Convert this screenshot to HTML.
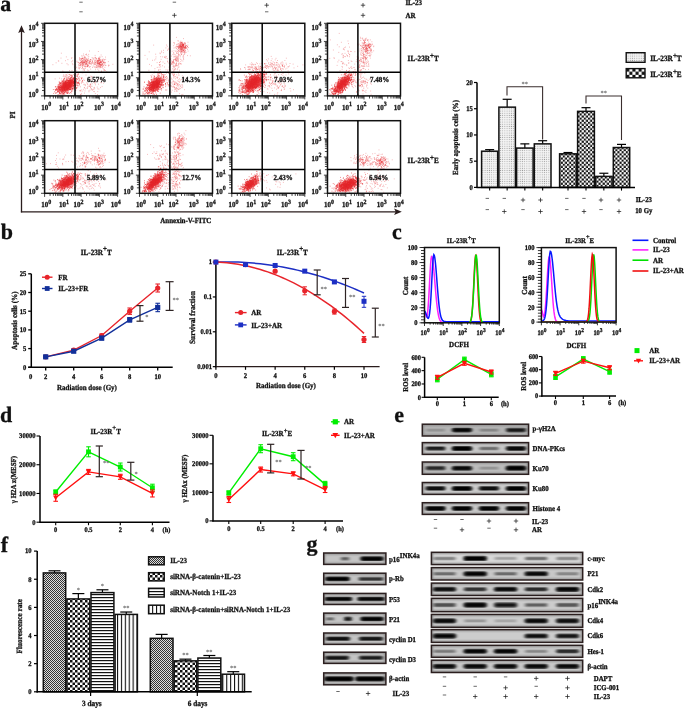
<!DOCTYPE html>
<html><head><meta charset="utf-8"><title>figure</title>
<style>html,body{margin:0;padding:0;background:#fff;} svg{display:block;will-change:transform;} svg text{font-family:"Liberation Serif",serif;font-weight:bold;stroke:#111;stroke-width:0.3px;text-rendering:geometricPrecision;}</style></head>
<body><svg width="685" height="708" viewBox="0 0 685 708">
<defs>
<filter id="bl" x="-50%" y="-50%" width="200%" height="200%"><feGaussianBlur stdDeviation="1.6"/></filter>
<filter id="bb" x="-30%" y="-80%" width="160%" height="260%"><feGaussianBlur stdDeviation="1.6 0.7"/></filter>
<filter id="bv" x="-10%" y="-50%" width="120%" height="200%"><feGaussianBlur stdDeviation="1.2"/></filter>
<pattern id="dots" width="2.2" height="2.2" patternUnits="userSpaceOnUse"><rect width="2.2" height="2.2" fill="#f4f4f4"/><rect x="0.6" y="0.6" width="0.9" height="0.9" fill="#9a9a9a"/></pattern>
<pattern id="chk" width="4.2" height="4.2" patternUnits="userSpaceOnUse"><rect width="4.2" height="4.2" fill="#fff"/><rect width="2.1" height="2.1" fill="#111"/><rect x="2.1" y="2.1" width="2.1" height="2.1" fill="#111"/></pattern>
<pattern id="chkL" x="626.2" y="68.6" width="6.2" height="6.2" patternUnits="userSpaceOnUse"><rect width="6.2" height="6.2" fill="#fff"/><rect width="3.1" height="3.1" fill="#111"/><rect x="3.1" y="3.1" width="3.1" height="3.1" fill="#111"/></pattern>
<pattern id="chk2" width="5" height="5" patternUnits="userSpaceOnUse"><rect width="5" height="5" fill="#fff"/><rect width="2.5" height="2.5" fill="#111"/><rect x="2.5" y="2.5" width="2.5" height="2.5" fill="#111"/></pattern>
<pattern id="fine" width="2" height="2" patternUnits="userSpaceOnUse"><rect width="2" height="2" fill="#ddd"/><rect width="1" height="1" fill="#333"/><rect x="1" y="1" width="1" height="1" fill="#333"/></pattern>
<pattern id="hstr" width="3" height="3" patternUnits="userSpaceOnUse"><rect width="3" height="3" fill="#fff"/><rect y="0" width="3" height="1.2" fill="#111"/></pattern>
<pattern id="vstr" width="3.9" height="3.9" patternUnits="userSpaceOnUse"><rect width="3.9" height="3.9" fill="#fff"/><rect x="0" width="1.1" height="3.9" fill="#111"/></pattern>
</defs>
<text x="0.30" y="10.60" font-size="22" text-anchor="start" fill="#111" >a</text>
<line x1="79.30" y1="2.20" x2="82.70" y2="2.20" stroke="#444" stroke-width="0.8" />
<line x1="79.30" y1="11.80" x2="82.70" y2="11.80" stroke="#444" stroke-width="0.8" />
<line x1="172.70" y1="2.20" x2="176.10" y2="2.20" stroke="#444" stroke-width="0.8" />
<line x1="172.20" y1="15.30" x2="176.60" y2="15.30" stroke="#222" stroke-width="0.75" />
<line x1="174.40" y1="13.10" x2="174.40" y2="17.50" stroke="#222" stroke-width="0.75" />
<line x1="264.50" y1="5.20" x2="268.90" y2="5.20" stroke="#222" stroke-width="0.75" />
<line x1="266.70" y1="3.00" x2="266.70" y2="7.40" stroke="#222" stroke-width="0.75" />
<line x1="265.00" y1="11.80" x2="268.40" y2="11.80" stroke="#444" stroke-width="0.8" />
<line x1="360.80" y1="5.20" x2="365.20" y2="5.20" stroke="#222" stroke-width="0.75" />
<line x1="363.00" y1="3.00" x2="363.00" y2="7.40" stroke="#222" stroke-width="0.75" />
<line x1="360.80" y1="15.30" x2="365.20" y2="15.30" stroke="#222" stroke-width="0.75" />
<line x1="363.00" y1="13.10" x2="363.00" y2="17.50" stroke="#222" stroke-width="0.75" />
<text x="405.40" y="5.40" font-size="7.700000000000001" text-anchor="start" fill="#111"  textLength="16.72" lengthAdjust="spacingAndGlyphs">IL-23</text>
<text x="405.40" y="17.90" font-size="7.700000000000001" text-anchor="start" fill="#111"  textLength="10.11" lengthAdjust="spacingAndGlyphs">AR</text>
<ellipse cx="67.5" cy="85.8" rx="7.5" ry="3.2" transform="rotate(-35 67.5 85.8)" fill="#e3201f" opacity="0.9" filter="url(#bl)"/>
<path d="M67.5 86.7h.01M64.2 84.8h.01M63.1 85.2h.01M69.5 89.0h.01M63.5 86.2h.01M70.0 85.2h.01M66.0 83.4h.01M68.0 87.8h.01M59.6 89.5h.01M55.5 89.5h.01M57.6 91.8h.01M61.2 91.0h.01M67.5 85.0h.01M53.7 93.4h.01M67.0 86.4h.01M58.7 90.1h.01M60.8 87.4h.01M70.9 80.4h.01M68.3 88.2h.01M63.9 87.7h.01M67.6 85.8h.01M61.1 90.4h.01M71.1 77.6h.01M71.4 83.3h.01M67.2 93.0h.01M68.8 80.5h.01M68.3 87.1h.01M67.2 88.3h.01M67.8 87.8h.01M72.9 79.4h.01M67.2 84.2h.01M65.7 82.7h.01M63.8 87.5h.01M73.3 85.6h.01M59.2 88.7h.01M66.9 79.0h.01M64.6 87.4h.01M74.3 83.3h.01M64.8 86.3h.01M68.3 90.5h.01M64.4 86.8h.01M68.5 84.5h.01M64.2 84.0h.01M66.2 85.0h.01M73.8 83.5h.01M68.0 87.7h.01M67.1 89.7h.01M67.9 87.4h.01M61.2 91.3h.01M55.3 87.0h.01M64.0 84.9h.01M71.5 90.8h.01M61.9 87.4h.01M68.8 86.5h.01M65.8 86.1h.01M71.3 84.8h.01M61.8 89.4h.01M65.4 83.4h.01M66.8 83.1h.01M72.1 83.1h.01M66.5 84.3h.01M63.1 81.7h.01M62.0 90.8h.01M59.7 93.8h.01M64.1 90.8h.01M65.1 81.9h.01M75.5 85.1h.01M66.2 85.6h.01M64.6 84.2h.01M71.5 80.9h.01M65.4 84.3h.01M61.8 85.1h.01M72.9 81.3h.01M71.8 82.7h.01M63.0 87.6h.01M64.3 87.9h.01M64.7 86.6h.01M58.9 88.8h.01M74.0 78.7h.01M62.4 90.4h.01M71.5 77.7h.01M64.9 85.2h.01M59.6 93.8h.01M67.0 86.3h.01M64.1 89.7h.01M64.1 87.5h.01M59.5 86.9h.01M72.7 80.2h.01M68.4 84.9h.01M64.0 86.3h.01M69.6 83.1h.01M66.3 86.6h.01M73.9 83.6h.01M67.9 83.3h.01M61.8 93.0h.01M71.5 82.3h.01M71.0 86.0h.01M72.6 85.3h.01M67.3 91.2h.01M62.3 92.3h.01M70.9 86.4h.01M78.7 83.1h.01M58.6 85.9h.01M69.3 80.8h.01M68.3 88.0h.01M55.4 86.6h.01M68.3 85.2h.01M65.9 86.9h.01M60.3 85.4h.01M64.6 84.3h.01M59.8 92.9h.01M67.4 87.2h.01M61.0 87.8h.01M60.6 87.3h.01M66.7 83.5h.01M69.3 85.6h.01M74.6 75.7h.01M71.2 82.7h.01M64.5 82.6h.01M66.0 89.3h.01M66.7 86.5h.01M67.5 89.7h.01M63.2 80.8h.01M60.3 83.7h.01M73.6 81.5h.01M59.7 87.8h.01M72.8 82.5h.01M67.1 85.7h.01M68.5 87.8h.01M70.1 84.6h.01M62.7 90.8h.01M65.5 91.0h.01M60.5 90.0h.01M64.8 82.9h.01M77.9 83.5h.01M66.0 89.4h.01M64.5 78.5h.01M68.1 85.0h.01M65.6 83.2h.01M65.4 86.5h.01M73.4 82.7h.01M69.5 89.7h.01M63.6 87.0h.01M73.3 84.9h.01M70.5 84.0h.01M67.6 84.7h.01M66.1 86.8h.01M75.4 82.1h.01M65.7 84.8h.01M66.5 92.0h.01M69.6 84.4h.01M63.5 84.6h.01M68.1 88.3h.01M64.7 86.8h.01M66.1 87.0h.01M58.8 90.9h.01M64.3 91.0h.01M64.2 90.0h.01M74.0 80.0h.01M64.4 88.5h.01M65.3 83.6h.01M72.6 89.2h.01M65.4 86.4h.01M62.4 90.4h.01M59.0 87.7h.01M71.8 79.4h.01M74.9 85.9h.01M69.2 86.4h.01M76.3 78.8h.01M61.8 84.8h.01M69.7 89.4h.01M70.1 80.5h.01M62.0 87.7h.01M68.1 84.5h.01M68.5 86.0h.01M65.5 86.9h.01M67.9 85.1h.01M72.6 88.7h.01M70.0 84.1h.01M59.4 92.7h.01M55.1 89.4h.01M72.4 84.7h.01M63.4 82.5h.01M64.0 85.7h.01M73.9 89.2h.01M66.8 83.4h.01M61.2 89.9h.01M64.2 83.9h.01M65.7 82.9h.01M74.2 84.7h.01M71.5 81.1h.01M69.3 83.9h.01M64.5 86.5h.01M58.2 87.0h.01M70.6 82.8h.01M69.7 87.6h.01M57.2 90.1h.01M68.5 86.3h.01M66.9 89.7h.01M66.0 82.4h.01M63.8 91.1h.01M66.1 79.9h.01M74.6 82.8h.01M73.0 80.5h.01M63.7 84.3h.01M79.2 76.9h.01M73.7 79.0h.01M65.0 81.5h.01M66.8 89.7h.01M62.6 92.9h.01M66.9 82.4h.01M63.8 86.6h.01M65.9 84.9h.01M62.4 88.1h.01M59.8 86.5h.01M68.2 88.3h.01M59.5 91.3h.01M62.2 85.9h.01M70.3 81.8h.01M73.1 79.0h.01M68.5 84.1h.01M64.3 90.0h.01M67.2 88.0h.01M65.0 83.6h.01M66.6 86.5h.01M70.2 80.5h.01M63.9 82.0h.01M68.4 81.2h.01M58.0 92.1h.01M69.9 78.6h.01M60.4 88.0h.01M62.1 90.8h.01M61.8 87.1h.01M68.6 82.2h.01M67.5 82.2h.01M58.0 85.8h.01M75.6 78.8h.01M68.1 85.1h.01M67.9 85.6h.01M74.7 77.0h.01M57.7 89.0h.01M61.7 92.4h.01M69.4 80.9h.01M59.6 89.9h.01M69.1 74.5h.01M67.8 81.6h.01M70.3 79.9h.01M63.1 83.4h.01M64.5 92.7h.01M70.4 82.2h.01M59.6 84.5h.01M65.0 87.3h.01M66.4 86.1h.01M61.4 89.7h.01M69.0 89.2h.01M75.9 79.3h.01M63.1 88.5h.01M62.8 86.3h.01M65.0 83.7h.01M69.8 83.7h.01M67.9 84.7h.01M61.8 86.3h.01M64.9 85.5h.01M68.1 85.2h.01M60.4 90.8h.01M59.4 89.2h.01M62.1 82.1h.01M67.7 86.0h.01M65.5 85.5h.01M63.5 85.0h.01M64.8 85.6h.01M65.4 82.8h.01M68.4 85.5h.01M65.6 85.4h.01M66.9 80.1h.01M69.7 85.0h.01M69.0 85.9h.01M63.4 87.6h.01M70.8 84.8h.01M65.5 81.7h.01M71.6 86.9h.01M72.4 83.1h.01M60.9 93.6h.01M62.1 80.5h.01M66.4 81.2h.01M59.6 89.0h.01M72.6 80.7h.01M71.2 89.2h.01M74.7 80.3h.01M63.7 83.8h.01M64.3 89.4h.01M69.1 84.9h.01M70.6 80.7h.01M67.9 87.9h.01M71.7 86.5h.01M68.4 83.9h.01M67.1 82.4h.01M59.9 93.0h.01M67.2 86.9h.01M58.0 91.0h.01M62.6 86.0h.01M55.4 93.0h.01M72.0 83.8h.01M64.0 88.0h.01M66.1 76.8h.01M67.3 87.7h.01M73.2 87.7h.01M73.1 82.8h.01M69.8 86.8h.01M64.3 87.8h.01M74.7 87.5h.01M66.1 86.4h.01M70.2 88.5h.01M69.3 89.6h.01M61.9 88.9h.01M67.3 88.6h.01M69.6 78.8h.01M63.1 89.9h.01M61.2 84.7h.01M72.9 83.6h.01M68.6 83.2h.01M71.7 81.9h.01M70.9 80.1h.01M63.1 89.4h.01M64.7 90.0h.01M66.7 82.9h.01M66.8 84.9h.01M70.4 81.3h.01M66.9 90.4h.01M81.3 83.0h.01M67.7 86.3h.01M74.3 80.4h.01M62.4 89.6h.01M67.8 82.5h.01M56.5 88.3h.01M69.0 81.9h.01M66.7 87.0h.01M69.5 83.1h.01M68.0 82.2h.01M63.5 84.8h.01M72.5 82.0h.01M62.8 87.7h.01M67.1 88.4h.01M57.4 89.0h.01M69.4 93.3h.01M71.5 82.4h.01M73.9 88.4h.01M65.2 85.9h.01M73.8 83.0h.01M69.5 82.5h.01M79.3 83.4h.01M70.9 85.7h.01M58.1 94.5h.01M66.8 87.7h.01M69.8 82.8h.01M59.3 92.7h.01M62.8 87.8h.01M63.5 87.3h.01M70.1 87.8h.01M76.8 79.2h.01M56.7 90.1h.01M60.2 89.0h.01M64.1 81.0h.01M66.2 81.2h.01M68.3 84.7h.01M65.3 86.9h.01M63.3 86.4h.01M58.7 91.7h.01M79.4 84.4h.01M74.7 83.1h.01M66.1 91.8h.01M66.6 86.0h.01M65.7 87.2h.01M64.7 87.3h.01M61.0 88.8h.01M78.1 78.0h.01M66.7 88.1h.01M68.6 80.9h.01M67.5 88.9h.01M68.5 85.4h.01M73.5 79.0h.01M66.5 84.5h.01M71.1 76.2h.01M62.8 87.0h.01M71.3 85.2h.01M71.2 77.5h.01M70.2 82.7h.01M64.6 89.6h.01M59.0 84.2h.01M62.7 83.7h.01M64.4 89.1h.01M71.2 88.7h.01M63.5 83.0h.01M61.8 86.4h.01M61.7 91.2h.01M60.5 83.5h.01M70.2 83.3h.01M68.9 85.0h.01M70.2 83.9h.01M73.8 82.8h.01M69.6 85.6h.01M59.6 90.6h.01M66.1 87.4h.01M63.0 94.6h.01M65.5 82.8h.01M58.1 91.2h.01M65.4 84.6h.01M66.4 84.2h.01M68.5 82.4h.01M68.4 88.5h.01M78.0 74.8h.01M63.3 85.6h.01M68.9 80.6h.01M64.6 87.6h.01M60.6 87.1h.01M61.2 82.6h.01M59.2 90.0h.01M67.4 85.0h.01M57.5 91.0h.01M71.8 84.6h.01M65.1 84.2h.01M69.1 82.5h.01M59.9 88.1h.01M74.5 81.5h.01M71.9 80.9h.01M70.6 81.3h.01M70.4 92.4h.01M69.9 82.2h.01M67.1 87.1h.01M72.1 80.7h.01M58.0 91.3h.01M67.3 86.2h.01M74.0 82.2h.01M69.2 80.6h.01M74.8 88.0h.01M71.2 83.9h.01M70.7 89.7h.01M62.3 88.9h.01M70.5 86.2h.01M65.4 88.2h.01M65.8 87.2h.01M64.5 83.7h.01M68.4 88.2h.01M61.8 88.8h.01M68.5 81.2h.01M66.1 82.9h.01M76.4 87.6h.01M76.6 78.5h.01M70.8 83.7h.01M70.1 89.3h.01M62.3 93.0h.01M69.1 89.5h.01M66.8 83.8h.01M69.6 86.8h.01M68.0 87.0h.01M60.9 82.7h.01M72.6 84.6h.01M67.8 85.7h.01M71.3 81.3h.01M63.2 88.0h.01M70.5 78.6h.01M71.8 80.4h.01M63.7 92.8h.01M64.4 83.2h.01M66.8 89.4h.01M72.1 80.9h.01M70.2 86.3h.01M64.4 89.1h.01M66.0 84.8h.01M64.7 87.9h.01M66.2 84.6h.01M66.8 90.1h.01M69.5 87.4h.01M73.9 83.3h.01M76.8 76.2h.01M70.4 82.5h.01M78.9 83.7h.01M55.8 90.4h.01M71.6 85.6h.01M70.5 83.3h.01M70.3 86.0h.01M68.3 88.7h.01M63.5 91.8h.01M64.4 84.7h.01M67.3 82.5h.01M59.9 85.4h.01M67.7 87.3h.01M71.8 82.1h.01M72.2 82.4h.01M67.5 87.7h.01M71.6 81.5h.01M65.5 86.5h.01M65.9 83.6h.01M71.4 81.5h.01M67.9 82.4h.01M69.4 85.7h.01M68.3 92.2h.01M71.8 88.9h.01M70.6 81.1h.01M65.8 88.4h.01M67.4 85.9h.01M62.6 82.7h.01M62.2 81.5h.01M67.6 83.0h.01M63.1 87.9h.01M66.0 81.7h.01M56.6 89.5h.01M55.4 90.7h.01M73.1 78.0h.01M67.9 80.5h.01M67.9 84.2h.01M67.7 87.6h.01M76.0 80.4h.01M66.0 83.3h.01M69.5 83.4h.01M71.0 83.0h.01M72.3 75.3h.01M67.0 89.1h.01M64.0 85.3h.01M63.4 83.6h.01M71.6 91.4h.01M70.8 79.4h.01M62.0 88.0h.01M70.6 80.6h.01M65.1 90.5h.01M70.6 82.1h.01M58.9 86.2h.01M59.9 83.1h.01M69.6 81.9h.01M72.5 88.8h.01M70.9 79.2h.01M73.2 85.8h.01M61.7 86.3h.01M63.8 82.6h.01M70.2 75.2h.01M61.1 89.2h.01M66.2 87.2h.01M68.0 84.6h.01M69.0 77.0h.01M65.8 84.3h.01M68.0 86.1h.01M61.5 87.6h.01M71.5 84.1h.01M67.0 93.2h.01M75.9 74.6h.01M72.7 90.9h.01M71.2 83.8h.01M65.1 85.4h.01M65.0 85.4h.01M70.0 82.5h.01M62.8 84.7h.01M65.3 84.0h.01M67.8 89.1h.01M69.6 85.9h.01M68.8 84.9h.01M65.9 85.7h.01M68.9 80.8h.01M73.6 81.5h.01M62.5 87.4h.01M63.9 88.7h.01M65.4 91.2h.01M59.4 83.3h.01M60.1 83.7h.01M68.6 88.7h.01M68.0 80.6h.01M66.2 92.8h.01M68.6 84.9h.01M76.3 88.2h.01M73.6 81.9h.01M69.8 86.2h.01M62.2 85.6h.01M65.7 83.6h.01M66.9 86.4h.01M77.1 75.9h.01M66.1 86.0h.01M70.9 87.0h.01M63.2 85.7h.01M57.4 89.4h.01M69.7 84.3h.01M61.4 88.6h.01M68.0 87.1h.01M63.7 87.4h.01M56.1 89.5h.01M71.3 75.2h.01M65.7 87.7h.01M63.8 85.4h.01M66.7 86.2h.01M63.5 81.8h.01M64.9 84.5h.01M64.7 88.4h.01M71.6 85.9h.01M66.1 89.9h.01M74.7 84.7h.01M73.6 80.9h.01M67.5 88.6h.01M60.6 91.2h.01M63.8 86.9h.01M57.0 89.9h.01M68.4 88.2h.01M71.7 82.4h.01M64.7 84.7h.01M68.6 84.0h.01M72.9 88.1h.01M64.4 82.6h.01M60.3 85.5h.01M63.3 93.2h.01M65.6 81.6h.01M72.3 86.7h.01M64.1 85.6h.01M65.8 87.8h.01M72.1 86.6h.01M74.9 84.6h.01M74.8 82.9h.01M59.3 91.0h.01M67.9 84.0h.01M70.9 82.0h.01M64.9 92.6h.01M70.6 84.2h.01M73.3 85.3h.01M64.6 79.0h.01M62.9 87.2h.01M62.5 89.9h.01M72.1 80.7h.01M64.8 94.7h.01M62.7 84.6h.01M68.9 86.2h.01M64.8 90.3h.01M63.1 85.5h.01M69.2 87.2h.01M64.4 89.0h.01M71.2 93.0h.01M65.8 91.7h.01M66.5 85.9h.01M72.0 85.6h.01M73.8 82.4h.01M63.2 86.8h.01M70.5 85.6h.01M74.6 82.2h.01M74.7 86.0h.01M65.3 81.9h.01M58.8 86.6h.01M73.4 78.5h.01M74.0 83.2h.01M77.1 82.5h.01M66.2 85.9h.01M67.7 86.1h.01M64.3 87.7h.01M72.1 76.4h.01M66.8 83.0h.01M69.3 87.4h.01M68.0 88.0h.01M61.0 94.1h.01M65.1 89.6h.01M63.6 79.2h.01M63.7 89.1h.01M75.1 81.3h.01M65.9 81.8h.01M77.0 85.4h.01M66.8 85.4h.01M60.5 93.7h.01M81.5 78.4h.01M74.1 82.9h.01M64.4 92.6h.01M60.6 89.7h.01M69.8 87.1h.01M69.7 85.5h.01M61.1 85.6h.01M66.1 84.1h.01M58.5 87.5h.01M61.5 83.3h.01M57.7 86.8h.01M68.6 86.3h.01M74.4 75.5h.01M65.2 90.5h.01M65.4 86.0h.01M74.8 79.3h.01M59.1 86.9h.01M69.2 85.6h.01M58.6 88.4h.01M70.6 85.5h.01M64.9 89.7h.01M66.8 79.8h.01M66.2 88.1h.01M60.6 82.9h.01M66.9 88.8h.01M71.1 75.4h.01M78.0 74.3h.01M73.8 85.6h.01M72.1 83.0h.01M62.3 91.5h.01M59.3 82.5h.01M82.1 77.9h.01M74.4 77.6h.01M76.9 84.7h.01M74.6 80.6h.01M60.8 89.7h.01M53.3 89.5h.01M65.8 83.3h.01M66.0 86.3h.01M78.6 82.4h.01M68.8 89.0h.01M62.6 87.9h.01M69.4 79.9h.01M63.4 83.8h.01M70.3 89.5h.01M63.7 89.1h.01M60.7 86.4h.01M63.3 93.7h.01M79.4 79.0h.01M64.7 90.1h.01M66.7 89.1h.01M68.9 85.7h.01M69.0 82.5h.01M62.1 83.3h.01M62.5 84.1h.01M64.7 84.2h.01M68.3 86.7h.01M58.7 89.0h.01M63.6 91.0h.01M76.8 82.2h.01M67.7 90.7h.01M62.1 94.8h.01M59.2 81.7h.01M82.7 80.6h.01M62.2 90.0h.01M66.1 87.0h.01M58.6 89.5h.01M69.7 84.9h.01M73.0 82.1h.01M77.4 76.2h.01M65.1 80.6h.01M63.1 93.5h.01M63.2 90.5h.01M65.0 83.7h.01M64.4 86.0h.01M65.9 89.5h.01M69.2 82.4h.01M63.0 89.8h.01M68.2 88.8h.01M81.5 78.9h.01M66.5 85.7h.01M61.3 86.8h.01M61.4 88.5h.01M66.1 89.2h.01M64.7 86.9h.01M63.7 94.1h.01M72.5 88.5h.01M73.4 86.8h.01M67.0 88.6h.01M78.3 73.8h.01M75.6 86.0h.01M70.3 86.4h.01M72.2 80.0h.01M67.6 82.5h.01M62.6 86.9h.01M66.5 86.9h.01M66.9 81.0h.01M78.9 81.8h.01M70.0 82.6h.01M67.5 87.6h.01M66.2 80.5h.01M75.7 90.5h.01M68.7 84.4h.01M71.9 78.3h.01M70.3 89.0h.01M65.3 85.7h.01M66.8 84.5h.01M73.3 78.3h.01M69.3 79.9h.01M70.2 83.4h.01M60.8 88.7h.01M72.9 77.8h.01M64.1 93.3h.01M70.2 89.4h.01M67.1 82.7h.01M68.8 89.2h.01M71.8 82.7h.01M67.1 85.6h.01M67.4 92.8h.01M65.1 83.2h.01M65.8 89.5h.01M70.0 83.4h.01M63.7 88.4h.01M56.3 88.7h.01M70.2 82.0h.01M71.0 87.6h.01M70.3 83.8h.01M78.9 80.1h.01M66.5 89.0h.01M67.6 82.5h.01M67.1 85.3h.01M56.8 92.5h.01M64.8 85.9h.01M58.1 91.0h.01M67.0 86.4h.01M62.3 91.6h.01M60.5 89.8h.01M72.4 79.7h.01M66.3 90.4h.01M64.6 86.6h.01M69.9 87.8h.01M54.5 91.8h.01M60.1 86.9h.01M61.3 87.0h.01M67.0 82.8h.01M68.3 86.5h.01M63.5 88.9h.01M75.8 81.0h.01M63.7 88.1h.01M62.9 89.9h.01M69.9 81.0h.01M67.8 89.4h.01M64.8 88.2h.01M60.5 87.6h.01M68.0 93.0h.01M64.1 86.1h.01M64.0 87.5h.01M70.5 84.2h.01M77.5 79.4h.01M74.6 81.7h.01M67.6 80.5h.01M66.3 86.3h.01M62.2 81.7h.01M70.7 82.0h.01M64.4 86.9h.01M66.6 87.8h.01M59.2 88.2h.01M68.7 85.3h.01M64.2 85.9h.01M62.8 88.7h.01M71.0 79.4h.01M75.9 82.8h.01M66.1 89.4h.01M56.9 86.9h.01M60.0 89.5h.01M64.5 85.9h.01M63.9 80.6h.01M67.1 80.9h.01M63.1 87.3h.01M59.0 86.7h.01M62.0 89.4h.01M70.8 85.3h.01M60.8 87.5h.01M63.2 90.2h.01M63.3 85.8h.01M70.4 87.3h.01M70.4 87.3h.01M69.7 88.5h.01M73.0 81.5h.01M74.3 81.4h.01M65.9 83.5h.01M66.9 88.8h.01M61.6 92.1h.01M69.2 85.5h.01M56.0 93.3h.01M68.9 82.0h.01M63.5 80.0h.01M69.2 82.1h.01M68.2 78.6h.01M70.0 83.1h.01M69.4 81.0h.01M67.7 93.5h.01M61.7 87.2h.01M63.9 84.5h.01M75.7 86.0h.01M60.7 84.3h.01M74.6 84.6h.01M73.0 85.9h.01M62.5 88.6h.01M57.8 87.4h.01M70.7 81.0h.01M78.3 78.3h.01M65.2 90.1h.01M76.7 81.0h.01M61.6 91.1h.01M72.9 80.1h.01M64.9 91.1h.01M65.9 82.9h.01M63.9 85.5h.01M68.6 85.2h.01M73.8 83.7h.01M60.0 92.3h.01M72.2 84.0h.01M71.1 81.1h.01M63.9 91.5h.01M58.2 84.5h.01M70.8 80.8h.01M63.2 83.7h.01M58.6 87.8h.01M65.8 88.1h.01M59.4 87.5h.01" stroke="#e4262b" stroke-width="0.9" stroke-linecap="round" fill="none" opacity="0.7"/>
<path d="M86.4 62.3h.01M78.6 68.0h.01M81.0 63.2h.01M84.7 66.7h.01M82.4 65.5h.01M81.4 65.9h.01M81.3 61.4h.01M90.6 63.5h.01M84.4 69.2h.01M85.3 60.1h.01M86.6 59.0h.01M87.9 66.1h.01M82.0 60.6h.01M84.6 62.5h.01M80.6 64.2h.01M76.9 61.2h.01M82.6 61.7h.01M85.1 58.8h.01M86.1 62.0h.01M81.7 58.4h.01M79.9 63.6h.01M80.6 62.7h.01M87.7 65.6h.01M89.5 61.6h.01M80.2 65.6h.01M85.1 65.9h.01M84.0 66.1h.01M87.0 64.6h.01M85.8 63.7h.01M84.8 63.2h.01M87.5 61.0h.01M90.1 62.2h.01M87.4 62.2h.01M83.1 68.6h.01M82.9 58.7h.01M81.5 61.5h.01M91.5 63.1h.01M87.3 59.5h.01M85.2 64.5h.01M90.3 60.4h.01M86.1 63.4h.01M80.4 62.4h.01M83.1 55.5h.01M86.1 64.1h.01M82.5 58.5h.01M89.2 63.3h.01M87.6 66.7h.01M82.2 64.9h.01M83.2 62.3h.01M83.7 62.5h.01M87.9 62.9h.01M83.5 61.7h.01M85.2 59.8h.01M82.2 62.3h.01M82.0 62.1h.01M81.9 68.5h.01M88.7 63.8h.01M83.8 69.1h.01M85.1 62.2h.01M85.1 63.4h.01M88.9 62.4h.01M91.3 59.9h.01M86.4 59.5h.01M90.4 61.5h.01M83.8 65.3h.01M88.4 59.2h.01M82.8 58.3h.01M84.5 62.2h.01M82.8 60.4h.01M82.6 60.3h.01M85.9 67.0h.01M77.2 62.2h.01M82.5 64.0h.01M80.7 62.1h.01M80.4 64.6h.01M84.3 62.0h.01M85.3 61.8h.01M78.6 64.3h.01M85.0 62.0h.01M87.4 66.2h.01M80.2 60.2h.01M89.4 66.8h.01M81.4 59.0h.01M81.8 61.0h.01M78.5 62.6h.01M79.5 58.9h.01M87.2 60.5h.01M83.7 64.4h.01M86.8 61.5h.01M84.2 60.0h.01M90.1 64.4h.01M80.1 62.5h.01M86.5 63.9h.01M90.4 66.6h.01M82.1 62.2h.01M79.5 63.2h.01M84.5 70.6h.01M84.3 56.2h.01M81.6 62.8h.01M79.6 59.9h.01M82.7 63.5h.01M83.4 59.8h.01M86.8 60.9h.01M82.3 58.4h.01M81.2 64.5h.01M78.3 62.3h.01M86.5 61.4h.01M84.8 59.1h.01M88.6 65.8h.01M84.8 57.2h.01M80.3 65.4h.01M90.0 63.4h.01M88.4 60.7h.01M83.3 62.5h.01M85.5 57.9h.01M87.3 66.5h.01M80.0 58.4h.01M85.2 60.5h.01M75.7 64.9h.01M84.5 61.1h.01M91.4 62.9h.01M81.4 62.8h.01M80.4 60.2h.01M85.4 60.8h.01M82.4 67.5h.01M87.0 64.9h.01M85.9 64.0h.01M89.1 62.4h.01M90.5 59.6h.01M83.1 58.4h.01M82.8 64.1h.01M89.1 60.5h.01M84.0 61.4h.01M81.4 58.9h.01M84.2 57.3h.01M84.4 62.6h.01M81.7 59.5h.01M79.2 68.1h.01M79.3 67.2h.01M86.1 61.4h.01M80.0 65.6h.01M90.1 59.7h.01M83.0 65.7h.01M85.2 68.5h.01M82.0 64.1h.01M79.6 68.8h.01M81.4 55.9h.01M83.6 62.1h.01M90.7 61.5h.01M84.0 64.3h.01M89.6 62.3h.01M87.6 64.1h.01M83.0 62.7h.01M84.1 59.8h.01M88.2 58.3h.01M88.1 65.4h.01M83.7 60.2h.01M83.2 63.9h.01M86.6 63.4h.01M87.5 60.8h.01M84.8 57.8h.01M86.7 63.0h.01M82.5 66.0h.01M86.4 54.1h.01M84.1 58.1h.01M87.7 70.0h.01M82.2 62.7h.01M83.1 63.6h.01M86.3 66.4h.01M80.5 67.2h.01M97.2 64.1h.01M103.5 65.5h.01M97.2 61.0h.01M98.6 63.0h.01M103.4 59.1h.01M101.4 65.2h.01M101.7 64.7h.01M104.6 64.8h.01M102.6 65.0h.01M105.4 57.1h.01M103.8 62.4h.01M99.2 60.1h.01M94.4 62.0h.01M97.9 64.8h.01M95.6 67.8h.01M100.8 62.4h.01M97.9 60.7h.01M96.6 61.5h.01M100.0 62.6h.01M95.8 62.3h.01M97.3 63.7h.01M105.6 65.2h.01M99.1 58.0h.01M95.8 57.8h.01M102.2 60.8h.01M100.2 61.2h.01M100.3 67.7h.01M97.9 62.1h.01M97.6 66.0h.01M96.9 59.6h.01M95.8 58.7h.01M101.4 71.4h.01M97.0 66.2h.01M100.8 59.7h.01M99.2 62.5h.01M97.9 69.4h.01M94.3 64.4h.01M101.0 61.3h.01M100.4 66.0h.01M100.5 64.5h.01M102.1 56.7h.01M104.4 70.5h.01M102.9 66.4h.01M95.8 62.8h.01M97.6 61.3h.01M102.9 60.6h.01M99.6 57.1h.01M99.5 63.5h.01M97.9 60.9h.01M105.7 59.3h.01M96.8 60.6h.01M103.6 69.9h.01M101.0 60.9h.01M98.7 66.6h.01M97.3 67.8h.01M104.2 63.4h.01M101.9 65.6h.01M104.7 59.8h.01M103.5 62.0h.01M97.7 63.5h.01M99.4 60.0h.01M95.2 60.2h.01M104.4 69.5h.01M102.0 67.0h.01M98.4 63.0h.01M100.8 59.7h.01M97.0 63.5h.01M99.0 59.8h.01M101.2 62.4h.01M103.1 63.2h.01M99.1 63.6h.01M99.5 61.1h.01M98.8 65.6h.01M101.9 67.3h.01M94.9 61.9h.01M98.8 63.7h.01M98.6 61.6h.01M102.3 63.8h.01M96.5 67.5h.01M103.0 61.4h.01M102.5 60.8h.01M103.4 62.5h.01M97.6 62.0h.01M97.7 63.8h.01M100.5 63.3h.01M98.3 51.5h.01M100.3 57.1h.01M100.7 66.8h.01M100.8 62.0h.01M99.5 62.8h.01M98.4 61.3h.01M97.2 67.0h.01M100.0 66.3h.01M99.2 63.4h.01M99.5 64.7h.01M102.5 64.0h.01M98.0 60.7h.01M105.0 62.3h.01M99.1 67.9h.01M103.3 64.9h.01M98.8 70.7h.01M101.2 65.0h.01M99.5 58.7h.01M96.0 64.5h.01M101.2 62.4h.01M96.5 58.6h.01M99.0 58.5h.01M102.7 66.9h.01M108.5 66.0h.01M98.2 60.4h.01M89.6 61.3h.01M99.5 66.3h.01M101.8 65.1h.01M100.6 65.3h.01M104.3 59.8h.01M98.6 58.8h.01M104.9 67.3h.01M102.3 59.4h.01M100.5 62.4h.01M100.2 62.6h.01M101.6 61.9h.01M102.6 64.0h.01M99.1 62.8h.01M98.7 65.8h.01M99.2 64.1h.01M98.8 58.4h.01M102.7 59.8h.01M102.0 64.5h.01M95.0 60.2h.01M98.5 60.6h.01M96.5 65.6h.01M99.3 64.4h.01M98.7 64.2h.01M97.7 63.1h.01M101.7 63.3h.01M98.6 59.7h.01M100.5 64.3h.01M99.2 60.7h.01M101.6 71.1h.01M99.1 64.3h.01M101.1 55.0h.01M100.4 60.9h.01M104.2 62.4h.01M97.7 62.5h.01M100.5 61.4h.01M99.8 58.9h.01M99.3 65.7h.01M105.9 65.5h.01M100.8 67.0h.01M103.1 68.5h.01M100.7 62.5h.01M94.1 63.7h.01M94.4 63.8h.01M85.7 54.6h.01M86.6 54.9h.01M92.5 63.0h.01M78.6 65.8h.01M98.9 63.4h.01M105.3 70.5h.01M82.4 67.1h.01M95.5 64.7h.01M99.5 60.1h.01M87.3 59.7h.01M86.0 62.6h.01M80.4 58.8h.01M96.6 62.7h.01M95.1 55.4h.01M85.7 60.8h.01M92.3 60.7h.01M99.5 62.8h.01M92.1 63.1h.01M97.7 61.1h.01M101.0 64.8h.01M93.2 63.2h.01M96.2 67.1h.01M99.6 64.5h.01M99.0 63.5h.01M102.0 62.9h.01M75.4 68.4h.01M92.9 58.3h.01M90.4 59.5h.01M108.8 65.0h.01M79.5 65.2h.01M88.8 70.7h.01M83.6 54.0h.01M92.5 61.6h.01M88.7 54.4h.01M95.4 69.7h.01M76.7 67.7h.01M87.5 72.4h.01M95.5 62.2h.01M100.8 65.1h.01M87.3 65.8h.01M87.9 55.8h.01M108.3 61.6h.01M87.1 64.4h.01M79.5 57.6h.01M88.0 60.9h.01M92.6 67.5h.01M88.2 65.0h.01M96.8 58.7h.01M93.8 59.2h.01M100.5 64.8h.01M92.1 57.6h.01M92.9 59.9h.01M97.6 62.5h.01M85.5 66.7h.01M97.8 60.6h.01M101.3 61.8h.01M89.5 63.5h.01M86.0 61.2h.01M90.7 69.1h.01M104.0 62.0h.01M104.9 62.8h.01M95.0 66.5h.01M94.3 72.7h.01M93.9 58.2h.01M102.4 61.4h.01M89.6 51.0h.01M100.0 66.3h.01M98.4 66.9h.01M105.5 62.8h.01M99.5 60.0h.01M89.2 67.2h.01M95.1 57.7h.01M94.9 62.3h.01M85.5 64.7h.01M88.8 56.7h.01M83.1 70.1h.01M79.9 63.9h.01M96.9 65.6h.01M82.2 61.7h.01M93.1 66.2h.01M86.8 58.3h.01M100.0 67.4h.01M95.0 60.6h.01M95.3 63.4h.01M98.7 58.0h.01M92.9 62.4h.01M83.1 63.9h.01M92.3 61.4h.01M95.2 57.3h.01M91.6 64.7h.01M94.3 67.3h.01M82.4 57.0h.01M93.9 64.8h.01M109.0 65.5h.01M85.0 66.2h.01M85.2 57.1h.01M112.9 64.3h.01M91.7 89.1h.01M100.5 87.6h.01M95.7 80.3h.01M74.9 93.8h.01M97.8 88.8h.01M87.8 86.9h.01M80.5 94.5h.01M91.3 88.8h.01M89.0 91.8h.01M90.0 90.1h.01M76.6 88.8h.01M103.5 83.1h.01M85.0 90.9h.01M93.7 89.4h.01M73.1 88.8h.01M76.5 81.5h.01M90.4 84.4h.01M92.2 90.0h.01M78.8 82.5h.01M77.5 83.1h.01M77.3 82.4h.01M84.3 80.5h.01M74.6 78.5h.01M89.6 86.3h.01M94.2 91.7h.01M83.3 89.7h.01M95.6 84.8h.01M76.7 88.1h.01M71.0 81.7h.01M92.0 86.4h.01M82.1 91.2h.01M77.7 87.6h.01M82.0 81.3h.01M89.7 80.5h.01M101.2 82.8h.01M101.9 80.0h.01M90.8 79.4h.01M75.3 86.9h.01M91.4 79.0h.01M95.5 81.6h.01M87.0 88.1h.01M90.8 76.1h.01M98.9 89.1h.01M82.6 80.4h.01M72.4 78.5h.01M90.4 84.1h.01M76.9 83.1h.01M98.5 84.2h.01M81.3 93.4h.01M89.7 86.2h.01M81.1 77.5h.01M76.6 83.4h.01M84.2 88.0h.01M90.4 87.2h.01M87.8 80.5h.01M68.8 83.1h.01M78.4 82.4h.01M83.8 79.2h.01M77.1 85.4h.01M86.9 82.4h.01M90.0 84.8h.01M77.8 86.2h.01M101.1 82.3h.01M95.3 93.6h.01M98.0 81.5h.01M102.1 86.6h.01M84.0 84.7h.01M90.8 86.3h.01M84.6 93.1h.01M80.2 80.3h.01M92.3 89.9h.01M94.8 80.1h.01M94.7 88.7h.01M100.1 79.1h.01M87.7 84.5h.01M73.3 82.1h.01M95.0 83.4h.01M80.2 90.8h.01M93.9 91.4h.01M79.7 85.7h.01M94.2 82.4h.01M80.0 90.6h.01M98.5 79.7h.01M65.2 78.0h.01M77.9 85.2h.01M90.9 85.2h.01M80.4 86.8h.01M78.3 85.7h.01M92.5 81.4h.01M78.0 83.6h.01M72.8 82.0h.01M80.1 90.9h.01M82.6 81.7h.01M75.3 79.5h.01M85.5 84.8h.01M95.1 82.5h.01M94.5 87.4h.01M86.0 75.0h.01M75.7 90.1h.01M97.2 87.1h.01M92.1 83.8h.01M83.0 82.4h.01M93.8 87.9h.01M84.1 84.2h.01M90.5 87.8h.01M88.1 86.1h.01M97.8 91.6h.01M85.3 88.9h.01M77.4 82.5h.01M67.9 92.7h.01M70.8 89.7h.01M79.4 80.6h.01M84.4 87.5h.01M88.9 90.8h.01M81.2 89.9h.01M87.2 83.5h.01M85.2 85.7h.01M87.5 88.2h.01M81.9 81.9h.01M92.0 76.7h.01M81.1 94.5h.01M64.3 82.2h.01M91.5 76.9h.01M106.8 71.8h.01M97.5 94.6h.01M72.3 63.7h.01M67.9 59.6h.01M71.5 58.3h.01M62.8 71.0h.01M56.1 62.8h.01M66.3 56.9h.01M74.3 67.0h.01M52.9 64.7h.01M58.8 61.1h.01M65.6 60.7h.01M72.7 60.8h.01M72.9 64.7h.01M71.8 61.8h.01M61.0 58.1h.01M69.6 70.6h.01M82.0 72.7h.01M67.0 63.7h.01M68.1 64.8h.01M76.7 70.7h.01M58.3 60.9h.01M75.9 66.8h.01M63.1 72.1h.01M61.9 63.3h.01M61.3 53.2h.01M71.9 57.7h.01M63.9 79.5h.01M70.6 77.5h.01M63.7 74.8h.01M63.9 75.8h.01M70.1 80.1h.01M73.2 86.3h.01M71.6 80.1h.01M68.0 79.0h.01M74.5 80.3h.01M65.7 87.4h.01M72.4 81.3h.01M66.6 74.7h.01M68.2 89.4h.01M65.3 74.8h.01M68.4 77.8h.01M55.1 78.9h.01M62.6 86.0h.01M67.2 79.4h.01M70.6 80.9h.01M59.2 85.8h.01M61.7 78.9h.01M65.6 81.4h.01M63.2 76.4h.01M71.3 87.7h.01M59.6 78.2h.01M70.6 80.9h.01M66.9 75.1h.01M69.8 74.4h.01M62.1 81.8h.01M69.4 82.5h.01M70.3 77.9h.01M71.8 77.3h.01M67.8 72.8h.01M64.0 87.4h.01M61.9 83.5h.01M66.4 78.8h.01M69.8 85.7h.01M60.6 90.8h.01M76.9 72.7h.01M69.8 82.3h.01M72.0 70.5h.01M67.9 79.1h.01M70.6 78.7h.01M69.4 76.6h.01M66.5 77.8h.01M65.1 81.7h.01M64.4 76.9h.01M73.7 74.5h.01M65.5 87.8h.01M66.4 84.0h.01M68.6 80.8h.01M67.2 77.7h.01M73.4 86.1h.01M59.6 87.4h.01M67.0 75.4h.01M68.3 91.0h.01M71.9 87.6h.01M70.2 78.5h.01M71.5 80.4h.01M73.6 77.5h.01M69.0 80.1h.01M75.3 78.2h.01M62.5 81.3h.01M67.7 77.0h.01M64.1 78.3h.01M68.1 82.1h.01M71.8 76.8h.01M75.8 73.1h.01M82.8 72.8h.01M68.6 76.9h.01M56.8 88.6h.01M73.6 85.3h.01M67.6 90.3h.01M68.9 83.0h.01M58.6 88.6h.01M68.4 83.2h.01M65.4 76.2h.01M73.4 79.1h.01M72.9 81.2h.01M72.2 76.4h.01" stroke="#e4262b" stroke-width="0.9" stroke-linecap="round" fill="none" opacity="0.42"/>
<path d="M41.00 95.90H44.60M42.00 90.44H44.60M42.00 87.24H44.60M42.00 84.97H44.60M42.00 83.21H44.60M42.00 81.78H44.60M42.00 80.56H44.60M42.00 79.51H44.60M42.00 78.58H44.60M41.00 77.75H44.60M42.00 72.29H44.60M42.00 69.09H44.60M42.00 66.82H44.60M42.00 65.06H44.60M42.00 63.63H44.60M42.00 62.41H44.60M42.00 61.36H44.60M42.00 60.43H44.60M41.00 59.60H44.60M42.00 54.14H44.60M42.00 50.94H44.60M42.00 48.67H44.60M42.00 46.91H44.60M42.00 45.48H44.60M42.00 44.26H44.60M42.00 43.21H44.60M42.00 42.28H44.60M41.00 41.45H44.60M42.00 35.99H44.60M42.00 32.79H44.60M42.00 30.52H44.60M42.00 28.76H44.60M42.00 27.33H44.60M42.00 26.11H44.60M42.00 25.06H44.60M42.00 24.13H44.60M41.10 23.30H44.60M44.60 95.90V99.50M50.09 95.90V98.50M53.31 95.90V98.50M55.59 95.90V98.50M57.36 95.90V98.50M58.80 95.90V98.50M60.02 95.90V98.50M61.08 95.90V98.50M62.01 95.90V98.50M62.85 95.90V99.50M68.34 95.90V98.50M71.56 95.90V98.50M73.84 95.90V98.50M75.61 95.90V98.50M77.05 95.90V98.50M78.27 95.90V98.50M79.33 95.90V98.50M80.26 95.90V98.50M81.10 95.90V99.50M86.59 95.90V98.50M89.81 95.90V98.50M92.09 95.90V98.50M93.86 95.90V98.50M95.30 95.90V98.50M96.52 95.90V98.50M97.58 95.90V98.50M98.51 95.90V98.50M99.35 95.90V99.50M104.84 95.90V98.50M108.06 95.90V98.50M110.34 95.90V98.50M112.11 95.90V98.50M113.55 95.90V98.50M114.77 95.90V98.50M115.83 95.90V98.50M116.76 95.90V98.50M117.60 95.90V99.40" stroke="#222" stroke-width="0.85" fill="none"/>
<text x="28.60" y="29.80" font-size="7.70" text-anchor="start" fill="#222" textLength="9.97" lengthAdjust="spacingAndGlyphs">10<tspan dy="-3.50" font-size="6.55">4</tspan></text>
<text x="28.60" y="46.80" font-size="7.70" text-anchor="start" fill="#222" textLength="9.97" lengthAdjust="spacingAndGlyphs">10<tspan dy="-3.50" font-size="6.55">3</tspan></text>
<text x="28.60" y="63.30" font-size="7.70" text-anchor="start" fill="#222" textLength="9.97" lengthAdjust="spacingAndGlyphs">10<tspan dy="-3.50" font-size="6.55">2</tspan></text>
<text x="28.60" y="79.80" font-size="7.70" text-anchor="start" fill="#222" textLength="9.97" lengthAdjust="spacingAndGlyphs">10<tspan dy="-3.50" font-size="6.55">1</tspan></text>
<text x="28.60" y="96.50" font-size="7.70" text-anchor="start" fill="#222" textLength="9.97" lengthAdjust="spacingAndGlyphs">10<tspan dy="-3.50" font-size="6.55">0</tspan></text>
<text x="41.20" y="109.70" font-size="7.70" text-anchor="start" fill="#222" textLength="9.97" lengthAdjust="spacingAndGlyphs">10<tspan dy="-3.50" font-size="6.55">0</tspan></text>
<text x="59.00" y="109.70" font-size="7.70" text-anchor="start" fill="#222" textLength="9.97" lengthAdjust="spacingAndGlyphs">10<tspan dy="-3.50" font-size="6.55">1</tspan></text>
<text x="73.60" y="109.70" font-size="7.70" text-anchor="start" fill="#222" textLength="9.97" lengthAdjust="spacingAndGlyphs">10<tspan dy="-3.50" font-size="6.55">2</tspan></text>
<text x="93.90" y="109.70" font-size="7.70" text-anchor="start" fill="#222" textLength="9.97" lengthAdjust="spacingAndGlyphs">10<tspan dy="-3.50" font-size="6.55">3</tspan></text>
<text x="110.80" y="109.70" font-size="7.70" text-anchor="start" fill="#222" textLength="9.97" lengthAdjust="spacingAndGlyphs">10<tspan dy="-3.50" font-size="6.55">4</tspan></text>
<rect x="44.60" y="23.30" width="73.00" height="72.60" fill="none" stroke="#111" stroke-width="1.5" />
<line x1="75.00" y1="23.30" x2="75.00" y2="95.90" stroke="#000" stroke-width="1.5" />
<line x1="44.60" y1="72.20" x2="117.60" y2="72.20" stroke="#000" stroke-width="1.5" />
<ellipse cx="155.0" cy="85.0" rx="6.5" ry="3.2" transform="rotate(-45 155.0 85.0)" fill="#e3201f" opacity="0.85" filter="url(#bl)"/>
<path d="M146.8 87.3h.01M161.8 81.3h.01M154.5 83.7h.01M155.2 84.9h.01M152.2 84.8h.01M163.9 77.1h.01M149.9 84.6h.01M153.7 89.3h.01M157.5 81.6h.01M154.6 84.2h.01M153.5 92.1h.01M161.7 88.8h.01M151.8 87.6h.01M157.9 81.0h.01M147.6 88.4h.01M156.1 85.3h.01M156.8 87.5h.01M159.5 81.8h.01M154.6 84.4h.01M159.1 84.8h.01M156.2 85.7h.01M150.7 83.3h.01M152.7 90.5h.01M160.1 86.6h.01M157.1 86.6h.01M162.3 82.0h.01M152.2 87.0h.01M153.4 82.4h.01M159.0 85.3h.01M157.3 91.1h.01M153.4 85.7h.01M152.6 84.4h.01M156.7 83.4h.01M162.7 79.8h.01M156.6 82.4h.01M149.3 90.3h.01M153.7 90.3h.01M158.4 88.7h.01M159.6 83.9h.01M156.3 84.5h.01M159.5 84.4h.01M153.3 88.8h.01M165.0 74.6h.01M152.5 84.5h.01M151.9 93.2h.01M155.9 85.4h.01M167.5 83.1h.01M153.8 90.7h.01M158.3 83.4h.01M156.8 83.1h.01M162.5 80.1h.01M159.0 86.3h.01M159.5 82.5h.01M160.0 87.4h.01M156.8 82.8h.01M151.0 87.6h.01M151.2 89.3h.01M151.7 79.6h.01M156.5 86.3h.01M153.6 82.3h.01M158.5 78.6h.01M147.9 87.5h.01M157.0 87.1h.01M160.0 80.9h.01M149.0 88.2h.01M151.1 88.1h.01M148.3 92.1h.01M157.2 82.2h.01M154.8 81.2h.01M148.0 89.3h.01M161.7 82.7h.01M155.8 89.3h.01M156.9 89.5h.01M155.9 82.2h.01M156.5 80.3h.01M148.3 85.6h.01M155.9 83.9h.01M153.8 84.4h.01M159.7 78.5h.01M154.8 90.5h.01M161.2 80.2h.01M147.0 90.5h.01M157.4 82.7h.01M158.1 76.1h.01M156.3 81.0h.01M160.0 79.7h.01M157.6 79.6h.01M147.2 88.1h.01M150.5 85.2h.01M162.5 83.2h.01M153.9 81.7h.01M153.1 84.0h.01M161.3 80.0h.01M156.1 82.2h.01M145.5 91.2h.01M151.4 90.1h.01M153.7 82.9h.01M156.8 89.8h.01M149.3 86.8h.01M152.6 84.4h.01M154.5 87.8h.01M158.0 74.5h.01M155.0 85.2h.01M154.3 84.9h.01M155.8 88.5h.01M152.9 86.5h.01M155.2 85.2h.01M156.5 87.8h.01M155.3 85.4h.01M152.7 83.1h.01M149.5 86.0h.01M154.2 82.7h.01M151.4 89.6h.01M153.3 79.2h.01M161.6 78.5h.01M156.9 87.7h.01M154.0 83.4h.01M161.3 74.2h.01M156.4 87.2h.01M150.6 88.9h.01M161.6 88.6h.01M151.4 88.4h.01M157.7 82.6h.01M151.2 90.5h.01M156.4 85.5h.01M161.5 82.7h.01M157.2 84.1h.01M150.4 89.0h.01M155.0 83.3h.01M153.6 82.9h.01M165.5 83.6h.01M154.3 87.4h.01M156.8 88.6h.01M156.9 83.5h.01M154.4 86.1h.01M152.5 90.3h.01M153.4 88.9h.01M157.8 86.8h.01M157.1 87.2h.01M152.7 89.9h.01M154.5 86.3h.01M157.3 86.7h.01M147.8 93.5h.01M151.7 93.4h.01M145.2 90.5h.01M150.2 90.3h.01M149.1 83.3h.01M155.1 87.7h.01M156.3 87.7h.01M153.6 86.4h.01M154.2 87.2h.01M163.2 78.4h.01M154.4 82.9h.01M155.2 91.0h.01M148.7 87.4h.01M153.7 84.5h.01M157.6 72.4h.01M157.9 85.1h.01M149.3 88.0h.01M160.1 86.8h.01M148.1 85.2h.01M162.0 84.5h.01M149.0 81.6h.01M160.2 78.9h.01M159.3 80.5h.01M152.6 85.5h.01M163.8 82.3h.01M144.7 91.3h.01M161.1 77.3h.01M149.7 90.3h.01M154.4 85.2h.01M152.5 86.2h.01M153.9 87.5h.01M151.2 87.5h.01M157.2 88.3h.01M156.2 83.3h.01M157.9 83.8h.01M160.3 81.8h.01M164.8 80.9h.01M154.0 84.3h.01M159.5 82.7h.01M151.5 82.2h.01M148.6 92.9h.01M159.7 83.7h.01M152.2 92.2h.01M153.7 87.9h.01M154.9 81.7h.01M148.3 82.9h.01M147.6 84.7h.01M156.8 83.4h.01M159.3 82.2h.01M153.3 88.2h.01M154.8 87.8h.01M154.1 81.7h.01M155.1 85.1h.01M155.7 88.1h.01M160.9 77.6h.01M148.9 81.6h.01M153.6 84.6h.01M147.2 94.0h.01M155.7 81.1h.01M151.5 84.4h.01M154.7 78.8h.01M157.9 90.4h.01M156.2 85.8h.01M151.9 83.1h.01M155.7 86.0h.01M151.7 89.7h.01M162.1 82.4h.01M146.8 89.1h.01M151.0 93.5h.01M158.9 84.1h.01M149.1 85.9h.01M155.5 84.9h.01M152.0 88.6h.01M158.0 83.0h.01M146.5 84.6h.01M154.3 86.4h.01M153.1 85.1h.01M153.8 89.2h.01M155.1 85.5h.01M149.9 87.5h.01M153.5 82.2h.01M149.4 89.2h.01M160.1 80.7h.01M160.4 79.0h.01M150.8 83.3h.01M155.8 90.3h.01M157.8 85.3h.01M157.7 82.2h.01M154.5 86.0h.01M158.6 83.4h.01M157.2 83.4h.01M151.5 87.4h.01M153.5 90.8h.01M146.4 92.7h.01M163.6 75.0h.01M150.5 89.4h.01M159.7 79.6h.01M157.6 82.8h.01M160.2 93.1h.01M154.1 83.6h.01M153.9 87.7h.01M158.2 85.0h.01M152.5 81.4h.01M156.4 82.3h.01M150.7 83.0h.01M151.2 85.7h.01M151.8 82.1h.01M155.5 85.1h.01M149.3 88.0h.01M153.6 90.3h.01M144.4 94.1h.01M147.6 90.5h.01M157.0 80.4h.01M153.7 82.7h.01M164.5 79.4h.01M156.6 77.8h.01M153.0 91.6h.01M153.7 85.2h.01M153.6 81.0h.01M158.0 82.0h.01M155.4 81.7h.01M155.5 81.5h.01M161.1 83.7h.01M159.6 82.5h.01M151.7 76.8h.01M157.7 81.2h.01M154.8 84.0h.01M148.4 89.3h.01M160.6 85.4h.01M150.7 85.5h.01M158.8 77.5h.01M163.2 77.0h.01M153.7 90.5h.01M158.5 75.4h.01M160.5 78.3h.01M160.0 78.4h.01M149.9 92.2h.01M163.0 85.8h.01M163.2 79.8h.01M153.0 84.8h.01M152.1 84.4h.01M148.5 80.7h.01M155.6 84.2h.01M166.6 76.6h.01M154.3 88.1h.01M149.0 88.5h.01M154.8 80.2h.01M156.8 87.3h.01M157.7 83.9h.01M150.3 87.0h.01M157.3 86.6h.01M149.4 85.8h.01M157.5 78.6h.01M159.7 81.3h.01M162.1 85.3h.01M159.3 84.0h.01M150.0 87.1h.01M160.8 85.8h.01M165.3 84.5h.01M156.6 84.2h.01M159.0 81.1h.01M152.5 83.0h.01M156.6 78.9h.01M154.0 80.0h.01M157.1 78.6h.01M154.9 78.3h.01M155.8 89.2h.01M152.0 88.3h.01M148.2 82.0h.01M157.1 84.7h.01M151.9 90.5h.01M149.8 86.0h.01M153.6 83.5h.01M160.6 72.8h.01M160.0 84.2h.01M143.6 89.0h.01M156.2 81.8h.01M158.9 85.9h.01M151.3 84.2h.01M152.1 89.3h.01M153.0 81.2h.01M164.0 80.6h.01M155.8 79.2h.01M152.3 85.4h.01M151.0 84.2h.01M157.2 83.8h.01M155.3 82.5h.01M160.4 80.4h.01M143.0 94.3h.01M156.8 87.3h.01M153.3 85.6h.01M153.8 89.0h.01M152.0 85.5h.01M153.3 89.1h.01M149.4 83.5h.01M155.9 81.1h.01M157.2 84.4h.01M161.9 82.5h.01M152.4 86.9h.01M153.5 93.6h.01M159.7 86.2h.01M149.4 81.9h.01M161.2 79.2h.01M155.6 84.6h.01M158.6 83.6h.01M151.1 93.5h.01M152.0 86.1h.01M163.7 80.2h.01M149.7 82.4h.01M156.8 85.5h.01M152.0 82.7h.01M149.3 85.4h.01M157.6 85.9h.01M157.4 79.5h.01M157.1 85.3h.01M152.7 86.7h.01M163.7 77.2h.01M157.5 80.6h.01M151.5 81.2h.01M157.4 87.6h.01M165.7 79.4h.01M157.8 82.4h.01M152.3 87.0h.01M155.7 81.0h.01M156.5 79.3h.01M145.9 89.8h.01M145.6 88.6h.01M159.0 80.2h.01M158.3 86.6h.01M158.8 79.0h.01M161.0 80.6h.01M156.0 85.9h.01M147.8 88.9h.01M155.9 86.7h.01M153.3 86.2h.01M161.8 84.2h.01M160.7 84.7h.01M152.8 85.9h.01M155.6 83.1h.01M156.5 90.5h.01M152.2 83.7h.01M160.8 87.0h.01M157.9 87.3h.01M152.3 85.7h.01M152.0 87.4h.01M159.7 75.4h.01M159.2 76.5h.01M155.9 87.7h.01M158.0 83.1h.01M149.4 92.2h.01M156.5 94.4h.01M154.6 86.2h.01M149.5 88.4h.01M152.1 92.1h.01M155.2 87.2h.01M151.3 86.6h.01M157.9 77.9h.01M148.9 92.9h.01M149.6 88.5h.01M156.8 79.7h.01M157.0 80.1h.01M163.6 82.0h.01M152.7 86.4h.01M152.2 88.7h.01M156.4 77.5h.01M155.8 78.6h.01M147.9 84.6h.01M163.3 76.9h.01M154.5 82.6h.01M154.7 76.4h.01M159.8 89.6h.01M153.6 86.5h.01M155.9 80.7h.01M157.1 86.9h.01M156.5 85.0h.01M154.3 87.0h.01M158.3 87.9h.01M157.3 81.7h.01M156.0 80.1h.01M144.8 90.3h.01M156.3 79.1h.01M153.7 87.3h.01M159.7 80.2h.01M153.4 84.2h.01M163.6 80.9h.01M151.7 82.4h.01M153.2 89.3h.01M154.1 89.7h.01M157.0 84.2h.01M158.6 83.5h.01M151.0 87.6h.01M161.5 73.3h.01M155.4 89.1h.01M152.7 83.9h.01M151.0 91.3h.01M161.9 84.0h.01M157.4 87.0h.01M151.3 89.4h.01M152.7 88.0h.01M160.2 84.3h.01M153.8 91.5h.01M151.0 84.7h.01M151.2 82.6h.01M155.6 85.6h.01M155.4 86.9h.01M153.8 86.2h.01M149.5 90.7h.01M150.7 87.4h.01M155.0 85.8h.01M145.3 88.1h.01M154.8 87.2h.01M158.3 85.5h.01M161.1 81.0h.01M152.7 82.9h.01M150.3 87.7h.01M156.5 84.4h.01M154.7 84.7h.01M157.9 83.0h.01M156.8 84.5h.01M150.7 84.9h.01M157.8 84.0h.01M153.3 85.0h.01M162.3 74.5h.01M154.7 86.4h.01M150.8 89.7h.01M164.0 80.0h.01M158.7 83.8h.01M157.5 86.6h.01M153.5 84.7h.01M157.3 86.5h.01M157.7 85.1h.01M166.9 78.7h.01M152.0 84.4h.01M154.0 81.8h.01M156.7 81.1h.01M161.6 84.2h.01M147.7 93.5h.01M149.3 84.7h.01M152.1 86.9h.01M155.8 77.8h.01M163.4 85.2h.01M158.5 83.8h.01M152.5 82.6h.01M157.9 83.7h.01M163.3 87.6h.01M158.7 83.1h.01M158.2 76.1h.01M149.8 88.6h.01M153.9 89.0h.01M157.5 89.9h.01M162.5 80.7h.01M154.8 87.8h.01M155.9 79.6h.01M157.9 85.1h.01M159.2 87.5h.01M158.0 78.5h.01M153.7 82.7h.01M155.4 80.9h.01M159.4 82.2h.01M158.5 80.9h.01M153.1 94.4h.01M157.2 88.6h.01M158.1 84.8h.01M162.8 78.6h.01M157.3 76.4h.01M157.9 81.1h.01M154.5 85.5h.01M159.9 87.2h.01M147.9 92.3h.01M154.7 90.3h.01M154.3 87.6h.01M154.9 88.0h.01M158.1 80.2h.01M152.2 81.8h.01M158.0 85.6h.01M155.2 89.5h.01M143.0 89.1h.01M148.6 89.4h.01M154.9 84.8h.01M156.3 86.8h.01M150.5 84.2h.01M154.6 94.3h.01M145.5 93.8h.01M161.7 80.4h.01M151.8 88.2h.01M160.9 84.2h.01M153.1 90.1h.01M158.3 86.4h.01M159.7 78.9h.01M150.2 91.5h.01M163.4 79.5h.01M161.0 89.2h.01M152.9 91.0h.01M152.9 87.3h.01M158.6 87.9h.01M150.2 87.5h.01M149.8 92.2h.01M154.1 87.7h.01M150.1 88.4h.01M158.7 80.6h.01M158.6 83.7h.01M150.3 83.1h.01M159.2 81.5h.01M154.6 76.9h.01M144.0 86.9h.01M153.8 90.6h.01M157.1 82.7h.01M157.1 86.1h.01M154.7 87.0h.01M150.9 79.8h.01M156.4 89.4h.01M153.2 86.2h.01M151.6 86.3h.01M158.8 80.1h.01M144.4 82.4h.01M148.6 83.1h.01M149.6 93.8h.01M153.7 78.2h.01M159.3 82.7h.01M153.5 89.6h.01M146.1 88.8h.01M147.0 88.2h.01M155.6 78.8h.01M148.5 87.5h.01M155.0 83.5h.01M156.8 80.1h.01M148.9 88.9h.01M153.2 82.9h.01M159.9 87.8h.01M152.8 87.4h.01M158.8 78.4h.01M149.3 86.0h.01M157.6 84.6h.01M154.4 85.7h.01M161.7 81.9h.01M149.4 90.5h.01M156.8 86.2h.01M152.6 84.5h.01M149.3 83.1h.01M153.5 83.9h.01M154.5 81.1h.01M151.0 84.7h.01M152.1 90.7h.01M153.9 87.8h.01M150.6 89.6h.01M147.2 90.6h.01M154.1 88.3h.01M155.1 84.0h.01M158.4 82.2h.01M158.5 84.6h.01M153.9 84.7h.01M155.1 82.9h.01M158.6 85.9h.01M157.2 81.0h.01M149.6 90.0h.01M156.6 87.9h.01M152.8 86.1h.01M156.6 81.2h.01M157.7 89.3h.01M161.8 80.6h.01M153.7 82.0h.01M157.0 83.0h.01M154.5 83.1h.01M154.3 84.7h.01M159.0 86.9h.01M152.6 80.2h.01M147.6 85.5h.01M152.8 89.3h.01M155.0 82.3h.01M154.1 82.4h.01M146.2 87.6h.01M154.4 91.4h.01M152.1 92.9h.01M159.5 79.5h.01M153.2 84.0h.01M156.0 86.6h.01M156.8 87.2h.01M160.0 81.2h.01M155.8 83.7h.01M153.7 81.4h.01M156.7 84.0h.01M155.9 93.0h.01M149.1 87.0h.01M151.7 79.9h.01M148.4 84.9h.01M150.7 88.6h.01M158.3 86.2h.01M160.3 84.5h.01M156.0 81.8h.01M158.0 79.7h.01M155.5 90.7h.01M158.2 82.5h.01M159.5 84.0h.01M149.2 90.2h.01M150.3 89.9h.01M154.9 90.6h.01M155.0 81.4h.01M152.0 82.6h.01M156.0 86.1h.01M151.6 80.0h.01M154.4 87.5h.01M158.3 86.4h.01M150.8 91.2h.01M152.5 88.0h.01M157.7 85.0h.01M152.8 87.7h.01M147.1 86.7h.01M156.7 82.8h.01M146.6 89.6h.01M158.0 88.3h.01M160.4 82.7h.01M147.5 91.8h.01M157.3 84.1h.01M155.8 83.0h.01M164.6 81.4h.01M152.2 83.4h.01M161.5 75.9h.01M163.4 84.5h.01M151.6 89.4h.01M154.4 87.5h.01M160.0 88.0h.01M156.9 82.8h.01M158.4 80.1h.01M158.0 91.3h.01M150.4 87.3h.01M152.6 82.7h.01M150.4 87.0h.01M151.1 84.5h.01M150.8 89.6h.01M165.5 77.3h.01M154.4 79.0h.01M152.0 82.7h.01M157.2 81.6h.01M154.6 84.8h.01M149.1 84.1h.01M154.0 79.9h.01M149.4 89.1h.01M152.5 88.4h.01M159.1 81.7h.01M155.5 84.4h.01M154.1 77.9h.01M154.1 81.7h.01M149.9 89.9h.01M154.4 87.8h.01M154.0 75.9h.01M158.5 89.5h.01M161.1 84.8h.01M152.0 81.7h.01M151.8 91.0h.01M156.8 79.8h.01M154.2 86.7h.01M147.1 91.2h.01M165.6 83.4h.01M158.1 89.4h.01M150.9 85.4h.01M158.2 91.5h.01M156.3 84.2h.01M152.9 86.2h.01M157.2 80.0h.01M155.8 85.6h.01M158.6 81.6h.01M160.8 77.9h.01M151.3 86.5h.01M143.1 93.3h.01M159.1 81.7h.01M152.2 89.0h.01M146.2 92.3h.01M158.2 84.5h.01M153.6 90.0h.01M161.0 76.9h.01M154.3 78.9h.01M148.3 94.0h.01M155.3 85.4h.01M151.8 86.7h.01M161.5 85.6h.01M150.3 82.4h.01M160.9 81.4h.01M157.7 82.8h.01M163.9 76.2h.01M152.8 79.2h.01M151.0 85.9h.01M155.3 85.9h.01M155.4 91.7h.01M149.6 88.3h.01M153.0 81.5h.01M158.3 84.2h.01M157.6 90.3h.01M155.6 85.4h.01M147.4 85.3h.01M151.6 86.9h.01M154.6 88.5h.01M143.0 92.0h.01M151.4 86.2h.01M152.3 91.3h.01M153.6 87.2h.01M157.4 84.7h.01M159.1 79.9h.01" stroke="#e4262b" stroke-width="0.9" stroke-linecap="round" fill="none" opacity="0.7"/>
<path d="M182.5 48.5h.01M182.4 45.3h.01M181.2 45.1h.01M184.8 48.0h.01M184.7 51.3h.01M178.1 47.8h.01M184.9 43.2h.01M180.4 52.1h.01M181.2 42.6h.01M182.0 42.8h.01M178.7 47.7h.01M179.1 44.2h.01M179.5 44.3h.01M181.9 46.3h.01M182.8 44.3h.01M177.0 44.7h.01M183.6 50.7h.01M182.7 43.7h.01M182.1 42.2h.01M183.5 44.2h.01M184.4 47.1h.01M181.7 47.6h.01M179.4 47.6h.01M190.3 55.8h.01M183.5 45.8h.01M181.2 50.5h.01M177.0 46.4h.01M180.8 42.8h.01M186.8 47.4h.01M179.8 45.7h.01M176.9 44.4h.01M183.7 47.5h.01M183.0 46.7h.01M181.2 48.1h.01M178.6 48.3h.01M187.0 48.0h.01M180.3 46.1h.01M187.5 49.4h.01M177.9 47.2h.01M184.2 49.3h.01M181.0 49.2h.01M184.8 53.0h.01M182.6 45.5h.01M182.7 49.6h.01M181.7 42.8h.01M180.3 42.7h.01M178.2 44.0h.01M177.9 46.3h.01M180.5 49.0h.01M183.2 44.8h.01M180.6 49.9h.01M174.5 43.9h.01M184.4 47.2h.01M183.6 44.7h.01M178.3 46.7h.01M181.9 43.7h.01M178.2 43.7h.01M180.6 50.1h.01M181.1 42.8h.01M178.6 46.3h.01M181.3 42.7h.01M178.2 41.1h.01M179.7 49.1h.01M182.0 42.3h.01M181.4 49.5h.01M180.2 45.5h.01M183.3 46.3h.01M185.5 47.1h.01M180.4 46.9h.01M179.7 43.0h.01M181.2 50.2h.01M179.9 51.0h.01M182.3 45.7h.01M183.7 47.0h.01M183.9 43.9h.01M181.0 46.1h.01M187.4 46.5h.01M179.3 46.7h.01M180.3 47.4h.01M185.8 52.2h.01M179.4 51.4h.01M181.7 44.1h.01M180.8 45.3h.01M183.5 49.0h.01M180.5 51.8h.01M183.3 50.8h.01M184.6 49.1h.01M184.7 48.6h.01M180.7 44.2h.01M184.4 47.5h.01M183.4 38.6h.01M183.0 49.5h.01M178.8 47.4h.01M188.6 47.5h.01M182.1 51.3h.01M185.6 47.0h.01M183.1 46.6h.01M179.2 46.2h.01M183.7 45.9h.01M185.4 43.3h.01M176.2 48.6h.01M183.1 47.1h.01M180.8 44.2h.01M184.1 42.9h.01M183.0 44.8h.01M181.4 51.6h.01M175.2 47.4h.01M182.3 45.0h.01M183.4 45.3h.01M184.2 52.7h.01M181.2 46.3h.01M178.4 45.9h.01M184.2 47.1h.01M180.9 44.6h.01M180.9 41.2h.01M180.8 46.2h.01M180.3 47.9h.01M179.3 45.2h.01M187.0 46.2h.01M184.6 45.1h.01M185.2 47.3h.01M188.1 51.1h.01M181.9 47.4h.01M176.6 37.4h.01M179.0 48.3h.01M182.5 44.2h.01M186.4 48.4h.01M183.2 50.7h.01M186.5 45.5h.01M182.1 51.5h.01M181.1 45.7h.01M181.4 45.0h.01M185.5 47.2h.01M185.5 46.5h.01M180.0 47.1h.01M183.3 44.3h.01M188.0 42.2h.01M182.5 50.2h.01M183.6 45.5h.01M182.1 47.9h.01M185.0 47.4h.01M182.0 48.0h.01M185.0 47.4h.01M174.0 48.0h.01M180.0 46.9h.01M183.8 48.7h.01M183.1 45.4h.01M184.7 51.0h.01M181.1 48.1h.01M185.9 45.4h.01M178.1 50.0h.01M181.0 46.7h.01M185.0 46.4h.01M182.8 49.1h.01M183.1 46.2h.01M183.0 46.8h.01M180.6 45.7h.01M180.6 44.0h.01M181.2 51.5h.01M181.4 46.7h.01M181.7 46.7h.01M182.1 46.6h.01M181.7 49.9h.01M182.1 50.1h.01M176.3 46.1h.01M183.9 44.9h.01M181.1 48.3h.01M179.9 48.0h.01M176.5 48.1h.01M181.4 48.7h.01M182.6 43.2h.01M184.6 43.0h.01M174.0 42.9h.01M185.2 44.3h.01M179.5 45.4h.01M181.7 51.4h.01M184.5 51.3h.01M178.0 40.6h.01M183.3 44.5h.01M183.8 50.9h.01M183.2 49.8h.01M180.9 44.6h.01M182.2 44.3h.01M186.1 47.5h.01M183.1 48.0h.01M182.8 45.1h.01M183.6 44.8h.01M181.9 43.3h.01M182.8 47.5h.01M179.7 46.4h.01M181.9 49.1h.01M181.1 48.5h.01M185.9 45.5h.01M178.7 48.8h.01M183.8 44.5h.01M185.4 46.7h.01M182.5 45.3h.01M180.5 46.5h.01M183.0 47.8h.01M182.5 45.2h.01M182.8 47.4h.01M177.4 46.6h.01M180.0 47.0h.01M181.1 46.2h.01M181.2 49.4h.01M180.2 41.9h.01M180.4 43.6h.01M185.1 43.2h.01M181.3 47.2h.01M181.5 46.6h.01M185.7 45.2h.01M185.6 48.4h.01M182.5 52.1h.01M185.0 48.1h.01M181.4 49.7h.01M182.2 44.6h.01M187.9 45.1h.01M181.8 47.3h.01M185.7 48.3h.01M185.2 49.0h.01M184.8 53.8h.01M177.7 53.4h.01M173.9 69.8h.01M181.7 54.1h.01M173.6 66.6h.01M175.5 58.9h.01M182.4 48.5h.01M178.8 63.3h.01M181.2 54.4h.01M175.9 55.3h.01M177.7 60.9h.01M173.1 72.1h.01M183.0 57.0h.01M170.8 70.7h.01M172.7 68.8h.01M183.6 58.5h.01M175.9 60.4h.01M176.5 52.7h.01M173.7 65.3h.01M176.0 58.3h.01M178.8 50.6h.01M187.5 46.5h.01M173.5 63.0h.01M171.0 62.5h.01M183.2 56.0h.01M180.4 53.1h.01M178.5 61.3h.01M174.5 69.4h.01M175.3 69.6h.01M182.0 53.0h.01M176.7 63.7h.01M169.1 67.2h.01M176.4 62.7h.01M173.9 59.6h.01M178.8 58.4h.01M182.4 46.3h.01M184.2 54.5h.01M172.1 51.2h.01M173.0 62.7h.01M173.3 60.9h.01M168.6 73.5h.01M174.1 73.7h.01M172.1 63.3h.01M172.5 62.8h.01M183.1 50.5h.01M176.1 51.1h.01M173.8 53.5h.01M177.3 49.5h.01M176.0 63.8h.01M174.0 54.9h.01M177.6 58.6h.01M172.8 64.6h.01M178.2 65.6h.01M171.6 72.9h.01M183.7 59.5h.01M173.8 67.8h.01M173.4 61.8h.01M178.8 55.5h.01M180.0 49.5h.01M180.0 46.3h.01M180.9 72.7h.01M180.3 63.5h.01M177.2 69.6h.01M178.2 67.3h.01M173.0 61.8h.01M178.1 51.6h.01M172.2 61.5h.01M183.7 52.3h.01M179.2 71.8h.01M176.9 56.5h.01M174.4 66.4h.01M178.4 52.3h.01M183.1 46.8h.01M174.7 67.8h.01M176.1 65.5h.01M176.9 65.4h.01M179.5 54.7h.01M176.4 59.2h.01M177.2 72.2h.01M180.2 55.6h.01M175.0 57.9h.01M180.8 63.9h.01M178.6 54.9h.01M179.2 63.0h.01M176.6 60.6h.01M182.9 61.0h.01M179.6 70.2h.01M175.1 65.9h.01M178.6 54.4h.01M178.3 53.7h.01M178.6 60.7h.01M176.9 66.1h.01M166.0 58.3h.01M170.7 58.9h.01M173.9 59.6h.01M185.6 50.4h.01M177.8 59.7h.01M169.2 62.0h.01M178.3 56.7h.01M166.9 80.3h.01M180.0 47.7h.01M174.8 56.5h.01M175.9 59.0h.01M172.3 62.3h.01M178.7 50.5h.01M175.2 56.5h.01M178.6 64.2h.01M175.8 59.7h.01M172.8 73.7h.01M173.9 62.3h.01M181.7 54.6h.01M177.2 61.3h.01M174.1 63.2h.01M177.7 68.7h.01M175.9 61.0h.01M187.4 55.6h.01M175.6 66.1h.01M175.9 64.5h.01M175.8 65.2h.01M181.7 60.1h.01M177.8 59.9h.01M175.7 59.4h.01M171.5 63.5h.01M178.5 73.2h.01M183.5 55.2h.01M183.7 57.1h.01M172.4 72.1h.01M171.5 64.3h.01M178.3 59.3h.01M173.1 61.7h.01M173.0 66.3h.01M184.3 52.4h.01M176.1 57.3h.01M175.8 51.2h.01M177.8 58.7h.01M172.9 54.5h.01M181.6 52.7h.01M170.2 69.3h.01M185.2 50.9h.01M171.7 60.9h.01M173.7 56.9h.01M174.2 63.1h.01M174.0 42.5h.01M170.5 65.2h.01M180.6 48.6h.01M176.9 65.2h.01M177.0 57.5h.01M175.5 68.5h.01M176.2 63.7h.01M177.8 57.4h.01M173.4 60.6h.01M176.6 58.0h.01M178.9 64.3h.01M183.6 50.7h.01M180.2 56.8h.01M176.4 53.4h.01M179.0 66.9h.01M177.4 51.7h.01M178.1 57.0h.01M186.0 52.4h.01M171.6 56.1h.01M176.7 60.9h.01M174.5 74.5h.01M177.2 56.0h.01M170.6 59.5h.01M180.4 59.3h.01M180.8 61.6h.01M181.2 64.0h.01M175.0 54.5h.01M176.1 46.7h.01M164.6 67.0h.01M174.7 59.6h.01M161.6 51.1h.01M168.9 63.1h.01M159.4 65.5h.01M166.4 45.0h.01M167.5 61.1h.01M160.7 56.7h.01M173.5 72.3h.01M174.0 50.8h.01M159.1 67.2h.01M155.7 54.2h.01M152.2 74.8h.01M169.4 63.7h.01M164.3 56.7h.01M160.6 64.9h.01M158.7 69.8h.01M160.0 53.0h.01M170.8 58.8h.01M166.3 56.7h.01M149.5 64.4h.01M154.9 68.7h.01M153.7 45.1h.01M164.8 63.4h.01M163.6 50.3h.01M168.3 48.3h.01M160.2 53.7h.01M160.7 66.8h.01M159.2 64.5h.01M167.2 46.3h.01M156.0 56.9h.01M159.4 62.5h.01M151.4 65.8h.01M167.5 58.7h.01M154.7 60.0h.01M159.8 64.5h.01M162.5 65.8h.01M160.4 71.5h.01M149.2 51.9h.01M165.9 47.9h.01M167.4 50.3h.01M163.6 52.7h.01M160.4 61.4h.01M162.4 56.9h.01M175.9 60.1h.01M157.2 67.4h.01M167.9 69.8h.01M173.7 52.5h.01M169.4 69.1h.01M163.0 62.0h.01M145.0 55.4h.01M173.7 45.7h.01M159.8 62.3h.01M166.5 73.1h.01M152.4 60.3h.01M168.2 49.5h.01M162.8 75.1h.01M170.9 64.3h.01M147.3 59.0h.01M165.3 57.5h.01M162.6 84.7h.01M161.7 52.2h.01M164.5 57.5h.01M161.1 59.3h.01M167.6 61.9h.01M155.8 58.9h.01M165.8 56.3h.01M169.9 66.2h.01M157.1 62.6h.01M174.9 72.5h.01M175.8 89.4h.01M173.3 75.3h.01M178.2 85.5h.01M178.1 83.9h.01M177.3 80.9h.01M177.9 89.0h.01M175.8 88.9h.01M168.9 79.3h.01M181.8 94.6h.01M177.0 83.4h.01M170.9 86.2h.01M179.1 75.1h.01M178.2 86.9h.01M177.8 77.2h.01M178.2 75.0h.01M182.0 84.8h.01M171.3 92.1h.01M180.6 80.1h.01M184.8 78.0h.01M177.3 91.1h.01M166.9 90.0h.01M175.7 83.9h.01M171.7 86.0h.01M171.6 78.2h.01M174.2 76.6h.01M182.3 76.0h.01M173.0 82.1h.01M176.0 88.8h.01M179.3 82.2h.01M174.5 84.2h.01M179.3 88.2h.01M173.9 71.6h.01M184.6 89.7h.01M177.1 86.0h.01M173.9 78.0h.01M174.7 82.7h.01M173.5 75.3h.01M174.7 87.5h.01M174.0 84.1h.01M167.7 82.8h.01M175.5 76.6h.01M169.1 86.5h.01M172.8 86.9h.01M174.3 87.7h.01M174.6 75.0h.01M175.7 82.0h.01M178.6 81.3h.01M174.4 89.2h.01M180.7 88.6h.01M180.2 86.7h.01M179.1 89.3h.01M177.6 84.4h.01M176.1 82.6h.01M174.5 83.8h.01M177.0 77.2h.01M168.1 85.8h.01M169.6 85.6h.01M176.6 90.9h.01M182.7 86.2h.01M173.8 77.0h.01M172.8 84.2h.01M167.7 84.5h.01M176.0 87.9h.01M174.7 84.6h.01M173.1 81.2h.01M168.9 84.7h.01M182.2 85.0h.01M177.5 78.1h.01M181.7 79.4h.01M179.2 84.6h.01M172.2 90.2h.01M176.1 85.1h.01M177.8 83.9h.01M174.5 86.8h.01M174.4 84.4h.01M173.3 75.1h.01M173.3 81.0h.01M176.1 91.1h.01M169.2 84.8h.01M167.2 77.7h.01M174.0 70.5h.01M168.6 84.9h.01M176.3 83.3h.01M175.4 78.8h.01M182.7 87.7h.01M174.5 91.2h.01M176.6 87.9h.01M176.9 77.8h.01M179.9 85.0h.01M172.0 79.4h.01M179.8 81.8h.01M176.2 87.9h.01M176.5 74.8h.01M178.5 89.6h.01M179.5 93.7h.01M177.5 88.7h.01M182.4 82.3h.01M182.9 94.4h.01M179.4 78.7h.01M180.5 86.0h.01M177.7 84.9h.01M181.4 87.3h.01M173.2 86.9h.01M178.9 79.6h.01M174.3 81.7h.01M173.6 86.1h.01M166.0 85.1h.01M165.7 86.7h.01M158.1 83.5h.01M161.6 79.4h.01M157.7 77.5h.01M158.7 73.8h.01M162.6 79.9h.01M160.5 81.7h.01M163.6 77.0h.01M159.5 72.0h.01M148.9 70.3h.01M167.7 70.9h.01M162.4 87.4h.01M157.7 88.1h.01M169.2 84.7h.01M171.9 83.1h.01M156.4 82.6h.01M157.8 73.5h.01M153.6 91.6h.01M157.3 79.9h.01M156.7 80.7h.01M158.8 78.0h.01M154.0 73.0h.01M156.3 81.5h.01M170.4 85.3h.01M169.2 82.5h.01M159.6 73.5h.01M160.1 69.4h.01M158.6 88.2h.01M161.7 85.7h.01M158.2 73.2h.01M157.7 78.1h.01M166.1 90.0h.01M156.4 78.3h.01M159.4 78.4h.01M153.9 80.6h.01M161.9 82.1h.01M154.1 79.6h.01M151.4 84.7h.01M155.0 78.8h.01M157.9 77.2h.01M154.8 71.3h.01M168.8 81.4h.01M161.5 90.6h.01M159.6 82.9h.01M160.3 86.1h.01M162.7 81.7h.01M158.9 81.6h.01M166.0 69.8h.01M159.5 78.1h.01M158.7 70.3h.01M163.8 75.9h.01M159.0 77.6h.01M151.8 77.9h.01M151.0 75.5h.01M158.6 80.1h.01M160.4 79.5h.01M170.9 82.3h.01M154.1 77.1h.01M156.9 79.3h.01M157.1 75.9h.01M168.4 80.4h.01M158.5 78.9h.01M159.1 87.1h.01M162.6 85.8h.01M144.6 81.8h.01M165.5 90.0h.01M160.3 71.6h.01M163.1 77.2h.01M151.2 77.1h.01M165.5 86.2h.01M163.8 74.9h.01M172.8 74.3h.01M159.8 73.0h.01M166.8 82.4h.01M164.6 80.6h.01M159.8 81.1h.01M150.8 85.2h.01M164.8 78.2h.01M160.1 81.7h.01" stroke="#e4262b" stroke-width="0.9" stroke-linecap="round" fill="none" opacity="0.42"/>
<path d="M135.90 95.90H139.50M136.90 90.44H139.50M136.90 87.24H139.50M136.90 84.97H139.50M136.90 83.21H139.50M136.90 81.78H139.50M136.90 80.56H139.50M136.90 79.51H139.50M136.90 78.58H139.50M135.90 77.75H139.50M136.90 72.29H139.50M136.90 69.09H139.50M136.90 66.82H139.50M136.90 65.06H139.50M136.90 63.63H139.50M136.90 62.41H139.50M136.90 61.36H139.50M136.90 60.43H139.50M135.90 59.60H139.50M136.90 54.14H139.50M136.90 50.94H139.50M136.90 48.67H139.50M136.90 46.91H139.50M136.90 45.48H139.50M136.90 44.26H139.50M136.90 43.21H139.50M136.90 42.28H139.50M135.90 41.45H139.50M136.90 35.99H139.50M136.90 32.79H139.50M136.90 30.52H139.50M136.90 28.76H139.50M136.90 27.33H139.50M136.90 26.11H139.50M136.90 25.06H139.50M136.90 24.13H139.50M136.00 23.30H139.50M139.50 95.90V99.50M144.99 95.90V98.50M148.21 95.90V98.50M150.49 95.90V98.50M152.26 95.90V98.50M153.70 95.90V98.50M154.92 95.90V98.50M155.98 95.90V98.50M156.91 95.90V98.50M157.75 95.90V99.50M163.24 95.90V98.50M166.46 95.90V98.50M168.74 95.90V98.50M170.51 95.90V98.50M171.95 95.90V98.50M173.17 95.90V98.50M174.23 95.90V98.50M175.16 95.90V98.50M176.00 95.90V99.50M181.49 95.90V98.50M184.71 95.90V98.50M186.99 95.90V98.50M188.76 95.90V98.50M190.20 95.90V98.50M191.42 95.90V98.50M192.48 95.90V98.50M193.41 95.90V98.50M194.25 95.90V99.50M199.74 95.90V98.50M202.96 95.90V98.50M205.24 95.90V98.50M207.01 95.90V98.50M208.45 95.90V98.50M209.67 95.90V98.50M210.73 95.90V98.50M211.66 95.90V98.50M212.50 95.90V99.40" stroke="#222" stroke-width="0.85" fill="none"/>
<text x="123.50" y="29.80" font-size="7.70" text-anchor="start" fill="#222" textLength="9.97" lengthAdjust="spacingAndGlyphs">10<tspan dy="-3.50" font-size="6.55">4</tspan></text>
<text x="123.50" y="46.80" font-size="7.70" text-anchor="start" fill="#222" textLength="9.97" lengthAdjust="spacingAndGlyphs">10<tspan dy="-3.50" font-size="6.55">3</tspan></text>
<text x="123.50" y="63.30" font-size="7.70" text-anchor="start" fill="#222" textLength="9.97" lengthAdjust="spacingAndGlyphs">10<tspan dy="-3.50" font-size="6.55">2</tspan></text>
<text x="123.50" y="79.80" font-size="7.70" text-anchor="start" fill="#222" textLength="9.97" lengthAdjust="spacingAndGlyphs">10<tspan dy="-3.50" font-size="6.55">1</tspan></text>
<text x="123.50" y="96.50" font-size="7.70" text-anchor="start" fill="#222" textLength="9.97" lengthAdjust="spacingAndGlyphs">10<tspan dy="-3.50" font-size="6.55">0</tspan></text>
<text x="136.10" y="109.70" font-size="7.70" text-anchor="start" fill="#222" textLength="9.97" lengthAdjust="spacingAndGlyphs">10<tspan dy="-3.50" font-size="6.55">0</tspan></text>
<text x="153.90" y="109.70" font-size="7.70" text-anchor="start" fill="#222" textLength="9.97" lengthAdjust="spacingAndGlyphs">10<tspan dy="-3.50" font-size="6.55">1</tspan></text>
<text x="168.50" y="109.70" font-size="7.70" text-anchor="start" fill="#222" textLength="9.97" lengthAdjust="spacingAndGlyphs">10<tspan dy="-3.50" font-size="6.55">2</tspan></text>
<text x="188.80" y="109.70" font-size="7.70" text-anchor="start" fill="#222" textLength="9.97" lengthAdjust="spacingAndGlyphs">10<tspan dy="-3.50" font-size="6.55">3</tspan></text>
<text x="205.70" y="109.70" font-size="7.70" text-anchor="start" fill="#222" textLength="9.97" lengthAdjust="spacingAndGlyphs">10<tspan dy="-3.50" font-size="6.55">4</tspan></text>
<rect x="139.50" y="23.30" width="73.00" height="72.60" fill="none" stroke="#111" stroke-width="1.5" />
<line x1="169.90" y1="23.30" x2="169.90" y2="95.90" stroke="#000" stroke-width="1.5" />
<line x1="139.50" y1="72.20" x2="212.50" y2="72.20" stroke="#000" stroke-width="1.5" />
<ellipse cx="253.5" cy="83.0" rx="9.0" ry="4.5" transform="rotate(-38 253.5 83.0)" fill="#e3201f" opacity="0.9" filter="url(#bl)"/>
<path d="M263.5 77.5h.01M252.8 81.2h.01M244.1 87.6h.01M253.6 81.8h.01M256.1 85.0h.01M256.9 81.9h.01M257.9 80.7h.01M254.8 84.6h.01M247.4 94.3h.01M248.8 91.1h.01M256.7 86.4h.01M251.7 79.8h.01M260.3 78.9h.01M254.7 82.7h.01M261.4 81.2h.01M251.4 77.1h.01M251.9 85.0h.01M264.8 76.4h.01M256.4 87.1h.01M253.2 83.3h.01M251.1 77.5h.01M260.3 80.2h.01M249.6 80.6h.01M258.6 86.4h.01M247.8 82.4h.01M252.3 76.1h.01M240.6 91.1h.01M249.5 85.0h.01M251.7 86.4h.01M251.3 82.0h.01M253.0 86.9h.01M261.5 81.7h.01M249.7 69.5h.01M247.7 86.3h.01M251.1 76.9h.01M262.6 77.8h.01M250.9 86.1h.01M250.2 82.0h.01M255.7 79.3h.01M244.6 87.0h.01M250.7 80.0h.01M258.3 74.1h.01M265.9 78.2h.01M249.1 87.4h.01M260.0 77.2h.01M247.7 88.4h.01M261.3 69.7h.01M257.1 80.6h.01M252.4 82.2h.01M254.8 87.6h.01M254.9 77.2h.01M259.4 72.1h.01M258.2 80.6h.01M261.5 78.9h.01M259.8 78.3h.01M260.3 79.8h.01M264.2 71.5h.01M261.8 79.2h.01M253.7 80.4h.01M252.9 76.3h.01M248.3 91.1h.01M249.0 94.1h.01M253.2 84.9h.01M255.5 83.9h.01M251.6 83.0h.01M256.0 86.8h.01M263.5 82.0h.01M255.6 80.7h.01M246.4 92.2h.01M257.7 78.0h.01M261.7 83.5h.01M257.2 85.8h.01M251.5 76.1h.01M250.5 83.7h.01M254.9 77.9h.01M249.3 81.8h.01M254.1 83.3h.01M261.5 81.2h.01M255.6 83.0h.01M255.0 82.8h.01M256.5 68.4h.01M253.9 84.7h.01M257.7 74.6h.01M258.2 84.1h.01M247.0 78.8h.01M249.2 80.7h.01M255.6 77.4h.01M264.3 75.7h.01M248.4 84.8h.01M249.1 88.8h.01M261.8 75.8h.01M256.9 76.0h.01M261.5 88.8h.01M249.4 92.9h.01M256.0 71.9h.01M243.8 86.0h.01M258.4 77.4h.01M254.9 85.9h.01M255.3 83.1h.01M255.1 87.8h.01M253.9 91.5h.01M250.3 81.9h.01M258.8 81.5h.01M243.7 92.1h.01M244.6 86.1h.01M256.3 76.8h.01M255.1 80.2h.01M264.5 74.3h.01M244.9 84.5h.01M249.4 87.2h.01M256.4 86.0h.01M255.3 82.6h.01M255.5 81.1h.01M257.6 84.1h.01M257.0 77.8h.01M242.3 88.0h.01M249.4 73.9h.01M252.5 86.4h.01M248.1 81.8h.01M267.1 79.7h.01M255.8 88.2h.01M258.4 73.8h.01M266.5 68.4h.01M249.8 80.6h.01M251.2 78.5h.01M256.6 86.4h.01M254.5 81.2h.01M260.3 73.4h.01M258.5 77.8h.01M255.2 82.1h.01M254.5 82.2h.01M248.2 84.5h.01M256.1 80.7h.01M245.7 85.7h.01M249.9 85.8h.01M255.1 82.5h.01M250.3 85.8h.01M239.2 79.8h.01M249.5 78.0h.01M245.6 83.2h.01M254.3 76.4h.01M254.1 80.2h.01M243.1 83.3h.01M257.2 82.2h.01M262.5 85.4h.01M255.9 82.7h.01M253.3 83.8h.01M249.5 81.7h.01M260.1 68.5h.01M256.1 83.3h.01M252.1 79.3h.01M251.4 82.4h.01M247.6 87.5h.01M250.0 83.0h.01M254.7 76.7h.01M254.5 79.2h.01M256.1 81.4h.01M252.4 78.9h.01M247.1 83.6h.01M256.3 84.6h.01M258.2 76.8h.01M250.0 77.5h.01M239.1 89.8h.01M246.0 81.0h.01M245.0 92.3h.01M244.9 81.2h.01M266.6 73.6h.01M253.3 86.5h.01M253.1 91.3h.01M241.7 85.5h.01M250.7 81.2h.01M257.2 71.9h.01M249.9 86.9h.01M258.9 83.8h.01M260.6 88.5h.01M251.1 85.6h.01M257.2 78.4h.01M250.5 82.8h.01M246.9 82.3h.01M246.4 80.6h.01M251.4 76.4h.01M268.7 79.5h.01M258.7 77.6h.01M252.9 89.4h.01M255.5 84.0h.01M251.8 89.5h.01M249.0 86.8h.01M242.0 88.4h.01M254.8 79.5h.01M252.6 87.4h.01M255.8 87.3h.01M252.1 76.0h.01M248.1 91.4h.01M245.7 85.6h.01M255.6 79.4h.01M253.6 78.3h.01M257.4 85.2h.01M249.5 74.8h.01M256.8 80.4h.01M251.5 91.3h.01M253.5 90.7h.01M249.6 79.1h.01M254.4 83.7h.01M258.6 84.1h.01M249.3 88.5h.01M256.4 79.0h.01M245.6 84.1h.01M259.1 82.4h.01M245.2 82.4h.01M256.1 72.9h.01M252.0 79.9h.01M243.7 91.0h.01M255.5 88.4h.01M265.1 72.7h.01M261.2 81.9h.01M248.1 82.6h.01M261.0 75.0h.01M252.2 82.3h.01M250.8 81.7h.01M260.2 83.8h.01M247.6 80.3h.01M249.7 78.2h.01M252.6 89.7h.01M266.7 74.3h.01M249.1 90.1h.01M239.0 90.5h.01M263.2 78.9h.01M241.4 83.8h.01M257.6 79.2h.01M250.8 86.9h.01M245.2 79.5h.01M255.9 77.6h.01M244.3 83.2h.01M252.5 79.5h.01M255.8 79.5h.01M258.0 77.2h.01M244.6 79.7h.01M248.8 90.0h.01M266.8 66.0h.01M248.2 88.6h.01M254.0 78.9h.01M249.5 77.7h.01M253.6 87.2h.01M261.6 75.5h.01M252.7 85.6h.01M260.3 79.8h.01M249.8 87.4h.01M256.6 76.7h.01M247.0 90.4h.01M257.4 84.5h.01M252.0 80.7h.01M248.2 81.7h.01M246.5 85.4h.01M253.2 88.6h.01M246.2 88.2h.01M253.5 90.3h.01M253.6 80.8h.01M257.7 79.8h.01M254.3 89.9h.01M261.2 85.4h.01M261.4 80.5h.01M251.2 79.1h.01M257.2 80.2h.01M256.8 80.1h.01M246.9 82.9h.01M260.1 84.1h.01M252.7 85.7h.01M258.7 74.5h.01M248.5 81.0h.01M260.3 78.8h.01M246.6 79.8h.01M254.6 86.9h.01M250.5 83.0h.01M253.7 76.4h.01M254.9 84.7h.01M246.9 83.8h.01M254.3 81.7h.01M252.4 84.7h.01M252.1 79.2h.01M250.6 87.3h.01M262.6 82.5h.01M251.2 90.1h.01M257.3 79.7h.01M257.9 83.6h.01M260.4 72.1h.01M256.2 80.0h.01M254.9 87.5h.01M255.2 76.4h.01M252.2 85.0h.01M247.6 91.8h.01M253.2 83.9h.01M259.5 87.2h.01M252.6 81.8h.01M261.5 74.0h.01M247.0 80.9h.01M259.8 79.3h.01M256.2 81.5h.01M250.6 81.2h.01M250.1 87.7h.01M257.9 87.6h.01M247.9 84.8h.01M251.1 91.7h.01M248.4 90.7h.01M260.8 76.5h.01M252.0 73.3h.01M247.1 79.5h.01M254.2 82.3h.01M251.4 89.3h.01M253.9 79.9h.01M246.9 80.6h.01M257.4 90.4h.01M250.4 87.4h.01M252.3 87.9h.01M255.1 80.4h.01M242.3 89.0h.01M259.2 77.2h.01M255.6 78.9h.01M244.2 92.3h.01M253.6 79.9h.01M252.0 85.5h.01M250.9 86.6h.01M246.5 76.6h.01M251.1 81.8h.01M249.7 87.8h.01M252.0 86.8h.01M259.6 78.8h.01M243.1 87.3h.01M257.7 78.3h.01M248.7 86.2h.01M256.7 81.7h.01M254.8 77.7h.01M251.2 83.4h.01M248.1 76.6h.01M248.8 79.9h.01M264.7 82.0h.01M264.5 78.4h.01M253.0 88.1h.01M253.7 85.8h.01M247.0 85.0h.01M260.2 86.6h.01M258.7 90.2h.01M265.3 67.3h.01M250.9 80.2h.01M251.3 81.9h.01M255.3 86.3h.01M259.1 79.8h.01M253.7 83.4h.01M255.5 84.3h.01M254.6 84.6h.01M248.2 91.1h.01M263.4 76.1h.01M249.0 93.3h.01M244.3 75.1h.01M253.7 85.8h.01M258.5 85.2h.01M257.1 80.8h.01M239.9 88.0h.01M256.0 84.4h.01M246.3 85.5h.01M251.3 75.1h.01M242.2 90.6h.01M253.6 80.4h.01M240.9 92.9h.01M247.7 90.7h.01M253.5 84.3h.01M255.6 78.6h.01M260.9 83.4h.01M258.8 85.5h.01M252.2 88.5h.01M252.5 78.8h.01M251.7 81.7h.01M250.6 85.6h.01M258.4 77.5h.01M250.5 77.9h.01M256.8 86.2h.01M259.0 81.0h.01M248.2 82.2h.01M249.6 79.2h.01M249.0 91.2h.01M252.8 92.5h.01M246.7 90.5h.01M247.4 88.6h.01M247.8 87.6h.01M251.5 82.3h.01M259.9 85.5h.01M252.3 88.3h.01M253.8 82.6h.01M260.1 66.9h.01M245.3 80.3h.01M251.1 83.6h.01M275.1 67.8h.01M266.4 79.4h.01M252.2 86.4h.01M263.0 76.4h.01M255.8 83.7h.01M243.2 86.9h.01M256.6 83.3h.01M247.6 85.9h.01M252.4 83.1h.01M257.5 80.4h.01M250.9 77.9h.01M248.4 88.5h.01M245.3 90.7h.01M247.8 83.3h.01M255.3 78.1h.01M247.0 84.6h.01M260.4 91.4h.01M241.7 92.0h.01M254.4 87.0h.01M245.3 76.9h.01M257.9 73.9h.01M249.7 79.0h.01M246.1 86.2h.01M260.1 82.0h.01M251.3 87.2h.01M251.6 85.0h.01M255.7 84.3h.01M249.6 85.2h.01M254.7 82.4h.01M253.1 91.8h.01M252.6 87.4h.01M257.4 86.0h.01M249.1 80.1h.01M259.5 89.5h.01M253.0 77.0h.01M254.0 89.2h.01M245.1 88.5h.01M257.0 91.1h.01M254.9 88.4h.01M247.6 83.4h.01M260.3 80.7h.01M245.4 92.4h.01M255.3 78.4h.01M255.1 82.9h.01M249.2 83.3h.01M248.9 85.1h.01M245.9 88.6h.01M245.2 89.7h.01M250.2 80.2h.01M262.6 85.5h.01M257.2 73.1h.01M260.7 78.3h.01M251.5 81.4h.01M256.6 87.4h.01M255.2 79.4h.01M248.5 84.6h.01M261.0 86.4h.01M247.4 87.6h.01M249.3 82.3h.01M256.8 83.1h.01M242.9 85.9h.01M260.5 78.9h.01M254.9 79.2h.01M252.3 86.1h.01M247.8 81.7h.01M255.4 85.9h.01M250.2 90.7h.01M255.0 77.3h.01M253.2 82.9h.01M258.3 82.4h.01M242.8 84.4h.01M259.1 79.0h.01M256.3 82.3h.01M258.7 72.7h.01M257.2 75.8h.01M260.5 84.1h.01M246.7 90.2h.01M251.0 83.3h.01M250.9 79.6h.01M249.6 89.2h.01M256.5 77.7h.01M260.1 79.5h.01M246.2 85.6h.01M252.2 79.0h.01M262.3 76.6h.01M252.9 78.2h.01M246.4 84.4h.01M254.1 81.0h.01M252.4 85.2h.01M258.1 86.7h.01M249.7 80.7h.01M256.7 87.6h.01M250.3 85.5h.01M252.3 85.8h.01M252.7 79.4h.01M254.3 86.9h.01M261.4 81.3h.01M257.1 78.3h.01M253.5 87.5h.01M246.7 87.8h.01M242.2 89.7h.01M246.5 82.3h.01M254.6 78.3h.01M250.6 83.8h.01M252.7 90.6h.01M251.0 85.7h.01M245.0 87.1h.01M250.7 83.5h.01M250.4 86.0h.01M261.4 76.0h.01M251.5 82.4h.01M270.9 77.3h.01M258.0 82.9h.01M249.0 85.6h.01M254.7 82.5h.01M246.7 84.2h.01M256.8 81.8h.01M242.1 92.2h.01M258.6 75.7h.01M251.0 77.5h.01M255.1 76.1h.01M245.7 87.3h.01M264.6 71.1h.01M247.5 89.8h.01M258.5 87.2h.01M242.5 83.5h.01M252.5 85.5h.01M257.8 84.9h.01M243.2 86.8h.01M254.6 86.2h.01M254.8 79.7h.01M249.9 90.1h.01M264.9 87.4h.01M256.2 88.8h.01M245.4 86.5h.01M248.5 84.5h.01M247.2 85.1h.01M251.9 81.9h.01M256.6 80.0h.01M256.8 87.6h.01M255.3 82.2h.01M253.3 83.3h.01M254.4 78.1h.01M263.2 83.1h.01M258.3 76.6h.01M243.6 88.4h.01M256.1 84.9h.01M251.5 82.9h.01M259.9 74.5h.01M261.2 81.3h.01M246.8 89.5h.01M248.0 82.5h.01M239.5 86.0h.01M254.6 80.1h.01M252.2 78.6h.01M250.9 83.5h.01M240.9 84.4h.01M256.0 81.6h.01M248.0 86.7h.01M261.3 85.9h.01M250.0 88.7h.01M264.9 74.3h.01M255.0 68.9h.01M261.1 76.9h.01M245.0 93.4h.01M261.9 82.3h.01M259.7 77.9h.01M248.1 84.8h.01M254.1 84.4h.01M250.8 85.2h.01M258.8 80.3h.01M270.9 80.0h.01M245.7 86.1h.01M243.4 85.0h.01M253.8 77.7h.01M246.9 86.6h.01M256.7 78.5h.01M253.6 87.4h.01M256.9 82.4h.01M256.0 75.9h.01M252.9 80.2h.01M260.8 81.2h.01M250.8 91.6h.01M249.8 91.6h.01M252.3 79.5h.01M246.5 86.8h.01M251.4 80.9h.01M252.9 76.3h.01M253.2 83.1h.01M243.9 91.9h.01M240.4 80.6h.01M249.4 84.9h.01M257.0 77.7h.01M264.7 81.2h.01M262.4 82.5h.01M253.8 79.8h.01M259.1 83.3h.01M254.0 81.3h.01M246.4 91.8h.01M252.0 77.5h.01M255.6 84.9h.01M254.6 85.9h.01M253.8 75.2h.01M252.8 85.8h.01M261.7 83.5h.01M242.7 91.0h.01M260.1 83.8h.01M260.2 73.0h.01M248.7 81.3h.01M254.5 75.4h.01M262.0 80.9h.01M250.6 74.2h.01M251.4 88.2h.01M245.0 88.3h.01M254.9 86.2h.01M255.5 82.7h.01M250.9 84.9h.01M254.3 85.9h.01M254.8 87.0h.01M246.9 94.0h.01M255.1 87.3h.01M255.8 85.3h.01M260.0 74.9h.01M253.3 82.2h.01M250.4 77.1h.01M251.7 83.0h.01M248.5 85.8h.01M248.2 94.0h.01M260.3 87.0h.01M245.6 83.1h.01M250.7 76.6h.01M252.8 79.9h.01M252.0 85.3h.01M258.0 88.6h.01M253.5 76.3h.01M255.3 74.7h.01M250.7 78.8h.01M251.9 90.7h.01M248.6 83.4h.01M249.4 84.5h.01M258.2 73.2h.01M247.9 90.1h.01M243.6 88.7h.01M259.4 78.2h.01M248.8 82.9h.01M246.8 85.1h.01M256.9 86.3h.01M257.1 77.2h.01M250.9 88.3h.01M242.2 89.4h.01M248.7 81.0h.01M248.6 88.4h.01M241.9 87.2h.01M249.8 86.1h.01M248.3 92.3h.01M250.8 83.6h.01M249.4 82.5h.01M250.5 90.8h.01M253.9 81.9h.01M256.7 76.6h.01M256.5 80.5h.01M250.0 89.2h.01M246.4 91.5h.01M249.1 88.1h.01M261.8 79.0h.01M249.6 85.5h.01M248.1 81.0h.01M247.0 87.9h.01M251.5 75.3h.01M253.7 85.0h.01M251.0 79.5h.01M255.5 74.9h.01M260.2 85.3h.01M242.4 92.5h.01M255.1 82.5h.01M247.9 85.4h.01M245.6 89.4h.01M254.1 78.8h.01M246.6 85.6h.01M252.9 83.3h.01M252.4 83.8h.01M239.1 80.2h.01M259.5 84.9h.01M243.5 87.0h.01M256.7 84.8h.01M259.3 84.3h.01M253.4 84.6h.01M253.9 80.0h.01M260.7 80.0h.01M257.1 77.8h.01M255.8 75.5h.01M248.5 73.4h.01M249.0 89.7h.01M250.7 85.6h.01M247.7 94.7h.01M255.9 80.5h.01M255.7 82.4h.01M260.9 77.8h.01M244.1 88.5h.01M261.0 79.5h.01M251.9 86.8h.01M254.8 84.5h.01M242.0 87.0h.01M255.8 79.6h.01M259.3 87.7h.01M251.6 85.2h.01M248.2 83.5h.01M248.8 79.0h.01M254.9 87.0h.01M253.7 83.1h.01M258.0 82.5h.01M249.1 91.9h.01M248.0 87.8h.01M266.7 72.6h.01M260.9 75.0h.01M256.1 80.7h.01M252.9 78.7h.01M248.6 88.0h.01M242.3 87.1h.01M254.7 78.5h.01M245.3 83.4h.01M252.6 81.4h.01M253.1 81.9h.01M261.6 74.0h.01M242.5 91.7h.01M253.1 83.6h.01M246.8 93.3h.01M252.4 83.1h.01M245.3 91.2h.01M255.6 87.5h.01M247.5 81.1h.01M251.2 79.8h.01M252.4 78.0h.01M251.5 83.0h.01M251.3 81.7h.01M248.2 86.3h.01M250.0 86.0h.01M245.9 77.4h.01M255.7 87.6h.01M255.8 83.7h.01M254.0 79.8h.01M247.5 91.2h.01M259.7 80.4h.01M255.9 82.5h.01M253.2 84.1h.01M253.6 84.1h.01M246.2 85.1h.01M254.9 79.7h.01M240.1 93.6h.01M258.2 82.2h.01M246.5 82.4h.01M251.7 84.1h.01M249.0 86.8h.01M257.8 82.1h.01M242.1 80.9h.01M251.2 81.1h.01M259.0 86.2h.01M262.1 77.2h.01M262.5 83.5h.01M253.7 83.7h.01M257.2 79.5h.01M248.4 82.9h.01M251.4 81.2h.01M256.2 78.8h.01M263.4 80.7h.01M248.8 91.5h.01M253.9 88.9h.01M255.5 80.8h.01M255.1 78.6h.01M255.5 82.9h.01M253.0 84.9h.01M248.9 88.9h.01M248.0 89.9h.01M257.1 83.3h.01M257.1 94.5h.01M252.1 84.5h.01M252.4 90.5h.01M252.8 88.0h.01M248.8 87.9h.01M253.2 87.4h.01M249.5 81.7h.01M252.6 77.6h.01M249.8 89.3h.01M245.0 93.0h.01M248.8 82.0h.01M255.8 84.0h.01M249.6 84.9h.01M259.1 82.0h.01M251.1 81.0h.01M246.8 85.1h.01M258.0 82.0h.01M258.0 86.0h.01M250.7 83.1h.01M255.6 90.3h.01M243.2 92.3h.01M255.7 81.4h.01M268.1 77.0h.01M255.2 77.2h.01M255.0 79.9h.01M254.0 83.5h.01M252.2 86.9h.01M264.2 79.5h.01M249.9 76.4h.01M261.5 81.8h.01M251.2 82.4h.01M254.9 77.9h.01M255.0 76.6h.01M248.6 86.8h.01M245.8 88.9h.01M253.1 77.0h.01M256.9 77.6h.01M256.7 81.4h.01M249.8 83.3h.01M243.0 87.9h.01M253.2 91.0h.01M255.5 74.8h.01M258.1 80.4h.01M252.5 85.9h.01M256.2 78.1h.01M252.4 84.6h.01M248.8 87.5h.01M251.5 81.3h.01M249.8 87.3h.01M258.8 80.4h.01M250.8 88.7h.01M255.7 84.1h.01M257.4 75.6h.01M251.4 81.8h.01M253.6 92.4h.01M254.3 74.0h.01M254.4 79.6h.01M259.6 78.6h.01M252.9 84.1h.01M255.5 81.5h.01M252.0 83.5h.01M253.5 77.6h.01M253.2 82.7h.01M252.7 87.1h.01M246.0 87.1h.01M250.4 88.0h.01M251.2 85.0h.01M251.8 76.7h.01M254.1 79.0h.01M251.9 83.7h.01M259.4 81.9h.01M263.0 76.4h.01M249.9 83.4h.01M260.6 85.1h.01M253.9 79.9h.01M255.5 82.6h.01M252.0 80.7h.01M239.2 91.6h.01M259.4 79.4h.01M242.1 91.9h.01M251.7 78.7h.01M255.8 77.5h.01M256.4 80.8h.01M249.0 89.7h.01M249.7 92.3h.01M251.4 79.7h.01M258.1 73.5h.01M262.4 76.9h.01M252.2 83.6h.01M255.4 88.3h.01M250.0 77.0h.01M266.3 77.2h.01M247.1 86.3h.01M248.9 86.8h.01M256.1 82.1h.01M248.6 83.1h.01M257.6 79.3h.01M263.2 71.6h.01M257.7 80.0h.01M252.7 90.1h.01M252.1 79.9h.01M254.2 87.3h.01M250.4 92.0h.01M256.4 79.4h.01M264.5 82.7h.01M257.0 81.1h.01M266.5 80.0h.01M248.2 86.1h.01M251.4 82.7h.01M247.9 91.7h.01M254.2 83.0h.01M259.5 75.6h.01M253.8 84.0h.01M251.0 84.4h.01M257.4 79.9h.01M258.7 75.4h.01M251.2 78.0h.01M251.3 81.4h.01M262.3 79.7h.01M260.4 86.4h.01M262.6 79.3h.01M246.6 81.5h.01M252.5 82.1h.01M249.5 84.8h.01M248.4 94.1h.01M246.0 85.6h.01M252.7 75.9h.01M260.5 82.0h.01M249.4 81.1h.01M246.7 79.4h.01M260.8 77.5h.01M247.6 83.3h.01M260.0 85.1h.01M245.5 86.5h.01M245.9 92.2h.01M259.6 89.1h.01M251.8 82.2h.01M251.8 88.4h.01M246.8 91.9h.01M253.6 80.5h.01M251.2 89.8h.01M262.2 74.1h.01M260.3 86.0h.01M249.7 84.8h.01M246.8 87.5h.01M252.1 82.1h.01M245.9 81.3h.01M244.2 85.6h.01M255.7 78.9h.01M250.6 88.5h.01M254.7 78.4h.01M251.8 87.5h.01M253.5 79.0h.01M254.7 81.9h.01M257.3 75.8h.01M259.1 80.7h.01M250.7 90.3h.01M255.2 75.3h.01M261.2 71.4h.01M247.9 85.8h.01M258.9 81.6h.01M256.2 87.5h.01M258.9 85.5h.01M268.8 72.0h.01M238.8 92.3h.01M248.0 87.7h.01M251.1 78.9h.01M246.8 87.0h.01M246.3 75.9h.01M258.7 79.1h.01M254.2 83.9h.01M247.9 87.1h.01M261.6 82.0h.01M255.3 80.2h.01M252.3 90.4h.01M255.3 79.5h.01M239.8 89.4h.01M246.2 94.9h.01M252.7 79.9h.01M258.2 92.1h.01M256.8 73.8h.01M249.8 79.8h.01M244.6 90.8h.01M270.3 77.6h.01M252.8 81.7h.01M257.1 85.3h.01M241.1 83.4h.01M264.3 75.9h.01M262.8 76.9h.01M260.0 74.9h.01M260.0 85.7h.01M257.9 77.2h.01M256.7 77.1h.01M247.0 90.7h.01M263.2 79.7h.01M248.8 91.1h.01M256.1 78.7h.01M259.6 80.8h.01M240.4 85.7h.01M261.0 81.2h.01M255.6 80.1h.01M254.3 79.6h.01M249.7 81.6h.01M253.9 80.6h.01M260.5 81.2h.01M253.5 92.2h.01M248.4 89.2h.01M262.6 82.4h.01M263.7 82.3h.01M239.6 90.4h.01M251.9 82.0h.01M259.2 75.1h.01M261.6 79.5h.01M243.1 86.1h.01M251.2 85.3h.01M258.5 78.1h.01M254.6 74.1h.01M255.1 79.9h.01M249.0 88.7h.01M263.9 74.3h.01M247.4 83.5h.01M264.2 74.4h.01M259.9 84.2h.01M257.2 75.5h.01M260.9 81.5h.01M258.7 84.1h.01M250.2 85.2h.01M252.5 87.7h.01M250.9 87.1h.01M247.2 87.3h.01M251.2 84.2h.01M253.8 81.8h.01M247.2 77.4h.01M258.1 76.3h.01M250.1 81.4h.01M256.8 75.8h.01M259.2 84.5h.01M265.5 79.7h.01M254.0 76.6h.01M263.5 81.2h.01M260.1 81.9h.01M252.7 81.0h.01M262.6 82.4h.01M250.1 90.3h.01M257.1 84.7h.01M257.8 85.3h.01M261.4 81.4h.01M248.0 91.5h.01M251.1 79.2h.01M254.1 75.7h.01M262.7 84.5h.01M253.1 88.0h.01M257.7 83.1h.01M247.7 90.7h.01M256.2 84.7h.01M256.4 86.4h.01M256.8 83.9h.01M261.6 77.7h.01M259.7 79.4h.01M255.3 79.1h.01M260.9 83.5h.01M255.2 85.8h.01M253.4 77.7h.01M258.9 85.6h.01M246.8 79.5h.01M253.3 80.1h.01M264.0 74.8h.01M252.2 81.0h.01M253.8 80.1h.01M248.7 86.6h.01M252.6 90.5h.01M247.3 87.7h.01M246.7 81.6h.01M257.7 69.4h.01M258.2 72.4h.01M259.7 89.6h.01M238.9 87.7h.01M261.3 77.9h.01M250.7 85.2h.01M248.9 87.4h.01M260.9 75.5h.01M257.4 86.1h.01M263.1 72.7h.01M254.0 79.9h.01M249.3 84.4h.01M246.2 80.3h.01M241.3 89.1h.01M257.4 86.2h.01M250.5 84.7h.01M259.1 82.5h.01M253.0 83.3h.01M263.1 74.0h.01M247.2 80.0h.01M255.5 80.3h.01M263.3 73.9h.01M260.4 82.4h.01M259.5 72.0h.01M262.3 76.4h.01M252.5 82.4h.01M250.8 83.6h.01M242.4 94.4h.01M251.8 79.8h.01M259.0 90.3h.01M254.9 80.2h.01M261.1 73.3h.01M251.6 81.9h.01M254.3 86.2h.01M255.1 78.3h.01M253.3 83.8h.01M251.5 84.6h.01M248.1 83.7h.01M251.5 79.6h.01M255.5 80.6h.01M247.3 85.0h.01M250.8 84.5h.01M253.9 81.8h.01M252.5 91.0h.01M258.9 79.5h.01M259.6 80.0h.01M252.6 84.3h.01M270.4 74.8h.01M258.4 77.4h.01M262.4 87.4h.01M258.6 84.5h.01M262.0 79.7h.01" stroke="#e4262b" stroke-width="0.9" stroke-linecap="round" fill="none" opacity="0.7"/>
<path d="M289.5 66.0h.01M281.1 62.7h.01M297.7 66.3h.01M278.1 70.5h.01M273.5 65.1h.01M271.2 65.2h.01M274.2 67.2h.01M276.2 62.8h.01M274.9 64.7h.01M273.3 68.7h.01M282.4 65.7h.01M268.0 67.1h.01M267.3 65.8h.01M277.6 62.8h.01M270.8 62.4h.01M293.1 64.1h.01M275.6 68.8h.01M280.5 69.2h.01M267.7 60.9h.01M302.9 64.9h.01M275.0 65.7h.01M284.9 60.5h.01M279.4 65.0h.01M282.4 65.8h.01M273.1 61.8h.01M258.4 68.9h.01M265.9 63.6h.01M290.0 63.5h.01M281.9 64.3h.01M282.6 65.2h.01M273.3 70.3h.01M275.2 59.9h.01M274.7 67.2h.01M268.6 68.1h.01M283.1 73.3h.01M272.3 67.6h.01M264.4 63.5h.01M278.0 66.7h.01M276.8 64.8h.01M272.5 63.4h.01M279.6 67.3h.01M282.1 68.9h.01M286.3 58.2h.01M273.2 64.5h.01M272.3 69.1h.01M283.0 64.7h.01M278.1 70.0h.01M274.5 63.9h.01M284.2 66.9h.01M288.1 66.5h.01M283.0 63.0h.01M270.0 65.1h.01M256.9 66.7h.01M284.7 65.4h.01M275.5 69.3h.01M276.9 68.9h.01M294.0 67.9h.01M284.4 67.0h.01M279.1 66.2h.01M277.7 69.3h.01M264.9 64.1h.01M282.2 61.9h.01M276.4 62.4h.01M280.6 68.4h.01M288.3 67.0h.01M271.7 66.1h.01M281.6 70.5h.01M260.8 66.5h.01M263.2 67.8h.01M280.6 67.0h.01M284.0 66.6h.01M272.3 66.4h.01M286.4 64.7h.01M277.4 60.5h.01M286.1 63.2h.01M271.5 63.4h.01M270.6 64.1h.01M287.0 68.1h.01M288.1 70.8h.01M270.4 66.9h.01M288.7 73.9h.01M266.4 59.7h.01M280.8 63.8h.01M269.6 66.6h.01M271.2 56.4h.01M277.0 65.6h.01M282.1 68.7h.01M278.6 64.2h.01M272.1 58.8h.01M273.8 68.9h.01M282.2 72.9h.01M276.0 58.3h.01M283.5 69.1h.01M268.3 58.9h.01M278.3 67.8h.01M268.6 63.8h.01M271.2 60.6h.01M267.1 65.6h.01M274.3 62.5h.01M257.2 71.7h.01M269.9 64.6h.01M268.5 66.5h.01M265.6 65.4h.01M275.7 68.6h.01M268.8 62.6h.01M275.3 73.1h.01M265.9 66.2h.01M272.1 66.2h.01M282.1 65.6h.01M279.1 66.1h.01M272.6 64.2h.01M264.4 63.7h.01M271.2 64.1h.01M282.7 66.5h.01M280.7 69.3h.01M258.9 66.7h.01M276.9 64.7h.01M267.1 67.1h.01M285.8 69.0h.01M276.4 67.5h.01M285.4 85.9h.01M276.8 86.0h.01M277.8 82.2h.01M281.9 81.1h.01M269.9 87.1h.01M271.7 83.6h.01M260.2 89.6h.01M276.0 84.3h.01M279.6 86.2h.01M272.6 90.6h.01M290.0 81.5h.01M276.7 80.3h.01M284.0 83.1h.01M267.6 92.6h.01M283.0 79.9h.01M285.1 86.1h.01M296.7 94.8h.01M271.8 83.5h.01M269.3 85.8h.01M276.4 89.2h.01M276.7 76.6h.01M269.8 93.1h.01M284.8 84.1h.01M275.0 84.0h.01M276.2 75.4h.01M282.8 81.2h.01M277.1 70.5h.01M277.8 92.7h.01M258.9 93.7h.01M279.6 80.8h.01M263.9 91.7h.01M278.0 88.4h.01M273.9 80.4h.01M282.7 79.5h.01M282.9 75.4h.01M268.9 76.7h.01M286.0 75.0h.01M267.3 88.8h.01M290.1 88.5h.01M281.3 74.5h.01M269.3 83.1h.01M274.6 77.1h.01M268.9 80.1h.01M284.1 87.4h.01M273.5 83.4h.01M278.2 81.0h.01M274.0 75.1h.01M281.1 90.5h.01M278.8 87.7h.01M277.6 77.4h.01M268.0 89.1h.01M284.2 89.4h.01M282.4 86.1h.01M264.6 80.9h.01M262.1 82.8h.01M265.5 85.5h.01M274.7 73.8h.01M281.6 89.4h.01M265.3 85.8h.01M281.5 83.3h.01M282.5 86.1h.01M284.2 86.0h.01M274.7 87.9h.01M282.0 86.4h.01M272.5 80.4h.01M273.1 81.6h.01M277.5 85.9h.01M275.3 84.9h.01M277.2 94.0h.01M285.2 81.6h.01M279.1 83.0h.01M275.1 83.5h.01M271.1 77.1h.01M256.9 86.1h.01M285.0 79.7h.01M279.8 82.7h.01M278.0 80.2h.01M274.1 84.3h.01M257.5 86.1h.01M274.8 70.5h.01M280.9 84.7h.01M277.4 87.0h.01M272.6 78.6h.01M272.4 82.4h.01M272.1 82.5h.01M278.3 88.1h.01M270.5 79.0h.01M290.8 91.0h.01M263.8 74.6h.01M269.4 86.1h.01M280.0 82.9h.01M263.3 86.1h.01M280.5 84.8h.01M271.9 88.2h.01M275.3 78.3h.01M276.5 77.3h.01M283.3 87.6h.01M268.0 86.1h.01M285.5 72.3h.01M274.7 94.4h.01M263.7 83.8h.01M264.7 84.4h.01M257.1 75.3h.01M271.6 85.6h.01M278.7 87.3h.01M284.7 88.9h.01M281.5 79.1h.01M293.5 89.7h.01M281.5 90.6h.01M272.8 84.3h.01M292.8 72.6h.01M278.6 74.7h.01M270.6 84.3h.01M253.1 68.4h.01M251.1 67.7h.01M249.0 67.0h.01M248.0 69.5h.01M248.5 69.6h.01M252.8 67.2h.01M260.7 68.2h.01M245.5 69.2h.01M240.6 68.6h.01M252.9 64.5h.01M255.2 67.2h.01M264.8 66.8h.01M264.4 71.3h.01M251.8 65.9h.01M261.4 67.6h.01M255.6 67.3h.01M248.9 67.0h.01M250.1 64.1h.01M253.4 72.3h.01M262.9 67.8h.01M255.5 69.2h.01M261.6 68.7h.01M252.5 67.0h.01M260.5 74.4h.01M251.7 62.8h.01M258.9 67.7h.01M255.5 71.0h.01M255.2 64.6h.01M245.1 67.8h.01M249.1 68.6h.01M248.5 67.0h.01M247.5 67.0h.01M252.6 69.4h.01M261.5 67.5h.01M250.6 72.8h.01M256.7 69.5h.01M257.9 71.6h.01M259.9 69.6h.01M258.7 65.8h.01M251.8 67.7h.01M255.3 68.0h.01M256.4 68.0h.01M252.7 63.9h.01M259.0 69.4h.01M250.5 69.2h.01M256.8 68.1h.01M245.7 64.9h.01M251.9 72.0h.01M250.6 67.1h.01M249.3 66.7h.01M256.6 62.8h.01M240.7 69.6h.01M255.0 66.4h.01M259.7 70.4h.01M244.4 67.5h.01M260.4 66.3h.01M253.3 70.3h.01M253.5 64.9h.01M251.4 64.6h.01M257.6 63.6h.01M259.9 63.8h.01M255.1 64.3h.01M253.3 70.5h.01M260.5 71.2h.01M254.4 68.2h.01M256.0 69.5h.01M252.9 70.7h.01M256.5 70.8h.01M257.3 69.6h.01M251.2 66.9h.01M258.0 78.4h.01M261.4 84.0h.01M261.6 86.2h.01M265.0 67.3h.01M261.1 87.2h.01M254.6 83.7h.01M259.2 77.5h.01M262.6 70.5h.01M262.5 76.6h.01M259.7 83.4h.01M272.4 81.6h.01M263.6 79.6h.01M259.7 81.2h.01M266.5 80.8h.01M264.6 78.7h.01M269.5 71.6h.01M263.7 82.6h.01M262.7 74.3h.01M258.5 78.7h.01M262.2 73.8h.01M258.7 82.6h.01M265.0 77.0h.01M259.8 76.2h.01M269.3 82.3h.01M261.7 84.9h.01M268.8 85.7h.01M257.6 79.4h.01M260.7 78.1h.01M258.2 77.9h.01M258.6 81.5h.01M262.0 72.7h.01M256.8 77.4h.01M263.8 82.3h.01M261.7 63.3h.01M260.4 76.1h.01M260.9 73.7h.01M260.6 76.5h.01M270.0 83.3h.01M261.3 79.6h.01M261.5 80.7h.01M260.7 79.7h.01M265.0 84.0h.01M262.8 86.5h.01M262.6 74.9h.01M256.6 76.3h.01M261.7 81.8h.01M265.1 76.9h.01M259.5 83.7h.01M265.4 77.4h.01M262.9 86.7h.01M262.8 79.5h.01M255.6 86.4h.01M263.8 80.4h.01M260.5 73.5h.01M261.6 79.3h.01M265.2 73.7h.01M266.2 80.0h.01M265.5 74.9h.01M262.9 85.9h.01" stroke="#e4262b" stroke-width="0.9" stroke-linecap="round" fill="none" opacity="0.42"/>
<path d="M228.20 95.90H231.80M229.20 90.44H231.80M229.20 87.24H231.80M229.20 84.97H231.80M229.20 83.21H231.80M229.20 81.78H231.80M229.20 80.56H231.80M229.20 79.51H231.80M229.20 78.58H231.80M228.20 77.75H231.80M229.20 72.29H231.80M229.20 69.09H231.80M229.20 66.82H231.80M229.20 65.06H231.80M229.20 63.63H231.80M229.20 62.41H231.80M229.20 61.36H231.80M229.20 60.43H231.80M228.20 59.60H231.80M229.20 54.14H231.80M229.20 50.94H231.80M229.20 48.67H231.80M229.20 46.91H231.80M229.20 45.48H231.80M229.20 44.26H231.80M229.20 43.21H231.80M229.20 42.28H231.80M228.20 41.45H231.80M229.20 35.99H231.80M229.20 32.79H231.80M229.20 30.52H231.80M229.20 28.76H231.80M229.20 27.33H231.80M229.20 26.11H231.80M229.20 25.06H231.80M229.20 24.13H231.80M228.30 23.30H231.80M231.80 95.90V99.50M237.29 95.90V98.50M240.51 95.90V98.50M242.79 95.90V98.50M244.56 95.90V98.50M246.00 95.90V98.50M247.22 95.90V98.50M248.28 95.90V98.50M249.21 95.90V98.50M250.05 95.90V99.50M255.54 95.90V98.50M258.76 95.90V98.50M261.04 95.90V98.50M262.81 95.90V98.50M264.25 95.90V98.50M265.47 95.90V98.50M266.53 95.90V98.50M267.46 95.90V98.50M268.30 95.90V99.50M273.79 95.90V98.50M277.01 95.90V98.50M279.29 95.90V98.50M281.06 95.90V98.50M282.50 95.90V98.50M283.72 95.90V98.50M284.78 95.90V98.50M285.71 95.90V98.50M286.55 95.90V99.50M292.04 95.90V98.50M295.26 95.90V98.50M297.54 95.90V98.50M299.31 95.90V98.50M300.75 95.90V98.50M301.97 95.90V98.50M303.03 95.90V98.50M303.96 95.90V98.50M304.80 95.90V99.40" stroke="#222" stroke-width="0.85" fill="none"/>
<text x="215.80" y="29.80" font-size="7.70" text-anchor="start" fill="#222" textLength="9.97" lengthAdjust="spacingAndGlyphs">10<tspan dy="-3.50" font-size="6.55">4</tspan></text>
<text x="215.80" y="46.80" font-size="7.70" text-anchor="start" fill="#222" textLength="9.97" lengthAdjust="spacingAndGlyphs">10<tspan dy="-3.50" font-size="6.55">3</tspan></text>
<text x="215.80" y="63.30" font-size="7.70" text-anchor="start" fill="#222" textLength="9.97" lengthAdjust="spacingAndGlyphs">10<tspan dy="-3.50" font-size="6.55">2</tspan></text>
<text x="215.80" y="79.80" font-size="7.70" text-anchor="start" fill="#222" textLength="9.97" lengthAdjust="spacingAndGlyphs">10<tspan dy="-3.50" font-size="6.55">1</tspan></text>
<text x="215.80" y="96.50" font-size="7.70" text-anchor="start" fill="#222" textLength="9.97" lengthAdjust="spacingAndGlyphs">10<tspan dy="-3.50" font-size="6.55">0</tspan></text>
<text x="228.40" y="109.70" font-size="7.70" text-anchor="start" fill="#222" textLength="9.97" lengthAdjust="spacingAndGlyphs">10<tspan dy="-3.50" font-size="6.55">0</tspan></text>
<text x="246.20" y="109.70" font-size="7.70" text-anchor="start" fill="#222" textLength="9.97" lengthAdjust="spacingAndGlyphs">10<tspan dy="-3.50" font-size="6.55">1</tspan></text>
<text x="260.80" y="109.70" font-size="7.70" text-anchor="start" fill="#222" textLength="9.97" lengthAdjust="spacingAndGlyphs">10<tspan dy="-3.50" font-size="6.55">2</tspan></text>
<text x="281.10" y="109.70" font-size="7.70" text-anchor="start" fill="#222" textLength="9.97" lengthAdjust="spacingAndGlyphs">10<tspan dy="-3.50" font-size="6.55">3</tspan></text>
<text x="298.00" y="109.70" font-size="7.70" text-anchor="start" fill="#222" textLength="9.97" lengthAdjust="spacingAndGlyphs">10<tspan dy="-3.50" font-size="6.55">4</tspan></text>
<rect x="231.80" y="23.30" width="73.00" height="72.60" fill="none" stroke="#111" stroke-width="1.5" />
<line x1="262.20" y1="23.30" x2="262.20" y2="95.90" stroke="#000" stroke-width="1.5" />
<line x1="231.80" y1="72.20" x2="304.80" y2="72.20" stroke="#000" stroke-width="1.5" />
<ellipse cx="342.0" cy="84.0" rx="8.5" ry="3.0" transform="rotate(-45 342.0 84.0)" fill="#e3201f" opacity="0.85" filter="url(#bl)"/>
<path d="M339.5 81.2h.01M341.2 87.1h.01M332.3 89.0h.01M341.0 81.5h.01M342.8 78.9h.01M331.5 92.5h.01M347.2 75.2h.01M342.2 84.9h.01M339.3 91.2h.01M343.4 84.3h.01M330.4 90.0h.01M342.0 86.9h.01M348.4 76.4h.01M341.3 86.6h.01M347.5 75.1h.01M344.3 80.8h.01M341.7 87.6h.01M335.9 86.6h.01M344.9 81.0h.01M340.2 85.5h.01M343.4 81.2h.01M346.2 81.2h.01M351.2 79.1h.01M345.5 79.7h.01M341.2 82.8h.01M355.0 69.4h.01M347.0 84.0h.01M333.7 89.9h.01M338.0 84.7h.01M334.7 90.0h.01M349.3 79.1h.01M342.0 84.3h.01M335.2 94.2h.01M341.8 80.3h.01M342.4 83.0h.01M337.4 85.3h.01M336.8 86.2h.01M344.7 82.7h.01M343.0 82.4h.01M343.7 90.1h.01M343.6 82.7h.01M339.0 86.6h.01M333.5 88.0h.01M338.1 82.0h.01M347.9 82.1h.01M343.5 83.4h.01M343.1 84.6h.01M347.0 82.1h.01M350.4 75.3h.01M342.9 77.1h.01M338.9 82.9h.01M352.9 81.4h.01M341.9 79.3h.01M341.3 85.0h.01M344.8 85.3h.01M341.3 74.8h.01M347.4 76.5h.01M341.9 89.8h.01M338.0 83.3h.01M335.6 91.3h.01M349.0 82.4h.01M340.1 84.4h.01M348.7 75.3h.01M349.3 77.3h.01M342.5 82.7h.01M342.4 82.0h.01M338.3 87.6h.01M339.3 88.2h.01M341.8 83.5h.01M340.5 85.0h.01M350.1 75.5h.01M338.4 86.9h.01M344.6 80.6h.01M340.6 84.7h.01M343.4 84.2h.01M340.9 79.2h.01M331.8 85.2h.01M347.8 82.2h.01M348.3 78.0h.01M347.3 78.4h.01M338.3 82.3h.01M337.0 87.3h.01M349.4 82.6h.01M340.3 87.4h.01M341.7 81.6h.01M332.2 91.9h.01M334.4 91.2h.01M340.8 84.8h.01M341.9 86.1h.01M339.1 90.7h.01M334.0 93.0h.01M342.2 81.0h.01M335.4 93.7h.01M340.1 89.2h.01M345.5 80.5h.01M343.7 86.1h.01M341.8 80.8h.01M343.7 84.5h.01M343.1 83.7h.01M340.9 84.9h.01M334.7 86.6h.01M346.0 77.5h.01M340.0 80.6h.01M341.0 82.1h.01M354.0 67.5h.01M339.0 91.0h.01M343.2 74.9h.01M344.7 84.6h.01M337.3 91.8h.01M337.4 85.3h.01M339.3 85.4h.01M338.2 85.4h.01M345.7 79.9h.01M347.6 77.1h.01M343.7 82.8h.01M342.2 83.2h.01M344.5 87.9h.01M337.5 86.9h.01M341.3 87.1h.01M345.5 84.0h.01M335.9 91.7h.01M340.4 84.8h.01M338.9 80.1h.01M343.4 83.3h.01M334.9 91.5h.01M348.4 75.8h.01M344.2 81.0h.01M336.2 86.9h.01M342.4 88.7h.01M344.3 79.0h.01M346.3 79.1h.01M339.4 88.7h.01M334.5 86.3h.01M344.5 74.6h.01M341.5 79.0h.01M341.3 84.2h.01M335.6 82.8h.01M341.2 84.9h.01M337.4 88.8h.01M345.2 78.1h.01M340.9 81.1h.01M344.8 83.6h.01M355.2 73.4h.01M346.5 84.7h.01M339.2 91.3h.01M338.1 86.1h.01M347.4 79.3h.01M345.4 75.1h.01M342.1 82.1h.01M337.0 82.4h.01M346.7 80.0h.01M334.7 87.0h.01M340.4 91.2h.01M340.8 84.3h.01M344.2 81.9h.01M344.4 84.5h.01M345.1 84.2h.01M336.4 90.5h.01M340.4 86.3h.01M340.5 83.4h.01M342.0 87.8h.01M337.0 85.0h.01M346.5 83.0h.01M340.9 85.9h.01M337.6 88.2h.01M348.6 80.2h.01M342.1 83.1h.01M334.9 93.0h.01M346.1 83.8h.01M352.1 74.9h.01M344.4 77.6h.01M349.2 79.8h.01M349.6 78.6h.01M346.9 84.6h.01M340.1 88.7h.01M345.6 77.5h.01M337.4 90.8h.01M343.7 84.7h.01M343.6 79.7h.01M345.7 84.5h.01M339.9 85.6h.01M338.3 91.3h.01M348.6 72.2h.01M347.3 82.0h.01M338.8 86.4h.01M335.8 88.1h.01M344.1 84.6h.01M344.2 85.1h.01M340.9 81.2h.01M351.1 79.1h.01M342.1 90.9h.01M344.5 82.1h.01M346.4 70.4h.01M336.0 93.5h.01M339.2 83.8h.01M350.1 77.5h.01M335.0 89.5h.01M349.4 83.1h.01M333.3 94.7h.01M337.2 83.1h.01M338.4 82.3h.01M342.7 89.7h.01M346.0 83.0h.01M345.6 81.8h.01M344.6 77.3h.01M342.1 87.5h.01M338.0 87.1h.01M350.7 80.8h.01M337.9 85.8h.01M345.5 81.7h.01M340.2 88.6h.01M345.0 81.6h.01M358.5 71.8h.01M348.0 81.9h.01M358.1 71.3h.01M339.5 88.3h.01M341.6 82.8h.01M343.9 83.3h.01M341.1 83.6h.01M343.2 77.3h.01M346.1 80.1h.01M339.1 78.7h.01M346.9 72.8h.01M339.4 89.6h.01M338.7 86.5h.01M331.0 94.6h.01M344.5 84.3h.01M341.4 86.0h.01M343.1 80.8h.01M342.4 91.3h.01M340.6 90.6h.01M345.4 86.4h.01M340.3 88.3h.01M343.4 82.1h.01M342.3 81.3h.01M341.2 83.9h.01M345.7 80.2h.01M335.1 90.5h.01M340.2 83.1h.01M349.3 78.2h.01M344.8 78.6h.01M342.3 87.9h.01M336.3 92.0h.01M341.8 82.8h.01M340.7 81.8h.01M341.1 80.9h.01M338.9 93.0h.01M335.1 84.0h.01M345.4 77.9h.01M347.3 80.1h.01M350.1 75.3h.01M343.2 79.4h.01M345.9 86.0h.01M345.0 81.9h.01M332.3 93.4h.01M337.7 92.0h.01M339.5 88.5h.01M341.1 92.5h.01M337.1 90.3h.01M355.1 71.3h.01M339.4 89.6h.01M348.6 80.7h.01M333.5 94.4h.01M341.8 83.0h.01M346.4 81.6h.01M339.8 93.0h.01M337.9 82.3h.01M351.8 79.8h.01M349.3 78.8h.01M339.9 90.3h.01M352.6 76.2h.01M348.4 74.7h.01M348.9 80.6h.01M332.2 88.8h.01M339.1 87.9h.01M344.1 81.4h.01M341.8 84.3h.01M343.9 84.7h.01M344.6 81.5h.01M342.7 82.0h.01M345.2 79.2h.01M350.1 75.8h.01M342.2 81.4h.01M341.0 86.2h.01M341.3 82.9h.01M336.9 90.1h.01M344.1 84.3h.01M347.7 77.2h.01M332.6 94.0h.01M331.2 91.2h.01M348.3 79.9h.01M338.1 86.3h.01M338.6 81.5h.01M344.0 81.1h.01M349.1 72.9h.01M345.8 77.8h.01M345.4 77.2h.01M345.0 79.6h.01M338.2 88.1h.01M345.4 82.4h.01M351.4 77.5h.01M332.2 93.6h.01M342.8 78.6h.01M337.0 90.4h.01M344.0 88.4h.01M344.9 83.4h.01M349.7 74.3h.01M340.5 82.4h.01M345.6 84.6h.01M348.8 77.1h.01M337.6 86.4h.01M336.0 91.4h.01M344.4 73.0h.01M335.4 92.9h.01M337.9 91.9h.01M346.5 80.4h.01M346.4 80.0h.01M348.6 84.4h.01M346.4 77.3h.01M338.1 87.8h.01M341.5 85.4h.01M340.8 88.3h.01M343.3 84.5h.01M343.6 85.1h.01M339.7 93.0h.01M345.0 83.1h.01M347.4 82.9h.01M346.4 80.7h.01M338.5 82.1h.01M342.9 82.4h.01M345.6 89.9h.01M333.7 93.7h.01M350.1 79.6h.01M346.0 75.5h.01M339.1 90.1h.01M344.4 88.6h.01M344.0 83.2h.01M344.1 81.3h.01M341.8 82.2h.01M341.4 83.4h.01M341.1 80.2h.01M336.3 92.5h.01M341.8 81.2h.01M339.5 83.3h.01M349.3 70.8h.01M349.2 73.8h.01M344.1 81.4h.01M342.5 87.6h.01M345.9 79.3h.01M342.2 92.3h.01M349.6 77.1h.01M341.7 86.0h.01M345.3 85.7h.01M338.0 89.0h.01M341.3 90.3h.01M351.0 74.6h.01M347.8 83.7h.01M339.4 83.9h.01M348.5 79.6h.01M344.4 87.7h.01M340.3 79.6h.01M344.1 82.1h.01M351.6 74.3h.01M342.5 85.8h.01M341.1 80.2h.01M342.6 82.8h.01M353.9 81.1h.01M335.4 88.0h.01M337.3 87.1h.01M339.4 87.6h.01M345.3 76.1h.01M331.8 88.6h.01M350.4 80.7h.01M332.2 89.0h.01M345.3 85.3h.01M347.8 79.1h.01M346.5 81.1h.01M343.6 90.2h.01M340.5 82.0h.01M337.5 83.6h.01M344.8 85.8h.01M338.7 92.5h.01M353.3 73.9h.01M335.5 88.4h.01M338.6 83.4h.01M336.2 89.9h.01M342.9 86.0h.01M340.5 93.4h.01M349.4 80.1h.01M342.8 90.4h.01M344.4 89.0h.01M346.0 76.9h.01M344.0 89.6h.01M347.1 78.6h.01M344.0 83.3h.01M338.6 87.6h.01M338.7 86.6h.01M343.0 79.9h.01M346.3 80.5h.01M348.0 81.7h.01M349.8 78.7h.01M345.7 80.0h.01M343.6 79.5h.01M342.9 86.6h.01M343.2 85.0h.01M340.2 91.8h.01M340.6 87.6h.01M344.3 85.8h.01M338.9 84.2h.01M333.0 93.2h.01M337.9 91.1h.01M345.3 72.6h.01M337.1 91.1h.01M349.1 78.2h.01M345.1 83.2h.01M348.5 84.0h.01M343.2 78.6h.01M340.8 86.8h.01M338.2 87.7h.01M338.8 85.4h.01M345.2 79.7h.01M336.0 88.3h.01M346.8 87.6h.01M346.7 85.3h.01M340.9 77.6h.01M342.8 80.5h.01M334.1 89.0h.01M348.2 72.0h.01M341.9 89.2h.01M342.5 77.5h.01M341.1 83.6h.01M343.1 86.3h.01M339.2 86.4h.01M346.1 73.2h.01M341.7 86.7h.01M335.4 89.3h.01M336.6 91.0h.01M341.1 88.6h.01M347.6 78.8h.01M341.3 86.4h.01M340.6 81.5h.01M348.2 78.9h.01M343.8 77.5h.01M350.9 83.2h.01M342.8 78.2h.01M342.7 83.7h.01M343.2 82.5h.01M344.1 80.6h.01M342.4 81.6h.01M345.0 85.3h.01M341.5 87.7h.01M337.6 87.9h.01M343.8 87.5h.01M341.2 90.1h.01M335.2 91.3h.01M348.3 80.5h.01M335.4 87.0h.01M344.4 77.2h.01M344.4 80.1h.01M347.0 88.2h.01M351.7 77.5h.01M336.5 91.7h.01M342.6 83.6h.01M345.7 74.0h.01M344.3 82.6h.01M342.3 91.0h.01M336.5 90.6h.01M338.7 79.7h.01M333.8 89.7h.01M348.2 81.6h.01M345.9 81.4h.01M342.3 88.8h.01M353.3 81.1h.01M347.5 81.8h.01M337.7 89.5h.01M338.3 92.0h.01M336.3 89.8h.01M337.7 87.4h.01M343.6 80.7h.01M341.7 81.1h.01M348.0 75.6h.01M351.5 82.6h.01M343.8 87.2h.01M340.9 87.2h.01M340.1 88.9h.01M338.2 91.9h.01M351.6 74.9h.01M342.4 92.7h.01M349.8 80.6h.01M341.6 87.4h.01M341.7 78.4h.01M345.0 80.6h.01M351.3 79.7h.01M338.2 86.3h.01M344.7 84.2h.01M340.3 86.0h.01M346.3 81.6h.01M348.6 78.4h.01M334.7 85.5h.01M345.8 79.2h.01M340.2 85.4h.01M334.0 91.6h.01M341.7 92.1h.01M344.2 81.3h.01M344.7 84.5h.01M338.3 87.6h.01M345.6 90.4h.01M339.0 80.1h.01M351.4 84.6h.01M344.1 86.2h.01M339.1 86.6h.01M334.3 88.6h.01M337.5 90.8h.01M342.8 81.2h.01M342.5 83.7h.01M340.1 86.8h.01M340.7 82.0h.01M334.4 89.4h.01M345.7 86.0h.01M350.3 76.9h.01M347.3 79.3h.01M348.1 78.5h.01M343.8 81.5h.01M346.1 87.6h.01M336.5 90.4h.01M341.4 89.0h.01M350.7 73.9h.01M342.1 77.8h.01M341.1 85.3h.01M345.0 82.2h.01M335.7 88.4h.01M340.2 88.3h.01M340.4 92.0h.01M339.9 78.1h.01M351.0 75.5h.01M339.8 87.2h.01M333.7 94.2h.01M351.5 79.3h.01M338.7 84.2h.01M346.9 79.1h.01M344.6 84.2h.01M338.6 91.3h.01M333.3 91.3h.01M340.4 89.0h.01M346.7 80.8h.01M345.9 82.1h.01M338.1 81.0h.01M341.6 84.0h.01M342.0 85.3h.01M339.1 83.6h.01M331.0 88.7h.01M350.1 79.4h.01M335.0 90.9h.01M347.6 84.8h.01M339.6 87.7h.01M344.6 74.8h.01M338.5 88.0h.01M342.8 91.9h.01M346.9 79.9h.01M339.2 90.9h.01M344.4 79.9h.01M337.1 83.8h.01M343.5 86.2h.01M348.4 79.9h.01M345.1 78.7h.01M342.2 88.9h.01M342.9 80.3h.01M346.3 83.1h.01M345.9 80.6h.01M340.4 87.7h.01M350.9 75.4h.01M339.5 88.4h.01M336.5 91.2h.01M342.6 87.6h.01M344.8 85.6h.01M353.2 71.5h.01M338.9 89.5h.01M342.0 84.9h.01M340.3 88.5h.01M338.2 79.9h.01M341.6 86.1h.01M346.9 76.9h.01M340.4 90.6h.01M339.3 87.7h.01M346.0 83.1h.01M340.0 82.1h.01M346.3 78.0h.01M343.5 90.7h.01M344.4 77.6h.01M339.3 86.3h.01M334.6 84.7h.01M347.7 81.4h.01M342.6 82.2h.01M344.4 84.3h.01M336.3 89.2h.01M340.7 88.5h.01M340.9 80.5h.01M342.6 90.8h.01M337.6 89.7h.01M341.5 89.9h.01M340.9 83.8h.01M335.8 90.0h.01M347.5 81.1h.01M338.6 94.1h.01M338.8 83.6h.01M341.5 82.4h.01M338.0 86.2h.01M340.7 83.8h.01M334.7 94.3h.01M341.9 89.2h.01M345.9 82.6h.01M345.5 85.7h.01M338.5 84.2h.01M338.4 77.4h.01M340.7 86.6h.01M342.5 88.8h.01M345.8 80.8h.01M342.2 88.4h.01M337.9 87.1h.01M346.9 81.4h.01M351.7 73.1h.01M347.9 77.3h.01M353.2 79.3h.01M337.8 86.9h.01M336.9 91.9h.01M346.8 81.6h.01M334.5 89.4h.01M331.8 88.9h.01M332.3 88.5h.01M342.0 86.0h.01M345.1 80.9h.01M338.7 87.8h.01M344.2 80.7h.01M341.7 83.4h.01M339.5 87.1h.01M338.6 92.1h.01M335.2 93.4h.01M338.3 94.2h.01M344.7 78.2h.01M337.6 84.6h.01M342.5 85.4h.01M351.9 68.3h.01M347.0 76.7h.01M345.1 84.5h.01M345.5 82.2h.01M341.0 85.3h.01M345.1 85.7h.01M333.8 91.1h.01M334.0 89.1h.01M340.2 90.5h.01M355.2 75.5h.01M336.3 90.7h.01M337.3 91.1h.01M349.4 78.7h.01M346.0 79.4h.01M342.6 85.9h.01M347.6 77.0h.01M342.9 84.4h.01M347.1 78.6h.01M338.7 92.0h.01M344.8 82.8h.01M335.7 91.0h.01M329.6 89.7h.01M340.0 84.8h.01M347.6 83.9h.01M345.3 87.7h.01M340.6 88.8h.01M336.0 91.2h.01M340.0 85.6h.01M341.2 77.8h.01M341.0 82.2h.01M343.3 84.4h.01M339.5 85.6h.01M337.4 91.4h.01M339.6 88.6h.01M337.7 94.3h.01M339.3 91.8h.01M340.9 87.6h.01M342.6 86.3h.01M344.5 86.6h.01M346.6 82.0h.01M348.8 74.3h.01M348.5 77.6h.01M335.7 92.9h.01M344.3 88.4h.01M339.7 87.0h.01M339.4 79.6h.01M342.5 79.8h.01M352.1 79.9h.01M338.9 81.5h.01M343.2 83.7h.01M344.9 80.0h.01M335.9 90.3h.01M340.9 92.4h.01M337.3 86.8h.01M339.4 82.3h.01M339.6 86.4h.01M339.1 86.4h.01M348.9 78.6h.01M334.6 90.5h.01M344.4 79.2h.01M342.3 83.8h.01M344.2 81.2h.01M339.6 83.5h.01M342.0 80.7h.01M350.4 75.2h.01M342.4 86.9h.01M341.8 84.9h.01M340.3 83.3h.01M336.1 87.9h.01M346.3 77.2h.01M339.1 85.6h.01M349.3 84.2h.01M338.5 90.1h.01M342.0 83.1h.01M342.0 79.3h.01M346.5 80.3h.01M340.2 92.4h.01M348.4 82.0h.01M334.4 91.4h.01M340.7 88.2h.01M344.9 73.7h.01M341.9 84.0h.01M346.8 79.0h.01M335.4 90.6h.01M335.4 88.3h.01M341.3 83.2h.01M340.4 80.1h.01M355.8 74.4h.01M343.0 78.2h.01M329.8 94.0h.01M345.2 89.6h.01M347.4 76.5h.01M350.3 80.2h.01M344.4 86.4h.01M342.3 81.4h.01M336.0 90.2h.01M344.2 76.6h.01M335.2 93.7h.01M341.3 87.9h.01M348.3 71.9h.01M341.2 93.9h.01M340.4 85.6h.01M345.2 85.0h.01M348.7 77.6h.01M340.3 86.0h.01M346.0 85.1h.01M346.2 86.9h.01M338.8 89.8h.01M353.1 77.4h.01M341.9 81.0h.01M338.2 87.7h.01M343.0 82.2h.01M333.5 90.6h.01M346.2 83.1h.01M334.5 91.0h.01M332.7 92.0h.01M359.4 65.9h.01M339.2 85.0h.01M332.5 87.3h.01M341.3 84.0h.01M346.0 73.6h.01M346.7 84.5h.01M335.2 93.7h.01M349.2 76.6h.01M342.1 81.5h.01M345.6 84.8h.01M340.8 85.0h.01M345.5 83.7h.01M334.1 93.0h.01M339.6 88.8h.01M347.7 79.4h.01M346.4 75.7h.01M338.1 84.6h.01M342.5 84.2h.01M338.7 83.1h.01M340.8 83.9h.01" stroke="#e4262b" stroke-width="0.9" stroke-linecap="round" fill="none" opacity="0.7"/>
<path d="M367.9 45.4h.01M369.6 47.4h.01M360.3 45.8h.01M361.6 50.5h.01M370.4 46.4h.01M367.4 40.6h.01M359.1 44.2h.01M365.2 40.3h.01M366.3 47.8h.01M368.0 52.8h.01M368.5 45.0h.01M366.3 49.0h.01M362.8 51.9h.01M368.8 45.6h.01M364.0 62.1h.01M368.6 50.4h.01M371.5 50.5h.01M366.7 49.4h.01M363.2 49.4h.01M361.3 48.3h.01M367.7 40.1h.01M371.9 41.8h.01M369.2 44.4h.01M367.0 43.8h.01M373.7 50.8h.01M371.6 49.8h.01M368.2 47.2h.01M365.3 49.1h.01M366.5 45.9h.01M361.8 45.3h.01M367.9 44.6h.01M367.1 46.0h.01M362.9 42.9h.01M363.8 45.4h.01M365.3 51.2h.01M362.7 38.2h.01M368.2 44.7h.01M365.7 57.0h.01M370.6 49.0h.01M369.0 47.1h.01M369.0 44.1h.01M363.9 44.7h.01M370.9 53.0h.01M364.2 51.4h.01M365.6 51.0h.01M365.1 50.5h.01M365.7 45.4h.01M366.0 47.3h.01M364.3 41.0h.01M371.3 45.0h.01M360.5 37.3h.01M357.5 44.1h.01M370.3 39.9h.01M365.1 39.1h.01M369.5 48.1h.01M367.1 52.2h.01M371.2 50.9h.01M364.3 41.2h.01M362.9 39.4h.01M371.7 45.9h.01M366.5 47.5h.01M372.3 44.3h.01M369.8 47.9h.01M365.7 38.8h.01M369.0 43.6h.01M364.7 47.6h.01M366.4 51.3h.01M364.1 47.3h.01M367.0 46.8h.01M368.2 45.6h.01M369.8 43.7h.01M361.7 46.5h.01M369.8 44.5h.01M364.2 45.2h.01M366.6 45.9h.01M367.1 39.6h.01M370.8 49.1h.01M363.5 52.3h.01M367.5 52.7h.01M362.5 53.5h.01M366.3 38.2h.01M368.5 45.4h.01M363.0 45.8h.01M360.1 49.1h.01M365.5 45.6h.01M370.5 46.8h.01M364.1 42.8h.01M365.9 51.1h.01M364.3 42.4h.01M369.0 46.9h.01M366.0 55.3h.01M362.4 47.5h.01M360.6 45.4h.01M367.9 51.3h.01M362.2 50.1h.01M368.5 46.2h.01M373.7 46.7h.01M363.4 48.4h.01M360.4 53.1h.01M369.2 45.0h.01M368.0 48.9h.01M372.1 44.1h.01M362.1 38.3h.01M365.2 40.2h.01M365.6 48.4h.01M364.8 42.8h.01M369.8 45.8h.01M366.8 50.6h.01M362.1 42.9h.01M373.8 46.0h.01M362.9 45.6h.01M364.4 41.6h.01M364.9 46.6h.01M366.1 48.9h.01M360.8 40.5h.01M368.6 44.8h.01M369.9 47.9h.01M361.8 48.9h.01M363.0 47.7h.01M369.9 55.4h.01M365.9 49.5h.01M367.1 49.9h.01M358.2 45.1h.01M367.0 48.6h.01M363.8 50.1h.01M369.5 47.0h.01M365.4 45.2h.01M366.6 51.5h.01M370.7 44.7h.01M363.3 43.4h.01M369.2 47.6h.01M367.0 48.6h.01M367.3 46.2h.01M362.9 44.1h.01M366.5 48.3h.01M365.0 45.0h.01M370.3 44.8h.01M366.8 45.4h.01M363.5 40.4h.01M364.5 43.3h.01M368.7 42.0h.01M364.9 49.4h.01M365.8 48.7h.01M368.7 39.9h.01M364.9 42.7h.01M370.3 46.2h.01M367.6 53.6h.01M365.0 47.0h.01M367.4 45.6h.01M370.0 50.0h.01M369.2 46.9h.01M365.1 45.2h.01M365.0 40.0h.01M367.2 50.0h.01M366.1 44.6h.01M366.2 47.6h.01M367.1 54.0h.01M363.5 48.1h.01M368.2 47.0h.01M365.4 42.5h.01M364.3 49.5h.01M370.5 44.0h.01M367.6 48.8h.01M369.2 47.6h.01M367.5 50.3h.01M362.6 46.8h.01M360.7 38.7h.01M363.6 40.4h.01M367.7 50.7h.01M365.2 46.1h.01M363.6 58.3h.01M364.1 62.8h.01M363.4 54.5h.01M361.3 65.5h.01M360.8 70.1h.01M361.6 69.6h.01M360.8 54.7h.01M365.1 64.0h.01M361.0 74.4h.01M364.0 62.3h.01M360.1 71.4h.01M366.5 63.7h.01M357.9 61.8h.01M362.0 62.7h.01M368.2 55.6h.01M363.8 66.5h.01M365.0 58.1h.01M361.2 55.0h.01M358.5 66.3h.01M365.9 51.9h.01M365.6 51.3h.01M351.2 66.6h.01M369.9 50.7h.01M361.3 61.2h.01M363.8 54.1h.01M362.6 58.3h.01M361.9 61.4h.01M364.2 54.8h.01M366.2 48.8h.01M371.2 49.1h.01M363.4 62.5h.01M365.2 62.3h.01M369.8 53.2h.01M363.6 61.2h.01M363.1 55.8h.01M369.4 56.1h.01M362.7 58.0h.01M363.1 61.2h.01M362.9 62.7h.01M363.9 63.6h.01M369.8 55.2h.01M370.3 58.1h.01M366.2 61.7h.01M365.4 46.5h.01M370.5 56.0h.01M360.1 67.0h.01M362.0 73.3h.01M369.0 66.1h.01M364.0 65.6h.01M359.3 60.6h.01M365.1 57.0h.01M366.7 50.3h.01M365.6 69.6h.01M359.4 60.4h.01M368.8 64.0h.01M361.7 52.8h.01M364.8 73.3h.01M360.3 59.8h.01M361.7 57.7h.01M365.2 60.1h.01M359.2 74.2h.01M363.7 58.8h.01M367.8 60.9h.01M362.2 66.5h.01M359.6 64.6h.01M366.8 65.3h.01M363.4 60.0h.01M358.3 58.2h.01M364.0 66.3h.01M365.0 57.6h.01M361.2 59.3h.01M363.0 68.5h.01M364.7 56.7h.01M364.3 56.8h.01M365.9 44.9h.01M360.0 51.0h.01M365.7 59.9h.01M363.1 68.2h.01M359.1 67.3h.01M366.2 55.5h.01M370.8 51.3h.01M360.4 58.0h.01M365.7 59.1h.01M357.1 56.8h.01M360.7 77.4h.01M368.6 61.8h.01M359.9 61.8h.01M359.8 60.8h.01M365.8 57.6h.01M365.3 58.0h.01M360.3 70.2h.01M366.4 58.4h.01M361.2 60.9h.01M364.9 66.3h.01M368.5 64.1h.01M357.8 73.3h.01M367.0 66.5h.01M370.4 50.8h.01M363.4 56.4h.01M369.5 52.8h.01M361.1 70.2h.01M366.7 57.9h.01M372.0 52.2h.01M365.8 58.8h.01M366.1 58.5h.01M360.9 61.1h.01M358.9 62.9h.01M361.8 66.2h.01M363.3 55.3h.01M363.9 68.7h.01M356.8 59.7h.01M367.9 50.8h.01M360.3 63.9h.01M362.0 55.3h.01M371.0 54.7h.01M363.9 43.8h.01M361.8 51.1h.01M368.4 69.4h.01M357.4 72.7h.01M366.9 59.3h.01M366.3 63.1h.01M363.5 47.7h.01M360.9 59.5h.01M363.7 54.8h.01M368.6 53.4h.01M367.6 57.3h.01M365.7 52.5h.01M364.9 54.7h.01M358.1 58.9h.01M362.8 65.7h.01M366.2 53.3h.01M364.9 42.8h.01M358.7 68.2h.01M368.3 66.1h.01M364.3 64.2h.01M367.7 48.6h.01M359.6 67.6h.01M367.7 62.4h.01M363.4 57.2h.01M363.3 53.4h.01M334.6 58.2h.01M343.4 55.4h.01M356.2 61.7h.01M341.9 61.6h.01M337.1 65.4h.01M347.6 55.5h.01M349.4 68.5h.01M343.3 49.2h.01M358.6 57.2h.01M354.9 51.7h.01M348.3 52.0h.01M349.8 54.9h.01M342.1 69.3h.01M348.0 41.0h.01M344.6 49.8h.01M338.8 52.4h.01M343.2 57.3h.01M341.3 42.3h.01M342.8 64.0h.01M337.9 61.9h.01M348.7 53.5h.01M347.9 51.1h.01M343.6 48.9h.01M348.8 67.9h.01M342.0 66.5h.01M333.3 50.0h.01M340.0 70.7h.01M342.5 63.2h.01M333.8 57.9h.01M349.4 56.7h.01M329.8 58.4h.01M350.8 67.5h.01M348.4 43.6h.01M344.8 64.2h.01M341.1 61.5h.01M343.1 57.7h.01M350.5 51.4h.01M363.1 58.2h.01M348.1 51.1h.01M346.4 54.9h.01M337.3 44.8h.01M347.7 56.3h.01M330.3 39.9h.01M344.2 56.5h.01M349.6 47.1h.01M349.5 54.5h.01M343.0 55.9h.01M351.9 61.5h.01M351.3 51.5h.01M344.3 47.7h.01M342.7 53.8h.01M343.2 62.7h.01M348.6 63.1h.01M346.8 65.6h.01M346.7 64.7h.01M349.0 62.9h.01M345.6 47.1h.01M337.3 72.7h.01M348.3 60.5h.01M345.0 53.3h.01M363.2 48.0h.01M345.6 56.6h.01M339.2 46.8h.01M341.8 54.2h.01M343.1 63.5h.01M338.9 60.2h.01M354.8 64.1h.01M339.2 33.4h.01M351.1 61.0h.01M342.5 67.2h.01M361.6 84.6h.01M359.4 85.9h.01M361.5 81.0h.01M366.8 85.3h.01M357.8 88.1h.01M365.9 79.0h.01M361.6 84.3h.01M362.1 84.7h.01M365.3 81.0h.01M370.3 79.7h.01M371.3 84.2h.01M362.3 77.6h.01M367.0 85.0h.01M360.0 86.4h.01M367.8 88.1h.01M370.7 91.0h.01M364.5 83.8h.01M364.9 91.3h.01M366.0 90.3h.01M363.8 88.6h.01M367.3 83.0h.01M358.5 94.4h.01M365.0 81.4h.01M363.8 82.5h.01M357.0 82.9h.01M358.0 85.2h.01M362.6 90.8h.01M362.6 86.2h.01M362.0 81.7h.01M358.1 89.9h.01M363.6 80.5h.01M363.7 81.5h.01M360.5 85.5h.01M367.3 82.4h.01M358.0 80.3h.01M369.3 79.1h.01M367.2 82.6h.01M365.6 83.4h.01M357.5 81.5h.01M370.4 83.2h.01M365.0 82.0h.01M362.5 85.9h.01M362.9 82.9h.01M360.7 76.1h.01M357.4 88.0h.01M356.5 92.4h.01M366.0 82.2h.01M359.0 84.2h.01M363.1 90.8h.01M360.4 81.7h.01M362.8 82.4h.01M360.8 73.7h.01M357.3 80.0h.01M362.2 90.0h.01M371.1 94.3h.01M362.6 80.9h.01M371.1 77.6h.01M361.6 82.4h.01M368.1 80.5h.01M365.7 81.6h.01M358.7 85.4h.01M363.6 77.1h.01M360.0 79.3h.01M366.4 86.8h.01M363.8 87.0h.01M361.3 86.9h.01M360.9 76.0h.01M360.6 85.3h.01M363.3 90.4h.01M357.1 82.7h.01M364.4 78.3h.01M363.9 81.6h.01M359.1 90.8h.01M358.2 90.0h.01M361.6 78.4h.01M359.9 79.6h.01M360.1 85.7h.01M356.5 91.5h.01M365.9 92.4h.01M359.6 70.1h.01M360.8 83.0h.01M364.1 80.9h.01M362.7 84.9h.01M357.6 94.9h.01M359.1 85.6h.01M366.8 79.4h.01M363.0 93.9h.01M348.9 86.2h.01M351.2 83.0h.01M352.9 81.1h.01M349.2 85.9h.01M351.1 84.0h.01M345.3 82.1h.01M354.9 85.6h.01M351.4 80.0h.01M347.6 83.8h.01M355.7 82.2h.01M355.3 80.9h.01M354.9 78.1h.01M350.8 77.8h.01M352.7 84.4h.01M346.3 79.1h.01M348.3 76.1h.01M346.4 78.6h.01M353.2 87.6h.01M348.3 80.9h.01M350.9 80.0h.01M348.9 85.4h.01M351.0 81.7h.01M347.8 87.9h.01M347.6 82.5h.01M345.9 79.7h.01M350.4 80.5h.01M352.2 82.3h.01M344.5 72.8h.01M354.0 79.7h.01M356.0 82.1h.01M347.0 84.3h.01M349.0 82.1h.01M346.3 84.6h.01M354.4 80.0h.01M357.2 79.8h.01M351.1 75.5h.01M342.4 90.5h.01M355.7 86.6h.01M343.3 83.0h.01M351.7 82.4h.01M351.2 78.4h.01M349.4 77.5h.01M348.7 83.5h.01M346.9 80.9h.01M348.3 82.1h.01M353.7 83.0h.01M351.6 76.3h.01M348.6 85.3h.01M346.6 80.3h.01M346.2 87.4h.01M348.2 79.1h.01M352.5 86.4h.01M352.0 86.0h.01M350.9 81.5h.01M348.3 80.0h.01M347.7 83.5h.01M349.6 82.4h.01M352.5 81.8h.01M344.6 78.9h.01M345.6 74.4h.01" stroke="#e4262b" stroke-width="0.9" stroke-linecap="round" fill="none" opacity="0.42"/>
<path d="M323.90 95.90H327.50M324.90 90.44H327.50M324.90 87.24H327.50M324.90 84.97H327.50M324.90 83.21H327.50M324.90 81.78H327.50M324.90 80.56H327.50M324.90 79.51H327.50M324.90 78.58H327.50M323.90 77.75H327.50M324.90 72.29H327.50M324.90 69.09H327.50M324.90 66.82H327.50M324.90 65.06H327.50M324.90 63.63H327.50M324.90 62.41H327.50M324.90 61.36H327.50M324.90 60.43H327.50M323.90 59.60H327.50M324.90 54.14H327.50M324.90 50.94H327.50M324.90 48.67H327.50M324.90 46.91H327.50M324.90 45.48H327.50M324.90 44.26H327.50M324.90 43.21H327.50M324.90 42.28H327.50M323.90 41.45H327.50M324.90 35.99H327.50M324.90 32.79H327.50M324.90 30.52H327.50M324.90 28.76H327.50M324.90 27.33H327.50M324.90 26.11H327.50M324.90 25.06H327.50M324.90 24.13H327.50M324.00 23.30H327.50M327.50 95.90V99.50M332.99 95.90V98.50M336.21 95.90V98.50M338.49 95.90V98.50M340.26 95.90V98.50M341.70 95.90V98.50M342.92 95.90V98.50M343.98 95.90V98.50M344.91 95.90V98.50M345.75 95.90V99.50M351.24 95.90V98.50M354.46 95.90V98.50M356.74 95.90V98.50M358.51 95.90V98.50M359.95 95.90V98.50M361.17 95.90V98.50M362.23 95.90V98.50M363.16 95.90V98.50M364.00 95.90V99.50M369.49 95.90V98.50M372.71 95.90V98.50M374.99 95.90V98.50M376.76 95.90V98.50M378.20 95.90V98.50M379.42 95.90V98.50M380.48 95.90V98.50M381.41 95.90V98.50M382.25 95.90V99.50M387.74 95.90V98.50M390.96 95.90V98.50M393.24 95.90V98.50M395.01 95.90V98.50M396.45 95.90V98.50M397.67 95.90V98.50M398.73 95.90V98.50M399.66 95.90V98.50M400.50 95.90V99.40" stroke="#222" stroke-width="0.85" fill="none"/>
<text x="311.50" y="29.80" font-size="7.70" text-anchor="start" fill="#222" textLength="9.97" lengthAdjust="spacingAndGlyphs">10<tspan dy="-3.50" font-size="6.55">4</tspan></text>
<text x="311.50" y="46.80" font-size="7.70" text-anchor="start" fill="#222" textLength="9.97" lengthAdjust="spacingAndGlyphs">10<tspan dy="-3.50" font-size="6.55">3</tspan></text>
<text x="311.50" y="63.30" font-size="7.70" text-anchor="start" fill="#222" textLength="9.97" lengthAdjust="spacingAndGlyphs">10<tspan dy="-3.50" font-size="6.55">2</tspan></text>
<text x="311.50" y="79.80" font-size="7.70" text-anchor="start" fill="#222" textLength="9.97" lengthAdjust="spacingAndGlyphs">10<tspan dy="-3.50" font-size="6.55">1</tspan></text>
<text x="311.50" y="96.50" font-size="7.70" text-anchor="start" fill="#222" textLength="9.97" lengthAdjust="spacingAndGlyphs">10<tspan dy="-3.50" font-size="6.55">0</tspan></text>
<text x="324.10" y="109.70" font-size="7.70" text-anchor="start" fill="#222" textLength="9.97" lengthAdjust="spacingAndGlyphs">10<tspan dy="-3.50" font-size="6.55">0</tspan></text>
<text x="341.90" y="109.70" font-size="7.70" text-anchor="start" fill="#222" textLength="9.97" lengthAdjust="spacingAndGlyphs">10<tspan dy="-3.50" font-size="6.55">1</tspan></text>
<text x="356.50" y="109.70" font-size="7.70" text-anchor="start" fill="#222" textLength="9.97" lengthAdjust="spacingAndGlyphs">10<tspan dy="-3.50" font-size="6.55">2</tspan></text>
<text x="376.80" y="109.70" font-size="7.70" text-anchor="start" fill="#222" textLength="9.97" lengthAdjust="spacingAndGlyphs">10<tspan dy="-3.50" font-size="6.55">3</tspan></text>
<text x="393.70" y="109.70" font-size="7.70" text-anchor="start" fill="#222" textLength="9.97" lengthAdjust="spacingAndGlyphs">10<tspan dy="-3.50" font-size="6.55">4</tspan></text>
<rect x="327.50" y="23.30" width="73.00" height="72.60" fill="none" stroke="#111" stroke-width="1.5" />
<line x1="357.90" y1="23.30" x2="357.90" y2="95.90" stroke="#000" stroke-width="1.5" />
<line x1="327.50" y1="72.20" x2="400.50" y2="72.20" stroke="#000" stroke-width="1.5" />
<ellipse cx="67.0" cy="182.3" rx="7.5" ry="3.4" transform="rotate(-30 67.0 182.3)" fill="#e3201f" opacity="0.9" filter="url(#bl)"/>
<path d="M65.3 179.1h.01M58.3 183.5h.01M70.6 179.1h.01M71.6 179.3h.01M65.1 185.3h.01M69.8 181.0h.01M60.5 184.4h.01M60.0 185.4h.01M69.2 186.1h.01M74.9 180.0h.01M71.8 180.2h.01M83.2 178.2h.01M80.8 175.6h.01M70.2 184.0h.01M68.0 182.7h.01M62.8 187.9h.01M68.4 184.2h.01M62.7 178.5h.01M70.9 184.0h.01M58.4 183.8h.01M64.6 182.8h.01M60.3 192.2h.01M70.8 177.9h.01M57.6 188.9h.01M78.1 178.7h.01M71.1 176.6h.01M65.5 177.9h.01M77.6 178.0h.01M52.8 184.0h.01M69.2 181.4h.01M65.8 185.0h.01M77.5 177.4h.01M56.9 187.5h.01M58.5 184.3h.01M67.9 181.1h.01M60.9 185.6h.01M63.0 186.3h.01M65.8 184.2h.01M66.2 185.2h.01M65.7 182.9h.01M63.7 184.6h.01M63.1 184.8h.01M63.2 182.7h.01M67.8 180.0h.01M62.1 180.2h.01M59.9 182.2h.01M73.8 173.6h.01M61.1 186.2h.01M71.3 173.8h.01M58.5 187.5h.01M66.0 177.8h.01M55.6 185.4h.01M70.2 180.2h.01M70.1 180.0h.01M67.1 184.2h.01M66.1 183.5h.01M60.7 183.7h.01M68.5 180.5h.01M63.5 186.5h.01M69.2 180.8h.01M63.8 187.1h.01M78.1 172.9h.01M57.2 185.1h.01M59.6 182.0h.01M61.5 188.3h.01M73.0 183.8h.01M69.5 179.0h.01M71.1 177.7h.01M62.8 180.5h.01M74.2 181.5h.01M63.5 183.1h.01M66.8 182.9h.01M70.8 180.1h.01M66.2 177.4h.01M62.1 178.8h.01M77.7 180.8h.01M71.7 183.2h.01M78.1 178.9h.01M57.7 186.8h.01M52.9 187.5h.01M59.8 186.2h.01M66.9 178.9h.01M65.2 184.1h.01M65.2 182.5h.01M53.1 188.6h.01M70.8 180.8h.01M58.2 186.3h.01M66.2 179.2h.01M68.6 178.4h.01M64.4 183.2h.01M77.3 175.0h.01M64.4 186.1h.01M64.1 184.4h.01M55.0 190.0h.01M64.2 179.2h.01M72.9 177.8h.01M63.3 179.7h.01M57.0 185.9h.01M59.1 188.4h.01M69.8 178.3h.01M57.3 186.3h.01M61.0 186.1h.01M66.5 180.9h.01M68.2 185.0h.01M74.3 176.0h.01M69.6 179.7h.01M62.7 189.0h.01M68.5 181.7h.01M67.8 181.0h.01M63.4 190.3h.01M71.3 180.5h.01M73.2 183.0h.01M66.1 184.6h.01M65.5 185.2h.01M68.6 189.6h.01M65.1 184.9h.01M68.1 180.3h.01M71.0 179.5h.01M64.1 183.8h.01M64.1 187.9h.01M70.9 183.2h.01M59.6 187.3h.01M62.4 185.0h.01M73.2 179.4h.01M67.0 186.0h.01M74.2 184.3h.01M57.0 188.9h.01M62.7 181.5h.01M65.1 179.2h.01M53.3 186.9h.01M67.7 188.1h.01M60.7 181.6h.01M55.4 187.5h.01M65.2 183.6h.01M57.6 184.9h.01M54.7 189.8h.01M53.9 180.1h.01M73.0 180.3h.01M68.6 182.4h.01M62.5 188.4h.01M63.6 190.6h.01M64.6 177.0h.01M73.7 185.0h.01M66.5 186.1h.01M64.2 181.5h.01M64.5 184.8h.01M59.0 183.6h.01M71.5 178.2h.01M62.3 180.4h.01M68.5 183.9h.01M63.6 183.4h.01M62.0 189.8h.01M62.8 184.0h.01M74.7 176.9h.01M56.8 184.8h.01M67.1 188.2h.01M67.1 181.3h.01M72.5 183.4h.01M64.5 188.5h.01M71.4 181.1h.01M54.2 190.2h.01M73.1 177.6h.01M78.5 175.7h.01M61.9 187.1h.01M69.1 183.8h.01M67.1 186.6h.01M63.6 184.5h.01M58.6 184.2h.01M66.4 180.2h.01M63.7 183.3h.01M68.8 183.8h.01M71.9 182.9h.01M66.6 180.5h.01M57.5 186.4h.01M59.4 180.2h.01M72.2 172.7h.01M69.1 182.9h.01M69.0 190.0h.01M65.3 180.4h.01M74.4 175.1h.01M57.3 184.2h.01M63.0 184.6h.01M65.8 177.5h.01M71.6 187.3h.01M62.4 184.3h.01M71.8 183.6h.01M61.4 182.0h.01M62.7 188.5h.01M67.8 174.1h.01M53.2 185.8h.01M59.1 188.2h.01M70.5 187.0h.01M70.7 180.4h.01M71.2 176.6h.01M59.0 186.9h.01M68.8 175.4h.01M72.4 182.1h.01M64.0 184.5h.01M65.0 183.6h.01M69.4 177.9h.01M73.2 181.6h.01M68.1 174.5h.01M57.6 190.0h.01M62.2 182.5h.01M60.3 181.3h.01M63.7 181.5h.01M63.6 185.8h.01M61.8 189.1h.01M60.1 188.2h.01M71.2 179.7h.01M70.1 180.0h.01M57.6 188.8h.01M71.6 177.6h.01M56.5 186.1h.01M68.5 182.3h.01M73.0 180.6h.01M66.0 175.7h.01M78.2 175.8h.01M70.4 179.0h.01M65.6 183.1h.01M77.0 181.7h.01M72.7 185.9h.01M65.1 185.1h.01M65.9 187.3h.01M68.1 185.0h.01M72.3 171.7h.01M78.4 176.7h.01M61.8 178.4h.01M61.3 177.3h.01M66.6 181.8h.01M75.6 176.1h.01M73.9 182.3h.01M77.0 175.5h.01M68.1 176.1h.01M60.1 185.2h.01M64.4 179.3h.01M65.3 185.6h.01M63.8 183.5h.01M63.8 188.9h.01M76.2 177.6h.01M68.4 187.3h.01M68.0 179.2h.01M58.4 185.1h.01M77.2 174.2h.01M81.8 173.6h.01M67.3 186.7h.01M65.7 184.3h.01M59.0 182.4h.01M62.9 185.4h.01M59.9 179.3h.01M68.8 180.6h.01M64.0 181.7h.01M64.7 185.4h.01M75.6 181.2h.01M67.6 181.9h.01M69.5 184.0h.01M68.9 179.5h.01M69.5 182.1h.01M70.5 180.9h.01M74.1 178.8h.01M71.3 179.9h.01M62.0 181.7h.01M66.5 184.4h.01M73.1 178.4h.01M62.9 182.7h.01M73.5 178.8h.01M65.0 186.0h.01M59.6 186.9h.01M66.1 182.3h.01M61.9 188.7h.01M73.4 173.8h.01M68.1 183.9h.01M77.9 174.4h.01M61.4 185.4h.01M77.3 176.5h.01M70.6 186.4h.01M51.8 183.3h.01M72.5 181.8h.01M59.9 188.1h.01M67.1 183.0h.01M61.5 183.8h.01M61.9 185.3h.01M67.9 187.7h.01M67.4 176.4h.01M70.9 185.0h.01M69.7 184.5h.01M67.4 184.5h.01M62.7 187.5h.01M61.1 190.2h.01M55.2 181.5h.01M69.1 180.4h.01M67.8 183.3h.01M65.0 180.2h.01M68.2 182.8h.01M72.2 186.3h.01M62.7 184.9h.01M68.8 179.6h.01M59.2 184.7h.01M71.8 178.5h.01M68.6 178.7h.01M67.8 179.3h.01M62.2 185.4h.01M69.0 186.3h.01M58.6 188.9h.01M77.2 181.2h.01M63.4 181.9h.01M64.3 184.8h.01M68.0 182.8h.01M68.0 177.8h.01M58.6 182.7h.01M59.2 186.4h.01M72.1 188.3h.01M69.4 180.9h.01M72.9 176.2h.01M69.8 184.1h.01M71.3 181.2h.01M62.7 180.3h.01M64.8 181.4h.01M70.0 180.0h.01M67.0 176.5h.01M70.4 177.2h.01M56.1 183.6h.01M64.9 187.4h.01M68.5 177.2h.01M66.8 182.0h.01M56.6 184.7h.01M54.3 186.4h.01M51.2 188.5h.01M60.3 183.3h.01M63.9 188.1h.01M65.0 184.2h.01M71.9 182.6h.01M69.3 178.9h.01M59.5 183.8h.01M64.0 184.0h.01M67.7 185.7h.01M68.7 187.6h.01M71.2 178.1h.01M66.7 172.2h.01M74.5 179.4h.01M66.0 176.8h.01M79.5 174.1h.01M67.5 185.9h.01M64.2 180.8h.01M68.4 177.8h.01M70.7 180.6h.01M70.6 175.8h.01M73.6 179.5h.01M76.0 174.7h.01M77.4 178.7h.01M69.6 178.1h.01M70.5 182.6h.01M60.3 182.0h.01M64.6 188.8h.01M68.8 184.5h.01M68.2 181.9h.01M67.0 180.7h.01M73.3 179.2h.01M65.6 178.1h.01M67.1 179.8h.01M65.4 186.8h.01M60.4 185.3h.01M71.6 183.6h.01M64.2 184.9h.01M66.3 178.6h.01M52.2 183.9h.01M69.8 180.9h.01M58.4 184.9h.01M63.8 182.8h.01M69.7 188.5h.01M62.6 185.3h.01M61.4 183.2h.01M61.5 184.6h.01M64.1 185.1h.01M66.3 179.5h.01M74.9 173.5h.01M71.7 187.2h.01M64.7 188.2h.01M74.6 179.0h.01M58.9 191.9h.01M66.1 180.8h.01M72.2 176.7h.01M71.3 177.8h.01M67.7 178.0h.01M63.0 181.3h.01M63.0 185.2h.01M65.9 183.5h.01M73.1 178.3h.01M56.2 187.4h.01M68.5 185.0h.01M73.4 181.9h.01M66.3 184.9h.01M60.8 190.4h.01M69.6 182.5h.01M64.6 183.8h.01M63.8 186.1h.01M60.9 189.1h.01M72.5 186.2h.01M66.1 182.4h.01M67.6 182.0h.01M64.2 179.9h.01M59.8 184.4h.01M63.1 180.2h.01M59.9 185.3h.01M70.1 179.7h.01M71.6 183.0h.01M69.9 179.0h.01M61.5 178.8h.01M63.6 185.8h.01M62.8 189.4h.01M73.5 177.1h.01M69.2 175.9h.01M60.4 184.7h.01M66.3 182.0h.01M64.9 190.4h.01M68.5 182.4h.01M70.4 180.9h.01M64.4 181.7h.01M60.1 191.5h.01M59.1 180.9h.01M59.8 180.7h.01M77.6 177.4h.01M76.2 182.0h.01M70.4 182.3h.01M62.5 184.5h.01M63.4 184.5h.01M64.7 188.0h.01M70.4 179.9h.01M58.7 189.4h.01M71.1 179.6h.01M60.5 187.5h.01M69.1 174.2h.01M66.7 176.0h.01M69.6 186.9h.01M67.7 183.5h.01M64.8 183.5h.01M81.0 178.8h.01M64.3 182.5h.01M70.0 188.3h.01M69.3 184.8h.01M62.6 180.2h.01M73.4 178.2h.01M61.3 183.1h.01M62.0 182.9h.01M60.2 190.4h.01M70.0 183.9h.01M65.2 184.5h.01M69.2 185.1h.01M71.4 181.0h.01M61.2 181.3h.01M61.3 183.3h.01M61.8 180.9h.01M75.7 178.1h.01M54.2 185.8h.01M59.8 187.2h.01M70.6 176.6h.01M69.3 179.9h.01M74.7 182.6h.01M69.2 183.4h.01M65.9 181.5h.01M60.9 186.9h.01M65.5 181.7h.01M65.8 182.2h.01M60.2 184.3h.01M72.2 178.4h.01M72.1 175.2h.01M59.6 187.0h.01M69.6 178.4h.01M71.2 183.1h.01M72.0 178.9h.01M63.7 178.3h.01M67.0 183.2h.01M72.0 174.9h.01M60.5 182.4h.01M67.4 173.1h.01M63.9 191.2h.01M67.9 177.0h.01M67.5 184.9h.01M69.1 180.2h.01M63.6 187.1h.01M67.7 184.6h.01M67.9 180.1h.01M73.3 176.8h.01M67.8 179.5h.01M64.9 182.5h.01M63.4 185.1h.01M76.2 183.4h.01M73.8 177.7h.01M74.8 179.2h.01M74.0 173.8h.01M73.4 176.4h.01M71.9 177.8h.01M70.9 179.0h.01M55.2 185.7h.01M65.3 183.3h.01M53.0 186.1h.01M62.3 184.2h.01M66.4 179.7h.01M59.0 187.9h.01M66.1 185.8h.01M64.7 185.8h.01M62.2 185.9h.01M67.7 183.4h.01M61.4 185.0h.01M61.8 184.6h.01M74.3 188.4h.01M67.8 184.3h.01M68.8 185.1h.01M70.5 183.8h.01M72.0 187.7h.01M71.1 173.9h.01M68.2 181.8h.01M53.7 186.9h.01M63.0 182.0h.01M64.5 177.4h.01M71.6 182.3h.01M67.9 180.6h.01M65.8 181.3h.01M73.3 180.4h.01M76.4 175.5h.01M73.2 176.6h.01M64.1 180.3h.01M69.2 180.8h.01M72.0 184.5h.01M66.8 183.7h.01M71.1 179.6h.01M64.2 185.1h.01M70.3 183.0h.01M69.9 178.2h.01M70.7 184.4h.01M64.7 184.8h.01M63.6 184.8h.01M75.9 177.7h.01M62.0 186.3h.01M69.3 184.8h.01M58.0 184.2h.01M63.8 178.7h.01M69.4 173.8h.01M60.0 181.1h.01M64.3 186.6h.01M71.1 183.1h.01M66.6 175.4h.01M65.3 176.8h.01M63.3 183.0h.01M64.5 185.4h.01M64.9 189.4h.01M71.4 183.8h.01M71.8 182.5h.01M69.3 187.7h.01M61.8 186.9h.01M66.2 181.9h.01M67.1 179.6h.01M72.3 181.9h.01M68.2 184.1h.01M58.4 180.9h.01M63.2 183.6h.01M79.2 174.4h.01M73.2 181.6h.01M77.7 176.5h.01M69.7 180.0h.01M60.5 182.5h.01M64.6 188.6h.01M67.8 181.2h.01M65.8 181.0h.01M66.3 182.5h.01M71.3 182.9h.01M58.4 188.0h.01M72.2 175.7h.01M65.5 183.7h.01M73.2 180.7h.01M66.2 184.5h.01M72.5 180.4h.01M76.9 178.0h.01M59.9 183.6h.01M65.6 182.4h.01M70.3 181.6h.01M76.7 179.5h.01M73.2 176.0h.01M65.4 185.6h.01M68.0 183.9h.01M67.0 180.1h.01M77.2 180.3h.01M57.6 185.6h.01M67.7 184.2h.01M64.2 179.2h.01M70.6 179.5h.01M73.3 179.7h.01M73.1 181.7h.01M70.4 178.5h.01M72.3 179.9h.01M59.6 185.2h.01M65.6 184.7h.01M68.5 177.5h.01M70.3 180.2h.01M62.4 187.8h.01M60.9 181.7h.01M71.9 182.6h.01M64.8 187.2h.01M71.1 178.1h.01M76.9 176.4h.01M64.3 175.6h.01M69.0 179.0h.01M66.4 176.7h.01M74.9 182.8h.01M72.1 169.2h.01M70.2 181.6h.01M49.9 189.6h.01M68.4 186.4h.01M62.7 185.5h.01M67.0 183.6h.01M66.0 186.0h.01M69.7 176.0h.01M71.4 177.2h.01M67.0 186.2h.01M68.1 183.7h.01M71.8 181.7h.01M62.6 181.6h.01M71.5 182.4h.01M68.4 180.9h.01M71.2 179.8h.01M60.1 187.3h.01M70.6 183.0h.01M61.1 183.2h.01M67.9 180.3h.01M67.9 185.1h.01M71.6 186.0h.01M70.9 186.0h.01M76.2 185.9h.01M66.9 182.2h.01M72.9 177.2h.01M64.9 184.5h.01M66.8 177.7h.01M67.9 180.9h.01M67.1 183.0h.01M67.6 185.8h.01M69.3 180.5h.01M69.0 184.9h.01M73.0 183.4h.01M66.6 183.2h.01M77.5 176.4h.01M77.1 179.6h.01M62.8 180.1h.01M69.4 178.7h.01M60.9 180.1h.01M73.4 179.2h.01M67.9 183.4h.01M68.6 182.0h.01M69.4 180.2h.01M55.0 192.1h.01M69.4 181.3h.01M73.3 174.1h.01M66.9 177.0h.01M66.0 185.3h.01M61.8 187.5h.01M80.2 179.7h.01M67.5 183.4h.01M62.5 185.6h.01M64.0 180.9h.01M63.1 191.4h.01M66.1 179.6h.01M67.2 187.5h.01M74.6 176.0h.01M69.5 184.2h.01M63.7 180.5h.01M62.2 185.4h.01M61.3 181.4h.01M67.4 185.6h.01M70.4 179.8h.01M75.9 174.7h.01M64.8 179.2h.01M71.0 179.8h.01M57.3 185.3h.01M77.5 179.0h.01M69.0 184.4h.01M57.7 185.1h.01M59.1 184.3h.01M66.0 185.0h.01M73.8 182.0h.01M80.3 173.2h.01M67.8 183.8h.01M62.4 184.2h.01M67.9 179.0h.01M71.4 184.2h.01M58.0 179.9h.01M66.0 179.5h.01M67.3 180.8h.01M70.4 184.5h.01M70.8 179.1h.01M57.4 179.5h.01M54.7 186.9h.01M66.6 180.4h.01M61.6 180.1h.01M55.9 182.9h.01M67.2 175.5h.01M69.1 178.1h.01M70.0 181.5h.01M72.5 183.3h.01M61.3 182.3h.01M63.3 181.8h.01M69.9 180.2h.01M67.3 183.5h.01M65.8 186.7h.01M57.5 188.6h.01M68.0 179.0h.01M64.3 186.9h.01M62.0 178.5h.01M61.1 189.1h.01M63.9 188.5h.01M73.3 177.9h.01M68.1 178.7h.01M63.4 181.9h.01M67.6 177.4h.01M65.9 183.0h.01M66.0 175.5h.01M55.9 185.6h.01M65.5 183.5h.01M70.5 187.1h.01M70.7 182.1h.01M65.1 186.0h.01M71.0 182.2h.01M66.8 184.5h.01M73.1 175.9h.01M56.5 191.1h.01M69.9 179.7h.01M68.2 190.9h.01M62.2 180.7h.01M64.7 185.2h.01M62.7 183.3h.01M67.3 180.5h.01M67.0 182.0h.01M61.0 185.9h.01M61.8 188.4h.01M61.2 184.7h.01M56.3 186.8h.01M62.2 190.1h.01M66.5 184.2h.01M55.5 184.5h.01M63.5 179.5h.01M71.7 178.1h.01M67.6 182.8h.01M66.7 184.9h.01M63.4 185.5h.01M72.8 179.5h.01M66.5 181.3h.01M67.6 184.1h.01M62.6 178.9h.01M67.0 181.6h.01M68.8 181.2h.01M72.6 174.8h.01M62.3 187.1h.01M61.5 186.4h.01M63.3 177.5h.01M71.8 184.0h.01M65.3 178.3h.01M68.8 177.5h.01M66.3 183.9h.01M59.8 180.5h.01M65.5 182.8h.01M60.8 183.0h.01M69.9 180.1h.01M63.0 182.4h.01M67.3 182.3h.01M63.4 179.5h.01M63.5 182.0h.01M68.3 185.3h.01M72.1 181.4h.01M66.4 181.4h.01M67.3 180.3h.01M63.3 181.4h.01M65.9 182.5h.01M76.4 178.5h.01M65.5 185.6h.01M65.4 186.5h.01M74.4 187.6h.01M60.7 185.5h.01M66.1 183.6h.01M68.4 178.0h.01M63.0 185.4h.01M69.5 176.9h.01M60.1 189.9h.01M72.1 182.8h.01M61.1 184.8h.01M68.1 183.0h.01M65.6 182.7h.01M70.7 178.5h.01M62.9 183.0h.01M63.9 184.3h.01M64.6 182.0h.01M73.8 179.2h.01M66.4 186.7h.01M63.5 184.1h.01M65.0 181.3h.01M64.5 183.8h.01M58.6 185.7h.01M67.9 182.5h.01M71.1 187.5h.01M69.4 180.2h.01M65.7 182.9h.01M68.0 180.5h.01M72.2 175.4h.01M70.1 182.0h.01M61.5 187.4h.01M68.1 179.3h.01M78.8 177.6h.01M63.9 182.3h.01M62.9 185.3h.01M64.5 178.8h.01M60.1 183.7h.01M63.7 182.8h.01M63.9 186.0h.01M71.1 180.0h.01M55.2 188.4h.01M68.9 180.7h.01M67.7 182.0h.01M55.3 180.5h.01M68.6 179.5h.01M67.9 180.6h.01M67.4 186.4h.01M60.3 185.9h.01M60.9 185.8h.01M69.5 182.8h.01M65.0 178.7h.01M68.7 184.0h.01M74.2 185.0h.01M67.6 178.4h.01M63.8 184.2h.01M69.8 176.7h.01M71.7 181.5h.01M62.8 186.5h.01M62.5 184.7h.01M65.1 184.0h.01M61.2 187.2h.01M55.0 187.7h.01M65.7 188.0h.01M68.2 179.8h.01M61.9 185.1h.01M66.3 189.8h.01M52.7 190.6h.01M55.6 192.1h.01M64.6 188.8h.01M65.1 186.7h.01M68.9 184.9h.01M62.1 175.1h.01M60.5 180.7h.01M71.7 181.1h.01" stroke="#e4262b" stroke-width="0.9" stroke-linecap="round" fill="none" opacity="0.7"/>
<path d="M98.9 161.1h.01M99.5 157.7h.01M105.4 160.4h.01M98.2 154.7h.01M96.8 159.6h.01M98.3 158.0h.01M98.7 155.8h.01M98.9 154.4h.01M96.0 157.1h.01M101.8 161.2h.01M99.1 155.7h.01M97.5 162.2h.01M103.0 154.7h.01M97.4 159.9h.01M100.0 159.6h.01M101.1 154.8h.01M104.1 155.8h.01M99.1 161.3h.01M102.8 162.6h.01M101.8 163.8h.01M98.4 162.1h.01M104.0 157.1h.01M94.2 156.2h.01M103.6 163.7h.01M97.7 160.4h.01M100.5 163.1h.01M92.6 157.7h.01M98.0 160.7h.01M99.2 158.6h.01M99.9 151.0h.01M109.2 162.4h.01M101.9 157.4h.01M100.3 166.5h.01M105.0 159.9h.01M94.8 160.2h.01M97.9 162.5h.01M94.7 159.0h.01M99.8 158.1h.01M102.5 155.8h.01M94.8 158.5h.01M101.7 158.6h.01M97.0 162.3h.01M99.7 157.9h.01M99.4 158.8h.01M101.0 160.1h.01M96.3 158.0h.01M97.6 160.9h.01M100.2 156.9h.01M98.3 160.7h.01M102.6 160.5h.01M105.5 159.7h.01M101.4 158.5h.01M95.6 160.0h.01M100.6 160.7h.01M99.4 158.5h.01M96.2 158.6h.01M100.5 162.8h.01M87.9 161.7h.01M102.6 163.9h.01M100.2 161.9h.01M97.4 159.3h.01M100.7 156.0h.01M96.3 160.3h.01M94.5 159.8h.01M94.0 160.3h.01M99.0 157.7h.01M95.8 157.9h.01M91.4 158.3h.01M99.3 163.7h.01M97.2 159.0h.01M103.6 165.5h.01M97.3 163.1h.01M102.9 161.4h.01M95.6 156.5h.01M100.9 167.5h.01M98.3 164.9h.01M105.3 155.4h.01M96.9 164.7h.01M102.2 161.5h.01M98.9 161.7h.01M96.8 168.0h.01M95.1 153.6h.01M99.4 164.5h.01M97.3 159.5h.01M95.5 159.4h.01M95.5 156.3h.01M94.0 157.8h.01M105.2 159.4h.01M99.6 167.1h.01M96.8 156.3h.01M100.7 155.5h.01M100.1 163.5h.01M95.3 157.9h.01M104.6 156.1h.01M96.6 160.4h.01M97.9 156.8h.01M104.3 157.7h.01M100.0 158.2h.01M98.2 155.0h.01M102.1 158.2h.01M103.2 155.7h.01M97.3 161.2h.01M99.3 157.4h.01M98.5 155.3h.01M99.1 150.7h.01M99.5 164.2h.01M101.9 162.5h.01M97.5 161.3h.01M97.6 159.3h.01M98.6 148.3h.01M102.0 161.2h.01M101.8 156.4h.01M101.3 161.3h.01M91.4 153.7h.01M99.1 157.4h.01M98.9 157.5h.01M104.0 153.2h.01M94.3 156.3h.01M94.3 157.7h.01M98.8 155.1h.01M100.2 164.1h.01M102.6 166.4h.01M102.8 159.5h.01M104.9 162.0h.01M105.3 159.0h.01M91.9 155.7h.01M99.6 161.5h.01M98.3 163.0h.01M95.1 157.3h.01M102.3 159.8h.01M86.6 164.4h.01M93.3 155.9h.01M87.3 152.4h.01M85.9 160.5h.01M74.3 165.0h.01M99.4 160.9h.01M92.2 164.8h.01M84.8 163.0h.01M88.6 153.1h.01M79.9 156.8h.01M93.2 159.4h.01M92.6 157.2h.01M77.4 167.0h.01M104.4 160.5h.01M84.7 163.6h.01M78.5 158.2h.01M76.3 160.9h.01M87.7 157.5h.01M81.6 153.2h.01M80.4 163.7h.01M83.6 163.9h.01M80.2 158.7h.01M82.9 158.0h.01M91.2 151.1h.01M91.0 161.7h.01M86.0 159.3h.01M84.5 161.7h.01M86.4 155.7h.01M87.0 162.7h.01M88.5 159.1h.01M87.4 157.1h.01M82.9 151.8h.01M84.8 162.8h.01M83.4 155.5h.01M92.1 159.6h.01M87.0 160.8h.01M90.7 158.8h.01M80.4 165.7h.01M86.4 156.0h.01M87.3 163.6h.01M76.5 164.0h.01M85.1 166.7h.01M90.5 158.6h.01M94.4 163.9h.01M83.7 159.9h.01M82.6 162.5h.01M76.6 158.3h.01M71.8 161.3h.01M71.1 155.0h.01M87.8 157.7h.01M83.1 155.3h.01M82.9 152.3h.01M88.2 162.1h.01M91.1 158.9h.01M94.2 160.8h.01M92.4 160.5h.01M86.3 156.1h.01M68.5 161.5h.01M85.3 166.6h.01M72.8 162.2h.01M79.7 159.0h.01M80.1 160.3h.01M85.8 162.4h.01M87.0 160.8h.01M94.5 161.0h.01M85.1 163.7h.01M85.3 160.6h.01M83.9 156.5h.01M66.0 161.7h.01M78.4 161.8h.01M98.1 154.0h.01M91.9 158.7h.01M89.1 154.5h.01M86.2 159.6h.01M95.6 167.2h.01M88.2 157.6h.01M100.8 158.6h.01M85.7 159.4h.01M89.2 161.7h.01M82.2 158.6h.01M98.6 165.1h.01M89.0 160.1h.01M84.6 163.0h.01M82.7 159.5h.01M83.1 156.7h.01M86.4 159.1h.01M82.2 158.8h.01M86.6 157.3h.01M81.7 158.5h.01M90.8 163.3h.01M87.3 158.0h.01M85.9 166.3h.01M92.2 155.4h.01M85.8 157.1h.01M83.7 152.7h.01M86.3 153.9h.01M82.2 164.8h.01M92.8 155.8h.01M79.2 155.6h.01M73.6 155.3h.01M84.3 155.1h.01M91.2 158.9h.01M82.6 165.7h.01M90.8 159.3h.01M98.4 164.1h.01M81.4 160.3h.01M83.2 153.6h.01M98.8 164.8h.01M77.7 160.9h.01M75.2 163.2h.01M85.8 158.0h.01M94.5 159.1h.01M84.4 162.6h.01M84.1 162.4h.01M86.1 162.2h.01M90.3 162.1h.01M79.4 166.3h.01M85.1 165.8h.01M82.1 158.0h.01M84.4 163.5h.01M83.9 184.3h.01M75.1 179.6h.01M88.9 181.5h.01M72.8 184.7h.01M92.3 184.5h.01M83.5 181.5h.01M90.6 171.8h.01M94.8 175.9h.01M85.2 167.6h.01M90.7 186.1h.01M89.3 183.8h.01M84.3 182.9h.01M96.5 179.8h.01M91.0 186.0h.01M85.3 183.4h.01M88.8 179.5h.01M105.9 179.8h.01M100.4 187.8h.01M71.4 183.4h.01M95.1 186.4h.01M80.2 183.5h.01M77.9 176.6h.01M85.3 183.1h.01M99.6 184.0h.01M95.3 175.7h.01M78.2 179.5h.01M100.7 175.0h.01M74.9 181.7h.01M96.4 173.4h.01M85.2 174.9h.01M98.4 185.8h.01M89.3 181.8h.01M85.3 182.8h.01M82.1 177.4h.01M78.5 182.1h.01M80.9 186.7h.01M70.8 185.1h.01M91.3 188.6h.01M85.1 174.0h.01M79.9 188.1h.01M84.7 179.9h.01M82.6 181.7h.01M85.3 173.7h.01M82.4 187.5h.01M98.4 181.4h.01M83.1 189.3h.01M85.7 175.8h.01M86.1 185.8h.01M99.2 179.5h.01M91.3 180.3h.01M96.0 183.4h.01M89.1 176.8h.01M84.6 180.3h.01M59.1 186.6h.01M87.0 180.9h.01M84.3 182.2h.01M89.0 175.1h.01M88.0 182.7h.01M87.3 174.1h.01M86.0 175.2h.01M89.8 189.1h.01M93.8 180.2h.01M82.9 179.0h.01M89.8 178.5h.01M82.9 168.6h.01M80.4 177.9h.01M82.9 188.5h.01M76.5 174.9h.01M91.7 176.8h.01M85.8 183.0h.01M87.2 177.9h.01M94.2 190.1h.01M79.2 180.6h.01M94.4 180.9h.01M79.3 179.7h.01M93.5 176.7h.01M89.0 184.1h.01M82.0 185.1h.01M92.2 187.4h.01M94.3 174.1h.01M94.0 185.1h.01M94.6 177.5h.01M94.1 184.0h.01M78.0 188.8h.01M81.0 176.6h.01M90.1 178.8h.01M89.9 180.7h.01M89.3 186.4h.01M86.8 186.7h.01M93.6 177.6h.01M93.7 185.3h.01M88.1 188.0h.01M99.9 186.1h.01M75.7 184.4h.01M86.1 180.6h.01M89.8 180.3h.01M99.7 183.5h.01M87.2 186.2h.01M93.3 188.4h.01M92.0 181.9h.01M88.2 170.6h.01M75.7 187.6h.01M84.6 191.7h.01M101.1 175.4h.01M81.0 184.2h.01M85.3 180.8h.01M85.0 182.0h.01M63.8 158.9h.01M62.5 159.3h.01M62.6 163.3h.01M56.3 162.6h.01M56.5 158.8h.01M65.7 155.0h.01M62.8 164.8h.01M57.2 166.3h.01M64.5 157.0h.01M62.6 163.9h.01M56.5 164.3h.01M63.7 159.3h.01M50.4 163.6h.01M56.5 155.4h.01M58.2 152.8h.01M58.4 167.9h.01M46.3 163.8h.01M55.6 160.5h.01M55.7 164.5h.01M60.0 159.0h.01" stroke="#e4262b" stroke-width="0.9" stroke-linecap="round" fill="none" opacity="0.42"/>
<path d="M41.00 193.30H44.60M42.00 187.84H44.60M42.00 184.64H44.60M42.00 182.37H44.60M42.00 180.61H44.60M42.00 179.18H44.60M42.00 177.96H44.60M42.00 176.91H44.60M42.00 175.98H44.60M41.00 175.15H44.60M42.00 169.69H44.60M42.00 166.49H44.60M42.00 164.22H44.60M42.00 162.46H44.60M42.00 161.03H44.60M42.00 159.81H44.60M42.00 158.76H44.60M42.00 157.83H44.60M41.00 157.00H44.60M42.00 151.54H44.60M42.00 148.34H44.60M42.00 146.07H44.60M42.00 144.31H44.60M42.00 142.88H44.60M42.00 141.66H44.60M42.00 140.61H44.60M42.00 139.68H44.60M41.00 138.85H44.60M42.00 133.39H44.60M42.00 130.19H44.60M42.00 127.92H44.60M42.00 126.16H44.60M42.00 124.73H44.60M42.00 123.51H44.60M42.00 122.46H44.60M42.00 121.53H44.60M41.10 120.70H44.60M44.60 193.30V196.90M50.09 193.30V195.90M53.31 193.30V195.90M55.59 193.30V195.90M57.36 193.30V195.90M58.80 193.30V195.90M60.02 193.30V195.90M61.08 193.30V195.90M62.01 193.30V195.90M62.85 193.30V196.90M68.34 193.30V195.90M71.56 193.30V195.90M73.84 193.30V195.90M75.61 193.30V195.90M77.05 193.30V195.90M78.27 193.30V195.90M79.33 193.30V195.90M80.26 193.30V195.90M81.10 193.30V196.90M86.59 193.30V195.90M89.81 193.30V195.90M92.09 193.30V195.90M93.86 193.30V195.90M95.30 193.30V195.90M96.52 193.30V195.90M97.58 193.30V195.90M98.51 193.30V195.90M99.35 193.30V196.90M104.84 193.30V195.90M108.06 193.30V195.90M110.34 193.30V195.90M112.11 193.30V195.90M113.55 193.30V195.90M114.77 193.30V195.90M115.83 193.30V195.90M116.76 193.30V195.90M117.60 193.30V196.80" stroke="#222" stroke-width="0.85" fill="none"/>
<text x="28.60" y="127.20" font-size="7.70" text-anchor="start" fill="#222" textLength="9.97" lengthAdjust="spacingAndGlyphs">10<tspan dy="-3.50" font-size="6.55">4</tspan></text>
<text x="28.60" y="144.20" font-size="7.70" text-anchor="start" fill="#222" textLength="9.97" lengthAdjust="spacingAndGlyphs">10<tspan dy="-3.50" font-size="6.55">3</tspan></text>
<text x="28.60" y="160.70" font-size="7.70" text-anchor="start" fill="#222" textLength="9.97" lengthAdjust="spacingAndGlyphs">10<tspan dy="-3.50" font-size="6.55">2</tspan></text>
<text x="28.60" y="177.20" font-size="7.70" text-anchor="start" fill="#222" textLength="9.97" lengthAdjust="spacingAndGlyphs">10<tspan dy="-3.50" font-size="6.55">1</tspan></text>
<text x="28.60" y="193.90" font-size="7.70" text-anchor="start" fill="#222" textLength="9.97" lengthAdjust="spacingAndGlyphs">10<tspan dy="-3.50" font-size="6.55">0</tspan></text>
<text x="41.20" y="207.10" font-size="7.70" text-anchor="start" fill="#222" textLength="9.97" lengthAdjust="spacingAndGlyphs">10<tspan dy="-3.50" font-size="6.55">0</tspan></text>
<text x="59.00" y="207.10" font-size="7.70" text-anchor="start" fill="#222" textLength="9.97" lengthAdjust="spacingAndGlyphs">10<tspan dy="-3.50" font-size="6.55">1</tspan></text>
<text x="73.60" y="207.10" font-size="7.70" text-anchor="start" fill="#222" textLength="9.97" lengthAdjust="spacingAndGlyphs">10<tspan dy="-3.50" font-size="6.55">2</tspan></text>
<text x="93.90" y="207.10" font-size="7.70" text-anchor="start" fill="#222" textLength="9.97" lengthAdjust="spacingAndGlyphs">10<tspan dy="-3.50" font-size="6.55">3</tspan></text>
<text x="110.80" y="207.10" font-size="7.70" text-anchor="start" fill="#222" textLength="9.97" lengthAdjust="spacingAndGlyphs">10<tspan dy="-3.50" font-size="6.55">4</tspan></text>
<rect x="44.60" y="120.70" width="73.00" height="72.60" fill="none" stroke="#111" stroke-width="1.5" />
<line x1="75.00" y1="120.70" x2="75.00" y2="193.30" stroke="#000" stroke-width="1.5" />
<line x1="44.60" y1="169.60" x2="117.60" y2="169.60" stroke="#000" stroke-width="1.5" />
<ellipse cx="154.5" cy="182.0" rx="9.0" ry="3.0" transform="rotate(-45 154.5 182.0)" fill="#e3201f" opacity="0.85" filter="url(#bl)"/>
<path d="M147.6 187.5h.01M158.0 174.2h.01M157.2 180.5h.01M158.4 186.1h.01M162.5 173.1h.01M152.1 180.9h.01M149.4 190.0h.01M152.7 182.4h.01M155.0 184.0h.01M159.2 177.4h.01M153.9 183.1h.01M160.9 168.2h.01M149.9 188.4h.01M157.5 183.4h.01M164.5 179.2h.01M151.9 186.9h.01M155.2 184.8h.01M157.1 182.6h.01M151.3 185.8h.01M151.7 184.0h.01M150.6 182.3h.01M160.6 177.1h.01M158.2 174.8h.01M144.0 190.2h.01M155.3 184.1h.01M162.0 179.0h.01M163.4 175.8h.01M153.8 180.0h.01M157.1 177.7h.01M151.8 186.9h.01M157.3 182.4h.01M153.3 187.5h.01M156.1 179.9h.01M149.1 183.7h.01M150.6 191.1h.01M148.9 189.9h.01M152.4 182.1h.01M152.2 184.0h.01M160.1 178.5h.01M152.2 179.5h.01M146.9 184.0h.01M157.4 173.8h.01M160.0 180.0h.01M157.6 182.5h.01M145.7 186.5h.01M153.7 182.9h.01M155.1 183.2h.01M147.2 181.7h.01M156.2 179.5h.01M162.4 181.7h.01M156.1 182.6h.01M151.9 187.9h.01M156.8 180.7h.01M157.1 175.4h.01M158.2 180.0h.01M159.1 170.9h.01M158.2 186.3h.01M151.9 183.1h.01M167.8 177.8h.01M153.9 180.1h.01M151.0 184.1h.01M149.1 184.6h.01M155.6 181.2h.01M157.0 179.7h.01M150.1 189.1h.01M154.8 179.7h.01M153.9 183.8h.01M154.8 181.3h.01M160.3 180.1h.01M153.1 183.4h.01M148.9 187.0h.01M158.5 181.2h.01M155.3 181.0h.01M151.5 185.8h.01M149.6 187.5h.01M153.1 180.2h.01M155.8 180.0h.01M156.7 178.2h.01M159.8 182.4h.01M156.9 182.5h.01M150.9 184.4h.01M145.2 190.8h.01M149.3 187.6h.01M143.1 190.4h.01M155.7 182.3h.01M145.8 189.2h.01M168.5 170.9h.01M150.4 176.2h.01M151.1 187.4h.01M156.6 181.6h.01M159.4 177.5h.01M155.5 174.6h.01M166.2 169.3h.01M154.2 187.8h.01M159.3 180.8h.01M152.1 185.5h.01M156.0 176.5h.01M153.1 182.6h.01M151.9 182.1h.01M149.3 188.8h.01M157.8 182.9h.01M153.0 181.1h.01M147.7 189.1h.01M156.7 187.1h.01M168.5 173.7h.01M147.7 183.8h.01M151.8 181.5h.01M161.7 175.3h.01M152.6 183.9h.01M159.0 174.2h.01M154.5 177.2h.01M152.4 181.8h.01M156.4 180.7h.01M161.6 177.4h.01M149.3 182.5h.01M149.8 185.1h.01M152.1 181.7h.01M161.5 178.4h.01M152.3 182.4h.01M153.3 183.0h.01M151.5 179.2h.01M149.1 180.7h.01M155.9 183.0h.01M149.7 187.4h.01M150.3 183.7h.01M165.7 174.1h.01M156.1 178.9h.01M156.2 179.6h.01M155.1 178.2h.01M153.5 181.6h.01M150.7 191.9h.01M157.1 176.6h.01M146.1 187.8h.01M149.4 184.9h.01M145.7 187.8h.01M155.6 182.4h.01M144.9 191.6h.01M147.9 184.9h.01M151.7 182.3h.01M159.2 179.9h.01M151.9 182.3h.01M166.6 176.7h.01M156.1 179.8h.01M162.0 179.7h.01M155.2 187.8h.01M155.7 184.7h.01M152.1 184.6h.01M152.4 184.3h.01M157.9 175.4h.01M154.1 184.4h.01M155.9 188.0h.01M153.1 187.0h.01M163.4 175.1h.01M147.0 188.3h.01M155.9 182.7h.01M161.4 179.2h.01M160.0 173.1h.01M156.2 174.0h.01M153.3 179.3h.01M156.2 183.9h.01M144.5 187.5h.01M152.8 181.3h.01M153.7 180.5h.01M150.8 181.6h.01M160.2 175.1h.01M150.0 189.0h.01M157.3 180.0h.01M154.9 180.2h.01M149.8 178.6h.01M144.6 187.4h.01M158.1 182.8h.01M153.2 182.3h.01M159.4 175.8h.01M158.5 179.6h.01M148.6 189.1h.01M153.4 178.9h.01M147.1 184.8h.01M165.1 179.1h.01M160.9 181.4h.01M150.5 191.2h.01M167.2 175.2h.01M151.9 188.6h.01M155.9 184.5h.01M151.4 185.2h.01M152.6 185.7h.01M156.1 184.5h.01M159.3 178.7h.01M153.8 181.6h.01M155.9 183.3h.01M155.7 181.9h.01M154.2 182.0h.01M147.8 181.8h.01M158.4 180.2h.01M153.2 190.3h.01M150.6 189.6h.01M156.3 181.3h.01M161.8 178.1h.01M152.7 179.9h.01M148.9 188.4h.01M163.9 175.8h.01M155.0 182.8h.01M161.1 181.8h.01M152.1 187.1h.01M154.5 179.2h.01M151.8 189.3h.01M155.8 180.0h.01M156.8 183.3h.01M157.9 184.5h.01M151.8 181.8h.01M152.3 180.8h.01M155.1 186.0h.01M164.1 174.7h.01M153.8 179.3h.01M150.3 187.6h.01M154.3 180.1h.01M155.2 187.0h.01M159.5 177.2h.01M158.0 183.2h.01M156.8 180.6h.01M143.7 186.7h.01M141.0 187.3h.01M155.1 182.7h.01M151.0 187.1h.01M156.6 179.7h.01M149.9 191.9h.01M160.3 174.1h.01M164.2 172.5h.01M149.9 185.1h.01M144.7 190.5h.01M148.7 192.0h.01M153.6 177.9h.01M154.2 176.0h.01M156.2 182.1h.01M152.8 179.6h.01M153.6 182.2h.01M157.6 184.4h.01M165.8 176.5h.01M150.0 183.7h.01M155.4 182.7h.01M143.2 191.0h.01M161.1 170.8h.01M149.6 184.3h.01M156.8 179.5h.01M150.1 180.8h.01M157.5 179.0h.01M151.3 185.3h.01M155.7 175.4h.01M145.0 187.8h.01M144.6 180.7h.01M153.6 187.0h.01M154.7 185.5h.01M164.3 178.0h.01M150.5 183.0h.01M154.2 177.9h.01M149.6 180.7h.01M154.9 181.6h.01M163.2 174.6h.01M151.1 185.1h.01M148.2 188.5h.01M154.2 183.8h.01M155.4 173.7h.01M157.5 181.7h.01M152.1 191.4h.01M155.5 190.1h.01M160.2 179.9h.01M157.7 182.5h.01M147.9 185.7h.01M152.4 186.9h.01M155.0 176.6h.01M158.5 179.0h.01M156.3 181.9h.01M154.4 182.2h.01M157.9 174.9h.01M147.1 186.6h.01M159.0 176.3h.01M158.3 166.8h.01M150.1 184.7h.01M158.3 183.1h.01M151.7 181.1h.01M161.5 180.7h.01M154.4 179.0h.01M152.7 184.9h.01M154.2 181.4h.01M149.2 188.3h.01M151.4 185.5h.01M152.0 185.3h.01M158.6 178.7h.01M155.2 176.2h.01M157.3 180.2h.01M151.1 184.8h.01M148.3 179.9h.01M155.8 178.3h.01M155.4 180.2h.01M157.0 179.8h.01M154.0 184.3h.01M154.4 173.7h.01M153.5 180.8h.01M151.4 189.9h.01M157.3 175.3h.01M150.4 189.1h.01M150.8 184.5h.01M144.4 191.5h.01M159.2 175.5h.01M157.1 185.8h.01M161.4 180.3h.01M159.8 181.1h.01M144.7 188.8h.01M155.1 180.9h.01M148.8 183.9h.01M154.2 182.5h.01M147.4 188.9h.01M156.2 180.0h.01M156.0 177.4h.01M157.7 182.1h.01M157.9 179.9h.01M152.1 180.7h.01M156.5 178.6h.01M151.2 188.1h.01M145.5 189.0h.01M160.0 179.9h.01M152.7 184.0h.01M157.0 179.2h.01M151.4 186.6h.01M155.5 181.4h.01M160.5 177.1h.01M152.5 184.6h.01M162.7 171.1h.01M151.7 181.9h.01M153.9 178.0h.01M158.1 181.2h.01M149.1 184.3h.01M147.2 189.5h.01M147.8 186.4h.01M151.1 182.8h.01M161.5 180.8h.01M142.4 191.1h.01M153.8 178.9h.01M152.2 185.1h.01M163.5 177.3h.01M153.2 183.7h.01M152.3 183.5h.01M145.4 184.6h.01M154.4 185.6h.01M154.8 174.8h.01M152.3 181.8h.01M153.9 178.6h.01M158.6 177.1h.01M158.9 180.8h.01M144.5 191.2h.01M162.0 174.6h.01M160.4 177.6h.01M152.5 185.0h.01M162.0 179.2h.01M159.6 172.8h.01M156.0 175.4h.01M153.4 182.3h.01M158.2 179.5h.01M159.5 174.7h.01M159.4 178.6h.01M152.3 179.8h.01M157.9 179.8h.01M158.3 178.0h.01M153.9 184.0h.01M158.0 181.0h.01M162.7 171.5h.01M158.9 166.7h.01M157.7 175.8h.01M162.8 170.5h.01M157.9 175.0h.01M150.4 189.1h.01M157.5 176.4h.01M165.8 169.5h.01M160.3 172.4h.01M149.9 186.9h.01M150.3 187.8h.01M149.9 183.0h.01M155.1 180.6h.01M153.7 185.7h.01M156.6 181.2h.01M160.9 175.3h.01M157.9 177.1h.01M158.4 180.0h.01M149.0 181.9h.01M146.4 186.6h.01M157.0 179.0h.01M153.9 184.3h.01M160.6 181.0h.01M152.6 186.0h.01M156.2 176.8h.01M153.4 179.7h.01M154.1 183.9h.01M144.5 188.8h.01M150.7 186.2h.01M151.5 186.3h.01M149.3 185.3h.01M158.0 179.6h.01M155.2 181.2h.01M161.9 179.6h.01M151.3 182.5h.01M152.5 190.3h.01M147.7 184.0h.01M157.7 182.6h.01M148.2 187.9h.01M146.2 187.8h.01M162.8 174.3h.01M153.3 183.4h.01M155.7 180.4h.01M146.5 185.7h.01M163.0 170.7h.01M159.1 174.8h.01M162.2 176.9h.01M157.1 186.7h.01M149.5 186.2h.01M148.8 184.8h.01M151.0 182.0h.01M155.8 186.5h.01M143.6 188.3h.01M149.0 185.8h.01M160.8 178.3h.01M157.2 180.0h.01M164.2 168.2h.01M148.8 187.6h.01M155.1 180.6h.01M148.0 183.7h.01M151.8 182.1h.01M150.1 182.4h.01M161.9 176.2h.01M162.7 172.0h.01M154.3 181.3h.01M154.1 181.4h.01M150.1 179.2h.01M154.4 184.6h.01M144.3 190.9h.01M159.6 181.5h.01M154.9 183.3h.01M165.5 175.8h.01M151.2 183.1h.01M159.9 177.4h.01M151.4 184.2h.01M155.7 180.1h.01M152.8 182.8h.01M163.3 178.8h.01M154.1 182.9h.01M158.8 180.7h.01M146.2 191.6h.01M149.5 186.8h.01M154.3 188.4h.01M157.1 179.3h.01M161.2 175.0h.01M150.6 185.2h.01M152.8 183.9h.01M158.4 177.7h.01M156.0 184.2h.01M157.6 182.3h.01M152.8 179.0h.01M146.0 184.5h.01M160.8 177.2h.01M150.4 182.5h.01M156.0 180.0h.01M154.5 178.9h.01M151.9 190.3h.01M149.8 186.6h.01M157.7 172.1h.01M158.1 178.7h.01M154.3 183.2h.01M144.6 183.8h.01M163.2 172.2h.01M160.9 179.6h.01M156.7 181.4h.01M160.9 181.4h.01M159.2 181.9h.01M152.3 182.7h.01M155.6 182.3h.01M160.7 182.9h.01M158.7 178.0h.01M164.8 172.9h.01M157.2 181.1h.01M150.9 181.6h.01M154.6 180.8h.01M150.5 186.4h.01M152.5 181.9h.01M145.5 190.4h.01M164.7 175.0h.01M159.8 176.7h.01M158.5 175.6h.01M153.2 185.2h.01M147.6 189.1h.01M159.1 183.6h.01M151.9 186.2h.01M150.3 184.2h.01M161.1 177.3h.01M159.8 185.7h.01M154.9 177.1h.01M153.4 182.9h.01M160.8 172.5h.01M158.4 181.7h.01M150.7 186.1h.01M144.9 192.0h.01M143.0 192.1h.01M163.7 174.3h.01M155.1 182.0h.01M166.1 172.4h.01M158.8 176.1h.01M150.5 182.2h.01M152.4 181.6h.01M160.5 178.3h.01M153.0 181.6h.01M157.2 181.7h.01M153.4 179.3h.01M152.6 182.2h.01M154.0 175.7h.01M153.5 186.5h.01M154.0 179.5h.01M157.3 180.3h.01M151.4 187.6h.01M157.6 178.4h.01M157.0 175.2h.01M157.9 177.9h.01M148.9 185.5h.01M159.2 175.3h.01M151.6 182.5h.01M152.4 187.6h.01M167.8 173.6h.01M158.4 180.9h.01M151.9 182.8h.01M151.4 190.3h.01M151.6 182.3h.01M151.8 185.4h.01M151.9 184.7h.01M157.8 183.6h.01M149.0 188.6h.01M150.4 184.6h.01M163.6 175.2h.01M153.5 184.8h.01M156.5 184.1h.01M153.1 185.2h.01M153.6 183.0h.01M152.7 181.6h.01M156.9 183.2h.01M150.9 184.2h.01M155.0 178.8h.01M160.1 179.0h.01M142.2 192.0h.01M150.8 188.8h.01M157.0 175.2h.01M151.1 185.2h.01M154.1 185.1h.01M160.4 178.3h.01M161.6 178.3h.01M153.4 181.5h.01M152.4 187.1h.01M160.8 179.5h.01M152.3 182.9h.01M158.1 182.9h.01M156.7 180.6h.01M151.4 186.8h.01M155.5 177.6h.01M161.5 171.7h.01M158.7 177.1h.01M153.9 179.7h.01M153.1 186.0h.01M153.0 182.3h.01M160.2 178.9h.01M155.8 181.6h.01M162.7 173.3h.01M157.3 180.8h.01M144.3 185.3h.01M156.8 182.9h.01M154.6 180.0h.01M152.9 186.6h.01M150.2 180.5h.01M158.3 179.1h.01M158.3 182.0h.01M162.1 176.5h.01M149.9 179.0h.01M155.8 180.2h.01M163.3 177.8h.01M159.4 182.1h.01M154.2 182.2h.01M149.9 185.5h.01M157.5 182.8h.01M152.5 187.0h.01M163.6 168.1h.01M153.4 183.3h.01M163.1 180.7h.01M160.5 175.9h.01M150.3 186.0h.01M154.8 182.6h.01M153.0 189.1h.01M152.3 186.7h.01M153.6 178.9h.01M154.9 181.7h.01M155.1 184.3h.01M156.9 188.9h.01M158.4 174.8h.01M155.9 180.9h.01M147.2 184.1h.01M161.4 173.1h.01M160.4 169.4h.01M159.3 179.8h.01M149.5 185.3h.01M149.5 187.1h.01M162.8 177.4h.01M158.6 182.0h.01M151.9 179.8h.01M151.5 182.7h.01M155.6 182.1h.01M161.1 171.6h.01M164.1 177.0h.01M162.5 180.0h.01M149.0 190.1h.01M153.9 191.3h.01M147.5 184.5h.01M161.2 177.6h.01M154.9 182.1h.01M160.7 182.1h.01M150.0 184.5h.01M151.5 184.7h.01M152.2 179.6h.01M153.7 178.2h.01M152.5 183.1h.01M156.0 185.9h.01M164.6 175.9h.01M161.8 173.7h.01M161.4 174.9h.01M156.1 181.4h.01M146.8 187.5h.01M154.4 183.5h.01M152.3 181.1h.01M148.8 187.7h.01M146.5 185.7h.01M154.3 182.8h.01M147.1 182.8h.01M157.4 182.1h.01M151.8 183.3h.01M150.4 188.7h.01M151.3 184.7h.01M150.3 179.6h.01M165.2 165.5h.01M153.6 180.0h.01M155.9 185.7h.01M145.0 191.0h.01M157.2 179.8h.01M155.1 178.7h.01M144.0 187.7h.01M153.8 185.4h.01M157.8 184.5h.01M155.4 181.9h.01M152.3 177.8h.01M155.3 177.1h.01M156.9 188.2h.01M148.6 188.3h.01M156.2 180.8h.01M153.5 181.0h.01M160.7 168.5h.01M152.1 189.8h.01M155.8 177.9h.01M149.6 186.0h.01M168.5 169.8h.01M149.8 187.5h.01M154.2 187.9h.01M158.3 182.9h.01M159.0 185.0h.01M157.1 180.5h.01M148.7 186.3h.01M155.5 179.2h.01M166.8 169.7h.01M152.5 187.6h.01M152.6 185.4h.01M152.7 181.1h.01M161.5 175.3h.01M159.3 176.0h.01M145.2 186.8h.01M151.6 184.2h.01M155.7 182.7h.01M148.8 188.6h.01M147.2 186.8h.01M169.5 171.6h.01M156.0 187.1h.01M163.2 176.6h.01M161.3 174.3h.01M152.3 181.0h.01M155.1 176.8h.01M152.9 185.3h.01M152.6 185.1h.01M161.7 171.2h.01M160.2 173.8h.01M150.3 187.0h.01M158.3 175.6h.01M150.1 184.8h.01M151.3 185.9h.01M150.5 185.1h.01M155.5 179.5h.01M159.0 175.0h.01M154.4 189.6h.01M162.1 174.7h.01M159.2 178.5h.01M153.2 185.8h.01M158.4 182.8h.01M154.1 179.9h.01M151.6 183.4h.01M146.9 187.5h.01M155.6 175.3h.01M148.3 179.5h.01M152.4 185.6h.01M154.3 182.3h.01M150.0 188.6h.01M151.7 188.1h.01M154.8 180.2h.01M161.1 173.9h.01M159.8 177.1h.01M156.3 183.8h.01M156.7 179.8h.01M154.3 183.0h.01M154.3 181.0h.01M144.6 182.4h.01M153.5 182.1h.01M161.3 176.8h.01M163.3 179.5h.01M152.4 181.0h.01M157.5 176.9h.01M155.9 185.9h.01M159.3 181.3h.01M147.9 188.7h.01M157.7 174.1h.01M156.2 181.8h.01M150.7 185.3h.01M159.5 170.4h.01M156.0 178.9h.01M153.2 180.3h.01M159.2 173.2h.01M157.3 181.2h.01M153.6 181.9h.01M155.1 185.2h.01M156.6 179.6h.01M149.4 187.7h.01M157.1 179.3h.01M158.1 171.4h.01M166.5 169.3h.01M145.7 184.4h.01M159.9 178.7h.01M153.4 183.0h.01M154.6 180.4h.01M161.4 177.4h.01M150.9 179.6h.01M160.4 174.3h.01M151.8 189.5h.01M153.3 175.8h.01M145.6 189.5h.01M148.0 187.9h.01M173.0 174.5h.01M155.8 183.7h.01M158.7 177.4h.01M149.2 191.3h.01M154.5 183.7h.01M156.6 177.0h.01M163.1 173.8h.01M154.9 180.1h.01M159.9 180.3h.01M152.9 185.8h.01M150.1 181.9h.01M154.1 184.7h.01M159.3 181.2h.01M150.7 184.8h.01M156.1 182.8h.01M152.2 180.8h.01M149.1 191.8h.01M158.7 175.4h.01M161.8 174.5h.01M159.2 182.0h.01M150.8 182.9h.01M146.5 191.1h.01M158.4 181.3h.01M157.8 179.2h.01M158.4 174.4h.01M157.5 181.0h.01M157.2 185.7h.01M159.3 182.3h.01M158.7 177.2h.01M166.3 174.4h.01M154.5 181.6h.01M149.2 186.8h.01M153.8 183.5h.01M153.6 185.1h.01M151.3 179.4h.01M150.4 182.8h.01M147.8 187.8h.01M157.1 175.3h.01M144.4 191.6h.01M168.4 166.0h.01M155.2 179.8h.01M161.6 180.3h.01M156.0 184.9h.01M149.6 187.7h.01M148.7 188.6h.01M152.0 185.4h.01M149.5 187.9h.01M154.1 180.3h.01M148.5 183.7h.01M153.4 184.6h.01M154.3 182.9h.01M160.4 175.0h.01M157.6 182.0h.01M157.9 180.1h.01M158.6 185.1h.01M153.6 181.6h.01M160.6 182.0h.01M161.8 175.0h.01M159.7 178.7h.01M156.2 182.8h.01M158.0 179.1h.01M162.5 172.7h.01M165.5 178.9h.01M165.7 171.9h.01M150.8 179.9h.01M158.9 186.7h.01M144.0 186.9h.01M160.0 178.9h.01M145.5 190.9h.01M153.6 177.4h.01M157.0 174.7h.01M160.7 176.7h.01M148.2 182.4h.01M152.8 183.4h.01M152.9 181.5h.01M155.2 184.6h.01M149.8 186.1h.01M156.9 179.6h.01M161.8 180.5h.01M153.3 184.1h.01M155.9 176.5h.01M157.8 171.9h.01M160.4 174.3h.01M148.7 186.1h.01M151.4 181.4h.01M146.8 187.8h.01M160.1 178.0h.01M160.2 174.1h.01M152.2 183.1h.01M156.2 182.1h.01M164.6 174.5h.01M157.9 183.6h.01M148.3 183.4h.01M158.2 178.9h.01M156.9 183.1h.01M152.7 183.4h.01M157.7 181.3h.01M159.7 177.3h.01M151.5 176.2h.01M157.8 173.0h.01M159.0 186.9h.01M150.0 180.7h.01M161.6 172.9h.01M153.5 182.5h.01M159.7 179.7h.01M156.0 184.6h.01M151.3 187.7h.01M152.8 186.3h.01M150.4 184.5h.01M159.8 172.6h.01M149.8 188.9h.01M152.4 182.5h.01M157.8 186.6h.01M148.9 186.6h.01M153.6 179.4h.01M155.3 183.0h.01M152.1 188.5h.01M148.6 187.4h.01M162.1 186.2h.01M146.4 191.2h.01M165.9 168.4h.01M160.3 177.0h.01M148.2 189.8h.01M150.3 186.6h.01M148.4 190.8h.01M161.8 176.6h.01" stroke="#e4262b" stroke-width="0.9" stroke-linecap="round" fill="none" opacity="0.7"/>
<path d="M179.0 142.1h.01M178.7 153.9h.01M179.8 143.0h.01M177.8 141.1h.01M181.8 140.6h.01M177.6 140.8h.01M178.9 143.7h.01M178.5 142.2h.01M177.8 148.0h.01M180.3 141.7h.01M180.9 142.8h.01M175.3 142.3h.01M185.0 145.0h.01M183.5 140.3h.01M175.5 140.2h.01M184.1 139.0h.01M177.6 147.4h.01M179.2 142.2h.01M181.1 143.3h.01M179.1 144.0h.01M177.9 142.8h.01M182.0 138.8h.01M179.4 138.4h.01M182.2 145.5h.01M182.8 147.1h.01M183.1 145.9h.01M177.7 146.7h.01M177.3 152.3h.01M180.9 145.4h.01M176.3 147.3h.01M183.5 136.7h.01M178.3 141.1h.01M178.1 148.5h.01M186.5 138.7h.01M183.1 141.9h.01M184.1 133.2h.01M178.7 147.9h.01M177.7 147.8h.01M178.5 147.5h.01M181.7 141.3h.01M177.7 142.3h.01M183.5 143.0h.01M178.0 156.3h.01M175.3 142.1h.01M181.6 138.8h.01M180.0 141.3h.01M175.5 144.8h.01M176.6 140.0h.01M183.7 138.5h.01M181.8 147.7h.01M183.0 144.9h.01M179.3 137.4h.01M180.4 144.8h.01M178.5 139.0h.01M182.6 138.7h.01M181.3 141.0h.01M174.9 149.4h.01M181.8 145.1h.01M175.7 142.4h.01M180.8 140.0h.01M184.9 134.8h.01M182.1 135.4h.01M175.2 137.8h.01M181.7 140.0h.01M177.9 139.3h.01M175.5 139.3h.01M176.9 141.6h.01M178.7 133.2h.01M177.9 147.7h.01M178.4 142.5h.01M177.7 140.0h.01M179.6 137.3h.01M179.3 136.1h.01M180.8 136.4h.01M181.7 146.7h.01M174.9 145.4h.01M178.5 147.3h.01M178.1 141.5h.01M178.9 147.7h.01M173.9 145.7h.01M180.0 140.7h.01M179.0 146.3h.01M182.2 149.4h.01M177.8 135.0h.01M178.0 141.8h.01M178.4 147.5h.01M186.5 144.1h.01M174.3 146.7h.01M177.8 142.8h.01M182.2 144.1h.01M179.5 143.7h.01M182.0 145.1h.01M185.9 130.6h.01M177.3 140.2h.01M182.2 143.5h.01M182.2 136.9h.01M179.0 145.2h.01M179.5 141.0h.01M180.5 149.2h.01M173.4 148.9h.01M180.5 139.1h.01M181.7 142.7h.01M183.3 139.3h.01M182.6 138.9h.01M180.6 145.4h.01M179.4 145.1h.01M177.9 146.8h.01M178.2 139.8h.01M179.3 142.4h.01M177.2 145.8h.01M179.3 145.0h.01M175.2 137.3h.01M178.9 138.6h.01M179.3 144.8h.01M183.0 148.5h.01M182.0 139.7h.01M181.3 140.5h.01M181.3 138.4h.01M183.7 144.2h.01M178.8 137.1h.01M180.5 140.5h.01M180.4 139.7h.01M178.1 145.1h.01M184.1 137.5h.01M179.1 144.1h.01M179.2 140.8h.01M186.2 139.2h.01M180.8 140.6h.01M179.4 133.4h.01M182.4 141.7h.01M176.8 149.2h.01M178.9 140.1h.01M177.2 146.9h.01M179.8 141.4h.01M175.7 139.0h.01M180.7 142.5h.01M173.7 139.1h.01M180.4 153.3h.01M177.4 133.7h.01M182.0 140.7h.01M175.7 144.8h.01M179.0 138.7h.01M175.8 142.1h.01M180.0 135.5h.01M182.7 137.5h.01M183.9 143.9h.01M179.1 143.9h.01M177.9 142.3h.01M184.6 140.3h.01M182.1 139.0h.01M179.6 146.5h.01M176.1 143.9h.01M173.2 138.0h.01M178.4 146.1h.01M181.8 138.9h.01M179.3 143.3h.01M175.0 144.3h.01M183.8 147.6h.01M177.9 141.0h.01M176.9 140.6h.01M178.9 145.3h.01M179.9 138.9h.01M182.2 146.1h.01M177.9 141.6h.01M179.4 136.0h.01M180.1 145.3h.01M185.5 143.4h.01M178.8 142.0h.01M181.5 145.8h.01M177.1 143.4h.01M181.7 134.6h.01M183.8 141.8h.01M182.3 142.4h.01M179.0 142.3h.01M180.6 146.1h.01M178.9 138.1h.01M177.6 138.7h.01M182.0 138.8h.01M184.3 143.1h.01M179.5 147.9h.01M175.1 156.5h.01M178.6 165.8h.01M173.2 181.3h.01M177.9 147.9h.01M175.7 167.5h.01M176.9 166.9h.01M183.3 167.6h.01M182.3 165.4h.01M174.3 172.9h.01M174.2 167.9h.01M178.2 151.7h.01M174.2 157.7h.01M177.5 171.4h.01M176.5 176.5h.01M178.9 153.7h.01M174.5 160.2h.01M174.8 158.7h.01M178.7 161.9h.01M179.3 153.4h.01M173.8 147.0h.01M171.0 155.6h.01M176.6 157.8h.01M176.4 178.0h.01M173.1 157.2h.01M174.9 151.5h.01M180.5 159.4h.01M180.2 149.6h.01M182.0 180.1h.01M173.8 159.6h.01M176.0 164.8h.01M172.5 164.0h.01M178.6 154.4h.01M169.6 153.6h.01M175.2 166.7h.01M174.6 149.4h.01M178.3 163.1h.01M178.6 160.2h.01M179.6 164.4h.01M171.1 161.6h.01M178.8 160.1h.01M180.8 155.7h.01M178.5 148.8h.01M176.4 154.9h.01M173.4 148.1h.01M177.1 163.7h.01M174.5 148.7h.01M173.8 166.7h.01M172.8 170.1h.01M171.4 162.4h.01M178.4 170.8h.01M175.2 153.0h.01M172.2 168.0h.01M176.1 155.7h.01M175.2 162.1h.01M176.6 170.5h.01M170.0 167.5h.01M174.9 159.2h.01M175.5 159.1h.01M178.7 161.9h.01M172.1 159.3h.01M176.2 163.2h.01M176.6 159.2h.01M179.5 150.1h.01M183.0 154.8h.01M173.4 167.0h.01M179.7 171.2h.01M180.9 164.2h.01M176.7 163.3h.01M176.5 155.1h.01M181.3 176.3h.01M176.5 157.9h.01M175.0 144.8h.01M174.5 155.3h.01M176.4 151.0h.01M170.8 165.9h.01M181.7 140.8h.01M176.1 167.7h.01M173.0 147.1h.01M176.6 157.9h.01M174.6 174.8h.01M181.0 165.9h.01M176.3 157.1h.01M179.2 158.0h.01M181.0 171.3h.01M174.7 167.0h.01M181.3 166.1h.01M173.7 157.8h.01M175.5 161.3h.01M176.7 157.1h.01M179.2 172.5h.01M174.9 147.0h.01M177.7 160.4h.01M177.9 154.2h.01M177.5 152.2h.01M179.9 175.6h.01M173.9 137.1h.01M175.2 155.8h.01M177.3 160.7h.01M178.2 185.0h.01M175.0 157.2h.01M178.0 143.9h.01M179.1 155.0h.01M172.4 153.0h.01M178.2 168.2h.01M180.5 164.6h.01M174.6 165.7h.01M176.5 181.8h.01M170.6 175.2h.01M179.1 164.4h.01M176.5 155.7h.01M173.9 146.8h.01M182.9 169.2h.01M178.8 164.1h.01M171.0 158.3h.01M177.1 171.3h.01M173.8 163.3h.01M176.1 161.2h.01M174.5 164.2h.01M177.0 144.1h.01M180.4 180.7h.01M174.2 171.3h.01M173.9 156.2h.01M182.1 162.8h.01M181.4 163.6h.01M179.9 159.5h.01M181.1 177.1h.01M178.9 156.0h.01M175.8 152.6h.01M178.7 165.8h.01M174.8 169.4h.01M175.1 177.5h.01M179.4 175.5h.01M174.7 152.2h.01M171.4 167.0h.01M173.5 173.3h.01M177.3 168.1h.01M173.1 155.9h.01M177.5 167.9h.01M173.1 164.3h.01M174.4 168.5h.01M176.2 158.6h.01M178.2 171.7h.01M176.2 172.3h.01M173.9 163.8h.01M173.6 163.2h.01M174.2 161.6h.01M178.8 152.6h.01M171.7 159.7h.01M178.5 163.3h.01M174.2 168.7h.01M175.0 187.4h.01M173.3 185.4h.01M179.4 178.8h.01M175.0 186.5h.01M177.5 184.9h.01M175.5 173.4h.01M175.9 175.1h.01M176.1 168.8h.01M177.2 177.7h.01M175.0 188.0h.01M177.8 178.6h.01M179.5 187.1h.01M177.5 180.6h.01M175.9 178.5h.01M176.4 178.8h.01M179.4 183.0h.01M176.5 184.7h.01M176.8 174.2h.01M179.7 183.3h.01M174.2 177.0h.01M173.8 179.1h.01M175.9 177.6h.01M176.2 183.6h.01M175.5 184.7h.01M176.2 181.7h.01M177.8 190.9h.01M175.6 177.6h.01M177.5 169.8h.01M176.3 181.5h.01M176.8 173.7h.01M174.5 176.5h.01M174.2 186.1h.01M175.2 179.0h.01M179.3 182.6h.01M169.8 176.3h.01M177.0 185.1h.01M176.4 184.0h.01M173.1 181.9h.01M172.2 177.5h.01M173.0 177.4h.01M174.7 181.0h.01M173.3 188.7h.01M174.3 191.4h.01M178.6 175.1h.01M178.3 174.0h.01M179.9 184.2h.01M172.7 169.2h.01M174.4 174.2h.01M178.8 174.8h.01M174.9 185.0h.01M175.6 183.6h.01M174.8 186.3h.01M172.8 185.4h.01M172.0 183.1h.01M172.1 180.8h.01M177.2 189.3h.01M170.2 177.5h.01M172.6 189.2h.01M172.9 186.1h.01M174.0 173.4h.01M175.8 175.2h.01M177.6 186.9h.01M179.4 176.0h.01M180.1 187.7h.01M180.5 175.8h.01M176.4 174.0h.01M175.1 183.0h.01M177.3 177.1h.01M175.4 176.4h.01M176.6 185.9h.01M175.7 188.7h.01M177.7 184.1h.01M178.9 174.6h.01M175.4 171.4h.01M175.4 179.1h.01M177.9 179.3h.01M173.6 181.4h.01M175.1 185.0h.01M172.9 173.0h.01M170.7 188.8h.01M171.7 179.2h.01M172.2 187.2h.01M173.8 189.2h.01M173.4 183.7h.01M177.7 187.7h.01M171.9 179.8h.01M175.2 171.1h.01M165.5 159.6h.01M164.5 147.3h.01M162.9 160.0h.01M167.1 153.3h.01M165.3 170.5h.01M159.8 154.1h.01M160.4 146.6h.01M160.2 168.2h.01M157.4 155.6h.01M167.9 160.9h.01M163.1 154.7h.01M161.4 157.1h.01M165.4 157.5h.01M166.6 144.1h.01M166.0 153.3h.01M162.0 154.1h.01M165.2 156.2h.01M165.1 151.4h.01M162.9 165.5h.01M167.5 154.5h.01M162.7 154.4h.01M161.4 157.1h.01M168.0 161.0h.01M169.2 167.6h.01M155.8 159.1h.01M159.8 145.9h.01M156.7 153.5h.01M170.3 157.6h.01M161.1 156.8h.01M158.3 158.2h.01M161.6 145.8h.01M159.4 180.2h.01M165.1 156.4h.01M165.3 150.3h.01M162.5 163.1h.01M154.1 152.0h.01M160.1 155.1h.01M159.5 158.9h.01M167.0 159.4h.01M167.1 164.2h.01M159.1 158.9h.01M160.2 161.6h.01M160.3 155.8h.01M170.4 155.8h.01M154.4 157.9h.01M163.5 153.6h.01M162.4 164.1h.01M159.5 155.8h.01M158.6 159.3h.01M161.4 150.7h.01M161.3 169.6h.01M153.7 147.6h.01M163.7 147.6h.01M171.6 146.9h.01M155.7 153.6h.01M167.3 162.6h.01M164.8 159.1h.01M168.4 144.7h.01M163.4 166.9h.01M156.9 159.3h.01M168.0 165.6h.01M161.4 169.8h.01M164.5 164.4h.01M156.8 151.9h.01M158.4 169.2h.01M150.7 144.6h.01M166.0 158.1h.01M147.6 154.4h.01M160.6 165.4h.01M152.7 153.5h.01M168.3 186.0h.01M158.6 181.9h.01M155.9 188.4h.01M161.0 188.0h.01M167.0 179.6h.01M162.4 185.6h.01M165.2 189.0h.01M168.5 184.3h.01M166.5 180.3h.01M160.2 185.4h.01M164.7 178.8h.01M162.7 180.0h.01M160.4 188.1h.01M158.5 180.6h.01M165.9 183.4h.01M163.9 177.5h.01M163.0 181.7h.01M159.2 180.9h.01M161.7 186.4h.01M172.3 183.5h.01M170.3 183.6h.01M156.0 183.4h.01M169.4 188.6h.01M158.9 191.8h.01M159.6 180.3h.01M160.6 188.8h.01M165.1 186.7h.01M152.4 182.9h.01M162.6 185.9h.01M160.9 187.8h.01M159.9 177.8h.01M155.3 188.1h.01M166.9 180.1h.01M168.5 182.5h.01M162.6 177.5h.01M160.6 183.6h.01M164.2 181.0h.01M168.0 188.7h.01M159.3 184.7h.01M155.9 184.8h.01M158.6 182.6h.01M164.1 182.2h.01M168.3 180.2h.01M161.0 184.4h.01M163.1 184.2h.01M162.2 180.1h.01M166.5 183.5h.01M167.6 188.3h.01M161.5 180.3h.01M161.1 180.7h.01M153.7 189.5h.01M165.2 192.2h.01M160.6 185.5h.01M164.6 182.9h.01M168.0 183.2h.01M162.9 183.8h.01M152.5 180.5h.01M159.7 189.6h.01M166.1 186.2h.01M166.3 182.5h.01" stroke="#e4262b" stroke-width="0.9" stroke-linecap="round" fill="none" opacity="0.42"/>
<path d="M135.90 193.30H139.50M136.90 187.84H139.50M136.90 184.64H139.50M136.90 182.37H139.50M136.90 180.61H139.50M136.90 179.18H139.50M136.90 177.96H139.50M136.90 176.91H139.50M136.90 175.98H139.50M135.90 175.15H139.50M136.90 169.69H139.50M136.90 166.49H139.50M136.90 164.22H139.50M136.90 162.46H139.50M136.90 161.03H139.50M136.90 159.81H139.50M136.90 158.76H139.50M136.90 157.83H139.50M135.90 157.00H139.50M136.90 151.54H139.50M136.90 148.34H139.50M136.90 146.07H139.50M136.90 144.31H139.50M136.90 142.88H139.50M136.90 141.66H139.50M136.90 140.61H139.50M136.90 139.68H139.50M135.90 138.85H139.50M136.90 133.39H139.50M136.90 130.19H139.50M136.90 127.92H139.50M136.90 126.16H139.50M136.90 124.73H139.50M136.90 123.51H139.50M136.90 122.46H139.50M136.90 121.53H139.50M136.00 120.70H139.50M139.50 193.30V196.90M144.99 193.30V195.90M148.21 193.30V195.90M150.49 193.30V195.90M152.26 193.30V195.90M153.70 193.30V195.90M154.92 193.30V195.90M155.98 193.30V195.90M156.91 193.30V195.90M157.75 193.30V196.90M163.24 193.30V195.90M166.46 193.30V195.90M168.74 193.30V195.90M170.51 193.30V195.90M171.95 193.30V195.90M173.17 193.30V195.90M174.23 193.30V195.90M175.16 193.30V195.90M176.00 193.30V196.90M181.49 193.30V195.90M184.71 193.30V195.90M186.99 193.30V195.90M188.76 193.30V195.90M190.20 193.30V195.90M191.42 193.30V195.90M192.48 193.30V195.90M193.41 193.30V195.90M194.25 193.30V196.90M199.74 193.30V195.90M202.96 193.30V195.90M205.24 193.30V195.90M207.01 193.30V195.90M208.45 193.30V195.90M209.67 193.30V195.90M210.73 193.30V195.90M211.66 193.30V195.90M212.50 193.30V196.80" stroke="#222" stroke-width="0.85" fill="none"/>
<text x="123.50" y="127.20" font-size="7.70" text-anchor="start" fill="#222" textLength="9.97" lengthAdjust="spacingAndGlyphs">10<tspan dy="-3.50" font-size="6.55">4</tspan></text>
<text x="123.50" y="144.20" font-size="7.70" text-anchor="start" fill="#222" textLength="9.97" lengthAdjust="spacingAndGlyphs">10<tspan dy="-3.50" font-size="6.55">3</tspan></text>
<text x="123.50" y="160.70" font-size="7.70" text-anchor="start" fill="#222" textLength="9.97" lengthAdjust="spacingAndGlyphs">10<tspan dy="-3.50" font-size="6.55">2</tspan></text>
<text x="123.50" y="177.20" font-size="7.70" text-anchor="start" fill="#222" textLength="9.97" lengthAdjust="spacingAndGlyphs">10<tspan dy="-3.50" font-size="6.55">1</tspan></text>
<text x="123.50" y="193.90" font-size="7.70" text-anchor="start" fill="#222" textLength="9.97" lengthAdjust="spacingAndGlyphs">10<tspan dy="-3.50" font-size="6.55">0</tspan></text>
<text x="136.10" y="207.10" font-size="7.70" text-anchor="start" fill="#222" textLength="9.97" lengthAdjust="spacingAndGlyphs">10<tspan dy="-3.50" font-size="6.55">0</tspan></text>
<text x="153.90" y="207.10" font-size="7.70" text-anchor="start" fill="#222" textLength="9.97" lengthAdjust="spacingAndGlyphs">10<tspan dy="-3.50" font-size="6.55">1</tspan></text>
<text x="168.50" y="207.10" font-size="7.70" text-anchor="start" fill="#222" textLength="9.97" lengthAdjust="spacingAndGlyphs">10<tspan dy="-3.50" font-size="6.55">2</tspan></text>
<text x="188.80" y="207.10" font-size="7.70" text-anchor="start" fill="#222" textLength="9.97" lengthAdjust="spacingAndGlyphs">10<tspan dy="-3.50" font-size="6.55">3</tspan></text>
<text x="205.70" y="207.10" font-size="7.70" text-anchor="start" fill="#222" textLength="9.97" lengthAdjust="spacingAndGlyphs">10<tspan dy="-3.50" font-size="6.55">4</tspan></text>
<rect x="139.50" y="120.70" width="73.00" height="72.60" fill="none" stroke="#111" stroke-width="1.5" />
<line x1="169.90" y1="120.70" x2="169.90" y2="193.30" stroke="#000" stroke-width="1.5" />
<line x1="139.50" y1="169.60" x2="212.50" y2="169.60" stroke="#000" stroke-width="1.5" />
<ellipse cx="250.5" cy="184.0" rx="7.0" ry="3.0" transform="rotate(-42 250.5 184.0)" fill="#e3201f" opacity="0.8" filter="url(#bl)"/>
<path d="M257.0 177.7h.01M246.3 190.1h.01M255.7 179.9h.01M253.9 184.4h.01M257.8 179.6h.01M257.9 178.5h.01M256.8 173.9h.01M255.1 181.1h.01M249.2 181.1h.01M254.8 179.7h.01M245.9 186.2h.01M250.1 184.9h.01M245.7 185.4h.01M252.4 182.3h.01M257.9 176.1h.01M256.7 184.5h.01M251.7 186.4h.01M252.1 182.9h.01M255.5 176.4h.01M245.5 182.7h.01M252.0 186.1h.01M251.2 186.3h.01M249.8 188.7h.01M249.6 183.4h.01M257.3 178.1h.01M253.3 182.1h.01M253.8 181.6h.01M246.6 188.7h.01M253.4 182.9h.01M253.0 188.1h.01M248.2 186.7h.01M249.9 181.1h.01M247.3 189.3h.01M253.7 181.8h.01M244.1 189.0h.01M252.8 184.2h.01M256.3 180.5h.01M257.4 183.6h.01M249.9 186.3h.01M250.0 181.3h.01M248.0 187.9h.01M251.4 185.9h.01M252.9 189.2h.01M253.3 188.6h.01M248.8 187.6h.01M253.1 177.5h.01M247.7 188.1h.01M257.6 182.4h.01M254.7 183.9h.01M245.6 187.2h.01M255.6 177.8h.01M247.0 181.5h.01M247.4 181.6h.01M254.7 185.4h.01M252.3 183.1h.01M250.2 186.3h.01M245.7 187.0h.01M257.1 173.9h.01M246.2 183.3h.01M255.2 179.1h.01M243.7 186.1h.01M256.2 181.3h.01M253.8 181.0h.01M256.5 183.2h.01M250.7 178.6h.01M240.6 188.2h.01M249.3 180.2h.01M246.5 187.8h.01M245.1 184.7h.01M255.3 181.5h.01M255.3 182.9h.01M256.2 178.8h.01M247.0 181.4h.01M248.7 183.7h.01M255.8 181.5h.01M258.2 180.8h.01M256.1 180.8h.01M250.5 182.8h.01M248.9 182.3h.01M251.9 182.4h.01M238.1 186.1h.01M246.9 185.7h.01M251.5 187.5h.01M245.9 183.9h.01M253.7 184.5h.01M255.3 176.3h.01M248.8 184.1h.01M257.6 180.0h.01M251.8 185.3h.01M248.7 184.9h.01M249.5 183.2h.01M250.1 185.6h.01M253.9 185.9h.01M253.7 180.8h.01M239.4 189.0h.01M247.8 185.1h.01M244.7 187.9h.01M249.8 182.5h.01M249.7 184.4h.01M246.2 184.9h.01M250.3 185.0h.01M242.9 183.9h.01M247.5 188.3h.01M245.6 191.4h.01M248.3 186.3h.01M248.3 187.8h.01M251.1 184.6h.01M243.9 192.2h.01M243.2 189.3h.01M252.0 181.9h.01M252.5 182.6h.01M249.3 182.2h.01M256.1 182.6h.01M246.7 184.3h.01M249.9 182.0h.01M252.2 185.1h.01M255.3 184.5h.01M250.4 180.5h.01M247.9 188.0h.01M257.1 176.7h.01M249.1 189.8h.01M251.0 185.8h.01M252.9 178.5h.01M248.0 184.3h.01M253.4 183.4h.01M249.3 186.8h.01M244.0 190.9h.01M251.6 182.9h.01M244.5 188.9h.01M248.5 190.4h.01M248.8 184.7h.01M250.7 185.4h.01M251.5 184.8h.01M248.5 189.3h.01M249.6 187.1h.01M252.9 185.2h.01M247.6 181.6h.01M245.5 187.6h.01M254.9 178.5h.01M252.5 186.2h.01M248.6 186.6h.01M250.4 182.0h.01M252.9 185.2h.01M253.8 179.8h.01M262.0 174.6h.01M248.0 183.7h.01M247.8 189.0h.01M244.7 188.5h.01M248.0 181.8h.01M248.6 189.8h.01M248.1 186.0h.01M250.4 186.7h.01M256.5 181.5h.01M253.3 183.2h.01M247.9 190.5h.01M246.7 184.4h.01M247.5 183.9h.01M253.0 184.0h.01M255.0 179.5h.01M247.5 185.6h.01M244.6 186.8h.01M256.7 175.8h.01M249.5 186.8h.01M252.5 184.6h.01M245.2 185.1h.01M254.2 178.3h.01M250.2 184.8h.01M242.9 190.1h.01M248.6 187.3h.01M245.4 181.1h.01M249.1 176.7h.01M247.6 184.2h.01M247.9 186.2h.01M252.5 179.2h.01M249.1 187.5h.01M253.4 183.6h.01M251.2 182.5h.01M247.6 184.9h.01M256.2 183.6h.01M256.2 175.3h.01M249.4 184.9h.01M247.8 182.6h.01M261.1 179.3h.01M248.9 183.8h.01M248.3 181.9h.01M250.2 186.6h.01M258.1 179.9h.01M253.5 177.7h.01M250.9 183.3h.01M255.1 176.5h.01M245.4 186.0h.01M258.1 180.2h.01M251.0 184.8h.01M250.4 190.2h.01M254.1 184.9h.01M247.6 188.8h.01M250.3 183.3h.01M246.0 185.6h.01M244.7 186.9h.01M251.1 185.2h.01M242.5 187.6h.01M245.2 183.2h.01M248.7 184.6h.01M250.2 185.5h.01M255.3 182.2h.01M252.3 184.2h.01M245.6 185.1h.01M253.7 182.8h.01M258.4 176.0h.01M246.9 188.1h.01M247.1 184.0h.01M258.8 182.8h.01M250.6 181.6h.01M251.2 183.1h.01M246.3 190.5h.01M253.7 185.2h.01M248.1 186.0h.01M247.0 181.3h.01M256.6 171.4h.01M245.3 187.4h.01M244.9 190.3h.01M248.6 185.8h.01M251.4 183.4h.01M250.5 183.4h.01M253.3 184.0h.01M248.6 184.1h.01M249.3 186.0h.01M248.3 184.6h.01M248.4 191.5h.01M255.2 183.1h.01M252.2 184.0h.01M252.5 184.1h.01M256.2 183.9h.01M247.4 188.4h.01M259.1 180.9h.01M247.0 188.2h.01M252.0 183.5h.01M252.9 181.5h.01M253.2 182.0h.01M248.3 185.7h.01M250.5 181.3h.01M255.2 183.5h.01M256.8 182.4h.01M256.9 180.7h.01M255.8 179.4h.01M254.6 185.2h.01M257.6 176.4h.01M258.2 183.3h.01M254.6 181.2h.01M246.5 184.4h.01M258.0 180.6h.01M250.0 180.7h.01M247.5 184.7h.01M244.6 179.6h.01M254.2 186.1h.01M248.5 186.0h.01M250.0 181.1h.01M251.0 180.9h.01M249.3 186.0h.01M250.6 184.3h.01M248.2 188.6h.01M247.7 189.4h.01M246.7 183.5h.01M248.5 182.3h.01M248.3 185.6h.01M255.1 182.7h.01M252.1 181.7h.01M244.2 189.0h.01M249.1 184.9h.01M247.6 184.9h.01M251.6 178.6h.01M252.8 186.3h.01M245.9 184.9h.01M249.1 184.1h.01M254.0 185.6h.01M251.1 185.5h.01M247.5 185.1h.01M250.7 181.6h.01M254.7 178.9h.01M248.2 182.6h.01M247.2 183.6h.01M245.6 182.4h.01M253.5 187.3h.01M251.6 186.1h.01M250.0 191.4h.01M246.2 187.7h.01M254.7 175.9h.01M241.1 192.3h.01M245.9 184.9h.01M244.4 184.5h.01M258.3 181.2h.01M244.9 188.7h.01M250.6 187.7h.01M250.0 190.1h.01M249.2 182.5h.01M249.2 183.2h.01M259.9 176.1h.01M248.8 185.9h.01M254.9 176.8h.01M252.3 180.9h.01M252.1 186.4h.01M251.0 185.9h.01M255.7 190.1h.01M249.9 188.4h.01M251.1 178.1h.01M242.5 191.6h.01M256.7 182.6h.01M248.4 187.2h.01M250.4 188.5h.01M248.9 184.3h.01M255.6 176.4h.01M255.2 178.6h.01M245.5 185.6h.01M255.0 179.7h.01M246.5 182.4h.01M257.1 181.7h.01M253.2 184.3h.01M251.3 183.6h.01M248.6 186.5h.01M246.4 185.4h.01M245.7 188.8h.01M246.7 185.7h.01M256.1 178.8h.01M247.7 181.2h.01M250.1 187.8h.01M252.8 182.1h.01M249.9 184.8h.01M251.6 181.9h.01M254.9 179.5h.01M254.0 176.3h.01M256.1 179.6h.01M253.5 180.1h.01M252.1 184.6h.01M255.7 181.1h.01M251.3 181.2h.01M257.9 178.1h.01M249.0 184.2h.01M244.3 187.0h.01M244.6 190.0h.01M250.5 184.7h.01M244.7 187.8h.01M249.6 188.3h.01M241.8 186.6h.01M256.4 180.0h.01M258.6 180.7h.01M242.3 191.8h.01M246.5 186.7h.01M248.1 187.1h.01M254.8 182.2h.01M251.5 181.7h.01M251.0 182.8h.01M247.0 185.3h.01M246.4 182.8h.01M242.4 185.0h.01M254.5 184.6h.01M248.8 181.5h.01M255.3 178.6h.01M240.7 186.2h.01M253.7 186.1h.01M247.8 184.2h.01M247.9 183.4h.01M248.7 186.5h.01M249.1 188.5h.01M247.7 189.0h.01M251.2 182.0h.01M248.7 184.5h.01M255.9 176.3h.01M257.1 181.6h.01M251.9 188.4h.01M251.0 183.6h.01M253.2 180.2h.01M251.7 186.9h.01M248.2 182.4h.01M252.6 181.8h.01M249.1 187.2h.01M245.6 185.0h.01M249.1 184.6h.01M248.6 181.5h.01M258.7 179.0h.01M251.4 183.9h.01M247.2 188.7h.01M247.3 190.3h.01M247.9 185.6h.01M258.4 180.3h.01M243.6 187.7h.01M250.8 182.8h.01M252.6 179.7h.01M241.2 189.2h.01M250.7 185.8h.01M255.7 183.7h.01M251.1 182.8h.01M253.3 181.1h.01M247.7 184.8h.01M256.8 183.5h.01M253.1 176.1h.01M253.0 177.8h.01M250.1 186.4h.01M242.9 186.6h.01M250.3 190.0h.01M253.3 178.3h.01M251.3 183.8h.01M250.5 181.5h.01M255.7 178.0h.01M250.9 177.7h.01M252.3 182.8h.01M251.5 174.0h.01M254.1 183.5h.01M251.7 187.5h.01M260.6 178.0h.01M256.1 183.6h.01M254.4 184.8h.01M251.7 180.5h.01M248.2 190.1h.01M251.8 180.5h.01M253.1 186.7h.01M241.9 188.6h.01M254.8 183.0h.01M244.0 186.4h.01M253.6 186.1h.01M246.5 179.5h.01M254.6 180.2h.01M246.6 183.5h.01M255.8 180.1h.01M252.7 183.2h.01M253.7 184.0h.01M255.6 175.6h.01M249.4 183.4h.01M256.9 177.3h.01M243.8 189.9h.01M246.2 185.3h.01M246.4 183.1h.01M248.3 182.7h.01M255.3 184.3h.01M242.5 189.6h.01M250.2 181.3h.01M250.2 180.0h.01M247.5 186.2h.01M252.3 182.5h.01M247.0 185.8h.01M248.3 184.9h.01M252.5 184.1h.01M250.7 181.4h.01M243.4 189.8h.01M246.2 185.9h.01M250.9 184.5h.01M255.5 179.0h.01M244.4 191.5h.01M251.4 177.4h.01M253.3 182.1h.01M248.5 186.3h.01M253.1 183.7h.01M255.1 179.8h.01M254.6 188.7h.01M245.6 187.4h.01M250.3 186.8h.01M252.7 177.4h.01M253.4 177.2h.01M260.0 173.1h.01M254.5 179.4h.01M252.1 180.0h.01M251.0 183.6h.01M252.2 185.2h.01M248.1 185.0h.01M244.8 188.6h.01M250.0 187.5h.01M251.9 180.1h.01M254.6 184.9h.01M247.6 182.5h.01M261.5 176.0h.01M257.7 186.3h.01M247.7 187.5h.01M243.6 191.9h.01M250.7 181.0h.01M246.7 186.8h.01M252.3 187.9h.01M249.2 184.6h.01M247.0 181.6h.01M246.1 183.2h.01M247.2 179.3h.01M246.3 188.6h.01M239.1 188.7h.01M252.2 177.8h.01M251.0 184.6h.01M243.2 184.7h.01M255.7 177.3h.01M251.2 180.6h.01M249.7 180.1h.01M243.0 187.1h.01M246.8 185.1h.01M249.9 186.1h.01M249.9 187.8h.01M248.9 187.7h.01M258.8 182.6h.01M251.0 184.7h.01M248.2 189.3h.01M252.3 180.4h.01M249.4 187.9h.01M256.0 181.7h.01M248.9 185.4h.01M255.8 182.2h.01M255.3 180.1h.01M248.1 187.2h.01M251.4 181.3h.01M250.8 180.7h.01M250.5 181.9h.01M261.2 178.5h.01M249.3 180.5h.01M246.7 189.9h.01M250.4 185.2h.01M241.4 186.9h.01M250.6 183.2h.01M243.6 187.4h.01M252.9 180.3h.01M255.7 185.1h.01M252.1 183.0h.01M250.1 188.6h.01M242.6 187.2h.01M247.8 181.2h.01M253.4 179.2h.01M252.1 181.5h.01M249.5 185.0h.01M240.5 189.1h.01M252.4 190.0h.01M255.0 182.4h.01M247.8 189.6h.01M256.9 180.9h.01" stroke="#e4262b" stroke-width="0.9" stroke-linecap="round" fill="none" opacity="0.7"/>
<path d="M295.9 173.9h.01M266.3 180.4h.01M267.1 182.3h.01M279.1 181.9h.01M275.7 184.4h.01M281.1 178.0h.01M269.6 189.1h.01M272.2 177.0h.01M277.2 179.8h.01M275.9 181.6h.01M280.0 187.4h.01M268.3 174.6h.01M287.7 177.8h.01M262.5 170.6h.01M274.6 178.1h.01M260.3 176.2h.01M266.4 187.9h.01M276.8 181.9h.01M264.7 180.8h.01M280.2 182.9h.01M283.3 182.4h.01M280.4 184.7h.01M270.3 189.9h.01M277.8 186.9h.01M266.4 175.4h.01M257.2 174.7h.01M260.4 179.6h.01M262.8 180.3h.01M253.4 181.7h.01M255.3 175.0h.01M258.2 177.9h.01M262.1 189.2h.01M259.6 183.8h.01M257.1 179.3h.01M255.9 176.2h.01M263.3 179.7h.01M259.7 174.7h.01M264.8 177.2h.01M255.3 177.9h.01M260.6 180.9h.01M263.8 173.7h.01M256.2 184.2h.01M267.0 175.4h.01M257.6 171.8h.01M254.7 174.4h.01" stroke="#e4262b" stroke-width="0.9" stroke-linecap="round" fill="none" opacity="0.42"/>
<path d="M228.20 193.30H231.80M229.20 187.84H231.80M229.20 184.64H231.80M229.20 182.37H231.80M229.20 180.61H231.80M229.20 179.18H231.80M229.20 177.96H231.80M229.20 176.91H231.80M229.20 175.98H231.80M228.20 175.15H231.80M229.20 169.69H231.80M229.20 166.49H231.80M229.20 164.22H231.80M229.20 162.46H231.80M229.20 161.03H231.80M229.20 159.81H231.80M229.20 158.76H231.80M229.20 157.83H231.80M228.20 157.00H231.80M229.20 151.54H231.80M229.20 148.34H231.80M229.20 146.07H231.80M229.20 144.31H231.80M229.20 142.88H231.80M229.20 141.66H231.80M229.20 140.61H231.80M229.20 139.68H231.80M228.20 138.85H231.80M229.20 133.39H231.80M229.20 130.19H231.80M229.20 127.92H231.80M229.20 126.16H231.80M229.20 124.73H231.80M229.20 123.51H231.80M229.20 122.46H231.80M229.20 121.53H231.80M228.30 120.70H231.80M231.80 193.30V196.90M237.29 193.30V195.90M240.51 193.30V195.90M242.79 193.30V195.90M244.56 193.30V195.90M246.00 193.30V195.90M247.22 193.30V195.90M248.28 193.30V195.90M249.21 193.30V195.90M250.05 193.30V196.90M255.54 193.30V195.90M258.76 193.30V195.90M261.04 193.30V195.90M262.81 193.30V195.90M264.25 193.30V195.90M265.47 193.30V195.90M266.53 193.30V195.90M267.46 193.30V195.90M268.30 193.30V196.90M273.79 193.30V195.90M277.01 193.30V195.90M279.29 193.30V195.90M281.06 193.30V195.90M282.50 193.30V195.90M283.72 193.30V195.90M284.78 193.30V195.90M285.71 193.30V195.90M286.55 193.30V196.90M292.04 193.30V195.90M295.26 193.30V195.90M297.54 193.30V195.90M299.31 193.30V195.90M300.75 193.30V195.90M301.97 193.30V195.90M303.03 193.30V195.90M303.96 193.30V195.90M304.80 193.30V196.80" stroke="#222" stroke-width="0.85" fill="none"/>
<text x="215.80" y="127.20" font-size="7.70" text-anchor="start" fill="#222" textLength="9.97" lengthAdjust="spacingAndGlyphs">10<tspan dy="-3.50" font-size="6.55">4</tspan></text>
<text x="215.80" y="144.20" font-size="7.70" text-anchor="start" fill="#222" textLength="9.97" lengthAdjust="spacingAndGlyphs">10<tspan dy="-3.50" font-size="6.55">3</tspan></text>
<text x="215.80" y="160.70" font-size="7.70" text-anchor="start" fill="#222" textLength="9.97" lengthAdjust="spacingAndGlyphs">10<tspan dy="-3.50" font-size="6.55">2</tspan></text>
<text x="215.80" y="177.20" font-size="7.70" text-anchor="start" fill="#222" textLength="9.97" lengthAdjust="spacingAndGlyphs">10<tspan dy="-3.50" font-size="6.55">1</tspan></text>
<text x="215.80" y="193.90" font-size="7.70" text-anchor="start" fill="#222" textLength="9.97" lengthAdjust="spacingAndGlyphs">10<tspan dy="-3.50" font-size="6.55">0</tspan></text>
<text x="228.40" y="207.10" font-size="7.70" text-anchor="start" fill="#222" textLength="9.97" lengthAdjust="spacingAndGlyphs">10<tspan dy="-3.50" font-size="6.55">0</tspan></text>
<text x="246.20" y="207.10" font-size="7.70" text-anchor="start" fill="#222" textLength="9.97" lengthAdjust="spacingAndGlyphs">10<tspan dy="-3.50" font-size="6.55">1</tspan></text>
<text x="260.80" y="207.10" font-size="7.70" text-anchor="start" fill="#222" textLength="9.97" lengthAdjust="spacingAndGlyphs">10<tspan dy="-3.50" font-size="6.55">2</tspan></text>
<text x="281.10" y="207.10" font-size="7.70" text-anchor="start" fill="#222" textLength="9.97" lengthAdjust="spacingAndGlyphs">10<tspan dy="-3.50" font-size="6.55">3</tspan></text>
<text x="298.00" y="207.10" font-size="7.70" text-anchor="start" fill="#222" textLength="9.97" lengthAdjust="spacingAndGlyphs">10<tspan dy="-3.50" font-size="6.55">4</tspan></text>
<rect x="231.80" y="120.70" width="73.00" height="72.60" fill="none" stroke="#111" stroke-width="1.5" />
<line x1="262.20" y1="120.70" x2="262.20" y2="193.30" stroke="#000" stroke-width="1.5" />
<line x1="231.80" y1="169.60" x2="304.80" y2="169.60" stroke="#000" stroke-width="1.5" />
<ellipse cx="348.0" cy="184.7" rx="8.5" ry="4.0" transform="rotate(-25 348.0 184.7)" fill="#e3201f" opacity="0.85" filter="url(#bl)"/>
<path d="M345.7 181.5h.01M353.3 182.0h.01M347.7 188.1h.01M344.7 181.8h.01M351.0 190.9h.01M349.2 185.9h.01M346.5 184.6h.01M347.3 175.7h.01M339.8 186.4h.01M348.3 189.6h.01M363.2 179.8h.01M351.2 185.6h.01M355.4 177.7h.01M345.2 186.5h.01M347.1 178.4h.01M348.3 178.9h.01M353.5 185.0h.01M348.2 182.4h.01M356.2 187.9h.01M349.3 180.2h.01M337.9 185.3h.01M343.4 190.7h.01M349.5 183.8h.01M353.0 182.4h.01M347.0 182.2h.01M344.3 186.5h.01M347.9 182.8h.01M352.2 179.0h.01M354.2 182.0h.01M358.2 178.0h.01M344.4 183.3h.01M340.9 188.8h.01M342.1 188.5h.01M345.5 189.5h.01M348.2 184.6h.01M346.5 191.5h.01M346.0 187.1h.01M345.8 184.4h.01M349.3 186.4h.01M340.7 186.4h.01M340.1 189.7h.01M341.8 184.9h.01M351.7 182.9h.01M350.0 183.2h.01M350.4 183.8h.01M341.6 188.4h.01M345.5 184.9h.01M348.8 182.3h.01M343.2 191.0h.01M358.2 178.7h.01M355.1 182.7h.01M343.0 184.0h.01M345.6 184.2h.01M345.7 185.2h.01M342.4 190.3h.01M339.8 184.7h.01M354.3 184.4h.01M356.6 181.1h.01M345.6 189.8h.01M347.1 184.6h.01M343.4 188.2h.01M339.6 190.9h.01M362.0 177.1h.01M343.8 182.7h.01M351.4 173.0h.01M337.3 185.0h.01M341.0 180.7h.01M354.1 185.4h.01M347.0 183.7h.01M339.3 190.3h.01M344.6 188.4h.01M353.9 182.0h.01M334.1 187.8h.01M356.3 181.7h.01M353.2 174.3h.01M347.0 184.5h.01M337.4 187.3h.01M354.4 183.6h.01M345.1 187.1h.01M353.4 178.3h.01M351.0 186.9h.01M345.6 190.4h.01M348.8 188.2h.01M353.7 182.9h.01M345.3 183.6h.01M349.2 184.8h.01M356.0 180.6h.01M352.2 188.6h.01M350.4 185.1h.01M357.5 180.5h.01M351.3 185.8h.01M345.7 181.8h.01M339.0 188.1h.01M355.9 184.5h.01M358.7 182.8h.01M342.1 182.3h.01M344.5 185.3h.01M344.8 189.4h.01M344.0 188.6h.01M350.1 177.5h.01M347.1 189.5h.01M353.0 182.7h.01M340.4 185.7h.01M350.1 188.1h.01M350.7 183.1h.01M350.3 186.3h.01M336.2 186.6h.01M349.7 188.1h.01M353.2 179.5h.01M347.0 182.5h.01M345.8 186.2h.01M345.0 184.1h.01M338.9 183.3h.01M347.0 185.8h.01M350.4 180.6h.01M345.3 190.3h.01M351.5 186.1h.01M343.6 184.2h.01M342.4 190.7h.01M338.8 182.8h.01M345.2 190.4h.01M348.3 185.3h.01M348.5 184.2h.01M345.0 181.1h.01M357.4 179.7h.01M352.9 176.9h.01M349.4 179.8h.01M340.6 189.0h.01M355.8 185.8h.01M355.3 180.3h.01M351.7 180.8h.01M345.0 186.9h.01M348.3 187.5h.01M346.4 190.6h.01M353.0 178.2h.01M348.5 186.8h.01M342.2 184.7h.01M347.1 187.7h.01M352.6 181.0h.01M354.7 186.7h.01M352.3 180.1h.01M343.3 187.8h.01M353.3 183.7h.01M344.4 183.1h.01M355.1 180.8h.01M357.3 176.3h.01M345.1 183.8h.01M360.4 183.2h.01M342.4 180.5h.01M354.8 181.9h.01M339.3 183.4h.01M350.0 183.0h.01M349.3 185.4h.01M345.4 184.9h.01M351.7 182.6h.01M347.2 187.3h.01M349.5 181.3h.01M348.6 188.7h.01M348.8 178.1h.01M342.3 188.0h.01M359.4 182.0h.01M347.6 186.9h.01M347.7 183.8h.01M347.3 177.5h.01M354.6 183.5h.01M344.3 183.4h.01M341.3 188.8h.01M349.1 184.8h.01M355.0 173.7h.01M342.7 184.4h.01M353.2 181.4h.01M342.8 187.9h.01M352.5 188.2h.01M348.9 182.7h.01M344.0 183.7h.01M352.0 185.7h.01M346.5 184.9h.01M356.2 181.2h.01M349.5 180.2h.01M341.6 180.2h.01M340.5 189.5h.01M354.9 180.5h.01M341.2 188.2h.01M354.5 181.1h.01M353.3 182.0h.01M339.6 185.4h.01M349.6 192.0h.01M351.1 182.4h.01M350.0 184.5h.01M345.3 185.6h.01M347.5 187.5h.01M358.9 184.3h.01M346.9 187.2h.01M342.3 183.5h.01M349.3 186.2h.01M348.8 187.3h.01M353.9 184.6h.01M345.3 181.2h.01M357.9 178.4h.01M352.9 184.1h.01M348.4 190.9h.01M351.9 182.8h.01M344.3 183.1h.01M341.4 189.8h.01M344.8 184.6h.01M350.5 182.3h.01M351.0 181.1h.01M346.2 188.8h.01M344.9 188.3h.01M351.0 183.3h.01M336.6 185.4h.01M339.9 184.0h.01M351.9 179.9h.01M340.1 186.6h.01M345.2 180.2h.01M352.5 185.1h.01M345.6 188.6h.01M338.2 187.3h.01M347.1 185.3h.01M354.2 180.6h.01M342.4 188.1h.01M349.5 185.6h.01M346.3 186.1h.01M345.4 187.9h.01M343.3 184.7h.01M353.8 179.4h.01M348.8 186.3h.01M347.4 188.1h.01M346.0 189.2h.01M337.2 185.1h.01M350.3 188.6h.01M356.2 177.9h.01M347.2 183.4h.01M347.6 189.6h.01M348.9 182.4h.01M343.7 186.0h.01M350.0 182.1h.01M364.5 177.7h.01M341.5 188.0h.01M355.2 182.8h.01M345.2 183.7h.01M341.8 183.5h.01M345.3 186.8h.01M346.9 190.9h.01M349.6 182.4h.01M349.7 189.0h.01M338.4 190.0h.01M364.8 180.3h.01M342.9 187.5h.01M343.7 185.7h.01M344.2 181.5h.01M350.4 182.1h.01M351.9 185.5h.01M349.8 178.0h.01M357.9 183.1h.01M352.7 182.6h.01M347.2 183.2h.01M351.6 186.2h.01M345.8 188.6h.01M346.1 187.7h.01M348.3 187.5h.01M359.5 180.1h.01M344.6 184.8h.01M350.9 181.6h.01M354.1 182.9h.01M352.5 180.7h.01M341.5 185.2h.01M349.3 181.4h.01M349.3 176.9h.01M343.9 186.0h.01M336.6 187.9h.01M339.2 188.5h.01M347.6 187.5h.01M341.0 182.3h.01M345.0 186.5h.01M348.8 184.9h.01M354.6 180.4h.01M345.7 182.9h.01M346.0 189.3h.01M346.6 176.3h.01M352.4 175.7h.01M346.9 188.6h.01M349.5 185.9h.01M353.5 183.2h.01M341.2 189.2h.01M340.8 179.7h.01M347.1 187.1h.01M348.8 184.4h.01M358.5 180.8h.01M353.8 183.2h.01M357.1 179.2h.01M357.3 186.7h.01M347.3 188.7h.01M340.6 189.3h.01M351.2 180.3h.01M337.7 189.7h.01M346.4 186.1h.01M350.9 186.3h.01M357.8 181.7h.01M340.1 190.8h.01M350.6 184.1h.01M357.7 181.2h.01M346.7 187.0h.01M340.1 191.8h.01M350.8 189.4h.01M352.6 183.9h.01M347.7 180.8h.01M348.1 185.8h.01M354.5 183.3h.01M353.2 184.8h.01M345.6 187.0h.01M345.3 181.7h.01M340.6 191.2h.01M358.5 184.9h.01M345.3 191.3h.01M356.3 178.3h.01M353.4 188.3h.01M350.4 187.8h.01M344.2 185.4h.01M353.2 181.9h.01M349.1 184.6h.01M344.3 191.7h.01M347.1 184.1h.01M345.8 186.1h.01M344.0 189.7h.01M347.4 187.9h.01M341.8 184.2h.01M343.2 187.9h.01M341.7 190.7h.01M347.5 188.2h.01M347.1 188.1h.01M340.8 184.3h.01M351.0 181.5h.01M353.5 179.9h.01M350.1 181.0h.01M348.3 188.0h.01M347.0 179.3h.01M352.0 186.7h.01M357.9 185.9h.01M350.3 183.3h.01M347.1 181.2h.01M353.4 184.8h.01M349.2 181.5h.01M351.2 181.4h.01M354.6 179.6h.01M344.7 185.2h.01M341.0 184.9h.01M343.2 178.4h.01M360.3 180.4h.01M348.7 181.4h.01M349.3 184.2h.01M346.7 180.2h.01M344.9 179.6h.01M345.8 182.7h.01M344.1 185.4h.01M354.6 185.9h.01M346.8 181.5h.01M354.9 176.6h.01M344.6 185.6h.01M345.6 190.5h.01M351.9 186.7h.01M347.5 188.0h.01M347.0 184.7h.01M350.3 185.0h.01M351.1 182.5h.01M338.9 187.9h.01M332.0 191.2h.01M344.4 189.3h.01M343.9 181.1h.01M351.1 184.9h.01M353.4 189.8h.01M343.6 187.8h.01M348.0 182.3h.01M351.4 187.5h.01M343.6 188.3h.01M354.8 183.8h.01M339.1 189.9h.01M347.4 189.3h.01M349.9 190.7h.01M341.5 189.5h.01M345.3 192.2h.01M355.9 177.8h.01M352.4 182.5h.01M337.1 186.1h.01M349.3 185.9h.01M346.2 186.6h.01M350.2 184.7h.01M341.3 188.3h.01M349.1 179.0h.01M359.0 184.7h.01M351.8 190.3h.01M342.1 184.2h.01M343.4 184.3h.01M358.9 179.8h.01M348.2 185.9h.01M357.5 180.9h.01M346.2 186.5h.01M355.1 180.7h.01M356.7 181.7h.01M347.7 186.6h.01M359.2 178.6h.01M356.8 182.6h.01M349.0 184.4h.01M353.6 184.2h.01M351.1 185.6h.01M342.1 185.2h.01M341.7 186.4h.01M346.3 184.2h.01M349.9 180.5h.01M347.8 187.8h.01M357.9 180.3h.01M356.9 185.4h.01M342.4 188.2h.01M341.4 186.4h.01M348.7 180.0h.01M350.9 182.9h.01M347.3 186.9h.01M341.0 182.1h.01M347.2 182.6h.01M345.4 182.1h.01M341.2 184.3h.01M339.5 185.8h.01M343.5 186.9h.01M365.5 174.4h.01M339.5 190.6h.01M339.6 185.5h.01M346.0 185.7h.01M348.7 185.2h.01M348.7 188.2h.01M352.1 180.9h.01M344.9 181.4h.01M351.5 182.3h.01M358.0 177.6h.01M355.5 178.0h.01M337.1 186.8h.01M351.2 186.7h.01M344.1 189.8h.01M344.2 184.6h.01M348.3 190.2h.01M349.3 185.1h.01M339.4 189.2h.01M351.7 188.6h.01M341.9 185.0h.01M341.7 185.3h.01M350.7 180.6h.01M355.3 181.4h.01M341.7 185.3h.01M338.0 184.3h.01M355.6 184.1h.01M341.6 186.1h.01M356.1 178.3h.01M349.8 185.5h.01M346.4 184.7h.01M346.0 185.9h.01M338.9 189.0h.01M347.1 180.4h.01M349.2 180.8h.01M330.1 186.2h.01M349.1 186.0h.01M343.4 181.7h.01M348.0 187.7h.01M345.5 180.6h.01M350.2 182.9h.01M346.8 185.3h.01M350.8 182.9h.01M342.0 187.0h.01M350.0 187.7h.01M340.5 187.6h.01M343.0 187.8h.01M340.5 177.4h.01M352.3 180.2h.01M339.4 183.4h.01M339.8 183.9h.01M347.0 185.5h.01M347.7 185.9h.01M343.7 188.6h.01M347.7 186.2h.01M350.7 182.0h.01M355.9 183.6h.01M347.7 190.8h.01M355.3 175.9h.01M333.9 189.0h.01M351.6 186.1h.01M351.5 182.9h.01M354.2 184.1h.01M345.5 186.4h.01M353.0 180.0h.01M343.0 184.0h.01M357.1 182.7h.01M352.1 181.4h.01M349.2 188.2h.01M347.7 188.8h.01M347.6 184.7h.01M352.1 185.6h.01M357.4 179.0h.01M356.5 178.0h.01M339.9 180.7h.01M354.6 186.6h.01M340.5 187.0h.01M344.3 181.0h.01M348.6 185.4h.01M343.6 183.2h.01M349.4 186.0h.01M339.6 188.2h.01M347.4 175.3h.01M352.0 188.7h.01M342.2 191.8h.01M347.0 187.2h.01M345.4 181.9h.01M339.8 187.5h.01M356.5 181.7h.01M346.2 178.5h.01M342.6 182.6h.01M338.0 190.5h.01M351.6 180.3h.01M344.7 187.7h.01M351.6 179.3h.01M355.9 184.2h.01M346.4 181.5h.01M352.1 185.1h.01M357.2 178.3h.01M356.6 179.4h.01M350.8 183.0h.01M350.3 188.6h.01M345.1 188.9h.01M346.3 185.3h.01M344.0 187.2h.01M336.0 189.3h.01M354.9 184.4h.01M337.0 185.9h.01M348.0 191.1h.01M345.4 185.8h.01M346.9 186.2h.01M343.0 187.9h.01M352.1 186.4h.01M344.0 189.6h.01M360.1 181.8h.01M348.7 175.9h.01M358.2 186.5h.01M355.7 182.8h.01M356.8 191.0h.01M343.3 185.5h.01M354.7 182.5h.01M335.7 191.2h.01M348.7 181.1h.01M350.5 184.4h.01M338.2 191.1h.01M362.8 183.9h.01M339.6 184.0h.01M348.7 185.3h.01M339.2 186.2h.01M356.2 181.7h.01M354.0 181.8h.01M353.2 180.4h.01M343.7 183.4h.01M336.2 188.8h.01M339.4 187.0h.01M349.0 184.8h.01M349.7 182.5h.01M349.1 188.2h.01M347.1 185.2h.01M332.1 188.2h.01M353.2 179.2h.01M342.9 190.4h.01M342.1 190.9h.01M346.5 183.2h.01M335.6 186.1h.01M350.8 179.0h.01M350.8 183.2h.01M344.8 182.4h.01M344.4 187.3h.01M343.0 189.2h.01M350.0 185.6h.01M350.0 185.7h.01M351.2 186.0h.01M350.5 184.6h.01M340.2 182.2h.01M349.4 187.3h.01M340.3 182.7h.01M345.1 187.2h.01M352.4 181.4h.01M340.9 187.7h.01M351.8 182.7h.01M353.1 180.5h.01M355.1 187.0h.01M340.8 184.9h.01M355.8 191.9h.01M350.8 183.2h.01M355.4 180.8h.01M337.1 186.4h.01M353.5 176.2h.01M340.6 191.0h.01M350.3 187.8h.01M340.6 185.5h.01M344.1 182.1h.01M346.2 184.8h.01M352.8 182.1h.01M346.2 187.2h.01M355.7 184.7h.01M349.0 182.8h.01M343.3 182.2h.01M348.2 184.4h.01M357.8 180.8h.01M354.0 186.4h.01M336.0 187.9h.01M346.6 185.7h.01M342.3 190.3h.01M353.8 183.7h.01M350.4 179.7h.01M353.7 179.8h.01M336.9 190.2h.01M349.4 181.6h.01M336.6 185.9h.01M343.5 177.8h.01M355.2 184.8h.01M348.2 188.2h.01M345.3 181.9h.01M352.3 184.6h.01M340.5 183.2h.01M343.6 190.8h.01M344.8 188.2h.01M349.4 183.2h.01M351.6 179.9h.01M345.9 181.5h.01M335.1 190.9h.01M339.4 184.1h.01M351.0 182.6h.01M352.4 188.6h.01M349.5 185.5h.01M342.0 190.4h.01M351.4 179.3h.01M352.1 183.8h.01M346.7 185.5h.01M361.2 176.2h.01M346.0 185.9h.01M344.3 179.9h.01M352.9 185.6h.01M357.3 178.3h.01M341.3 190.1h.01M341.8 187.5h.01M345.7 186.4h.01M346.2 187.9h.01M351.6 180.7h.01M341.9 186.8h.01M344.0 183.6h.01M357.4 183.7h.01M342.3 189.3h.01M349.0 186.9h.01M351.0 190.3h.01M346.9 189.9h.01M349.5 189.8h.01M345.4 182.1h.01M340.7 185.8h.01M352.0 184.1h.01M350.1 187.5h.01M356.2 177.3h.01M357.0 188.6h.01M343.5 184.8h.01M350.6 184.3h.01M344.7 186.0h.01M358.7 182.9h.01M340.9 182.0h.01M341.7 188.3h.01M342.2 184.4h.01M351.8 181.9h.01M346.0 186.4h.01M356.9 181.6h.01M352.1 183.0h.01M355.4 176.9h.01M340.7 186.3h.01M362.0 183.6h.01M340.9 186.4h.01M351.3 183.4h.01M352.5 180.8h.01M339.1 191.0h.01M353.3 176.8h.01M336.3 188.5h.01M337.6 191.1h.01M342.2 190.0h.01M346.1 186.0h.01M351.6 182.3h.01M343.3 190.1h.01M343.7 184.8h.01M350.9 184.8h.01M349.0 179.1h.01M343.3 188.1h.01M350.1 183.4h.01M355.4 180.6h.01M355.0 185.3h.01M349.8 183.2h.01M353.0 184.0h.01M350.5 180.5h.01M352.9 188.0h.01M346.5 185.9h.01M347.8 187.9h.01M350.7 182.6h.01M351.2 187.2h.01M351.1 185.6h.01M355.4 181.9h.01M354.4 186.9h.01M350.5 181.4h.01M355.4 188.5h.01M346.8 186.9h.01M351.8 186.1h.01M345.7 185.8h.01M360.5 181.4h.01M345.5 188.7h.01M350.5 189.0h.01M338.8 189.4h.01M352.2 178.4h.01M344.4 188.1h.01M347.9 183.7h.01M348.1 179.9h.01M345.5 192.0h.01M344.9 187.7h.01M349.0 187.3h.01M350.6 185.0h.01M355.4 182.5h.01M337.3 187.4h.01M357.9 183.9h.01M344.7 180.8h.01M356.8 185.0h.01M336.9 185.2h.01M342.9 182.4h.01M347.3 181.3h.01M350.6 182.8h.01M345.7 188.1h.01M350.9 183.9h.01M345.9 185.6h.01M334.3 184.3h.01M344.4 186.9h.01M358.9 181.1h.01M341.7 186.0h.01M340.7 188.0h.01M347.5 184.8h.01M351.1 186.9h.01M350.5 179.5h.01M351.7 179.5h.01M350.4 183.9h.01M357.7 179.9h.01M347.2 184.2h.01M353.5 183.3h.01M347.7 187.8h.01M362.5 183.7h.01M356.1 179.1h.01M347.8 185.4h.01M340.3 189.7h.01M341.2 188.4h.01M353.6 184.0h.01M342.3 185.2h.01M353.5 182.0h.01M350.1 187.1h.01M333.9 192.2h.01M357.9 186.4h.01M351.2 180.8h.01M356.3 187.4h.01M343.5 184.4h.01M346.8 183.9h.01M333.2 183.5h.01M339.8 186.4h.01M350.0 182.0h.01M351.0 188.1h.01M366.7 179.1h.01M343.8 190.2h.01M348.6 185.7h.01M354.8 184.3h.01M339.1 185.0h.01M350.7 186.0h.01M361.2 180.7h.01M345.4 184.3h.01M342.3 182.9h.01M339.9 186.6h.01M347.7 182.3h.01M347.8 183.9h.01M346.2 184.1h.01M349.8 184.0h.01M347.9 182.7h.01M348.2 182.3h.01M347.7 181.9h.01M352.5 183.9h.01M338.8 186.6h.01M352.7 184.0h.01M347.4 181.1h.01M344.4 187.0h.01M349.8 183.9h.01M343.0 186.3h.01M343.7 182.7h.01M340.7 185.4h.01M340.0 190.1h.01M353.7 185.1h.01M342.6 184.7h.01M348.9 182.7h.01M345.8 184.7h.01M337.7 184.1h.01M351.2 179.4h.01M354.7 182.8h.01M349.6 182.7h.01M338.3 185.1h.01M348.5 184.1h.01M339.6 184.7h.01M342.9 186.8h.01M351.7 186.1h.01M347.8 189.7h.01M354.1 187.0h.01M343.7 188.7h.01M351.9 176.8h.01M353.8 183.4h.01M353.5 182.7h.01M354.0 180.4h.01M346.0 188.1h.01M350.4 179.0h.01M356.4 184.8h.01M352.9 179.9h.01M355.9 182.8h.01M353.2 182.1h.01M344.6 183.9h.01M345.7 188.9h.01M342.8 185.0h.01M349.5 183.1h.01M335.4 188.3h.01M348.1 190.2h.01M350.5 180.1h.01M341.1 186.4h.01M348.3 181.9h.01M348.7 179.6h.01M351.4 187.2h.01" stroke="#e4262b" stroke-width="0.9" stroke-linecap="round" fill="none" opacity="0.7"/>
<path d="M373.3 162.4h.01M382.3 163.9h.01M381.8 162.3h.01M382.4 162.8h.01M381.8 167.4h.01M384.7 165.4h.01M379.5 161.0h.01M384.8 159.3h.01M384.7 158.3h.01M388.1 166.3h.01M379.8 161.1h.01M375.2 162.3h.01M385.2 164.4h.01M380.7 168.8h.01M383.2 163.8h.01M380.6 164.3h.01M389.6 163.9h.01M376.3 163.2h.01M387.4 166.2h.01M379.9 163.6h.01M376.9 164.5h.01M378.8 160.9h.01M379.7 160.3h.01M386.7 167.1h.01M380.6 162.8h.01M386.7 161.6h.01M380.1 159.9h.01M386.3 163.0h.01M381.5 161.2h.01M378.7 165.4h.01M379.1 160.9h.01M376.3 159.1h.01M379.9 161.0h.01M376.8 160.6h.01M381.1 154.4h.01M383.3 161.6h.01M377.3 161.6h.01M382.8 162.5h.01M381.6 162.5h.01M383.5 158.3h.01M379.6 163.6h.01M381.5 159.2h.01M380.6 160.3h.01M381.5 157.3h.01M376.4 158.0h.01M381.0 170.1h.01M384.5 166.2h.01M381.5 167.4h.01M382.5 162.7h.01M384.8 158.7h.01M374.7 158.8h.01M385.8 165.2h.01M382.0 161.7h.01M380.9 163.6h.01M378.8 164.8h.01M378.4 166.6h.01M380.4 159.6h.01M380.5 159.6h.01M381.0 156.8h.01M379.9 162.7h.01M382.6 161.2h.01M385.2 157.2h.01M380.7 160.9h.01M381.4 161.6h.01M385.7 162.4h.01M378.5 170.2h.01M381.5 161.9h.01M384.2 160.6h.01M380.7 165.1h.01M377.7 161.0h.01M384.3 168.0h.01M381.2 162.1h.01M384.8 157.8h.01M379.3 159.9h.01M375.0 153.4h.01M380.1 165.2h.01M383.5 166.4h.01M372.9 162.0h.01M385.6 159.7h.01M377.4 163.5h.01M381.5 164.4h.01M381.4 166.3h.01M383.6 163.2h.01M380.2 164.6h.01M379.4 165.4h.01M385.0 165.4h.01M377.4 163.8h.01M382.6 165.2h.01M376.6 160.6h.01M381.2 166.8h.01M379.6 165.2h.01M381.9 168.5h.01M382.5 157.4h.01M380.6 163.2h.01M385.4 164.5h.01M380.6 158.5h.01M381.5 162.1h.01M385.6 165.3h.01M377.1 155.2h.01M380.2 163.3h.01M378.4 160.8h.01M385.2 164.8h.01M376.0 163.5h.01M381.9 161.8h.01M383.2 164.3h.01M389.2 163.2h.01M379.2 160.9h.01M383.7 168.5h.01M383.4 164.1h.01M382.3 161.1h.01M381.7 158.7h.01M383.8 164.0h.01M382.0 159.8h.01M380.6 160.7h.01M382.4 161.6h.01M382.6 165.4h.01M385.4 159.3h.01M380.4 159.0h.01M385.4 159.8h.01M385.7 160.9h.01M384.7 160.8h.01M380.8 162.9h.01M381.8 162.0h.01M383.6 166.2h.01M384.2 161.0h.01M375.7 162.8h.01M372.6 164.6h.01M383.4 158.7h.01M383.3 160.4h.01M385.5 160.1h.01M378.9 160.4h.01M382.2 159.2h.01M388.6 161.3h.01M387.0 161.6h.01M380.5 160.3h.01M379.1 163.9h.01M385.2 162.8h.01M378.7 163.2h.01M379.0 154.1h.01M381.9 157.0h.01M379.5 162.7h.01M380.2 161.7h.01M386.3 165.5h.01M386.2 163.2h.01M382.2 168.0h.01M379.5 163.5h.01M381.9 163.4h.01M383.4 162.9h.01M384.0 159.8h.01M383.0 159.2h.01M366.2 163.9h.01M361.2 159.5h.01M361.9 162.6h.01M356.1 158.0h.01M365.6 160.3h.01M356.9 154.5h.01M360.2 155.8h.01M362.4 160.7h.01M369.1 157.3h.01M364.4 157.4h.01M357.9 160.3h.01M358.6 166.2h.01M361.7 158.7h.01M370.9 158.6h.01M360.4 160.3h.01M358.8 162.7h.01M366.5 157.1h.01M360.0 159.8h.01M356.4 157.0h.01M360.4 158.2h.01M363.0 163.3h.01M362.5 161.7h.01M358.2 159.1h.01M363.3 162.5h.01M361.5 162.4h.01M360.8 157.5h.01M363.0 159.6h.01M355.2 163.3h.01M363.3 163.0h.01M360.0 165.1h.01M363.6 163.7h.01M359.3 159.9h.01M366.7 160.8h.01M361.9 165.2h.01M366.3 161.5h.01M369.2 156.5h.01M361.5 159.3h.01M367.5 165.4h.01M360.0 161.3h.01M365.4 162.4h.01M362.8 163.7h.01M369.3 161.2h.01M357.6 160.6h.01M361.7 159.8h.01M364.5 163.0h.01M365.3 162.3h.01M362.9 157.9h.01M360.5 158.4h.01M363.1 160.5h.01M361.7 162.4h.01M360.7 164.0h.01M365.9 158.2h.01M366.9 159.9h.01M359.1 160.0h.01M357.0 161.9h.01M366.5 156.6h.01M363.5 162.6h.01M364.4 162.7h.01M363.5 159.6h.01M365.3 161.8h.01M364.9 161.8h.01M360.9 160.8h.01M364.2 163.9h.01M354.6 157.2h.01M355.6 159.4h.01M359.3 161.5h.01M360.7 164.7h.01M359.5 158.9h.01M358.7 160.0h.01M362.5 159.5h.01M358.3 157.0h.01M362.5 159.3h.01M358.1 160.1h.01M363.1 166.7h.01M368.0 158.3h.01M360.1 155.3h.01M354.4 155.6h.01M365.3 160.4h.01M356.2 158.9h.01M359.9 159.0h.01M367.4 155.3h.01M360.1 161.5h.01M363.6 154.6h.01M362.5 157.3h.01M359.6 156.3h.01M364.7 169.7h.01M365.7 160.0h.01M355.1 163.3h.01M366.4 157.7h.01M365.4 155.7h.01M356.9 161.3h.01M356.5 163.0h.01M367.3 161.0h.01M363.7 165.4h.01M363.8 164.6h.01M367.3 157.9h.01M370.2 164.3h.01M362.5 163.3h.01M363.1 161.6h.01M358.1 159.8h.01M369.0 165.1h.01M376.0 162.5h.01M370.9 165.8h.01M350.9 157.5h.01M380.0 159.4h.01M377.4 167.0h.01M378.8 155.4h.01M370.0 156.6h.01M376.0 164.9h.01M369.9 162.9h.01M370.2 168.3h.01M373.1 161.8h.01M376.8 165.0h.01M377.9 160.9h.01M372.4 162.9h.01M377.0 159.6h.01M367.0 160.1h.01M375.9 159.3h.01M362.7 159.7h.01M367.8 163.3h.01M367.6 159.4h.01M388.0 162.7h.01M364.1 165.6h.01M368.9 157.9h.01M377.5 155.6h.01M371.5 163.1h.01M378.4 159.0h.01M367.7 160.7h.01M382.4 154.2h.01M379.0 162.1h.01M383.7 156.8h.01M381.9 157.7h.01M374.6 159.5h.01M351.1 160.8h.01M375.4 164.3h.01M366.7 156.6h.01M378.1 159.7h.01M381.0 166.4h.01M370.1 160.4h.01M365.9 153.3h.01M372.0 163.8h.01M381.1 161.0h.01M387.9 159.0h.01M371.9 159.0h.01M368.3 160.0h.01M366.2 159.4h.01M374.5 161.5h.01M363.2 163.0h.01M365.1 162.8h.01M372.7 153.8h.01M363.3 164.7h.01M366.6 158.6h.01M368.4 161.5h.01M377.1 159.9h.01M386.6 158.9h.01M368.2 160.4h.01M373.6 166.6h.01M392.2 159.8h.01M370.7 163.5h.01M371.1 164.3h.01M363.0 164.3h.01M353.4 163.1h.01M377.9 170.5h.01M364.3 163.7h.01M377.7 157.5h.01M374.3 157.8h.01M362.1 155.3h.01M370.2 157.0h.01M354.2 162.1h.01M357.3 163.7h.01M374.2 157.9h.01M358.4 157.5h.01M360.4 159.6h.01M368.9 170.5h.01M353.9 158.7h.01M376.9 165.0h.01M383.7 157.2h.01M379.0 149.9h.01M370.1 164.3h.01M378.2 155.6h.01M364.8 172.6h.01M365.5 176.3h.01M374.4 179.3h.01M377.2 182.5h.01M369.1 191.5h.01M382.2 176.6h.01M384.0 186.7h.01M383.6 185.2h.01M356.3 181.2h.01M350.7 176.2h.01M365.9 189.2h.01M372.3 184.0h.01M378.4 178.6h.01M381.6 184.1h.01M363.5 180.2h.01M369.8 185.9h.01M384.4 181.5h.01M370.0 191.7h.01M373.6 181.2h.01M377.9 184.5h.01M365.0 189.6h.01M394.2 178.9h.01M365.0 180.5h.01M360.8 186.9h.01M359.3 186.2h.01M375.4 186.6h.01M358.9 183.7h.01M374.4 187.3h.01M375.3 180.1h.01M382.0 189.8h.01M383.9 179.3h.01M376.6 178.5h.01M370.4 186.7h.01M382.8 179.2h.01M366.9 182.6h.01M370.7 177.0h.01M370.8 175.4h.01M366.5 191.8h.01M371.4 181.1h.01M385.9 184.5h.01M377.5 180.2h.01M381.7 181.4h.01M379.7 186.1h.01M387.3 187.9h.01M371.8 177.8h.01M369.3 179.6h.01M385.6 180.8h.01M351.6 184.9h.01M379.2 178.4h.01M378.3 176.4h.01M374.1 182.2h.01M374.7 185.1h.01M366.0 187.0h.01M367.5 183.6h.01M384.6 178.4h.01M372.6 190.9h.01M383.2 179.6h.01M366.4 185.7h.01M366.1 183.3h.01M359.8 186.1h.01M357.6 183.6h.01M378.2 179.7h.01M357.9 176.7h.01M354.8 191.9h.01M354.7 176.6h.01M374.9 183.2h.01M381.1 189.5h.01M376.0 182.6h.01M366.9 182.1h.01M380.4 186.0h.01M377.6 174.6h.01M365.1 179.5h.01M367.1 177.7h.01M378.1 188.3h.01M388.3 180.4h.01M371.0 183.4h.01M371.9 178.8h.01M379.1 172.9h.01M367.6 173.5h.01M377.6 176.0h.01M361.6 182.9h.01M362.6 184.2h.01M361.0 178.9h.01M377.1 183.6h.01M376.0 181.5h.01M380.5 184.7h.01M383.9 176.2h.01M374.3 181.9h.01M375.6 178.3h.01M379.3 176.3h.01M380.0 185.7h.01M355.8 185.0h.01M354.5 185.8h.01M357.5 182.6h.01M369.6 174.9h.01M355.3 185.5h.01M367.6 188.4h.01M373.6 191.8h.01M375.2 183.4h.01M376.9 179.2h.01M366.2 191.3h.01M370.3 177.3h.01M376.7 178.8h.01M372.8 188.8h.01M383.8 192.2h.01M382.7 186.4h.01M377.1 184.6h.01M371.6 191.5h.01M371.2 189.2h.01M346.6 183.9h.01M366.7 191.1h.01M385.9 180.1h.01M371.7 187.9h.01M375.2 183.7h.01M381.3 176.7h.01" stroke="#e4262b" stroke-width="0.9" stroke-linecap="round" fill="none" opacity="0.42"/>
<path d="M323.90 193.30H327.50M324.90 187.84H327.50M324.90 184.64H327.50M324.90 182.37H327.50M324.90 180.61H327.50M324.90 179.18H327.50M324.90 177.96H327.50M324.90 176.91H327.50M324.90 175.98H327.50M323.90 175.15H327.50M324.90 169.69H327.50M324.90 166.49H327.50M324.90 164.22H327.50M324.90 162.46H327.50M324.90 161.03H327.50M324.90 159.81H327.50M324.90 158.76H327.50M324.90 157.83H327.50M323.90 157.00H327.50M324.90 151.54H327.50M324.90 148.34H327.50M324.90 146.07H327.50M324.90 144.31H327.50M324.90 142.88H327.50M324.90 141.66H327.50M324.90 140.61H327.50M324.90 139.68H327.50M323.90 138.85H327.50M324.90 133.39H327.50M324.90 130.19H327.50M324.90 127.92H327.50M324.90 126.16H327.50M324.90 124.73H327.50M324.90 123.51H327.50M324.90 122.46H327.50M324.90 121.53H327.50M324.00 120.70H327.50M327.50 193.30V196.90M332.99 193.30V195.90M336.21 193.30V195.90M338.49 193.30V195.90M340.26 193.30V195.90M341.70 193.30V195.90M342.92 193.30V195.90M343.98 193.30V195.90M344.91 193.30V195.90M345.75 193.30V196.90M351.24 193.30V195.90M354.46 193.30V195.90M356.74 193.30V195.90M358.51 193.30V195.90M359.95 193.30V195.90M361.17 193.30V195.90M362.23 193.30V195.90M363.16 193.30V195.90M364.00 193.30V196.90M369.49 193.30V195.90M372.71 193.30V195.90M374.99 193.30V195.90M376.76 193.30V195.90M378.20 193.30V195.90M379.42 193.30V195.90M380.48 193.30V195.90M381.41 193.30V195.90M382.25 193.30V196.90M387.74 193.30V195.90M390.96 193.30V195.90M393.24 193.30V195.90M395.01 193.30V195.90M396.45 193.30V195.90M397.67 193.30V195.90M398.73 193.30V195.90M399.66 193.30V195.90M400.50 193.30V196.80" stroke="#222" stroke-width="0.85" fill="none"/>
<text x="311.50" y="127.20" font-size="7.70" text-anchor="start" fill="#222" textLength="9.97" lengthAdjust="spacingAndGlyphs">10<tspan dy="-3.50" font-size="6.55">4</tspan></text>
<text x="311.50" y="144.20" font-size="7.70" text-anchor="start" fill="#222" textLength="9.97" lengthAdjust="spacingAndGlyphs">10<tspan dy="-3.50" font-size="6.55">3</tspan></text>
<text x="311.50" y="160.70" font-size="7.70" text-anchor="start" fill="#222" textLength="9.97" lengthAdjust="spacingAndGlyphs">10<tspan dy="-3.50" font-size="6.55">2</tspan></text>
<text x="311.50" y="177.20" font-size="7.70" text-anchor="start" fill="#222" textLength="9.97" lengthAdjust="spacingAndGlyphs">10<tspan dy="-3.50" font-size="6.55">1</tspan></text>
<text x="311.50" y="193.90" font-size="7.70" text-anchor="start" fill="#222" textLength="9.97" lengthAdjust="spacingAndGlyphs">10<tspan dy="-3.50" font-size="6.55">0</tspan></text>
<text x="324.10" y="207.10" font-size="7.70" text-anchor="start" fill="#222" textLength="9.97" lengthAdjust="spacingAndGlyphs">10<tspan dy="-3.50" font-size="6.55">0</tspan></text>
<text x="341.90" y="207.10" font-size="7.70" text-anchor="start" fill="#222" textLength="9.97" lengthAdjust="spacingAndGlyphs">10<tspan dy="-3.50" font-size="6.55">1</tspan></text>
<text x="356.50" y="207.10" font-size="7.70" text-anchor="start" fill="#222" textLength="9.97" lengthAdjust="spacingAndGlyphs">10<tspan dy="-3.50" font-size="6.55">2</tspan></text>
<text x="376.80" y="207.10" font-size="7.70" text-anchor="start" fill="#222" textLength="9.97" lengthAdjust="spacingAndGlyphs">10<tspan dy="-3.50" font-size="6.55">3</tspan></text>
<text x="393.70" y="207.10" font-size="7.70" text-anchor="start" fill="#222" textLength="9.97" lengthAdjust="spacingAndGlyphs">10<tspan dy="-3.50" font-size="6.55">4</tspan></text>
<rect x="327.50" y="120.70" width="73.00" height="72.60" fill="none" stroke="#111" stroke-width="1.5" />
<line x1="357.90" y1="120.70" x2="357.90" y2="193.30" stroke="#000" stroke-width="1.5" />
<line x1="327.50" y1="169.60" x2="400.50" y2="169.60" stroke="#000" stroke-width="1.5" />
<text x="87.00" y="81.60" font-size="7.700000000000001" text-anchor="start" fill="#111"  textLength="19.25" lengthAdjust="spacingAndGlyphs">6.57%</text>
<text x="181.50" y="81.60" font-size="7.700000000000001" text-anchor="start" fill="#111"  textLength="19.25" lengthAdjust="spacingAndGlyphs">14.3%</text>
<text x="274.00" y="81.60" font-size="7.700000000000001" text-anchor="start" fill="#111"  textLength="19.25" lengthAdjust="spacingAndGlyphs">7.03%</text>
<text x="370.00" y="81.60" font-size="7.700000000000001" text-anchor="start" fill="#111"  textLength="19.25" lengthAdjust="spacingAndGlyphs">7.48%</text>
<text x="86.80" y="179.80" font-size="7.700000000000001" text-anchor="start" fill="#111"  textLength="19.25" lengthAdjust="spacingAndGlyphs">5.89%</text>
<text x="182.00" y="179.80" font-size="7.700000000000001" text-anchor="start" fill="#111"  textLength="19.25" lengthAdjust="spacingAndGlyphs">12.7%</text>
<text x="273.40" y="179.80" font-size="7.700000000000001" text-anchor="start" fill="#111"  textLength="19.25" lengthAdjust="spacingAndGlyphs">2.43%</text>
<text x="369.00" y="179.80" font-size="7.700000000000001" text-anchor="start" fill="#111"  textLength="19.25" lengthAdjust="spacingAndGlyphs">6.94%</text>
<text x="407.60" y="61.20" font-size="7.92" text-anchor="start" fill="#111" textLength="31.10" lengthAdjust="spacingAndGlyphs">IL-23R<tspan dy="-3.60" font-size="7.52">+</tspan><tspan dy="3.60">T</tspan></text>
<text x="407.60" y="163.40" font-size="7.92" text-anchor="start" fill="#111" textLength="31.10" lengthAdjust="spacingAndGlyphs">IL-23R<tspan dy="-3.60" font-size="7.52">+</tspan><tspan dy="3.60">E</tspan></text>
<line x1="21.50" y1="212.40" x2="21.50" y2="30.00" stroke="#2a1d1d" stroke-width="1.3" />
<path d="M21.5 25.3 L18.2 33.0 L21.5 31.4 L24.8 33.0Z" fill="#2a1d1d"/>
<line x1="20.90" y1="211.80" x2="396.00" y2="211.80" stroke="#2a1d1d" stroke-width="1.3" />
<path d="M401.8 211.8 L394.1 208.5 L395.7 211.8 L394.1 215.1Z" fill="#2a1d1d"/>
<text x="12.4" y="115" font-size="7.70" text-anchor="middle" fill="#111" transform="rotate(-90 12.4 115)" dy="2.4" textLength="7.00" lengthAdjust="spacingAndGlyphs">PI</text>
<text x="160.20" y="223.00" font-size="7.700000000000001" text-anchor="start" fill="#111"  textLength="51.21" lengthAdjust="spacingAndGlyphs">Annexin-V-FITC</text>
<line x1="489.65" y1="151.21" x2="489.65" y2="149.64" stroke="#000" stroke-width="1.2" />
<line x1="485.15" y1="149.64" x2="494.15" y2="149.64" stroke="#000" stroke-width="1.2" />
<rect x="481.60" y="151.21" width="16.10" height="36.19" fill="url(#dots)" stroke="#111" stroke-width="1.5" />
<line x1="507.15" y1="107.15" x2="507.15" y2="99.28" stroke="#000" stroke-width="1.2" />
<line x1="502.65" y1="99.28" x2="511.65" y2="99.28" stroke="#000" stroke-width="1.2" />
<rect x="498.90" y="107.15" width="16.50" height="80.25" fill="url(#dots)" stroke="#111" stroke-width="1.5" />
<line x1="524.85" y1="148.06" x2="524.85" y2="143.87" stroke="#000" stroke-width="1.2" />
<line x1="520.35" y1="143.87" x2="529.35" y2="143.87" stroke="#000" stroke-width="1.2" />
<rect x="516.60" y="148.06" width="16.50" height="39.34" fill="url(#dots)" stroke="#111" stroke-width="1.5" />
<line x1="542.65" y1="143.87" x2="542.65" y2="140.72" stroke="#000" stroke-width="1.2" />
<line x1="538.15" y1="140.72" x2="547.15" y2="140.72" stroke="#000" stroke-width="1.2" />
<rect x="534.30" y="143.87" width="16.70" height="43.53" fill="url(#dots)" stroke="#111" stroke-width="1.5" />
<line x1="568.00" y1="153.83" x2="568.00" y2="152.52" stroke="#000" stroke-width="1.2" />
<line x1="563.50" y1="152.52" x2="572.50" y2="152.52" stroke="#000" stroke-width="1.2" />
<rect x="559.60" y="153.83" width="16.80" height="33.57" fill="url(#chk)" stroke="#111" stroke-width="1.5" />
<line x1="586.00" y1="111.35" x2="586.00" y2="107.68" stroke="#000" stroke-width="1.2" />
<line x1="581.50" y1="107.68" x2="590.50" y2="107.68" stroke="#000" stroke-width="1.2" />
<rect x="577.60" y="111.35" width="16.80" height="76.05" fill="url(#chk)" stroke="#111" stroke-width="1.5" />
<line x1="603.85" y1="176.39" x2="603.85" y2="173.24" stroke="#000" stroke-width="1.2" />
<line x1="599.35" y1="173.24" x2="608.35" y2="173.24" stroke="#000" stroke-width="1.2" />
<rect x="595.60" y="176.39" width="16.50" height="11.01" fill="url(#chk)" stroke="#111" stroke-width="1.5" />
<line x1="621.50" y1="147.54" x2="621.50" y2="144.39" stroke="#000" stroke-width="1.2" />
<line x1="617.00" y1="144.39" x2="626.00" y2="144.39" stroke="#000" stroke-width="1.2" />
<rect x="613.30" y="147.54" width="16.40" height="39.86" fill="url(#chk)" stroke="#111" stroke-width="1.5" />
<line x1="477.00" y1="82.50" x2="477.00" y2="188.00" stroke="#000" stroke-width="1.5" />
<line x1="476.40" y1="187.40" x2="635.00" y2="187.40" stroke="#000" stroke-width="1.5" />
<line x1="474.00" y1="187.40" x2="477.00" y2="187.40" stroke="#000" stroke-width="1.2" />
<text x="472.80" y="189.70" font-size="7.26" text-anchor="end" fill="#111"  textLength="3.30" lengthAdjust="spacingAndGlyphs">0</text>
<line x1="474.00" y1="161.18" x2="477.00" y2="161.18" stroke="#000" stroke-width="1.2" />
<text x="472.80" y="163.48" font-size="7.26" text-anchor="end" fill="#111"  textLength="3.30" lengthAdjust="spacingAndGlyphs">5</text>
<line x1="474.00" y1="134.95" x2="477.00" y2="134.95" stroke="#000" stroke-width="1.2" />
<text x="472.80" y="137.25" font-size="7.26" text-anchor="end" fill="#111"  textLength="6.60" lengthAdjust="spacingAndGlyphs">10</text>
<line x1="474.00" y1="108.73" x2="477.00" y2="108.73" stroke="#000" stroke-width="1.2" />
<text x="472.80" y="111.03" font-size="7.26" text-anchor="end" fill="#111"  textLength="6.60" lengthAdjust="spacingAndGlyphs">15</text>
<line x1="474.00" y1="82.50" x2="477.00" y2="82.50" stroke="#000" stroke-width="1.2" />
<text x="472.80" y="84.80" font-size="7.26" text-anchor="end" fill="#111"  textLength="6.60" lengthAdjust="spacingAndGlyphs">20</text>
<line x1="489.65" y1="187.40" x2="489.65" y2="190.60" stroke="#000" stroke-width="1.1" />
<line x1="507.15" y1="187.40" x2="507.15" y2="190.60" stroke="#000" stroke-width="1.1" />
<line x1="524.85" y1="187.40" x2="524.85" y2="190.60" stroke="#000" stroke-width="1.1" />
<line x1="542.65" y1="187.40" x2="542.65" y2="190.60" stroke="#000" stroke-width="1.1" />
<line x1="568.00" y1="187.40" x2="568.00" y2="190.60" stroke="#000" stroke-width="1.1" />
<line x1="586.00" y1="187.40" x2="586.00" y2="190.60" stroke="#000" stroke-width="1.1" />
<line x1="603.85" y1="187.40" x2="603.85" y2="190.60" stroke="#000" stroke-width="1.1" />
<line x1="621.50" y1="187.40" x2="621.50" y2="190.60" stroke="#000" stroke-width="1.1" />
<text x="455.90" y="137.50" font-size="7.76" text-anchor="middle" fill="#111" transform="rotate(-90 455.90 137.50)" dy="2.5" textLength="75.00" lengthAdjust="spacingAndGlyphs">Early apoptosis cells (%)</text>
<path d="M507 95.6 V86.8 H542.6 V139.5" stroke="#3a2e2e" stroke-width="1.1" fill="none"/>
<text x="524.80" y="86.30" font-size="6.5" text-anchor="middle" fill="#666"  style="stroke:none">**</text>
<path d="M586 103.5 V96 H621.5 V140" stroke="#3a2e2e" stroke-width="1.1" fill="none"/>
<text x="603.80" y="95.30" font-size="6.5" text-anchor="middle" fill="#666"  style="stroke:none">**</text>
<rect x="626.20" y="52.70" width="18.80" height="9.60" fill="url(#dots)" stroke="#111" stroke-width="1.4" />
<rect x="626.20" y="68.60" width="18.80" height="9.20" fill="url(#chkL)" stroke="#111" stroke-width="1.4" />
<text x="650.20" y="61.20" font-size="8.03" text-anchor="start" fill="#111" textLength="31.53" lengthAdjust="spacingAndGlyphs">IL-23R<tspan dy="-3.65" font-size="7.63">+</tspan><tspan dy="3.65">T</tspan></text>
<text x="650.20" y="77.30" font-size="8.03" text-anchor="start" fill="#111" textLength="31.53" lengthAdjust="spacingAndGlyphs">IL-23R<tspan dy="-3.65" font-size="7.63">+</tspan><tspan dy="3.65">E</tspan></text>
<line x1="485.60" y1="198.40" x2="489.00" y2="198.40" stroke="#444" stroke-width="0.8" />
<line x1="485.60" y1="209.60" x2="489.00" y2="209.60" stroke="#444" stroke-width="0.8" />
<line x1="502.60" y1="198.40" x2="506.00" y2="198.40" stroke="#444" stroke-width="0.8" />
<line x1="502.10" y1="211.50" x2="506.50" y2="211.50" stroke="#222" stroke-width="0.75" />
<line x1="504.30" y1="209.30" x2="504.30" y2="213.70" stroke="#222" stroke-width="0.75" />
<line x1="520.80" y1="200.00" x2="525.20" y2="200.00" stroke="#222" stroke-width="0.75" />
<line x1="523.00" y1="197.80" x2="523.00" y2="202.20" stroke="#222" stroke-width="0.75" />
<line x1="521.30" y1="209.60" x2="524.70" y2="209.60" stroke="#444" stroke-width="0.8" />
<line x1="538.30" y1="200.00" x2="542.70" y2="200.00" stroke="#222" stroke-width="0.75" />
<line x1="540.50" y1="197.80" x2="540.50" y2="202.20" stroke="#222" stroke-width="0.75" />
<line x1="538.30" y1="211.50" x2="542.70" y2="211.50" stroke="#222" stroke-width="0.75" />
<line x1="540.50" y1="209.30" x2="540.50" y2="213.70" stroke="#222" stroke-width="0.75" />
<line x1="565.10" y1="198.40" x2="568.50" y2="198.40" stroke="#444" stroke-width="0.8" />
<line x1="565.10" y1="209.60" x2="568.50" y2="209.60" stroke="#444" stroke-width="0.8" />
<line x1="582.30" y1="198.40" x2="585.70" y2="198.40" stroke="#444" stroke-width="0.8" />
<line x1="581.80" y1="211.50" x2="586.20" y2="211.50" stroke="#222" stroke-width="0.75" />
<line x1="584.00" y1="209.30" x2="584.00" y2="213.70" stroke="#222" stroke-width="0.75" />
<line x1="598.80" y1="200.00" x2="603.20" y2="200.00" stroke="#222" stroke-width="0.75" />
<line x1="601.00" y1="197.80" x2="601.00" y2="202.20" stroke="#222" stroke-width="0.75" />
<line x1="599.30" y1="209.60" x2="602.70" y2="209.60" stroke="#444" stroke-width="0.8" />
<line x1="616.80" y1="200.00" x2="621.20" y2="200.00" stroke="#222" stroke-width="0.75" />
<line x1="619.00" y1="197.80" x2="619.00" y2="202.20" stroke="#222" stroke-width="0.75" />
<line x1="616.80" y1="211.50" x2="621.20" y2="211.50" stroke="#222" stroke-width="0.75" />
<line x1="619.00" y1="209.30" x2="619.00" y2="213.70" stroke="#222" stroke-width="0.75" />
<text x="635.70" y="202.30" font-size="7.48" text-anchor="start" fill="#111"  textLength="16.25" lengthAdjust="spacingAndGlyphs">IL-23</text>
<text x="635.20" y="213.40" font-size="7.48" text-anchor="start" fill="#111"  textLength="17.19" lengthAdjust="spacingAndGlyphs">10 Gy</text>
<text x="0.80" y="238.50" font-size="22" text-anchor="start" fill="#111" >b</text>
<text x="96.20" y="255.00" font-size="7.92" text-anchor="middle" fill="#111" textLength="31.10" lengthAdjust="spacingAndGlyphs">IL-23R<tspan dy="-3.60" font-size="7.52">+</tspan><tspan dy="3.60">T</tspan></text>
<line x1="31.30" y1="273.80" x2="31.30" y2="368.00" stroke="#000" stroke-width="1.5" />
<line x1="28.20" y1="367.30" x2="172.70" y2="367.30" stroke="#000" stroke-width="1.5" />
<line x1="28.20" y1="367.30" x2="31.30" y2="367.30" stroke="#000" stroke-width="1.3" />
<text x="26.40" y="369.60" font-size="7.26" text-anchor="end" fill="#111"  textLength="3.30" lengthAdjust="spacingAndGlyphs">0</text>
<line x1="28.20" y1="348.60" x2="31.30" y2="348.60" stroke="#000" stroke-width="1.3" />
<text x="26.40" y="350.90" font-size="7.26" text-anchor="end" fill="#111"  textLength="3.30" lengthAdjust="spacingAndGlyphs">5</text>
<line x1="28.20" y1="329.90" x2="31.30" y2="329.90" stroke="#000" stroke-width="1.3" />
<text x="26.40" y="332.20" font-size="7.26" text-anchor="end" fill="#111"  textLength="6.60" lengthAdjust="spacingAndGlyphs">10</text>
<line x1="28.20" y1="311.20" x2="31.30" y2="311.20" stroke="#000" stroke-width="1.3" />
<text x="26.40" y="313.50" font-size="7.26" text-anchor="end" fill="#111"  textLength="6.60" lengthAdjust="spacingAndGlyphs">15</text>
<line x1="28.20" y1="292.50" x2="31.30" y2="292.50" stroke="#000" stroke-width="1.3" />
<text x="26.40" y="294.80" font-size="7.26" text-anchor="end" fill="#111"  textLength="6.60" lengthAdjust="spacingAndGlyphs">20</text>
<line x1="28.20" y1="273.80" x2="31.30" y2="273.80" stroke="#000" stroke-width="1.3" />
<text x="26.40" y="276.10" font-size="7.26" text-anchor="end" fill="#111"  textLength="6.60" lengthAdjust="spacingAndGlyphs">25</text>
<text x="30.60" y="378.80" font-size="7.26" text-anchor="middle" fill="#111"  textLength="3.30" lengthAdjust="spacingAndGlyphs">0</text>
<line x1="45.70" y1="367.30" x2="45.70" y2="370.60" stroke="#000" stroke-width="1.3" />
<text x="45.70" y="378.80" font-size="7.26" text-anchor="middle" fill="#111"  textLength="3.30" lengthAdjust="spacingAndGlyphs">2</text>
<line x1="73.70" y1="367.30" x2="73.70" y2="370.60" stroke="#000" stroke-width="1.3" />
<text x="73.70" y="378.80" font-size="7.26" text-anchor="middle" fill="#111"  textLength="3.30" lengthAdjust="spacingAndGlyphs">4</text>
<line x1="101.70" y1="367.30" x2="101.70" y2="370.60" stroke="#000" stroke-width="1.3" />
<text x="101.70" y="378.80" font-size="7.26" text-anchor="middle" fill="#111"  textLength="3.30" lengthAdjust="spacingAndGlyphs">6</text>
<line x1="129.70" y1="367.30" x2="129.70" y2="370.60" stroke="#000" stroke-width="1.3" />
<text x="129.70" y="378.80" font-size="7.26" text-anchor="middle" fill="#111"  textLength="3.30" lengthAdjust="spacingAndGlyphs">8</text>
<line x1="157.70" y1="367.30" x2="157.70" y2="370.60" stroke="#000" stroke-width="1.3" />
<text x="157.70" y="378.80" font-size="7.26" text-anchor="middle" fill="#111"  textLength="6.60" lengthAdjust="spacingAndGlyphs">10</text>
<polyline points="45.70,356.83 73.70,350.10 101.70,335.51 129.70,311.20 157.70,288.01" fill="none" stroke="#e8242b" stroke-width="1.4"/>
<line x1="45.70" y1="356.03" x2="45.70" y2="357.63" stroke="#e8242b" stroke-width="1.1" />
<line x1="43.40" y1="356.03" x2="48.00" y2="356.03" stroke="#e8242b" stroke-width="1.1" />
<line x1="43.40" y1="357.63" x2="48.00" y2="357.63" stroke="#e8242b" stroke-width="1.1" />
<circle cx="45.70" cy="356.83" r="2.60" fill="#e8242b"/>
<line x1="73.70" y1="348.90" x2="73.70" y2="351.30" stroke="#e8242b" stroke-width="1.1" />
<line x1="71.40" y1="348.90" x2="76.00" y2="348.90" stroke="#e8242b" stroke-width="1.1" />
<line x1="71.40" y1="351.30" x2="76.00" y2="351.30" stroke="#e8242b" stroke-width="1.1" />
<circle cx="73.70" cy="350.10" r="2.60" fill="#e8242b"/>
<line x1="101.70" y1="334.01" x2="101.70" y2="337.01" stroke="#e8242b" stroke-width="1.1" />
<line x1="99.40" y1="334.01" x2="104.00" y2="334.01" stroke="#e8242b" stroke-width="1.1" />
<line x1="99.40" y1="337.01" x2="104.00" y2="337.01" stroke="#e8242b" stroke-width="1.1" />
<circle cx="101.70" cy="335.51" r="2.60" fill="#e8242b"/>
<line x1="129.70" y1="308.00" x2="129.70" y2="314.40" stroke="#e8242b" stroke-width="1.1" />
<line x1="127.40" y1="308.00" x2="132.00" y2="308.00" stroke="#e8242b" stroke-width="1.1" />
<line x1="127.40" y1="314.40" x2="132.00" y2="314.40" stroke="#e8242b" stroke-width="1.1" />
<circle cx="129.70" cy="311.20" r="2.60" fill="#e8242b"/>
<line x1="157.70" y1="284.01" x2="157.70" y2="292.01" stroke="#e8242b" stroke-width="1.1" />
<line x1="155.40" y1="284.01" x2="160.00" y2="284.01" stroke="#e8242b" stroke-width="1.1" />
<line x1="155.40" y1="292.01" x2="160.00" y2="292.01" stroke="#e8242b" stroke-width="1.1" />
<circle cx="157.70" cy="288.01" r="2.60" fill="#e8242b"/>
<polyline points="45.70,356.83 73.70,351.22 101.70,338.13 129.70,319.80 157.70,307.46" fill="none" stroke="#12309a" stroke-width="1.4"/>
<line x1="45.70" y1="356.03" x2="45.70" y2="357.63" stroke="#12309a" stroke-width="1.1" />
<line x1="43.40" y1="356.03" x2="48.00" y2="356.03" stroke="#12309a" stroke-width="1.1" />
<line x1="43.40" y1="357.63" x2="48.00" y2="357.63" stroke="#12309a" stroke-width="1.1" />
<rect x="43.10" y="354.23" width="5.20" height="5.20" fill="#12309a"/>
<line x1="73.70" y1="350.22" x2="73.70" y2="352.22" stroke="#12309a" stroke-width="1.1" />
<line x1="71.40" y1="350.22" x2="76.00" y2="350.22" stroke="#12309a" stroke-width="1.1" />
<line x1="71.40" y1="352.22" x2="76.00" y2="352.22" stroke="#12309a" stroke-width="1.1" />
<rect x="71.10" y="348.62" width="5.20" height="5.20" fill="#12309a"/>
<line x1="101.70" y1="336.33" x2="101.70" y2="339.93" stroke="#12309a" stroke-width="1.1" />
<line x1="99.40" y1="336.33" x2="104.00" y2="336.33" stroke="#12309a" stroke-width="1.1" />
<line x1="99.40" y1="339.93" x2="104.00" y2="339.93" stroke="#12309a" stroke-width="1.1" />
<rect x="99.10" y="335.53" width="5.20" height="5.20" fill="#12309a"/>
<line x1="129.70" y1="317.60" x2="129.70" y2="322.00" stroke="#12309a" stroke-width="1.1" />
<line x1="127.40" y1="317.60" x2="132.00" y2="317.60" stroke="#12309a" stroke-width="1.1" />
<line x1="127.40" y1="322.00" x2="132.00" y2="322.00" stroke="#12309a" stroke-width="1.1" />
<rect x="127.10" y="317.20" width="5.20" height="5.20" fill="#12309a"/>
<line x1="157.70" y1="303.26" x2="157.70" y2="311.66" stroke="#12309a" stroke-width="1.1" />
<line x1="155.40" y1="303.26" x2="160.00" y2="303.26" stroke="#12309a" stroke-width="1.1" />
<line x1="155.40" y1="311.66" x2="160.00" y2="311.66" stroke="#12309a" stroke-width="1.1" />
<rect x="155.10" y="304.86" width="5.20" height="5.20" fill="#12309a"/>
<line x1="140.00" y1="305.60" x2="140.00" y2="321.20" stroke="#2e2424" stroke-width="1.2" />
<line x1="136.50" y1="305.60" x2="143.50" y2="305.60" stroke="#2e2424" stroke-width="1.2" />
<line x1="136.50" y1="321.20" x2="143.50" y2="321.20" stroke="#2e2424" stroke-width="1.2" />
<text x="145.20" y="318.50" font-size="6.5" text-anchor="start" fill="#666"  style="stroke:none">*</text>
<line x1="169.60" y1="281.70" x2="169.60" y2="310.40" stroke="#2e2424" stroke-width="1.2" />
<line x1="165.60" y1="281.70" x2="173.60" y2="281.70" stroke="#2e2424" stroke-width="1.2" />
<line x1="165.60" y1="310.40" x2="173.60" y2="310.40" stroke="#2e2424" stroke-width="1.2" />
<text x="172.50" y="301.80" font-size="6.5" text-anchor="start" fill="#666"  style="stroke:none">**</text>
<line x1="42.00" y1="277.20" x2="52.50" y2="277.20" stroke="#e8242b" stroke-width="1.4" />
<circle cx="47.20" cy="277.20" r="2.50" fill="#e8242b"/>
<text x="58.20" y="279.80" font-size="7.700000000000001" text-anchor="start" fill="#111"  textLength="9.33" lengthAdjust="spacingAndGlyphs">FR</text>
<line x1="42.00" y1="288.50" x2="52.50" y2="288.50" stroke="#12309a" stroke-width="1.4" />
<rect x="44.80" y="286.10" width="4.80" height="4.80" fill="#12309a"/>
<text x="58.20" y="291.10" font-size="7.700000000000001" text-anchor="start" fill="#111"  textLength="30.04" lengthAdjust="spacingAndGlyphs">IL-23+FR</text>
<text x="14.50" y="320.70" font-size="7.81" text-anchor="middle" fill="#111" transform="rotate(-90 14.50 320.70)" dy="2.4" textLength="58.38" lengthAdjust="spacingAndGlyphs">Apoptosis cells (%)</text>
<text x="87.00" y="389.80" font-size="7.700000000000001" text-anchor="middle" fill="#111"  textLength="59.89" lengthAdjust="spacingAndGlyphs">Radiation dose (Gy)</text>
<text x="292.30" y="255.00" font-size="7.92" text-anchor="middle" fill="#111" textLength="31.10" lengthAdjust="spacingAndGlyphs">IL-23R<tspan dy="-3.60" font-size="7.52">+</tspan><tspan dy="3.60">T</tspan></text>
<line x1="215.90" y1="260.00" x2="215.90" y2="367.30" stroke="#000" stroke-width="1.5" />
<line x1="215.30" y1="366.70" x2="379.60" y2="366.70" stroke="#2a1c1c" stroke-width="1.3" />
<line x1="212.80" y1="262.10" x2="215.90" y2="262.10" stroke="#000" stroke-width="1.2" />
<text x="212.00" y="264.40" font-size="7.26" text-anchor="end" fill="#111"  textLength="3.30" lengthAdjust="spacingAndGlyphs">1</text>
<line x1="212.80" y1="296.95" x2="215.90" y2="296.95" stroke="#000" stroke-width="1.2" />
<text x="212.00" y="299.25" font-size="7.26" text-anchor="end" fill="#111"  textLength="8.25" lengthAdjust="spacingAndGlyphs">0.1</text>
<line x1="212.80" y1="331.80" x2="215.90" y2="331.80" stroke="#000" stroke-width="1.2" />
<text x="212.00" y="334.10" font-size="7.26" text-anchor="end" fill="#111"  textLength="11.55" lengthAdjust="spacingAndGlyphs">0.01</text>
<line x1="212.80" y1="366.65" x2="215.90" y2="366.65" stroke="#000" stroke-width="1.2" />
<text x="212.00" y="368.95" font-size="7.26" text-anchor="end" fill="#111"  textLength="14.85" lengthAdjust="spacingAndGlyphs">0.001</text>
<line x1="215.90" y1="366.70" x2="215.90" y2="369.80" stroke="#000" stroke-width="1.2" />
<text x="215.90" y="378.40" font-size="7.26" text-anchor="middle" fill="#111"  textLength="3.30" lengthAdjust="spacingAndGlyphs">0</text>
<line x1="245.52" y1="366.70" x2="245.52" y2="369.80" stroke="#000" stroke-width="1.2" />
<text x="245.52" y="378.40" font-size="7.26" text-anchor="middle" fill="#111"  textLength="3.30" lengthAdjust="spacingAndGlyphs">2</text>
<line x1="275.14" y1="366.70" x2="275.14" y2="369.80" stroke="#000" stroke-width="1.2" />
<text x="275.14" y="378.40" font-size="7.26" text-anchor="middle" fill="#111"  textLength="3.30" lengthAdjust="spacingAndGlyphs">4</text>
<line x1="304.76" y1="366.70" x2="304.76" y2="369.80" stroke="#000" stroke-width="1.2" />
<text x="304.76" y="378.40" font-size="7.26" text-anchor="middle" fill="#111"  textLength="3.30" lengthAdjust="spacingAndGlyphs">6</text>
<line x1="334.38" y1="366.70" x2="334.38" y2="369.80" stroke="#000" stroke-width="1.2" />
<text x="334.38" y="378.40" font-size="7.26" text-anchor="middle" fill="#111"  textLength="3.30" lengthAdjust="spacingAndGlyphs">8</text>
<line x1="364.00" y1="366.70" x2="364.00" y2="369.80" stroke="#000" stroke-width="1.2" />
<text x="364.00" y="378.40" font-size="7.26" text-anchor="middle" fill="#111"  textLength="6.60" lengthAdjust="spacingAndGlyphs">10</text>
<polyline points="215.90,262.10 219.60,261.99 223.31,261.93 227.01,261.91 230.71,261.93 234.41,262.00 238.12,262.12 241.82,262.28 245.52,262.49 249.22,262.74 252.93,263.04 256.63,263.38 260.33,263.77 264.03,264.20 267.74,264.68 271.44,265.20 275.14,265.77 278.84,266.38 282.55,267.04 286.25,267.75 289.95,268.49 293.65,269.29 297.36,270.13 301.06,271.01 304.76,271.94 308.46,272.92 312.17,273.94 315.87,275.01 319.57,276.12 323.27,277.27 326.98,278.47 330.68,279.72 334.38,281.01 338.08,282.35 341.79,283.73 345.49,285.16 349.19,286.63 352.89,288.15 356.60,289.71 360.30,291.32 364.00,292.98" fill="none" stroke="#1d2fc4" stroke-width="1.5"/>
<polyline points="215.90,262.10 219.60,262.26 223.31,262.50 227.01,262.83 230.71,263.24 234.41,263.73 238.12,264.30 241.82,264.96 245.52,265.70 249.22,266.53 252.93,267.44 256.63,268.43 260.33,269.50 264.03,270.66 267.74,271.90 271.44,273.22 275.14,274.63 278.84,276.12 282.55,277.70 286.25,279.35 289.95,281.09 293.65,282.92 297.36,284.83 301.06,286.82 304.76,288.89 308.46,291.05 312.17,293.29 315.87,295.61 319.57,298.02 323.27,300.51 326.98,303.08 330.68,305.73 334.38,308.47 338.08,311.30 341.79,314.20 345.49,317.19 349.19,320.26 352.89,323.42 356.60,326.66 360.30,329.98 364.00,333.39" fill="none" stroke="#e8242b" stroke-width="1.5"/>
<circle cx="215.90" cy="262.10" r="2.60" fill="#e8242b"/>
<circle cx="245.52" cy="264.56" r="2.60" fill="#e8242b"/>
<circle cx="275.14" cy="271.15" r="2.60" fill="#e8242b"/>
<line x1="304.76" y1="286.81" x2="304.76" y2="294.81" stroke="#e8242b" stroke-width="1.0" />
<line x1="302.56" y1="286.81" x2="306.96" y2="286.81" stroke="#e8242b" stroke-width="1.0" />
<line x1="302.56" y1="294.81" x2="306.96" y2="294.81" stroke="#e8242b" stroke-width="1.0" />
<circle cx="304.76" cy="290.81" r="2.60" fill="#e8242b"/>
<line x1="334.38" y1="309.09" x2="334.38" y2="314.09" stroke="#e8242b" stroke-width="1.0" />
<line x1="332.18" y1="309.09" x2="336.58" y2="309.09" stroke="#e8242b" stroke-width="1.0" />
<line x1="332.18" y1="314.09" x2="336.58" y2="314.09" stroke="#e8242b" stroke-width="1.0" />
<circle cx="334.38" cy="311.59" r="2.60" fill="#e8242b"/>
<line x1="364.00" y1="336.53" x2="364.00" y2="342.53" stroke="#e8242b" stroke-width="1.0" />
<line x1="361.80" y1="336.53" x2="366.20" y2="336.53" stroke="#e8242b" stroke-width="1.0" />
<line x1="361.80" y1="342.53" x2="366.20" y2="342.53" stroke="#e8242b" stroke-width="1.0" />
<circle cx="364.00" cy="339.53" r="2.60" fill="#e8242b"/>
<rect x="213.40" y="259.60" width="5.00" height="5.00" fill="#1d2fc4"/>
<rect x="243.02" y="262.06" width="5.00" height="5.00" fill="#1d2fc4"/>
<rect x="272.64" y="262.98" width="5.00" height="5.00" fill="#1d2fc4"/>
<rect x="302.26" y="268.65" width="5.00" height="5.00" fill="#1d2fc4"/>
<line x1="334.38" y1="280.42" x2="334.38" y2="283.42" stroke="#1d2fc4" stroke-width="1.0" />
<line x1="332.18" y1="280.42" x2="336.58" y2="280.42" stroke="#1d2fc4" stroke-width="1.0" />
<line x1="332.18" y1="283.42" x2="336.58" y2="283.42" stroke="#1d2fc4" stroke-width="1.0" />
<rect x="331.88" y="279.42" width="5.00" height="5.00" fill="#1d2fc4"/>
<line x1="364.00" y1="296.30" x2="364.00" y2="307.30" stroke="#1d2fc4" stroke-width="1.0" />
<line x1="361.80" y1="296.30" x2="366.20" y2="296.30" stroke="#1d2fc4" stroke-width="1.0" />
<line x1="361.80" y1="307.30" x2="366.20" y2="307.30" stroke="#1d2fc4" stroke-width="1.0" />
<rect x="361.50" y="298.80" width="5.00" height="5.00" fill="#1d2fc4"/>
<line x1="317.20" y1="270.00" x2="317.20" y2="294.80" stroke="#2e2424" stroke-width="1.2" />
<line x1="313.70" y1="270.00" x2="320.70" y2="270.00" stroke="#2e2424" stroke-width="1.2" />
<line x1="313.70" y1="294.80" x2="320.70" y2="294.80" stroke="#2e2424" stroke-width="1.2" />
<text x="320.60" y="290.50" font-size="6.5" text-anchor="start" fill="#666"  style="stroke:none">**</text>
<line x1="345.50" y1="278.50" x2="345.50" y2="307.40" stroke="#2e2424" stroke-width="1.2" />
<line x1="342.00" y1="278.50" x2="349.00" y2="278.50" stroke="#2e2424" stroke-width="1.2" />
<line x1="342.00" y1="307.40" x2="349.00" y2="307.40" stroke="#2e2424" stroke-width="1.2" />
<text x="349.00" y="298.80" font-size="6.5" text-anchor="start" fill="#666"  style="stroke:none">**</text>
<line x1="375.30" y1="308.20" x2="375.30" y2="337.00" stroke="#2e2424" stroke-width="1.2" />
<line x1="371.80" y1="308.20" x2="378.80" y2="308.20" stroke="#2e2424" stroke-width="1.2" />
<line x1="371.80" y1="337.00" x2="378.80" y2="337.00" stroke="#2e2424" stroke-width="1.2" />
<text x="378.20" y="327.80" font-size="6.5" text-anchor="start" fill="#666"  style="stroke:none">**</text>
<line x1="234.90" y1="312.60" x2="246.60" y2="312.60" stroke="#e8242b" stroke-width="1.4" />
<circle cx="240.70" cy="312.60" r="2.50" fill="#e8242b"/>
<text x="251.20" y="315.20" font-size="7.700000000000001" text-anchor="start" fill="#111"  textLength="10.11" lengthAdjust="spacingAndGlyphs">AR</text>
<line x1="234.90" y1="324.90" x2="246.60" y2="324.90" stroke="#1d2fc4" stroke-width="1.4" />
<rect x="238.30" y="322.50" width="4.80" height="4.80" fill="#1d2fc4"/>
<text x="251.20" y="327.50" font-size="7.700000000000001" text-anchor="start" fill="#111"  textLength="30.82" lengthAdjust="spacingAndGlyphs">IL-23+AR</text>
<text x="193.00" y="317.50" font-size="8.03" text-anchor="middle" fill="#111" transform="rotate(-90 193.00 317.50)" dy="2.4" textLength="52.92" lengthAdjust="spacingAndGlyphs">Survival fraction</text>
<text x="286.00" y="387.60" font-size="7.700000000000001" text-anchor="middle" fill="#111"  textLength="59.89" lengthAdjust="spacingAndGlyphs">Radiation dose (Gy)</text>
<text x="392.00" y="239.20" font-size="22" text-anchor="start" fill="#111" >c</text>
<text x="461.30" y="243.20" font-size="7.37" text-anchor="middle" fill="#111" textLength="28.94" lengthAdjust="spacingAndGlyphs">IL-23R<tspan dy="-3.35" font-size="7.00">+</tspan><tspan dy="3.35">T</tspan></text>
<text x="579.60" y="242.50" font-size="7.37" text-anchor="middle" fill="#111" textLength="28.94" lengthAdjust="spacingAndGlyphs">IL-23R<tspan dy="-3.35" font-size="7.00">+</tspan><tspan dy="3.35">E</tspan></text>
<path d="M421.00 322.80H424.50M421.00 319.79H424.50M421.00 316.78H424.50M421.00 313.76H424.50M421.00 310.75H424.50M421.00 307.74H424.50M421.00 304.73H424.50M421.00 301.72H424.50M421.00 298.70H424.50M421.00 295.69H424.50M421.00 292.68H424.50M421.00 289.67H424.50M421.00 286.66H424.50M421.00 283.64H424.50M421.00 280.63H424.50M421.00 277.62H424.50M421.00 274.61H424.50M421.00 271.60H424.50M421.00 268.58H424.50M421.00 265.57H424.50M421.00 262.56H424.50M421.00 259.55H424.50M421.00 256.54H424.50M421.00 253.52H424.50M421.00 250.51H424.50M421.00 247.50H424.50M419.50 322.80H424.50M419.50 307.74H424.50M419.50 292.68H424.50M419.50 277.62H424.50M419.50 262.56H424.50M419.50 247.50H424.50M424.50 322.80V326.00M430.13 322.80V324.60M433.42 322.80V324.60M435.76 322.80V324.60M437.57 322.80V324.60M439.05 322.80V324.60M440.30 322.80V324.60M441.39 322.80V324.60M442.34 322.80V324.60M443.20 322.80V326.00M448.83 322.80V324.60M452.12 322.80V324.60M454.46 322.80V324.60M456.27 322.80V324.60M457.75 322.80V324.60M459.00 322.80V324.60M460.09 322.80V324.60M461.04 322.80V324.60M461.90 322.80V326.00M467.53 322.80V324.60M470.82 322.80V324.60M473.16 322.80V324.60M474.97 322.80V324.60M476.45 322.80V324.60M477.70 322.80V324.60M478.79 322.80V324.60M479.74 322.80V324.60M480.60 322.80V326.00M486.23 322.80V324.60M489.52 322.80V324.60M491.86 322.80V324.60M493.67 322.80V324.60M495.15 322.80V324.60M496.40 322.80V324.60M497.49 322.80V324.60M498.44 322.80V324.60M499.30 322.80V326.00" stroke="#222" stroke-width="0.9" fill="none"/>
<text x="417.50" y="325.10" font-size="7.15" text-anchor="end" fill="#111"  textLength="3.25" lengthAdjust="spacingAndGlyphs">0</text>
<text x="417.50" y="310.04" font-size="7.15" text-anchor="end" fill="#111"  textLength="6.50" lengthAdjust="spacingAndGlyphs">20</text>
<text x="417.50" y="294.98" font-size="7.15" text-anchor="end" fill="#111"  textLength="6.50" lengthAdjust="spacingAndGlyphs">40</text>
<text x="417.50" y="279.92" font-size="7.15" text-anchor="end" fill="#111"  textLength="6.50" lengthAdjust="spacingAndGlyphs">60</text>
<text x="417.50" y="264.86" font-size="7.15" text-anchor="end" fill="#111"  textLength="6.50" lengthAdjust="spacingAndGlyphs">80</text>
<text x="417.50" y="249.80" font-size="7.15" text-anchor="end" fill="#111"  textLength="9.75" lengthAdjust="spacingAndGlyphs">100</text>
<text x="420.50" y="335.40" font-size="7.04" text-anchor="start" fill="#222" textLength="9.12" lengthAdjust="spacingAndGlyphs">10<tspan dy="-3.20" font-size="5.98">0</tspan></text>
<text x="439.20" y="335.40" font-size="7.04" text-anchor="start" fill="#222" textLength="9.12" lengthAdjust="spacingAndGlyphs">10<tspan dy="-3.20" font-size="5.98">1</tspan></text>
<text x="457.90" y="335.40" font-size="7.04" text-anchor="start" fill="#222" textLength="9.12" lengthAdjust="spacingAndGlyphs">10<tspan dy="-3.20" font-size="5.98">2</tspan></text>
<text x="476.60" y="335.40" font-size="7.04" text-anchor="start" fill="#222" textLength="9.12" lengthAdjust="spacingAndGlyphs">10<tspan dy="-3.20" font-size="5.98">3</tspan></text>
<text x="495.30" y="335.40" font-size="7.04" text-anchor="start" fill="#222" textLength="9.12" lengthAdjust="spacingAndGlyphs">10<tspan dy="-3.20" font-size="5.98">4</tspan></text>
<polyline points="424.50,315.11 424.97,313.45 425.44,313.74 425.90,315.40 426.37,316.88 426.84,316.86 427.31,314.88 427.77,311.01 428.24,305.40 428.71,298.24 429.18,289.84 429.64,280.78 430.11,271.93 430.58,264.32 431.05,258.96 431.51,256.60 431.98,256.96 432.45,258.67 432.92,261.58 433.38,265.52 433.85,270.28 434.32,275.61 434.79,281.24 435.25,286.93 435.72,292.46 436.19,297.65 436.66,302.37 437.12,306.54 437.59,310.11 438.06,313.10 438.52,315.53 438.99,317.46 439.46,318.96 439.93,320.09 440.39,320.93 440.86,321.53 441.33,321.96 441.80,322.25 442.26,322.45 442.73,322.58 443.20,322.67 443.67,322.72 444.13,322.75 444.60,322.77 445.07,322.78 445.54,322.79 446.00,322.80 446.47,322.80 446.94,322.80 447.41,322.80 447.88,322.80 448.34,322.80 448.81,322.80 449.28,322.80 449.75,322.80 450.21,322.80 450.68,322.80 451.15,322.80 451.62,322.80 452.08,322.80 452.55,322.80 453.02,322.80 453.49,322.80 453.95,322.80 454.42,322.80 454.89,322.80 455.36,322.80 455.82,322.80 456.29,322.80 456.76,322.80 457.23,322.80 457.69,322.80 458.16,322.80 458.63,322.80 459.10,322.80 459.56,322.80 460.03,322.80 460.50,322.80 460.97,322.80 461.43,322.80 461.90,322.80 462.37,322.80 462.84,322.80 463.30,322.80 463.77,322.80 464.24,322.80 464.70,322.80 465.17,322.80 465.64,322.80 466.11,322.80 466.57,322.80 467.04,322.80 467.51,322.80 467.98,322.80 468.44,322.80 468.91,322.80 469.38,322.80 469.85,322.80 470.31,322.80 470.78,322.80 471.25,322.80 471.72,322.80 472.19,322.80 472.65,322.80 473.12,322.80 473.59,322.80 474.06,322.80 474.52,322.80 474.99,322.80 475.46,322.80 475.93,322.80 476.39,322.80 476.86,322.80 477.33,322.80 477.80,322.80 478.26,322.80 478.73,322.80 479.20,322.80 479.67,322.80 480.13,322.80 480.60,322.80 481.07,322.80 481.54,322.80 482.00,322.80 482.47,322.80 482.94,322.80 483.41,322.80 483.87,322.80 484.34,322.80 484.81,322.80 485.27,322.80 485.74,322.80 486.21,322.80 486.68,322.80 487.14,322.80 487.61,322.80 488.08,322.80 488.55,322.80 489.01,322.80 489.48,322.80 489.95,322.80 490.42,322.80 490.88,322.80 491.35,322.80 491.82,322.80 492.29,322.80 492.75,322.80 493.22,322.80 493.69,322.80 494.16,322.80 494.62,322.80 495.09,322.80 495.56,322.80 496.03,322.80 496.50,322.80 496.96,322.80 497.43,322.80 497.90,322.80 498.37,322.80 498.83,322.80 499.30,322.80" fill="none" stroke="#ff20ff" stroke-width="1.5" clip-path="url(#hc424)"/>
<polyline points="424.50,311.13 424.97,311.41 425.44,312.22 425.90,313.42 426.37,314.82 426.84,316.21 427.31,317.37 427.77,318.12 428.24,318.26 428.71,317.61 429.18,315.95 429.64,313.03 430.11,308.64 430.58,302.67 431.05,295.18 431.51,286.51 431.98,277.33 432.45,268.55 432.92,261.23 433.38,256.36 433.85,254.65 434.32,255.42 434.79,257.66 435.25,261.23 435.72,265.90 436.19,271.37 436.66,277.34 437.12,283.48 437.59,289.52 438.06,295.22 438.52,300.40 438.99,304.96 439.46,308.84 439.93,312.04 440.39,314.61 440.86,316.61 441.33,318.12 441.80,319.24 442.26,320.04 442.73,320.61 443.20,320.99 443.67,321.25 444.13,321.41 444.60,321.52 445.07,321.58 445.54,321.62 446.00,321.64 446.47,321.65 446.94,321.66 447.41,321.67 447.88,321.67 448.34,321.67 448.81,321.67 449.28,321.67 449.75,321.67 450.21,321.67 450.68,321.67 451.15,321.67 451.62,321.67 452.08,321.67 452.55,321.67 453.02,321.67 453.49,321.67 453.95,321.67 454.42,321.67 454.89,321.67 455.36,321.67 455.82,321.67 456.29,321.67 456.76,321.67 457.23,321.67 457.69,321.67 458.16,321.67 458.63,321.67 459.10,321.67 459.56,321.67 460.03,321.67 460.50,321.67 460.97,321.67 461.43,321.67 461.90,321.67 462.37,321.67 462.84,321.67 463.30,321.67 463.77,321.67 464.24,321.67 464.70,321.67 465.17,321.67 465.64,321.67 466.11,321.67 466.57,321.67 467.04,321.67 467.51,321.67 467.98,321.67 468.44,321.67 468.91,321.67 469.38,321.67 469.85,321.67 470.31,321.67 470.78,321.67 471.25,321.67 471.72,321.67 472.19,321.67 472.65,321.67 473.12,321.67 473.59,321.67 474.06,321.67 474.52,321.67 474.99,321.67 475.46,321.67 475.93,321.67 476.39,321.67 476.86,321.67 477.33,321.67 477.80,321.67 478.26,321.67 478.73,321.67 479.20,321.67 479.67,321.67 480.13,321.67 480.60,321.67 481.07,321.67 481.54,321.67 482.00,321.67 482.47,321.67 482.94,321.67 483.41,321.67 483.87,321.67 484.34,321.67 484.81,321.67 485.27,321.67 485.74,321.67 486.21,321.67 486.68,321.67 487.14,321.67 487.61,321.67 488.08,321.67 488.55,321.67 489.01,321.67 489.48,321.67 489.95,321.67 490.42,321.67 490.88,321.67 491.35,321.67 491.82,321.67 492.29,321.67 492.75,321.67 493.22,321.67 493.69,321.67 494.16,321.67 494.62,321.67 495.09,321.67 495.56,321.67 496.03,321.67 496.50,321.67 496.96,321.67 497.43,321.67 497.90,321.67 498.37,321.67 498.83,321.67 499.30,321.67" fill="none" stroke="#0818ff" stroke-width="1.5" clip-path="url(#hc424)"/>
<polyline points="424.50,322.80 424.97,322.80 425.44,322.80 425.90,322.80 426.37,322.80 426.84,322.80 427.31,322.80 427.77,322.80 428.24,322.80 428.71,322.80 429.18,322.80 429.64,322.80 430.11,322.80 430.58,322.80 431.05,322.80 431.51,322.80 431.98,322.80 432.45,322.80 432.92,322.80 433.38,322.80 433.85,322.80 434.32,322.80 434.79,322.80 435.25,322.80 435.72,322.80 436.19,322.80 436.66,322.80 437.12,322.80 437.59,322.80 438.06,322.80 438.52,322.80 438.99,322.80 439.46,322.80 439.93,322.80 440.39,322.80 440.86,322.80 441.33,322.80 441.80,322.80 442.26,322.80 442.73,322.80 443.20,322.80 443.67,322.80 444.13,322.80 444.60,322.80 445.07,322.80 445.54,322.80 446.00,322.80 446.47,322.80 446.94,322.80 447.41,322.80 447.88,322.80 448.34,322.80 448.81,322.80 449.28,322.80 449.75,322.80 450.21,322.80 450.68,322.80 451.15,322.80 451.62,322.80 452.08,322.80 452.55,322.80 453.02,322.80 453.49,322.80 453.95,322.80 454.42,322.80 454.89,322.80 455.36,322.80 455.82,322.80 456.29,322.80 456.76,322.80 457.23,322.80 457.69,322.80 458.16,322.80 458.63,322.80 459.10,322.80 459.56,322.80 460.03,322.80 460.50,322.80 460.97,322.80 461.43,322.80 461.90,322.80 462.37,322.80 462.84,322.80 463.30,322.80 463.77,322.80 464.24,322.80 464.70,322.80 465.17,322.80 465.64,322.80 466.11,322.80 466.57,322.80 467.04,322.80 467.51,322.80 467.98,322.79 468.44,322.77 468.91,322.71 469.38,322.59 469.85,322.33 470.31,321.79 470.78,320.78 471.25,319.00 471.72,316.08 472.19,311.65 472.65,305.43 473.12,297.37 473.59,287.82 474.06,277.60 474.52,267.94 474.99,260.24 475.46,255.79 475.93,255.37 476.39,259.06 476.86,266.19 477.33,275.58 477.80,285.79 478.26,295.56 478.73,303.96 479.20,310.56 479.67,315.33 480.13,318.52 480.60,320.49 481.07,321.63 481.54,322.25 482.00,322.55 482.47,322.70 482.94,322.76 483.41,322.78 483.87,322.79 484.34,322.80 484.81,322.80 485.27,322.80 485.74,322.80 486.21,322.80 486.68,322.80 487.14,322.80 487.61,322.80 488.08,322.80 488.55,322.80 489.01,322.80 489.48,322.80 489.95,322.80 490.42,322.80 490.88,322.80 491.35,322.80 491.82,322.80 492.29,322.80 492.75,322.80 493.22,322.80 493.69,322.80 494.16,322.80 494.62,322.80 495.09,322.80 495.56,322.80 496.03,322.80 496.50,322.80 496.96,322.80 497.43,322.80 497.90,322.80 498.37,322.80 498.83,322.80 499.30,322.80" fill="none" stroke="#f01010" stroke-width="1.5" clip-path="url(#hc424)"/>
<polyline points="424.50,322.80 424.97,322.80 425.44,322.80 425.90,322.80 426.37,322.80 426.84,322.80 427.31,322.80 427.77,322.80 428.24,322.80 428.71,322.80 429.18,322.80 429.64,322.80 430.11,322.80 430.58,322.80 431.05,322.80 431.51,322.80 431.98,322.80 432.45,322.80 432.92,322.80 433.38,322.80 433.85,322.80 434.32,322.80 434.79,322.80 435.25,322.80 435.72,322.80 436.19,322.80 436.66,322.80 437.12,322.80 437.59,322.80 438.06,322.80 438.52,322.80 438.99,322.80 439.46,322.80 439.93,322.80 440.39,322.80 440.86,322.80 441.33,322.80 441.80,322.80 442.26,322.80 442.73,322.80 443.20,322.80 443.67,322.80 444.13,322.80 444.60,322.80 445.07,322.80 445.54,322.80 446.00,322.80 446.47,322.80 446.94,322.80 447.41,322.80 447.88,322.80 448.34,322.80 448.81,322.80 449.28,322.80 449.75,322.80 450.21,322.80 450.68,322.80 451.15,322.80 451.62,322.80 452.08,322.80 452.55,322.80 453.02,322.80 453.49,322.80 453.95,322.80 454.42,322.80 454.89,322.80 455.36,322.80 455.82,322.80 456.29,322.80 456.76,322.80 457.23,322.80 457.69,322.80 458.16,322.80 458.63,322.80 459.10,322.80 459.56,322.80 460.03,322.80 460.50,322.80 460.97,322.80 461.43,322.80 461.90,322.80 462.37,322.80 462.84,322.80 463.30,322.80 463.77,322.80 464.24,322.80 464.70,322.80 465.17,322.80 465.64,322.80 466.11,322.80 466.57,322.80 467.04,322.80 467.51,322.79 467.98,322.77 468.44,322.73 468.91,322.65 469.38,322.48 469.85,322.14 470.31,321.52 470.78,320.44 471.25,318.65 471.72,315.88 472.19,311.84 472.65,306.32 473.12,299.27 473.59,290.89 474.06,281.70 474.52,272.52 474.99,264.40 475.46,258.38 475.93,255.31 476.39,255.66 476.86,259.37 477.33,265.89 477.80,274.31 478.26,283.56 478.73,292.65 479.20,300.80 479.67,307.55 480.13,312.77 480.60,316.53 481.07,319.08 481.54,320.70 482.00,321.68 482.47,322.23 482.94,322.52 483.41,322.67 483.87,322.75 484.34,322.78 484.81,322.79 485.27,322.80 485.74,322.80 486.21,322.80 486.68,322.80 487.14,322.80 487.61,322.80 488.08,322.80 488.55,322.80 489.01,322.80 489.48,322.80 489.95,322.80 490.42,322.80 490.88,322.80 491.35,322.80 491.82,322.80 492.29,322.80 492.75,322.80 493.22,322.80 493.69,322.80 494.16,322.80 494.62,322.80 495.09,322.80 495.56,322.80 496.03,322.80 496.50,322.80 496.96,322.80 497.43,322.80 497.90,322.80 498.37,322.80 498.83,322.80 499.30,322.80" fill="none" stroke="#00e000" stroke-width="1.5" clip-path="url(#hc424)"/>
<clipPath id="hc424"><rect x="424.5" y="247.5" width="74.80000000000001" height="75.00000000000001"/></clipPath>
<rect x="424.50" y="247.50" width="74.80" height="75.30" fill="none" stroke="#111" stroke-width="1.5" />
<path d="M537.90 322.10H541.40M537.90 319.12H541.40M537.90 316.14H541.40M537.90 313.16H541.40M537.90 310.18H541.40M537.90 307.20H541.40M537.90 304.22H541.40M537.90 301.24H541.40M537.90 298.26H541.40M537.90 295.28H541.40M537.90 292.30H541.40M537.90 289.32H541.40M537.90 286.34H541.40M537.90 283.36H541.40M537.90 280.38H541.40M537.90 277.40H541.40M537.90 274.42H541.40M537.90 271.44H541.40M537.90 268.46H541.40M537.90 265.48H541.40M537.90 262.50H541.40M537.90 259.52H541.40M537.90 256.54H541.40M537.90 253.56H541.40M537.90 250.58H541.40M537.90 247.60H541.40M536.40 322.10H541.40M536.40 307.20H541.40M536.40 292.30H541.40M536.40 277.40H541.40M536.40 262.50H541.40M536.40 247.60H541.40M541.40 322.10V325.30M547.02 322.10V323.90M550.31 322.10V323.90M552.64 322.10V323.90M554.45 322.10V323.90M555.93 322.10V323.90M557.18 322.10V323.90M558.27 322.10V323.90M559.22 322.10V323.90M560.08 322.10V325.30M565.70 322.10V323.90M568.99 322.10V323.90M571.32 322.10V323.90M573.13 322.10V323.90M574.61 322.10V323.90M575.86 322.10V323.90M576.94 322.10V323.90M577.90 322.10V323.90M578.75 322.10V325.30M584.37 322.10V323.90M587.66 322.10V323.90M589.99 322.10V323.90M591.80 322.10V323.90M593.28 322.10V323.90M594.53 322.10V323.90M595.62 322.10V323.90M596.57 322.10V323.90M597.42 322.10V325.30M603.05 322.10V323.90M606.34 322.10V323.90M608.67 322.10V323.90M610.48 322.10V323.90M611.96 322.10V323.90M613.21 322.10V323.90M614.29 322.10V323.90M615.25 322.10V323.90M616.10 322.10V325.30" stroke="#222" stroke-width="0.9" fill="none"/>
<text x="534.40" y="324.40" font-size="7.15" text-anchor="end" fill="#111"  textLength="3.25" lengthAdjust="spacingAndGlyphs">0</text>
<text x="534.40" y="309.50" font-size="7.15" text-anchor="end" fill="#111"  textLength="6.50" lengthAdjust="spacingAndGlyphs">20</text>
<text x="534.40" y="294.60" font-size="7.15" text-anchor="end" fill="#111"  textLength="6.50" lengthAdjust="spacingAndGlyphs">40</text>
<text x="534.40" y="279.70" font-size="7.15" text-anchor="end" fill="#111"  textLength="6.50" lengthAdjust="spacingAndGlyphs">60</text>
<text x="534.40" y="264.80" font-size="7.15" text-anchor="end" fill="#111"  textLength="6.50" lengthAdjust="spacingAndGlyphs">80</text>
<text x="534.40" y="249.90" font-size="7.15" text-anchor="end" fill="#111"  textLength="9.75" lengthAdjust="spacingAndGlyphs">100</text>
<text x="537.40" y="334.70" font-size="7.04" text-anchor="start" fill="#222" textLength="9.12" lengthAdjust="spacingAndGlyphs">10<tspan dy="-3.20" font-size="5.98">0</tspan></text>
<text x="556.08" y="334.70" font-size="7.04" text-anchor="start" fill="#222" textLength="9.12" lengthAdjust="spacingAndGlyphs">10<tspan dy="-3.20" font-size="5.98">1</tspan></text>
<text x="574.75" y="334.70" font-size="7.04" text-anchor="start" fill="#222" textLength="9.12" lengthAdjust="spacingAndGlyphs">10<tspan dy="-3.20" font-size="5.98">2</tspan></text>
<text x="593.42" y="334.70" font-size="7.04" text-anchor="start" fill="#222" textLength="9.12" lengthAdjust="spacingAndGlyphs">10<tspan dy="-3.20" font-size="5.98">3</tspan></text>
<text x="612.10" y="334.70" font-size="7.04" text-anchor="start" fill="#222" textLength="9.12" lengthAdjust="spacingAndGlyphs">10<tspan dy="-3.20" font-size="5.98">4</tspan></text>
<polyline points="541.40,311.46 541.87,310.68 542.33,311.83 542.80,314.08 543.27,316.12 543.73,316.91 544.20,316.09 544.67,313.68 545.13,309.82 545.60,304.58 546.07,298.06 546.54,290.51 547.00,282.34 547.47,274.18 547.94,266.80 548.40,260.99 548.87,257.44 549.34,256.59 549.80,258.21 550.27,261.99 550.74,267.54 551.20,274.32 551.67,281.73 552.14,289.20 552.61,296.23 553.07,302.47 553.54,307.73 554.01,311.95 554.47,315.19 554.94,317.56 555.41,319.22 555.87,320.34 556.34,321.06 556.81,321.51 557.27,321.77 557.74,321.93 558.21,322.01 558.67,322.06 559.14,322.08 559.61,322.09 560.08,322.10 560.54,322.10 561.01,322.10 561.48,322.10 561.94,322.10 562.41,322.10 562.88,322.10 563.34,322.10 563.81,322.10 564.28,322.10 564.74,322.10 565.21,322.10 565.68,322.10 566.14,322.10 566.61,322.10 567.08,322.10 567.54,322.10 568.01,322.10 568.48,322.10 568.95,322.10 569.41,322.10 569.88,322.10 570.35,322.10 570.81,322.10 571.28,322.10 571.75,322.10 572.21,322.10 572.68,322.10 573.15,322.10 573.61,322.10 574.08,322.10 574.55,322.10 575.01,322.10 575.48,322.10 575.95,322.10 576.42,322.10 576.88,322.10 577.35,322.10 577.82,322.10 578.28,322.10 578.75,322.10 579.22,322.10 579.68,322.10 580.15,322.10 580.62,322.10 581.08,322.10 581.55,322.10 582.02,322.10 582.49,322.10 582.95,322.10 583.42,322.10 583.89,322.10 584.35,322.10 584.82,322.10 585.29,322.10 585.75,322.10 586.22,322.10 586.69,322.10 587.15,322.10 587.62,322.10 588.09,322.10 588.55,322.10 589.02,322.10 589.49,322.10 589.96,322.10 590.42,322.10 590.89,322.10 591.36,322.10 591.82,322.10 592.29,322.10 592.76,322.10 593.22,322.10 593.69,322.10 594.16,322.10 594.62,322.10 595.09,322.10 595.56,322.10 596.02,322.10 596.49,322.10 596.96,322.10 597.42,322.10 597.89,322.10 598.36,322.10 598.83,322.10 599.29,322.10 599.76,322.10 600.23,322.10 600.69,322.10 601.16,322.10 601.63,322.10 602.09,322.10 602.56,322.10 603.03,322.10 603.49,322.10 603.96,322.10 604.43,322.10 604.89,322.10 605.36,322.10 605.83,322.10 606.30,322.10 606.76,322.10 607.23,322.10 607.70,322.10 608.16,322.10 608.63,322.10 609.10,322.10 609.56,322.10 610.03,322.10 610.50,322.10 610.96,322.10 611.43,322.10 611.90,322.10 612.37,322.10 612.83,322.10 613.30,322.10 613.77,322.10 614.23,322.10 614.70,322.10 615.17,322.10 615.63,322.10 616.10,322.10" fill="none" stroke="#ff20ff" stroke-width="1.5" clip-path="url(#hc541)"/>
<polyline points="541.40,320.96 541.87,320.93 542.33,320.87 542.80,320.75 543.27,320.52 543.73,320.11 544.20,319.40 544.67,318.23 545.13,316.42 545.60,313.72 546.07,309.92 546.54,304.84 547.00,298.43 547.47,290.82 547.94,282.35 548.40,273.59 548.87,265.32 549.34,258.36 549.80,253.52 550.27,251.36 550.74,251.57 551.20,252.95 551.67,255.39 552.14,258.76 552.61,262.89 553.07,267.60 553.54,272.68 554.01,277.92 554.47,283.13 554.94,288.17 555.41,292.89 555.87,297.20 556.34,301.04 556.81,304.39 557.27,307.26 557.74,309.68 558.21,311.67 558.67,313.30 559.14,314.62 559.61,315.69 560.08,316.55 560.54,317.24 561.01,317.82 561.48,318.29 561.94,318.69 562.41,319.04 562.88,319.34 563.34,319.60 563.81,319.82 564.28,320.02 564.74,320.20 565.21,320.34 565.68,320.47 566.14,320.58 566.61,320.67 567.08,320.74 567.54,320.80 568.01,320.84 568.48,320.88 568.95,320.91 569.41,320.93 569.88,320.94 570.35,320.96 570.81,320.96 571.28,320.97 571.75,320.97 572.21,320.98 572.68,320.98 573.15,320.98 573.61,320.98 574.08,320.98 574.55,320.98 575.01,320.98 575.48,320.98 575.95,320.98 576.42,320.98 576.88,320.98 577.35,320.98 577.82,320.98 578.28,320.98 578.75,320.98 579.22,320.98 579.68,320.98 580.15,320.98 580.62,320.98 581.08,320.98 581.55,320.98 582.02,320.98 582.49,320.98 582.95,320.98 583.42,320.98 583.89,320.98 584.35,320.98 584.82,320.98 585.29,320.98 585.75,320.98 586.22,320.98 586.69,320.98 587.15,320.98 587.62,320.98 588.09,320.98 588.55,320.98 589.02,320.98 589.49,320.98 589.96,320.98 590.42,320.98 590.89,320.98 591.36,320.98 591.82,320.98 592.29,320.98 592.76,320.98 593.22,320.98 593.69,320.98 594.16,320.98 594.62,320.98 595.09,320.98 595.56,320.98 596.02,320.98 596.49,320.98 596.96,320.98 597.42,320.98 597.89,320.98 598.36,320.98 598.83,320.98 599.29,320.98 599.76,320.98 600.23,320.98 600.69,320.98 601.16,320.98 601.63,320.98 602.09,320.98 602.56,320.98 603.03,320.98 603.49,320.98 603.96,320.98 604.43,320.98 604.89,320.98 605.36,320.98 605.83,320.98 606.30,320.98 606.76,320.98 607.23,320.98 607.70,320.98 608.16,320.98 608.63,320.98 609.10,320.98 609.56,320.98 610.03,320.98 610.50,320.98 610.96,320.98 611.43,320.98 611.90,320.98 612.37,320.98 612.83,320.98 613.30,320.98 613.77,320.98 614.23,320.98 614.70,320.98 615.17,320.98 615.63,320.98 616.10,320.98" fill="none" stroke="#0818ff" stroke-width="1.5" clip-path="url(#hc541)"/>
<polyline points="541.40,322.10 541.87,322.10 542.33,322.10 542.80,322.10 543.27,322.10 543.73,322.10 544.20,322.10 544.67,322.10 545.13,322.10 545.60,322.10 546.07,322.10 546.54,322.10 547.00,322.10 547.47,322.10 547.94,322.10 548.40,322.10 548.87,322.10 549.34,322.10 549.80,322.10 550.27,322.10 550.74,322.10 551.20,322.10 551.67,322.10 552.14,322.10 552.61,322.10 553.07,322.10 553.54,322.10 554.01,322.10 554.47,322.10 554.94,322.10 555.41,322.10 555.87,322.10 556.34,322.10 556.81,322.10 557.27,322.10 557.74,322.10 558.21,322.10 558.67,322.10 559.14,322.10 559.61,322.10 560.08,322.10 560.54,322.10 561.01,322.10 561.48,322.10 561.94,322.10 562.41,322.10 562.88,322.10 563.34,322.10 563.81,322.10 564.28,322.10 564.74,322.10 565.21,322.10 565.68,322.10 566.14,322.10 566.61,322.10 567.08,322.10 567.54,322.10 568.01,322.10 568.48,322.10 568.95,322.10 569.41,322.10 569.88,322.10 570.35,322.10 570.81,322.10 571.28,322.10 571.75,322.10 572.21,322.10 572.68,322.10 573.15,322.10 573.61,322.10 574.08,322.10 574.55,322.10 575.01,322.10 575.48,322.10 575.95,322.10 576.42,322.10 576.88,322.10 577.35,322.10 577.82,322.10 578.28,322.10 578.75,322.10 579.22,322.10 579.68,322.10 580.15,322.10 580.62,322.10 581.08,322.10 581.55,322.10 582.02,322.10 582.49,322.10 582.95,322.10 583.42,322.10 583.89,322.10 584.35,322.10 584.82,322.10 585.29,322.10 585.75,322.09 586.22,322.08 586.69,322.04 587.15,321.95 587.62,321.76 588.09,321.35 588.55,320.55 589.02,319.12 589.49,316.71 589.96,312.92 590.42,307.44 590.89,300.09 591.36,291.06 591.82,280.98 592.29,270.93 592.76,262.27 593.22,256.39 593.69,254.31 594.16,256.39 594.62,262.27 595.09,270.93 595.56,280.98 596.02,291.06 596.49,300.09 596.96,307.44 597.42,312.92 597.89,316.71 598.36,319.12 598.83,320.55 599.29,321.35 599.76,321.76 600.23,321.95 600.69,322.04 601.16,322.08 601.63,322.09 602.09,322.10 602.56,322.10 603.03,322.10 603.49,322.10 603.96,322.10 604.43,322.10 604.89,322.10 605.36,322.10 605.83,322.10 606.30,322.10 606.76,322.10 607.23,322.10 607.70,322.10 608.16,322.10 608.63,322.10 609.10,322.10 609.56,322.10 610.03,322.10 610.50,322.10 610.96,322.10 611.43,322.10 611.90,322.10 612.37,322.10 612.83,322.10 613.30,322.10 613.77,322.10 614.23,322.10 614.70,322.10 615.17,322.10 615.63,322.10 616.10,322.10" fill="none" stroke="#00e000" stroke-width="1.5" clip-path="url(#hc541)"/>
<polyline points="541.40,322.10 541.87,322.10 542.33,322.10 542.80,322.10 543.27,322.10 543.73,322.10 544.20,322.10 544.67,322.10 545.13,322.10 545.60,322.10 546.07,322.10 546.54,322.10 547.00,322.10 547.47,322.10 547.94,322.10 548.40,322.10 548.87,322.10 549.34,322.10 549.80,322.10 550.27,322.10 550.74,322.10 551.20,322.10 551.67,322.10 552.14,322.10 552.61,322.10 553.07,322.10 553.54,322.10 554.01,322.10 554.47,322.10 554.94,322.10 555.41,322.10 555.87,322.10 556.34,322.10 556.81,322.10 557.27,322.10 557.74,322.10 558.21,322.10 558.67,322.10 559.14,322.10 559.61,322.10 560.08,322.10 560.54,322.10 561.01,322.10 561.48,322.10 561.94,322.10 562.41,322.10 562.88,322.10 563.34,322.10 563.81,322.10 564.28,322.10 564.74,322.10 565.21,322.10 565.68,322.10 566.14,322.10 566.61,322.10 567.08,322.10 567.54,322.10 568.01,322.10 568.48,322.10 568.95,322.10 569.41,322.10 569.88,322.10 570.35,322.10 570.81,322.10 571.28,322.10 571.75,322.10 572.21,322.10 572.68,322.10 573.15,322.10 573.61,322.10 574.08,322.10 574.55,322.10 575.01,322.10 575.48,322.10 575.95,322.10 576.42,322.10 576.88,322.10 577.35,322.10 577.82,322.10 578.28,322.10 578.75,322.10 579.22,322.10 579.68,322.10 580.15,322.10 580.62,322.10 581.08,322.10 581.55,322.10 582.02,322.10 582.49,322.10 582.95,322.10 583.42,322.10 583.89,322.10 584.35,322.09 584.82,322.08 585.29,322.05 585.75,321.98 586.22,321.81 586.69,321.45 587.15,320.75 587.62,319.47 588.09,317.29 588.55,313.81 589.02,308.68 589.49,301.71 589.96,292.98 590.42,283.03 590.89,272.87 591.36,263.82 591.82,257.29 592.29,254.39 592.76,255.65 593.22,260.83 593.69,269.04 594.16,278.93 594.62,289.10 595.09,298.41 595.56,306.12 596.02,311.97 596.49,316.07 596.96,318.73 597.42,320.33 597.89,321.23 598.36,321.69 598.83,321.92 599.29,322.03 599.76,322.07 600.23,322.09 600.69,322.10 601.16,322.10 601.63,322.10 602.09,322.10 602.56,322.10 603.03,322.10 603.49,322.10 603.96,322.10 604.43,322.10 604.89,322.10 605.36,322.10 605.83,322.10 606.30,322.10 606.76,322.10 607.23,322.10 607.70,322.10 608.16,322.10 608.63,322.10 609.10,322.10 609.56,322.10 610.03,322.10 610.50,322.10 610.96,322.10 611.43,322.10 611.90,322.10 612.37,322.10 612.83,322.10 613.30,322.10 613.77,322.10 614.23,322.10 614.70,322.10 615.17,322.10 615.63,322.10 616.10,322.10" fill="none" stroke="#f01010" stroke-width="1.5" clip-path="url(#hc541)"/>
<clipPath id="hc541"><rect x="541.4" y="247.6" width="74.70000000000005" height="74.20000000000003"/></clipPath>
<rect x="541.40" y="247.60" width="74.70" height="74.50" fill="none" stroke="#111" stroke-width="1.5" />
<text x="405.80" y="286.00" font-size="7.70" text-anchor="middle" fill="#111" transform="rotate(-90 405.80 286.00)" dy="2.4" textLength="18.67" lengthAdjust="spacingAndGlyphs">Count</text>
<text x="524.50" y="285.50" font-size="7.70" text-anchor="middle" fill="#111" transform="rotate(-90 524.50 285.50)" dy="2.4" textLength="18.67" lengthAdjust="spacingAndGlyphs">Count</text>
<text x="459.00" y="347.20" font-size="7.700000000000001" text-anchor="middle" fill="#111"  textLength="19.83" lengthAdjust="spacingAndGlyphs">DCFH</text>
<text x="576.40" y="347.60" font-size="7.700000000000001" text-anchor="middle" fill="#111"  textLength="19.83" lengthAdjust="spacingAndGlyphs">DCFH</text>
<line x1="632.50" y1="240.30" x2="648.40" y2="240.30" stroke="#0818ff" stroke-width="1.6" />
<text x="653.00" y="242.70" font-size="7.700000000000001" text-anchor="start" fill="#111"  textLength="23.20" lengthAdjust="spacingAndGlyphs">Control</text>
<line x1="632.50" y1="249.90" x2="648.40" y2="249.90" stroke="#ff20ff" stroke-width="1.6" />
<text x="653.00" y="252.30" font-size="7.700000000000001" text-anchor="start" fill="#111"  textLength="16.72" lengthAdjust="spacingAndGlyphs">IL-23</text>
<line x1="632.50" y1="260.20" x2="648.40" y2="260.20" stroke="#00e000" stroke-width="1.6" />
<text x="653.00" y="262.60" font-size="7.700000000000001" text-anchor="start" fill="#111"  textLength="10.11" lengthAdjust="spacingAndGlyphs">AR</text>
<line x1="632.50" y1="271.00" x2="648.40" y2="271.00" stroke="#f01010" stroke-width="1.6" />
<text x="653.00" y="273.40" font-size="7.700000000000001" text-anchor="start" fill="#111"  textLength="30.82" lengthAdjust="spacingAndGlyphs">IL-23+AR</text>
<line x1="424.60" y1="357.30" x2="424.60" y2="397.90" stroke="#000" stroke-width="1.5" />
<line x1="424.00" y1="397.30" x2="498.70" y2="397.30" stroke="#000" stroke-width="1.5" />
<line x1="421.60" y1="397.30" x2="424.60" y2="397.30" stroke="#000" stroke-width="1.1" />
<text x="421.00" y="399.60" font-size="7.040000000000001" text-anchor="end" fill="#111"  textLength="3.20" lengthAdjust="spacingAndGlyphs">0</text>
<line x1="421.60" y1="383.97" x2="424.60" y2="383.97" stroke="#000" stroke-width="1.1" />
<text x="421.00" y="386.27" font-size="7.040000000000001" text-anchor="end" fill="#111"  textLength="9.60" lengthAdjust="spacingAndGlyphs">200</text>
<line x1="421.60" y1="370.63" x2="424.60" y2="370.63" stroke="#000" stroke-width="1.1" />
<text x="421.00" y="372.93" font-size="7.040000000000001" text-anchor="end" fill="#111"  textLength="9.60" lengthAdjust="spacingAndGlyphs">400</text>
<line x1="421.60" y1="357.30" x2="424.60" y2="357.30" stroke="#000" stroke-width="1.1" />
<text x="421.00" y="359.60" font-size="7.040000000000001" text-anchor="end" fill="#111"  textLength="9.60" lengthAdjust="spacingAndGlyphs">600</text>
<line x1="437.30" y1="397.30" x2="437.30" y2="400.30" stroke="#000" stroke-width="1.1" />
<text x="437.30" y="406.30" font-size="7.26" text-anchor="middle" fill="#111"  textLength="3.30" lengthAdjust="spacingAndGlyphs">0</text>
<line x1="464.40" y1="397.30" x2="464.40" y2="400.30" stroke="#000" stroke-width="1.1" />
<text x="464.40" y="406.30" font-size="7.26" text-anchor="middle" fill="#111"  textLength="3.30" lengthAdjust="spacingAndGlyphs">1</text>
<line x1="491.30" y1="397.30" x2="491.30" y2="400.30" stroke="#000" stroke-width="1.1" />
<text x="491.30" y="406.30" font-size="7.26" text-anchor="middle" fill="#111"  textLength="3.30" lengthAdjust="spacingAndGlyphs">6</text>
<text x="500.90" y="406.30" font-size="7.26" text-anchor="start" fill="#111"  textLength="8.07" lengthAdjust="spacingAndGlyphs">(h)</text>
<polyline points="437.30,379.30 464.40,359.63 491.30,374.30" fill="none" stroke="#00ee00" stroke-width="1.4"/>
<line x1="437.30" y1="376.80" x2="437.30" y2="381.80" stroke="#00ee00" stroke-width="1.1" />
<line x1="435.00" y1="376.80" x2="439.60" y2="376.80" stroke="#00ee00" stroke-width="1.1" />
<line x1="435.00" y1="381.80" x2="439.60" y2="381.80" stroke="#00ee00" stroke-width="1.1" />
<rect x="435.00" y="377.00" width="4.60" height="4.60" fill="#00ee00"/>
<line x1="464.40" y1="357.13" x2="464.40" y2="362.13" stroke="#00ee00" stroke-width="1.1" />
<line x1="462.10" y1="357.13" x2="466.70" y2="357.13" stroke="#00ee00" stroke-width="1.1" />
<line x1="462.10" y1="362.13" x2="466.70" y2="362.13" stroke="#00ee00" stroke-width="1.1" />
<rect x="462.10" y="357.33" width="4.60" height="4.60" fill="#00ee00"/>
<line x1="491.30" y1="371.80" x2="491.30" y2="376.80" stroke="#00ee00" stroke-width="1.1" />
<line x1="489.00" y1="371.80" x2="493.60" y2="371.80" stroke="#00ee00" stroke-width="1.1" />
<line x1="489.00" y1="376.80" x2="493.60" y2="376.80" stroke="#00ee00" stroke-width="1.1" />
<rect x="489.00" y="372.00" width="4.60" height="4.60" fill="#00ee00"/>
<polyline points="437.30,377.30 464.40,363.30 491.30,371.97" fill="none" stroke="#ff1010" stroke-width="1.4"/>
<line x1="437.30" y1="375.30" x2="437.30" y2="379.30" stroke="#ff1010" stroke-width="1.1" />
<line x1="435.00" y1="375.30" x2="439.60" y2="375.30" stroke="#ff1010" stroke-width="1.1" />
<line x1="435.00" y1="379.30" x2="439.60" y2="379.30" stroke="#ff1010" stroke-width="1.1" />
<path d="M434.77 375.23H439.83L437.30 379.83Z" fill="#ff1010"/>
<line x1="464.40" y1="361.30" x2="464.40" y2="365.30" stroke="#ff1010" stroke-width="1.1" />
<line x1="462.10" y1="361.30" x2="466.70" y2="361.30" stroke="#ff1010" stroke-width="1.1" />
<line x1="462.10" y1="365.30" x2="466.70" y2="365.30" stroke="#ff1010" stroke-width="1.1" />
<path d="M461.87 361.23H466.93L464.40 365.83Z" fill="#ff1010"/>
<line x1="491.30" y1="369.97" x2="491.30" y2="373.97" stroke="#ff1010" stroke-width="1.1" />
<line x1="489.00" y1="369.97" x2="493.60" y2="369.97" stroke="#ff1010" stroke-width="1.1" />
<line x1="489.00" y1="373.97" x2="493.60" y2="373.97" stroke="#ff1010" stroke-width="1.1" />
<path d="M488.77 369.90H493.83L491.30 374.50Z" fill="#ff1010"/>
<text x="405.60" y="377.30" font-size="7.48" text-anchor="middle" fill="#111" transform="rotate(-90 405.60 377.30)" dy="2.4" textLength="28.90" lengthAdjust="spacingAndGlyphs">ROS level</text>
<line x1="541.90" y1="356.50" x2="541.90" y2="396.70" stroke="#000" stroke-width="1.5" />
<line x1="541.30" y1="396.10" x2="616.00" y2="396.10" stroke="#000" stroke-width="1.5" />
<line x1="538.90" y1="396.10" x2="541.90" y2="396.10" stroke="#000" stroke-width="1.1" />
<text x="538.30" y="398.40" font-size="7.040000000000001" text-anchor="end" fill="#111"  textLength="3.20" lengthAdjust="spacingAndGlyphs">0</text>
<line x1="538.90" y1="382.90" x2="541.90" y2="382.90" stroke="#000" stroke-width="1.1" />
<text x="538.30" y="385.20" font-size="7.040000000000001" text-anchor="end" fill="#111"  textLength="9.60" lengthAdjust="spacingAndGlyphs">200</text>
<line x1="538.90" y1="369.70" x2="541.90" y2="369.70" stroke="#000" stroke-width="1.1" />
<text x="538.30" y="372.00" font-size="7.040000000000001" text-anchor="end" fill="#111"  textLength="9.60" lengthAdjust="spacingAndGlyphs">400</text>
<line x1="538.90" y1="356.50" x2="541.90" y2="356.50" stroke="#000" stroke-width="1.1" />
<text x="538.30" y="358.80" font-size="7.040000000000001" text-anchor="end" fill="#111"  textLength="9.60" lengthAdjust="spacingAndGlyphs">600</text>
<line x1="555.50" y1="396.10" x2="555.50" y2="399.10" stroke="#000" stroke-width="1.1" />
<text x="555.50" y="405.10" font-size="7.26" text-anchor="middle" fill="#111"  textLength="3.30" lengthAdjust="spacingAndGlyphs">0</text>
<line x1="583.30" y1="396.10" x2="583.30" y2="399.10" stroke="#000" stroke-width="1.1" />
<text x="583.30" y="405.10" font-size="7.26" text-anchor="middle" fill="#111"  textLength="3.30" lengthAdjust="spacingAndGlyphs">1</text>
<line x1="609.60" y1="396.10" x2="609.60" y2="399.10" stroke="#000" stroke-width="1.1" />
<text x="609.60" y="405.10" font-size="7.26" text-anchor="middle" fill="#111"  textLength="3.30" lengthAdjust="spacingAndGlyphs">6</text>
<text x="618.20" y="405.10" font-size="7.26" text-anchor="start" fill="#111"  textLength="8.07" lengthAdjust="spacingAndGlyphs">(h)</text>
<polyline points="555.50,376.96 583.30,359.14 609.60,371.68" fill="none" stroke="#00ee00" stroke-width="1.4"/>
<line x1="555.50" y1="374.46" x2="555.50" y2="379.46" stroke="#00ee00" stroke-width="1.1" />
<line x1="553.20" y1="374.46" x2="557.80" y2="374.46" stroke="#00ee00" stroke-width="1.1" />
<line x1="553.20" y1="379.46" x2="557.80" y2="379.46" stroke="#00ee00" stroke-width="1.1" />
<rect x="553.20" y="374.66" width="4.60" height="4.60" fill="#00ee00"/>
<line x1="583.30" y1="356.64" x2="583.30" y2="361.64" stroke="#00ee00" stroke-width="1.1" />
<line x1="581.00" y1="356.64" x2="585.60" y2="356.64" stroke="#00ee00" stroke-width="1.1" />
<line x1="581.00" y1="361.64" x2="585.60" y2="361.64" stroke="#00ee00" stroke-width="1.1" />
<rect x="581.00" y="356.84" width="4.60" height="4.60" fill="#00ee00"/>
<line x1="609.60" y1="369.18" x2="609.60" y2="374.18" stroke="#00ee00" stroke-width="1.1" />
<line x1="607.30" y1="369.18" x2="611.90" y2="369.18" stroke="#00ee00" stroke-width="1.1" />
<line x1="607.30" y1="374.18" x2="611.90" y2="374.18" stroke="#00ee00" stroke-width="1.1" />
<rect x="607.30" y="369.38" width="4.60" height="4.60" fill="#00ee00"/>
<polyline points="555.50,373.33 583.30,361.12 609.60,367.72" fill="none" stroke="#ff1010" stroke-width="1.4"/>
<line x1="555.50" y1="371.33" x2="555.50" y2="375.33" stroke="#ff1010" stroke-width="1.1" />
<line x1="553.20" y1="371.33" x2="557.80" y2="371.33" stroke="#ff1010" stroke-width="1.1" />
<line x1="553.20" y1="375.33" x2="557.80" y2="375.33" stroke="#ff1010" stroke-width="1.1" />
<path d="M552.97 371.26H558.03L555.50 375.86Z" fill="#ff1010"/>
<line x1="583.30" y1="359.12" x2="583.30" y2="363.12" stroke="#ff1010" stroke-width="1.1" />
<line x1="581.00" y1="359.12" x2="585.60" y2="359.12" stroke="#ff1010" stroke-width="1.1" />
<line x1="581.00" y1="363.12" x2="585.60" y2="363.12" stroke="#ff1010" stroke-width="1.1" />
<path d="M580.77 359.05H585.83L583.30 363.65Z" fill="#ff1010"/>
<line x1="609.60" y1="365.72" x2="609.60" y2="369.72" stroke="#ff1010" stroke-width="1.1" />
<line x1="607.30" y1="365.72" x2="611.90" y2="365.72" stroke="#ff1010" stroke-width="1.1" />
<line x1="607.30" y1="369.72" x2="611.90" y2="369.72" stroke="#ff1010" stroke-width="1.1" />
<path d="M607.07 365.65H612.13L609.60 370.25Z" fill="#ff1010"/>
<text x="523.50" y="376.30" font-size="7.48" text-anchor="middle" fill="#111" transform="rotate(-90 523.50 376.30)" dy="2.4" textLength="28.90" lengthAdjust="spacingAndGlyphs">ROS level</text>
<rect x="634.50" y="348.10" width="5.00" height="5.00" fill="#00ee00"/>
<text x="649.20" y="353.00" font-size="7.700000000000001" text-anchor="start" fill="#111"  textLength="10.11" lengthAdjust="spacingAndGlyphs">AR</text>
<line x1="634.00" y1="360.80" x2="643.00" y2="360.80" stroke="#ff1010" stroke-width="1.4" />
<path d="M635.86 358.64H641.14L638.50 363.44Z" fill="#ff1010"/>
<text x="649.20" y="363.40" font-size="7.700000000000001" text-anchor="start" fill="#111"  textLength="30.82" lengthAdjust="spacingAndGlyphs">IL-23+AR</text>
<text x="0.00" y="422.20" font-size="22" text-anchor="start" fill="#111" >d</text>
<line x1="40.00" y1="436.00" x2="40.00" y2="522.80" stroke="#000" stroke-width="1.5" />
<line x1="39.40" y1="522.20" x2="169.50" y2="522.20" stroke="#000" stroke-width="1.5" />
<line x1="36.50" y1="522.20" x2="40.00" y2="522.20" stroke="#000" stroke-width="1.1" />
<text x="35.60" y="524.50" font-size="7.26" text-anchor="end" fill="#111"  textLength="3.30" lengthAdjust="spacingAndGlyphs">0</text>
<line x1="36.50" y1="493.47" x2="40.00" y2="493.47" stroke="#000" stroke-width="1.1" />
<text x="35.60" y="495.77" font-size="7.26" text-anchor="end" fill="#111"  textLength="16.50" lengthAdjust="spacingAndGlyphs">10000</text>
<line x1="36.50" y1="464.73" x2="40.00" y2="464.73" stroke="#000" stroke-width="1.1" />
<text x="35.60" y="467.03" font-size="7.26" text-anchor="end" fill="#111"  textLength="16.50" lengthAdjust="spacingAndGlyphs">20000</text>
<line x1="36.50" y1="436.00" x2="40.00" y2="436.00" stroke="#000" stroke-width="1.1" />
<text x="35.60" y="438.30" font-size="7.26" text-anchor="end" fill="#111"  textLength="16.50" lengthAdjust="spacingAndGlyphs">30000</text>
<line x1="55.70" y1="522.20" x2="55.70" y2="525.20" stroke="#000" stroke-width="1.1" />
<text x="55.70" y="532.20" font-size="7.040000000000001" text-anchor="middle" fill="#111"  textLength="3.20" lengthAdjust="spacingAndGlyphs">0</text>
<line x1="88.50" y1="522.20" x2="88.50" y2="525.20" stroke="#000" stroke-width="1.1" />
<text x="88.50" y="532.20" font-size="7.040000000000001" text-anchor="middle" fill="#111"  textLength="8.00" lengthAdjust="spacingAndGlyphs">0.5</text>
<line x1="120.30" y1="522.20" x2="120.30" y2="525.20" stroke="#000" stroke-width="1.1" />
<text x="120.30" y="532.20" font-size="7.040000000000001" text-anchor="middle" fill="#111"  textLength="3.20" lengthAdjust="spacingAndGlyphs">2</text>
<line x1="152.40" y1="522.20" x2="152.40" y2="525.20" stroke="#000" stroke-width="1.1" />
<text x="152.40" y="532.20" font-size="7.040000000000001" text-anchor="middle" fill="#111"  textLength="3.20" lengthAdjust="spacingAndGlyphs">4</text>
<text x="162.50" y="532.20" font-size="7.040000000000001" text-anchor="start" fill="#111"  textLength="7.82" lengthAdjust="spacingAndGlyphs">(h)</text>
<polyline points="55.70,492.03 88.50,451.80 120.30,467.03 152.40,487.72" fill="none" stroke="#00ee00" stroke-width="1.4"/>
<line x1="55.70" y1="490.03" x2="55.70" y2="494.03" stroke="#00ee00" stroke-width="1.1" />
<line x1="53.40" y1="490.03" x2="58.00" y2="490.03" stroke="#00ee00" stroke-width="1.1" />
<line x1="53.40" y1="494.03" x2="58.00" y2="494.03" stroke="#00ee00" stroke-width="1.1" />
<rect x="53.30" y="489.63" width="4.80" height="4.80" fill="#00ee00"/>
<line x1="88.50" y1="446.80" x2="88.50" y2="456.80" stroke="#00ee00" stroke-width="1.1" />
<line x1="86.20" y1="446.80" x2="90.80" y2="446.80" stroke="#00ee00" stroke-width="1.1" />
<line x1="86.20" y1="456.80" x2="90.80" y2="456.80" stroke="#00ee00" stroke-width="1.1" />
<rect x="86.10" y="449.40" width="4.80" height="4.80" fill="#00ee00"/>
<line x1="120.30" y1="463.03" x2="120.30" y2="471.03" stroke="#00ee00" stroke-width="1.1" />
<line x1="118.00" y1="463.03" x2="122.60" y2="463.03" stroke="#00ee00" stroke-width="1.1" />
<line x1="118.00" y1="471.03" x2="122.60" y2="471.03" stroke="#00ee00" stroke-width="1.1" />
<rect x="117.90" y="464.63" width="4.80" height="4.80" fill="#00ee00"/>
<line x1="152.40" y1="484.22" x2="152.40" y2="491.22" stroke="#00ee00" stroke-width="1.1" />
<line x1="150.10" y1="484.22" x2="154.70" y2="484.22" stroke="#00ee00" stroke-width="1.1" />
<line x1="150.10" y1="491.22" x2="154.70" y2="491.22" stroke="#00ee00" stroke-width="1.1" />
<rect x="150.00" y="485.32" width="4.80" height="4.80" fill="#00ee00"/>
<polyline points="55.70,497.78 88.50,471.92 120.30,476.80 152.40,493.47" fill="none" stroke="#ff1010" stroke-width="1.4"/>
<line x1="55.70" y1="494.28" x2="55.70" y2="501.28" stroke="#ff1010" stroke-width="1.1" />
<line x1="53.40" y1="494.28" x2="58.00" y2="494.28" stroke="#ff1010" stroke-width="1.1" />
<line x1="53.40" y1="501.28" x2="58.00" y2="501.28" stroke="#ff1010" stroke-width="1.1" />
<path d="M53.06 495.62H58.34L55.70 500.42Z" fill="#ff1010"/>
<line x1="88.50" y1="469.42" x2="88.50" y2="474.42" stroke="#ff1010" stroke-width="1.1" />
<line x1="86.20" y1="469.42" x2="90.80" y2="469.42" stroke="#ff1010" stroke-width="1.1" />
<line x1="86.20" y1="474.42" x2="90.80" y2="474.42" stroke="#ff1010" stroke-width="1.1" />
<path d="M85.86 469.76H91.14L88.50 474.56Z" fill="#ff1010"/>
<line x1="120.30" y1="474.30" x2="120.30" y2="479.30" stroke="#ff1010" stroke-width="1.1" />
<line x1="118.00" y1="474.30" x2="122.60" y2="474.30" stroke="#ff1010" stroke-width="1.1" />
<line x1="118.00" y1="479.30" x2="122.60" y2="479.30" stroke="#ff1010" stroke-width="1.1" />
<path d="M117.66 474.64H122.94L120.30 479.44Z" fill="#ff1010"/>
<line x1="152.40" y1="489.97" x2="152.40" y2="496.97" stroke="#ff1010" stroke-width="1.1" />
<line x1="150.10" y1="489.97" x2="154.70" y2="489.97" stroke="#ff1010" stroke-width="1.1" />
<line x1="150.10" y1="496.97" x2="154.70" y2="496.97" stroke="#ff1010" stroke-width="1.1" />
<path d="M149.76 491.31H155.04L152.40 496.11Z" fill="#ff1010"/>
<text x="13.70" y="479.60" font-size="7.59" text-anchor="middle" fill="#111" transform="rotate(-90 13.70 479.60)" dy="2.4" textLength="47.31" lengthAdjust="spacingAndGlyphs">&#947; H2A x(MESF)</text>
<text x="105.70" y="433.80" font-size="7.70" text-anchor="middle" fill="#111" textLength="30.24" lengthAdjust="spacingAndGlyphs">IL-23R<tspan dy="-3.50" font-size="7.32">+</tspan><tspan dy="3.50">T</tspan></text>
<line x1="99.30" y1="446.00" x2="99.30" y2="476.70" stroke="#2e2424" stroke-width="1.2" />
<line x1="95.70" y1="446.00" x2="102.90" y2="446.00" stroke="#2e2424" stroke-width="1.2" />
<line x1="95.70" y1="476.70" x2="102.90" y2="476.70" stroke="#2e2424" stroke-width="1.2" />
<text x="103.00" y="465.00" font-size="6.5" text-anchor="start" fill="#666"  style="stroke:none">**</text>
<line x1="130.80" y1="462.30" x2="130.80" y2="480.10" stroke="#2e2424" stroke-width="1.2" />
<line x1="127.20" y1="462.30" x2="134.40" y2="462.30" stroke="#2e2424" stroke-width="1.2" />
<line x1="127.20" y1="480.10" x2="134.40" y2="480.10" stroke="#2e2424" stroke-width="1.2" />
<text x="134.40" y="476.00" font-size="6.5" text-anchor="start" fill="#666"  style="stroke:none">*</text>
<line x1="213.00" y1="435.30" x2="213.00" y2="521.50" stroke="#000" stroke-width="1.5" />
<line x1="212.40" y1="520.90" x2="343.00" y2="520.90" stroke="#000" stroke-width="1.5" />
<line x1="209.50" y1="520.90" x2="213.00" y2="520.90" stroke="#000" stroke-width="1.1" />
<text x="208.60" y="523.20" font-size="7.26" text-anchor="end" fill="#111"  textLength="3.30" lengthAdjust="spacingAndGlyphs">0</text>
<line x1="209.50" y1="492.37" x2="213.00" y2="492.37" stroke="#000" stroke-width="1.1" />
<text x="208.60" y="494.67" font-size="7.26" text-anchor="end" fill="#111"  textLength="16.50" lengthAdjust="spacingAndGlyphs">10000</text>
<line x1="209.50" y1="463.83" x2="213.00" y2="463.83" stroke="#000" stroke-width="1.1" />
<text x="208.60" y="466.13" font-size="7.26" text-anchor="end" fill="#111"  textLength="16.50" lengthAdjust="spacingAndGlyphs">20000</text>
<line x1="209.50" y1="435.30" x2="213.00" y2="435.30" stroke="#000" stroke-width="1.1" />
<text x="208.60" y="437.60" font-size="7.26" text-anchor="end" fill="#111"  textLength="16.50" lengthAdjust="spacingAndGlyphs">30000</text>
<line x1="228.80" y1="520.90" x2="228.80" y2="523.90" stroke="#000" stroke-width="1.1" />
<text x="228.80" y="530.90" font-size="7.040000000000001" text-anchor="middle" fill="#111"  textLength="3.20" lengthAdjust="spacingAndGlyphs">0</text>
<line x1="260.70" y1="520.90" x2="260.70" y2="523.90" stroke="#000" stroke-width="1.1" />
<text x="260.70" y="530.90" font-size="7.040000000000001" text-anchor="middle" fill="#111"  textLength="8.00" lengthAdjust="spacingAndGlyphs">0.5</text>
<line x1="293.20" y1="520.90" x2="293.20" y2="523.90" stroke="#000" stroke-width="1.1" />
<text x="293.20" y="530.90" font-size="7.040000000000001" text-anchor="middle" fill="#111"  textLength="3.20" lengthAdjust="spacingAndGlyphs">2</text>
<line x1="325.10" y1="520.90" x2="325.10" y2="523.90" stroke="#000" stroke-width="1.1" />
<text x="325.10" y="530.90" font-size="7.040000000000001" text-anchor="middle" fill="#111"  textLength="3.20" lengthAdjust="spacingAndGlyphs">4</text>
<text x="336.00" y="530.90" font-size="7.040000000000001" text-anchor="start" fill="#111"  textLength="7.82" lengthAdjust="spacingAndGlyphs">(h)</text>
<polyline points="228.80,492.94 260.70,448.71 293.20,456.70 325.10,484.38" fill="none" stroke="#00ee00" stroke-width="1.4"/>
<line x1="228.80" y1="490.94" x2="228.80" y2="494.94" stroke="#00ee00" stroke-width="1.1" />
<line x1="226.50" y1="490.94" x2="231.10" y2="490.94" stroke="#00ee00" stroke-width="1.1" />
<line x1="226.50" y1="494.94" x2="231.10" y2="494.94" stroke="#00ee00" stroke-width="1.1" />
<rect x="226.40" y="490.54" width="4.80" height="4.80" fill="#00ee00"/>
<line x1="260.70" y1="444.71" x2="260.70" y2="452.71" stroke="#00ee00" stroke-width="1.1" />
<line x1="258.40" y1="444.71" x2="263.00" y2="444.71" stroke="#00ee00" stroke-width="1.1" />
<line x1="258.40" y1="452.71" x2="263.00" y2="452.71" stroke="#00ee00" stroke-width="1.1" />
<rect x="258.30" y="446.31" width="4.80" height="4.80" fill="#00ee00"/>
<line x1="293.20" y1="452.70" x2="293.20" y2="460.70" stroke="#00ee00" stroke-width="1.1" />
<line x1="290.90" y1="452.70" x2="295.50" y2="452.70" stroke="#00ee00" stroke-width="1.1" />
<line x1="290.90" y1="460.70" x2="295.50" y2="460.70" stroke="#00ee00" stroke-width="1.1" />
<rect x="290.80" y="454.30" width="4.80" height="4.80" fill="#00ee00"/>
<line x1="325.10" y1="481.38" x2="325.10" y2="487.38" stroke="#00ee00" stroke-width="1.1" />
<line x1="322.80" y1="481.38" x2="327.40" y2="481.38" stroke="#00ee00" stroke-width="1.1" />
<line x1="322.80" y1="487.38" x2="327.40" y2="487.38" stroke="#00ee00" stroke-width="1.1" />
<rect x="322.70" y="481.98" width="4.80" height="4.80" fill="#00ee00"/>
<polyline points="228.80,499.50 260.70,469.54 293.20,473.82 325.10,489.51" fill="none" stroke="#ff1010" stroke-width="1.4"/>
<line x1="228.80" y1="496.50" x2="228.80" y2="502.50" stroke="#ff1010" stroke-width="1.1" />
<line x1="226.50" y1="496.50" x2="231.10" y2="496.50" stroke="#ff1010" stroke-width="1.1" />
<line x1="226.50" y1="502.50" x2="231.10" y2="502.50" stroke="#ff1010" stroke-width="1.1" />
<path d="M226.16 497.34H231.44L228.80 502.14Z" fill="#ff1010"/>
<line x1="260.70" y1="467.04" x2="260.70" y2="472.04" stroke="#ff1010" stroke-width="1.1" />
<line x1="258.40" y1="467.04" x2="263.00" y2="467.04" stroke="#ff1010" stroke-width="1.1" />
<line x1="258.40" y1="472.04" x2="263.00" y2="472.04" stroke="#ff1010" stroke-width="1.1" />
<path d="M258.06 467.38H263.34L260.70 472.18Z" fill="#ff1010"/>
<line x1="293.20" y1="471.82" x2="293.20" y2="475.82" stroke="#ff1010" stroke-width="1.1" />
<line x1="290.90" y1="471.82" x2="295.50" y2="471.82" stroke="#ff1010" stroke-width="1.1" />
<line x1="290.90" y1="475.82" x2="295.50" y2="475.82" stroke="#ff1010" stroke-width="1.1" />
<path d="M290.56 471.66H295.84L293.20 476.46Z" fill="#ff1010"/>
<line x1="325.10" y1="486.51" x2="325.10" y2="492.51" stroke="#ff1010" stroke-width="1.1" />
<line x1="322.80" y1="486.51" x2="327.40" y2="486.51" stroke="#ff1010" stroke-width="1.1" />
<line x1="322.80" y1="492.51" x2="327.40" y2="492.51" stroke="#ff1010" stroke-width="1.1" />
<path d="M322.46 487.35H327.74L325.10 492.15Z" fill="#ff1010"/>
<text x="185.00" y="478.60" font-size="7.59" text-anchor="middle" fill="#111" transform="rotate(-90 185.00 478.60)" dy="2.4" textLength="47.69" lengthAdjust="spacingAndGlyphs">&#947; H2Ax (MESF)</text>
<text x="277.00" y="436.40" font-size="7.70" text-anchor="middle" fill="#111" textLength="30.24" lengthAdjust="spacingAndGlyphs">IL-23R<tspan dy="-3.50" font-size="7.32">+</tspan><tspan dy="3.50">E</tspan></text>
<line x1="270.70" y1="444.30" x2="270.70" y2="472.90" stroke="#2e2424" stroke-width="1.2" />
<line x1="267.10" y1="444.30" x2="274.30" y2="444.30" stroke="#2e2424" stroke-width="1.2" />
<line x1="267.10" y1="472.90" x2="274.30" y2="472.90" stroke="#2e2424" stroke-width="1.2" />
<text x="275.20" y="464.00" font-size="6.5" text-anchor="start" fill="#666"  style="stroke:none">**</text>
<line x1="301.00" y1="450.40" x2="301.00" y2="479.00" stroke="#2e2424" stroke-width="1.2" />
<line x1="297.40" y1="450.40" x2="304.60" y2="450.40" stroke="#2e2424" stroke-width="1.2" />
<line x1="297.40" y1="479.00" x2="304.60" y2="479.00" stroke="#2e2424" stroke-width="1.2" />
<text x="305.00" y="469.60" font-size="6.5" text-anchor="start" fill="#666"  style="stroke:none">**</text>
<rect x="332.70" y="419.20" width="5.20" height="5.20" fill="#00ee00"/>
<line x1="331.00" y1="421.80" x2="339.60" y2="421.80" stroke="#00ee00" stroke-width="1.4" />
<text x="344.00" y="424.30" font-size="7.700000000000001" text-anchor="start" fill="#111"  textLength="10.11" lengthAdjust="spacingAndGlyphs">AR</text>
<line x1="331.00" y1="435.30" x2="339.60" y2="435.30" stroke="#ff1010" stroke-width="1.4" />
<path d="M332.44 432.96H338.16L335.30 438.16Z" fill="#ff1010"/>
<text x="344.00" y="437.80" font-size="7.700000000000001" text-anchor="start" fill="#111"  textLength="30.82" lengthAdjust="spacingAndGlyphs">IL-23+AR</text>
<text x="394.30" y="421.60" font-size="22" text-anchor="start" fill="#111" >e</text>
<clipPath id="bc1"><rect x="422.30" y="424.20" width="106.30" height="11.80"/></clipPath>
<rect x="422.30" y="424.20" width="106.30" height="11.80" fill="#b4b4b4" stroke="none" stroke-width="1" />
<g clip-path="url(#bc1)">
<rect x="422.30" y="424.20" width="106.30" height="11.80" fill="none" stroke="#8c8c8c" stroke-width="3" filter="url(#bv)"/>
<rect x="425.00" y="428.32" width="21.00" height="3.57" rx="1.78" fill="#000" opacity="0.08" filter="url(#bb)"/>
<rect x="427.00" y="429.03" width="17.00" height="2.14" rx="1.07" fill="#000" opacity="0.10" filter="url(#bb)"/>
<rect x="451.50" y="427.64" width="21.00" height="4.93" rx="2.46" fill="#000" opacity="0.68" filter="url(#bb)"/>
<rect x="453.50" y="428.62" width="17.00" height="2.96" rx="1.48" fill="#000" opacity="0.90" filter="url(#bb)"/>
<rect x="478.50" y="428.27" width="21.00" height="3.65" rx="1.83" fill="#000" opacity="0.11" filter="url(#bb)"/>
<rect x="480.50" y="429.00" width="17.00" height="2.19" rx="1.10" fill="#000" opacity="0.15" filter="url(#bb)"/>
<rect x="505.50" y="427.81" width="21.00" height="4.59" rx="2.29" fill="#000" opacity="0.52" filter="url(#bb)"/>
<rect x="507.50" y="428.72" width="17.00" height="2.75" rx="1.38" fill="#000" opacity="0.70" filter="url(#bb)"/>
</g>
<rect x="422.30" y="424.20" width="106.30" height="11.80" fill="none" stroke="#2b1f1f" stroke-width="1.5" />
<text x="532.60" y="430.70" font-size="7.535" text-anchor="start" fill="#111"  textLength="23.00" lengthAdjust="spacingAndGlyphs">p-&#947;H2A</text>
<clipPath id="bc2"><rect x="422.30" y="442.60" width="106.30" height="11.80"/></clipPath>
<rect x="422.30" y="442.60" width="106.30" height="11.80" fill="#c8c8c8" stroke="none" stroke-width="1" />
<g clip-path="url(#bc2)">
<rect x="422.30" y="442.60" width="106.30" height="11.80" fill="none" stroke="#8c8c8c" stroke-width="3" filter="url(#bv)"/>
<rect x="425.00" y="446.21" width="21.00" height="4.59" rx="2.29" fill="#000" opacity="0.52" filter="url(#bb)"/>
<rect x="427.00" y="447.12" width="17.00" height="2.75" rx="1.38" fill="#000" opacity="0.70" filter="url(#bb)"/>
<rect x="451.50" y="445.98" width="21.00" height="5.05" rx="2.52" fill="#000" opacity="0.73" filter="url(#bb)"/>
<rect x="453.50" y="446.99" width="17.00" height="3.03" rx="1.51" fill="#000" opacity="0.97" filter="url(#bb)"/>
<rect x="478.50" y="446.55" width="21.00" height="3.91" rx="1.95" fill="#000" opacity="0.22" filter="url(#bb)"/>
<rect x="480.50" y="447.33" width="17.00" height="2.34" rx="1.17" fill="#000" opacity="0.30" filter="url(#bb)"/>
<rect x="505.50" y="446.08" width="21.00" height="4.84" rx="2.42" fill="#000" opacity="0.64" filter="url(#bb)"/>
<rect x="507.50" y="447.05" width="17.00" height="2.91" rx="1.45" fill="#000" opacity="0.85" filter="url(#bb)"/>
</g>
<rect x="422.30" y="442.60" width="106.30" height="11.80" fill="none" stroke="#2b1f1f" stroke-width="1.5" />
<text x="532.60" y="450.90" font-size="7.535" text-anchor="start" fill="#111"  textLength="32.34" lengthAdjust="spacingAndGlyphs">DNA-PKcs</text>
<clipPath id="bc3"><rect x="422.30" y="462.00" width="106.30" height="12.30"/></clipPath>
<rect x="422.30" y="462.00" width="106.30" height="12.30" fill="#bcbcbc" stroke="none" stroke-width="1" />
<g clip-path="url(#bc3)">
<rect x="422.30" y="462.00" width="106.30" height="12.30" fill="none" stroke="#8c8c8c" stroke-width="3" filter="url(#bv)"/>
<rect x="425.00" y="465.85" width="21.00" height="4.61" rx="2.30" fill="#000" opacity="0.45" filter="url(#bb)"/>
<rect x="427.00" y="466.77" width="17.00" height="2.76" rx="1.38" fill="#000" opacity="0.60" filter="url(#bb)"/>
<rect x="451.50" y="465.63" width="21.00" height="5.05" rx="2.52" fill="#000" opacity="0.64" filter="url(#bb)"/>
<rect x="453.50" y="466.64" width="17.00" height="3.03" rx="1.51" fill="#000" opacity="0.85" filter="url(#bb)"/>
<rect x="478.50" y="466.27" width="21.00" height="3.75" rx="1.88" fill="#000" opacity="0.09" filter="url(#bb)"/>
<rect x="480.50" y="467.02" width="17.00" height="2.25" rx="1.13" fill="#000" opacity="0.12" filter="url(#bb)"/>
<rect x="505.50" y="465.52" width="21.00" height="5.26" rx="2.63" fill="#000" opacity="0.73" filter="url(#bb)"/>
<rect x="507.50" y="466.57" width="17.00" height="3.16" rx="1.58" fill="#000" opacity="0.97" filter="url(#bb)"/>
</g>
<rect x="422.30" y="462.00" width="106.30" height="12.30" fill="none" stroke="#2b1f1f" stroke-width="1.5" />
<text x="532.60" y="470.55" font-size="7.535" text-anchor="start" fill="#111"  textLength="15.99" lengthAdjust="spacingAndGlyphs">Ku70</text>
<clipPath id="bc4"><rect x="422.30" y="482.50" width="106.30" height="11.90"/></clipPath>
<rect x="422.30" y="482.50" width="106.30" height="11.90" fill="#cccccc" stroke="none" stroke-width="1" />
<g clip-path="url(#bc4)">
<rect x="422.30" y="482.50" width="106.30" height="11.90" fill="none" stroke="#8c8c8c" stroke-width="3" filter="url(#bv)"/>
<rect x="425.00" y="486.05" width="21.00" height="4.80" rx="2.40" fill="#000" opacity="0.60" filter="url(#bb)"/>
<rect x="427.00" y="487.01" width="17.00" height="2.88" rx="1.44" fill="#000" opacity="0.80" filter="url(#bb)"/>
<rect x="451.50" y="485.92" width="21.00" height="5.06" rx="2.53" fill="#000" opacity="0.71" filter="url(#bb)"/>
<rect x="453.50" y="486.93" width="17.00" height="3.03" rx="1.52" fill="#000" opacity="0.95" filter="url(#bb)"/>
<rect x="478.50" y="486.05" width="21.00" height="4.80" rx="2.40" fill="#000" opacity="0.60" filter="url(#bb)"/>
<rect x="480.50" y="487.01" width="17.00" height="2.88" rx="1.44" fill="#000" opacity="0.80" filter="url(#bb)"/>
<rect x="505.50" y="485.92" width="21.00" height="5.06" rx="2.53" fill="#000" opacity="0.71" filter="url(#bb)"/>
<rect x="507.50" y="486.93" width="17.00" height="3.03" rx="1.52" fill="#000" opacity="0.95" filter="url(#bb)"/>
</g>
<rect x="422.30" y="482.50" width="106.30" height="11.90" fill="none" stroke="#2b1f1f" stroke-width="1.5" />
<text x="532.60" y="490.85" font-size="7.535" text-anchor="start" fill="#111"  textLength="15.99" lengthAdjust="spacingAndGlyphs">Ku80</text>
<clipPath id="bc5"><rect x="422.30" y="502.70" width="106.30" height="11.70"/></clipPath>
<rect x="422.30" y="502.70" width="106.30" height="11.70" fill="#c8c8c8" stroke="none" stroke-width="1" />
<g clip-path="url(#bc5)">
<rect x="422.30" y="502.70" width="106.30" height="11.70" fill="none" stroke="#8c8c8c" stroke-width="3" filter="url(#bv)"/>
<rect x="425.00" y="506.09" width="21.00" height="4.92" rx="2.46" fill="#000" opacity="0.69" filter="url(#bb)"/>
<rect x="427.00" y="507.07" width="17.00" height="2.95" rx="1.48" fill="#000" opacity="0.92" filter="url(#bb)"/>
<rect x="451.50" y="506.09" width="21.00" height="4.92" rx="2.46" fill="#000" opacity="0.69" filter="url(#bb)"/>
<rect x="453.50" y="507.07" width="17.00" height="2.95" rx="1.48" fill="#000" opacity="0.92" filter="url(#bb)"/>
<rect x="478.50" y="506.09" width="21.00" height="4.92" rx="2.46" fill="#000" opacity="0.69" filter="url(#bb)"/>
<rect x="480.50" y="507.07" width="17.00" height="2.95" rx="1.48" fill="#000" opacity="0.92" filter="url(#bb)"/>
<rect x="505.50" y="506.09" width="21.00" height="4.92" rx="2.46" fill="#000" opacity="0.69" filter="url(#bb)"/>
<rect x="507.50" y="507.07" width="17.00" height="2.95" rx="1.48" fill="#000" opacity="0.92" filter="url(#bb)"/>
</g>
<rect x="422.30" y="502.70" width="106.30" height="11.70" fill="none" stroke="#2b1f1f" stroke-width="1.5" />
<text x="532.60" y="510.95" font-size="7.535" text-anchor="start" fill="#111"  textLength="27.59" lengthAdjust="spacingAndGlyphs">Histone 4</text>
<line x1="433.80" y1="519.50" x2="437.20" y2="519.50" stroke="#444" stroke-width="0.8" />
<line x1="433.80" y1="528.20" x2="437.20" y2="528.20" stroke="#444" stroke-width="0.8" />
<line x1="460.30" y1="519.50" x2="463.70" y2="519.50" stroke="#444" stroke-width="0.8" />
<line x1="459.80" y1="529.80" x2="464.20" y2="529.80" stroke="#222" stroke-width="0.75" />
<line x1="462.00" y1="527.60" x2="462.00" y2="532.00" stroke="#222" stroke-width="0.75" />
<line x1="486.80" y1="521.00" x2="491.20" y2="521.00" stroke="#222" stroke-width="0.75" />
<line x1="489.00" y1="518.80" x2="489.00" y2="523.20" stroke="#222" stroke-width="0.75" />
<line x1="487.30" y1="528.20" x2="490.70" y2="528.20" stroke="#444" stroke-width="0.8" />
<line x1="513.80" y1="521.00" x2="518.20" y2="521.00" stroke="#222" stroke-width="0.75" />
<line x1="516.00" y1="518.80" x2="516.00" y2="523.20" stroke="#222" stroke-width="0.75" />
<line x1="513.80" y1="529.80" x2="518.20" y2="529.80" stroke="#222" stroke-width="0.75" />
<line x1="516.00" y1="527.60" x2="516.00" y2="532.00" stroke="#222" stroke-width="0.75" />
<text x="532.00" y="523.50" font-size="7.48" text-anchor="start" fill="#111"  textLength="16.25" lengthAdjust="spacingAndGlyphs">IL-23</text>
<text x="532.00" y="532.40" font-size="7.48" text-anchor="start" fill="#111"  textLength="9.82" lengthAdjust="spacingAndGlyphs">AR</text>
<text x="0.80" y="552.00" font-size="22" text-anchor="start" fill="#111" >f</text>
<line x1="54.50" y1="572.91" x2="54.50" y2="570.80" stroke="#000" stroke-width="1.2" />
<line x1="48.50" y1="570.80" x2="60.50" y2="570.80" stroke="#000" stroke-width="1.2" />
<rect x="43.30" y="572.91" width="22.40" height="118.89" fill="url(#fine)" stroke="#111" stroke-width="1.5" />
<line x1="78.35" y1="598.94" x2="78.35" y2="593.59" stroke="#000" stroke-width="1.2" />
<line x1="72.35" y1="593.59" x2="84.35" y2="593.59" stroke="#000" stroke-width="1.2" />
<rect x="66.90" y="598.94" width="22.90" height="92.86" fill="url(#chk2)" stroke="#111" stroke-width="1.5" />
<text x="78.35" y="591.59" font-size="6.5" text-anchor="middle" fill="#666"  style="stroke:none">*</text>
<line x1="102.45" y1="592.61" x2="102.45" y2="589.79" stroke="#000" stroke-width="1.2" />
<line x1="96.45" y1="589.79" x2="108.45" y2="589.79" stroke="#000" stroke-width="1.2" />
<rect x="91.00" y="592.61" width="22.90" height="99.19" fill="url(#hstr)" stroke="#111" stroke-width="1.5" />
<text x="102.45" y="587.79" font-size="6.5" text-anchor="middle" fill="#666"  style="stroke:none">*</text>
<line x1="126.25" y1="614.41" x2="126.25" y2="612.02" stroke="#000" stroke-width="1.2" />
<line x1="120.25" y1="612.02" x2="132.25" y2="612.02" stroke="#000" stroke-width="1.2" />
<rect x="115.10" y="614.41" width="22.30" height="77.38" fill="url(#vstr)" stroke="#111" stroke-width="1.5" />
<text x="126.25" y="610.02" font-size="6.5" text-anchor="middle" fill="#666"  style="stroke:none">**</text>
<line x1="161.65" y1="638.33" x2="161.65" y2="634.39" stroke="#000" stroke-width="1.2" />
<line x1="155.65" y1="634.39" x2="167.65" y2="634.39" stroke="#000" stroke-width="1.2" />
<rect x="150.30" y="638.33" width="22.70" height="53.47" fill="url(#fine)" stroke="#111" stroke-width="1.5" />
<line x1="185.45" y1="660.85" x2="185.45" y2="659.16" stroke="#000" stroke-width="1.2" />
<line x1="179.45" y1="659.16" x2="191.45" y2="659.16" stroke="#000" stroke-width="1.2" />
<rect x="174.20" y="660.85" width="22.50" height="30.95" fill="url(#chk2)" stroke="#111" stroke-width="1.5" />
<text x="185.45" y="657.16" font-size="6.5" text-anchor="middle" fill="#666"  style="stroke:none">**</text>
<line x1="209.35" y1="658.03" x2="209.35" y2="655.50" stroke="#000" stroke-width="1.2" />
<line x1="203.35" y1="655.50" x2="215.35" y2="655.50" stroke="#000" stroke-width="1.2" />
<rect x="197.90" y="658.03" width="22.90" height="33.77" fill="url(#hstr)" stroke="#111" stroke-width="1.5" />
<text x="209.35" y="653.50" font-size="6.5" text-anchor="middle" fill="#666"  style="stroke:none">**</text>
<line x1="233.25" y1="674.21" x2="233.25" y2="671.68" stroke="#000" stroke-width="1.2" />
<line x1="227.25" y1="671.68" x2="239.25" y2="671.68" stroke="#000" stroke-width="1.2" />
<rect x="222.00" y="674.21" width="22.50" height="17.59" fill="url(#vstr)" stroke="#111" stroke-width="1.5" />
<text x="233.25" y="669.68" font-size="6.5" text-anchor="middle" fill="#666"  style="stroke:none">**</text>
<line x1="37.20" y1="551.10" x2="37.20" y2="692.40" stroke="#000" stroke-width="1.5" />
<line x1="36.60" y1="691.80" x2="251.70" y2="691.80" stroke="#000" stroke-width="1.5" />
<line x1="34.00" y1="691.80" x2="37.20" y2="691.80" stroke="#000" stroke-width="1.2" />
<text x="31.60" y="694.10" font-size="7.26" text-anchor="end" fill="#111"  textLength="3.30" lengthAdjust="spacingAndGlyphs">0</text>
<line x1="34.00" y1="663.66" x2="37.20" y2="663.66" stroke="#000" stroke-width="1.2" />
<text x="31.60" y="665.96" font-size="7.26" text-anchor="end" fill="#111"  textLength="3.30" lengthAdjust="spacingAndGlyphs">2</text>
<line x1="34.00" y1="635.52" x2="37.20" y2="635.52" stroke="#000" stroke-width="1.2" />
<text x="31.60" y="637.82" font-size="7.26" text-anchor="end" fill="#111"  textLength="3.30" lengthAdjust="spacingAndGlyphs">4</text>
<line x1="34.00" y1="607.38" x2="37.20" y2="607.38" stroke="#000" stroke-width="1.2" />
<text x="31.60" y="609.68" font-size="7.26" text-anchor="end" fill="#111"  textLength="3.30" lengthAdjust="spacingAndGlyphs">6</text>
<line x1="34.00" y1="579.24" x2="37.20" y2="579.24" stroke="#000" stroke-width="1.2" />
<text x="31.60" y="581.54" font-size="7.26" text-anchor="end" fill="#111"  textLength="3.30" lengthAdjust="spacingAndGlyphs">8</text>
<line x1="34.00" y1="551.10" x2="37.20" y2="551.10" stroke="#000" stroke-width="1.2" />
<text x="31.60" y="553.40" font-size="7.26" text-anchor="end" fill="#111"  textLength="6.60" lengthAdjust="spacingAndGlyphs">10</text>
<line x1="90.60" y1="691.80" x2="90.60" y2="696.00" stroke="#000" stroke-width="1.2" />
<line x1="197.30" y1="691.80" x2="197.30" y2="696.00" stroke="#000" stroke-width="1.2" />
<text x="91.80" y="706.20" font-size="8.030000000000001" text-anchor="middle" fill="#111"  textLength="19.68" lengthAdjust="spacingAndGlyphs">3 days</text>
<text x="197.60" y="706.20" font-size="8.030000000000001" text-anchor="middle" fill="#111"  textLength="19.68" lengthAdjust="spacingAndGlyphs">6 days</text>
<text x="19.90" y="626.30" font-size="7.98" text-anchor="middle" fill="#111" transform="rotate(-90 19.90 626.30)" dy="2.4" textLength="54.42" lengthAdjust="spacingAndGlyphs">Fluorescence rate</text>
<rect x="148.60" y="556.80" width="15.60" height="8.00" fill="url(#fine)" stroke="#111" stroke-width="1.5" />
<text x="170.20" y="563.20" font-size="7.700000000000001" text-anchor="start" fill="#111"  textLength="16.72" lengthAdjust="spacingAndGlyphs">IL-23</text>
<rect x="148.60" y="572.70" width="15.60" height="8.20" fill="url(#chk2)" stroke="#111" stroke-width="1.5" />
<text x="170.20" y="579.20" font-size="7.700000000000001" text-anchor="start" fill="#111"  textLength="70.67" lengthAdjust="spacingAndGlyphs">siRNA-&#946;-catenin+IL-23</text>
<rect x="148.60" y="588.30" width="15.60" height="8.70" fill="url(#hstr)" stroke="#111" stroke-width="1.5" />
<text x="170.20" y="595.05" font-size="7.700000000000001" text-anchor="start" fill="#111"  textLength="66.02" lengthAdjust="spacingAndGlyphs">siRNA-Notch 1+IL-23</text>
<rect x="148.60" y="605.20" width="15.60" height="8.50" fill="url(#vstr)" stroke="#111" stroke-width="1.5" />
<text x="170.20" y="611.85" font-size="7.700000000000001" text-anchor="start" fill="#111"  textLength="119.97" lengthAdjust="spacingAndGlyphs">siRNA-&#946;-catenin+siRNA-Notch 1+IL-23</text>
<text x="306.40" y="551.00" font-size="22" text-anchor="start" fill="#111" >g</text>
<clipPath id="bc6"><rect x="323.70" y="553.00" width="62.20" height="11.40"/></clipPath>
<rect x="323.70" y="553.00" width="62.20" height="11.40" fill="#c4c4c4" stroke="none" stroke-width="1" />
<g clip-path="url(#bc6)">
<rect x="323.70" y="553.00" width="62.20" height="11.40" fill="none" stroke="#8c8c8c" stroke-width="3" filter="url(#bv)"/>
<rect x="340.00" y="556.77" width="10.00" height="3.86" rx="1.93" fill="#000" opacity="0.26" filter="url(#bb)"/>
<rect x="342.00" y="557.54" width="6.00" height="2.31" rx="1.16" fill="#000" opacity="0.35" filter="url(#bb)"/>
<rect x="360.00" y="556.28" width="24.00" height="4.84" rx="2.42" fill="#000" opacity="0.71" filter="url(#bb)"/>
<rect x="362.00" y="557.25" width="20.00" height="2.91" rx="1.45" fill="#000" opacity="0.95" filter="url(#bb)"/>
</g>
<rect x="323.70" y="553.00" width="62.20" height="11.40" fill="none" stroke="#2b1f1f" stroke-width="1.5" />
<clipPath id="bc7"><rect x="323.70" y="573.20" width="62.20" height="11.40"/></clipPath>
<rect x="323.70" y="573.20" width="62.20" height="11.40" fill="#c4c4c4" stroke="none" stroke-width="1" />
<g clip-path="url(#bc7)">
<rect x="323.70" y="573.20" width="62.20" height="11.40" fill="none" stroke="#8c8c8c" stroke-width="3" filter="url(#bv)"/>
<rect x="325.00" y="576.44" width="25.00" height="4.92" rx="2.46" fill="#000" opacity="0.75" filter="url(#bb)"/>
<rect x="327.00" y="577.42" width="21.00" height="2.95" rx="1.48" fill="#000" opacity="1.00" filter="url(#bb)"/>
<rect x="358.00" y="576.81" width="26.00" height="4.19" rx="2.09" fill="#000" opacity="0.41" filter="url(#bb)"/>
<rect x="360.00" y="577.64" width="22.00" height="2.51" rx="1.26" fill="#000" opacity="0.55" filter="url(#bb)"/>
</g>
<rect x="323.70" y="573.20" width="62.20" height="11.40" fill="none" stroke="#2b1f1f" stroke-width="1.5" />
<clipPath id="bc8"><rect x="323.70" y="593.40" width="62.20" height="11.10"/></clipPath>
<rect x="323.70" y="593.40" width="62.20" height="11.10" fill="#c4c4c4" stroke="none" stroke-width="1" />
<g clip-path="url(#bc8)">
<rect x="323.70" y="593.40" width="62.20" height="11.10" fill="none" stroke="#8c8c8c" stroke-width="3" filter="url(#bv)"/>
<rect x="324.50" y="596.63" width="28.00" height="4.64" rx="2.32" fill="#000" opacity="0.68" filter="url(#bb)"/>
<rect x="326.50" y="597.56" width="24.00" height="2.78" rx="1.39" fill="#000" opacity="0.90" filter="url(#bb)"/>
<rect x="357.00" y="596.65" width="28.00" height="4.60" rx="2.30" fill="#000" opacity="0.66" filter="url(#bb)"/>
<rect x="359.00" y="597.57" width="24.00" height="2.76" rx="1.38" fill="#000" opacity="0.88" filter="url(#bb)"/>
</g>
<rect x="323.70" y="593.40" width="62.20" height="11.10" fill="none" stroke="#2b1f1f" stroke-width="1.5" />
<clipPath id="bc9"><rect x="323.70" y="613.10" width="62.20" height="11.60"/></clipPath>
<rect x="323.70" y="613.10" width="62.20" height="11.60" fill="#c4c4c4" stroke="none" stroke-width="1" />
<g clip-path="url(#bc9)">
<rect x="323.70" y="613.10" width="62.20" height="11.60" fill="none" stroke="#8c8c8c" stroke-width="3" filter="url(#bv)"/>
<rect x="325.00" y="616.98" width="10.00" height="3.84" rx="1.92" fill="#000" opacity="0.22" filter="url(#bb)"/>
<rect x="327.00" y="617.75" width="6.00" height="2.31" rx="1.15" fill="#000" opacity="0.30" filter="url(#bb)"/>
<rect x="343.50" y="616.60" width="9.00" height="4.59" rx="2.30" fill="#000" opacity="0.56" filter="url(#bb)"/>
<rect x="345.50" y="617.52" width="5.00" height="2.76" rx="1.38" fill="#000" opacity="0.75" filter="url(#bb)"/>
<rect x="360.00" y="616.44" width="24.00" height="4.93" rx="2.46" fill="#000" opacity="0.71" filter="url(#bb)"/>
<rect x="362.00" y="617.42" width="20.00" height="2.96" rx="1.48" fill="#000" opacity="0.95" filter="url(#bb)"/>
</g>
<rect x="323.70" y="613.10" width="62.20" height="11.60" fill="none" stroke="#2b1f1f" stroke-width="1.5" />
<clipPath id="bc10"><rect x="323.70" y="633.00" width="62.20" height="11.40"/></clipPath>
<rect x="323.70" y="633.00" width="62.20" height="11.40" fill="#c4c4c4" stroke="none" stroke-width="1" />
<g clip-path="url(#bc10)">
<rect x="323.70" y="633.00" width="62.20" height="11.40" fill="none" stroke="#8c8c8c" stroke-width="3" filter="url(#bv)"/>
<rect x="325.50" y="636.40" width="25.00" height="4.60" rx="2.30" fill="#000" opacity="0.60" filter="url(#bb)"/>
<rect x="327.50" y="637.32" width="21.00" height="2.76" rx="1.38" fill="#000" opacity="0.80" filter="url(#bb)"/>
<rect x="358.50" y="636.44" width="25.00" height="4.51" rx="2.26" fill="#000" opacity="0.56" filter="url(#bb)"/>
<rect x="360.50" y="637.35" width="21.00" height="2.71" rx="1.35" fill="#000" opacity="0.75" filter="url(#bb)"/>
</g>
<rect x="323.70" y="633.00" width="62.20" height="11.40" fill="none" stroke="#2b1f1f" stroke-width="1.5" />
<clipPath id="bc11"><rect x="323.70" y="652.20" width="62.20" height="11.20"/></clipPath>
<rect x="323.70" y="652.20" width="62.20" height="11.20" fill="#c4c4c4" stroke="none" stroke-width="1" />
<g clip-path="url(#bc11)">
<rect x="323.70" y="652.20" width="62.20" height="11.20" fill="none" stroke="#8c8c8c" stroke-width="3" filter="url(#bv)"/>
<rect x="324.50" y="655.58" width="25.00" height="4.44" rx="2.22" fill="#000" opacity="0.56" filter="url(#bb)"/>
<rect x="326.50" y="656.47" width="21.00" height="2.66" rx="1.33" fill="#000" opacity="0.75" filter="url(#bb)"/>
<rect x="358.50" y="655.62" width="25.00" height="4.35" rx="2.18" fill="#000" opacity="0.52" filter="url(#bb)"/>
<rect x="360.50" y="656.49" width="21.00" height="2.61" rx="1.31" fill="#000" opacity="0.70" filter="url(#bb)"/>
</g>
<rect x="323.70" y="652.20" width="62.20" height="11.20" fill="none" stroke="#2b1f1f" stroke-width="1.5" />
<clipPath id="bc12"><rect x="323.70" y="672.90" width="62.20" height="11.90"/></clipPath>
<rect x="323.70" y="672.90" width="62.20" height="11.90" fill="#c4c4c4" stroke="none" stroke-width="1" />
<g clip-path="url(#bc12)">
<rect x="323.70" y="672.90" width="62.20" height="11.90" fill="none" stroke="#8c8c8c" stroke-width="3" filter="url(#bv)"/>
<rect x="324.00" y="676.28" width="30.00" height="5.14" rx="2.57" fill="#000" opacity="0.75" filter="url(#bb)"/>
<rect x="326.00" y="677.31" width="26.00" height="3.08" rx="1.54" fill="#000" opacity="1.00" filter="url(#bb)"/>
<rect x="355.00" y="676.28" width="30.00" height="5.14" rx="2.57" fill="#000" opacity="0.75" filter="url(#bb)"/>
<rect x="357.00" y="677.31" width="26.00" height="3.08" rx="1.54" fill="#000" opacity="1.00" filter="url(#bb)"/>
</g>
<rect x="323.70" y="672.90" width="62.20" height="11.90" fill="none" stroke="#2b1f1f" stroke-width="1.5" />
<text x="389.0" y="561.6" font-size="7.59" fill="#111" textLength="30.67" lengthAdjust="spacingAndGlyphs">p16<tspan dy="-3.4" font-size="7.59">INK4a</tspan></text>
<text x="389.00" y="580.80" font-size="7.48" text-anchor="start" fill="#111"  textLength="14.74" lengthAdjust="spacingAndGlyphs">p-Rb</text>
<text x="389.00" y="601.70" font-size="7.48" text-anchor="start" fill="#111"  textLength="10.95" lengthAdjust="spacingAndGlyphs">P53</text>
<text x="389.00" y="621.90" font-size="7.48" text-anchor="start" fill="#111"  textLength="10.95" lengthAdjust="spacingAndGlyphs">P21</text>
<text x="389.00" y="641.60" font-size="7.48" text-anchor="start" fill="#111"  textLength="27.01" lengthAdjust="spacingAndGlyphs">cyclin D1</text>
<text x="389.00" y="661.80" font-size="7.48" text-anchor="start" fill="#111"  textLength="27.01" lengthAdjust="spacingAndGlyphs">cyclin D3</text>
<text x="389.00" y="681.20" font-size="7.48" text-anchor="start" fill="#111"  textLength="20.20" lengthAdjust="spacingAndGlyphs">&#946;-actin</text>
<line x1="336.30" y1="691.50" x2="339.70" y2="691.50" stroke="#444" stroke-width="0.8" />
<line x1="365.90" y1="693.50" x2="370.30" y2="693.50" stroke="#222" stroke-width="0.75" />
<line x1="368.10" y1="691.30" x2="368.10" y2="695.70" stroke="#222" stroke-width="0.75" />
<text x="392.50" y="696.00" font-size="7.700000000000001" text-anchor="start" fill="#111"  textLength="16.72" lengthAdjust="spacingAndGlyphs">IL-23</text>
<clipPath id="bc13"><rect x="431.40" y="552.30" width="151.30" height="12.30"/></clipPath>
<rect x="431.40" y="552.30" width="151.30" height="12.30" fill="#d8d8d8" stroke="none" stroke-width="1" />
<g clip-path="url(#bc13)">
<rect x="431.40" y="552.30" width="151.30" height="12.30" fill="none" stroke="#8c8c8c" stroke-width="3" filter="url(#bv)"/>
<rect x="432.50" y="556.46" width="24.00" height="3.99" rx="1.99" fill="#000" opacity="0.19" filter="url(#bb)"/>
<rect x="434.50" y="557.25" width="20.00" height="2.39" rx="1.20" fill="#000" opacity="0.25" filter="url(#bb)"/>
<rect x="463.20" y="555.84" width="24.00" height="5.23" rx="2.61" fill="#000" opacity="0.71" filter="url(#bb)"/>
<rect x="465.20" y="556.88" width="20.00" height="3.14" rx="1.57" fill="#000" opacity="0.95" filter="url(#bb)"/>
<rect x="493.60" y="556.55" width="24.00" height="3.81" rx="1.90" fill="#000" opacity="0.11" filter="url(#bb)"/>
<rect x="495.60" y="557.31" width="20.00" height="2.28" rx="1.14" fill="#000" opacity="0.15" filter="url(#bb)"/>
<rect x="524.20" y="556.40" width="24.00" height="4.11" rx="2.05" fill="#000" opacity="0.24" filter="url(#bb)"/>
<rect x="526.20" y="557.22" width="20.00" height="2.47" rx="1.23" fill="#000" opacity="0.32" filter="url(#bb)"/>
<rect x="555.50" y="556.48" width="24.00" height="3.93" rx="1.97" fill="#000" opacity="0.17" filter="url(#bb)"/>
<rect x="557.50" y="557.27" width="20.00" height="2.36" rx="1.18" fill="#000" opacity="0.22" filter="url(#bb)"/>
</g>
<rect x="431.40" y="552.30" width="151.30" height="12.30" fill="none" stroke="#2b1f1f" stroke-width="1.5" />
<text x="587.40" y="560.85" font-size="7.48" text-anchor="start" fill="#111"  textLength="17.37" lengthAdjust="spacingAndGlyphs">c-myc</text>
<clipPath id="bc14"><rect x="431.40" y="567.60" width="151.30" height="12.40"/></clipPath>
<rect x="431.40" y="567.60" width="151.30" height="12.40" fill="#c8c8c8" stroke="none" stroke-width="1" />
<g clip-path="url(#bc14)">
<rect x="431.40" y="567.60" width="151.30" height="12.40" fill="none" stroke="#8c8c8c" stroke-width="3" filter="url(#bv)"/>
<rect x="432.50" y="571.75" width="24.00" height="4.11" rx="2.05" fill="#000" opacity="0.22" filter="url(#bb)"/>
<rect x="434.50" y="572.57" width="20.00" height="2.46" rx="1.23" fill="#000" opacity="0.30" filter="url(#bb)"/>
<rect x="463.20" y="571.19" width="24.00" height="5.21" rx="2.61" fill="#000" opacity="0.69" filter="url(#bb)"/>
<rect x="465.20" y="572.24" width="20.00" height="3.13" rx="1.56" fill="#000" opacity="0.92" filter="url(#bb)"/>
<rect x="493.60" y="571.75" width="24.00" height="4.11" rx="2.05" fill="#000" opacity="0.22" filter="url(#bb)"/>
<rect x="495.60" y="572.57" width="20.00" height="2.46" rx="1.23" fill="#000" opacity="0.30" filter="url(#bb)"/>
<rect x="524.20" y="571.26" width="24.00" height="5.09" rx="2.54" fill="#000" opacity="0.64" filter="url(#bb)"/>
<rect x="526.20" y="572.27" width="20.00" height="3.05" rx="1.53" fill="#000" opacity="0.85" filter="url(#bb)"/>
<rect x="555.50" y="571.84" width="24.00" height="3.93" rx="1.96" fill="#000" opacity="0.15" filter="url(#bb)"/>
<rect x="557.50" y="572.62" width="20.00" height="2.36" rx="1.18" fill="#000" opacity="0.20" filter="url(#bb)"/>
</g>
<rect x="431.40" y="567.60" width="151.30" height="12.40" fill="none" stroke="#2b1f1f" stroke-width="1.5" />
<text x="587.40" y="576.20" font-size="7.48" text-anchor="start" fill="#111"  textLength="10.95" lengthAdjust="spacingAndGlyphs">P21</text>
<clipPath id="bc15"><rect x="431.40" y="583.10" width="151.30" height="12.40"/></clipPath>
<rect x="431.40" y="583.10" width="151.30" height="12.40" fill="#c8c8c8" stroke="none" stroke-width="1" />
<g clip-path="url(#bc15)">
<rect x="431.40" y="583.10" width="151.30" height="12.40" fill="none" stroke="#8c8c8c" stroke-width="3" filter="url(#bv)"/>
<rect x="432.50" y="586.80" width="24.00" height="5.00" rx="2.50" fill="#000" opacity="0.60" filter="url(#bb)"/>
<rect x="434.50" y="587.80" width="20.00" height="3.00" rx="1.50" fill="#000" opacity="0.80" filter="url(#bb)"/>
<rect x="463.20" y="587.02" width="24.00" height="4.55" rx="2.28" fill="#000" opacity="0.41" filter="url(#bb)"/>
<rect x="465.20" y="587.93" width="20.00" height="2.73" rx="1.37" fill="#000" opacity="0.55" filter="url(#bb)"/>
<rect x="493.60" y="586.76" width="24.00" height="5.09" rx="2.54" fill="#000" opacity="0.64" filter="url(#bb)"/>
<rect x="495.60" y="587.77" width="20.00" height="3.05" rx="1.53" fill="#000" opacity="0.85" filter="url(#bb)"/>
<rect x="524.20" y="586.98" width="24.00" height="4.64" rx="2.32" fill="#000" opacity="0.45" filter="url(#bb)"/>
<rect x="526.20" y="587.91" width="20.00" height="2.79" rx="1.39" fill="#000" opacity="0.60" filter="url(#bb)"/>
<rect x="555.50" y="586.71" width="24.00" height="5.18" rx="2.59" fill="#000" opacity="0.68" filter="url(#bb)"/>
<rect x="557.50" y="587.75" width="20.00" height="3.11" rx="1.55" fill="#000" opacity="0.90" filter="url(#bb)"/>
</g>
<rect x="431.40" y="583.10" width="151.30" height="12.40" fill="none" stroke="#2b1f1f" stroke-width="1.5" />
<text x="587.40" y="591.70" font-size="7.48" text-anchor="start" fill="#111"  textLength="15.87" lengthAdjust="spacingAndGlyphs">Cdk2</text>
<clipPath id="bc16"><rect x="431.40" y="598.30" width="151.30" height="13.40"/></clipPath>
<rect x="431.40" y="598.30" width="151.30" height="13.40" fill="#cccccc" stroke="none" stroke-width="1" />
<g clip-path="url(#bc16)">
<rect x="431.40" y="598.30" width="151.30" height="13.40" fill="none" stroke="#8c8c8c" stroke-width="3" filter="url(#bv)"/>
<rect x="432.50" y="602.67" width="24.00" height="4.67" rx="2.33" fill="#000" opacity="0.32" filter="url(#bb)"/>
<rect x="434.50" y="603.60" width="20.00" height="2.80" rx="1.40" fill="#000" opacity="0.42" filter="url(#bb)"/>
<rect x="463.20" y="602.20" width="24.00" height="5.60" rx="2.80" fill="#000" opacity="0.68" filter="url(#bb)"/>
<rect x="465.20" y="603.32" width="20.00" height="3.36" rx="1.68" fill="#000" opacity="0.90" filter="url(#bb)"/>
<rect x="493.60" y="602.35" width="24.00" height="5.31" rx="2.65" fill="#000" opacity="0.56" filter="url(#bb)"/>
<rect x="495.60" y="603.41" width="20.00" height="3.18" rx="1.59" fill="#000" opacity="0.75" filter="url(#bb)"/>
<rect x="524.20" y="602.73" width="24.00" height="4.53" rx="2.27" fill="#000" opacity="0.26" filter="url(#bb)"/>
<rect x="526.20" y="603.64" width="20.00" height="2.72" rx="1.36" fill="#000" opacity="0.35" filter="url(#bb)"/>
<rect x="555.50" y="602.70" width="24.00" height="4.59" rx="2.30" fill="#000" opacity="0.29" filter="url(#bb)"/>
<rect x="557.50" y="603.62" width="20.00" height="2.76" rx="1.38" fill="#000" opacity="0.38" filter="url(#bb)"/>
</g>
<rect x="431.40" y="598.30" width="151.30" height="13.40" fill="none" stroke="#2b1f1f" stroke-width="1.5" />
<clipPath id="bc17"><rect x="431.40" y="614.40" width="151.30" height="12.90"/></clipPath>
<rect x="431.40" y="614.40" width="151.30" height="12.90" fill="#cccccc" stroke="none" stroke-width="1" />
<g clip-path="url(#bc17)">
<rect x="431.40" y="614.40" width="151.30" height="12.90" fill="none" stroke="#8c8c8c" stroke-width="3" filter="url(#bv)"/>
<rect x="432.50" y="618.20" width="24.00" height="5.29" rx="2.65" fill="#000" opacity="0.64" filter="url(#bb)"/>
<rect x="434.50" y="619.26" width="20.00" height="3.18" rx="1.59" fill="#000" opacity="0.85" filter="url(#bb)"/>
<rect x="463.20" y="618.85" width="24.00" height="3.99" rx="2.00" fill="#000" opacity="0.11" filter="url(#bb)"/>
<rect x="465.20" y="619.65" width="20.00" height="2.40" rx="1.20" fill="#000" opacity="0.15" filter="url(#bb)"/>
<rect x="493.60" y="618.90" width="24.00" height="3.90" rx="1.95" fill="#000" opacity="0.08" filter="url(#bb)"/>
<rect x="495.60" y="619.68" width="20.00" height="2.34" rx="1.17" fill="#000" opacity="0.10" filter="url(#bb)"/>
<rect x="524.20" y="618.20" width="24.00" height="5.29" rx="2.65" fill="#000" opacity="0.64" filter="url(#bb)"/>
<rect x="526.20" y="619.26" width="20.00" height="3.18" rx="1.59" fill="#000" opacity="0.85" filter="url(#bb)"/>
<rect x="555.50" y="618.25" width="24.00" height="5.20" rx="2.60" fill="#000" opacity="0.60" filter="url(#bb)"/>
<rect x="557.50" y="619.29" width="20.00" height="3.12" rx="1.56" fill="#000" opacity="0.80" filter="url(#bb)"/>
</g>
<rect x="431.40" y="614.40" width="151.30" height="12.90" fill="none" stroke="#2b1f1f" stroke-width="1.5" />
<text x="587.40" y="623.25" font-size="7.48" text-anchor="start" fill="#111"  textLength="15.87" lengthAdjust="spacingAndGlyphs">Cdk4</text>
<clipPath id="bc18"><rect x="431.40" y="629.60" width="151.30" height="12.80"/></clipPath>
<rect x="431.40" y="629.60" width="151.30" height="12.80" fill="#cccccc" stroke="none" stroke-width="1" />
<g clip-path="url(#bc18)">
<rect x="431.40" y="629.60" width="151.30" height="12.80" fill="none" stroke="#8c8c8c" stroke-width="3" filter="url(#bv)"/>
<rect x="432.50" y="633.33" width="24.00" height="5.35" rx="2.67" fill="#000" opacity="0.68" filter="url(#bb)"/>
<rect x="434.50" y="634.40" width="20.00" height="3.21" rx="1.60" fill="#000" opacity="0.90" filter="url(#bb)"/>
<rect x="524.20" y="633.42" width="24.00" height="5.16" rx="2.58" fill="#000" opacity="0.60" filter="url(#bb)"/>
<rect x="526.20" y="634.45" width="20.00" height="3.10" rx="1.55" fill="#000" opacity="0.80" filter="url(#bb)"/>
<rect x="555.50" y="633.47" width="24.00" height="5.07" rx="2.53" fill="#000" opacity="0.56" filter="url(#bb)"/>
<rect x="557.50" y="634.48" width="20.00" height="3.04" rx="1.52" fill="#000" opacity="0.75" filter="url(#bb)"/>
</g>
<rect x="431.40" y="629.60" width="151.30" height="12.80" fill="none" stroke="#2b1f1f" stroke-width="1.5" />
<text x="587.40" y="638.40" font-size="7.48" text-anchor="start" fill="#111"  textLength="15.87" lengthAdjust="spacingAndGlyphs">Cdk6</text>
<clipPath id="bc19"><rect x="431.40" y="645.30" width="151.30" height="12.00"/></clipPath>
<rect x="431.40" y="645.30" width="151.30" height="12.00" fill="#c8c8c8" stroke="none" stroke-width="1" />
<g clip-path="url(#bc19)">
<rect x="431.40" y="645.30" width="151.30" height="12.00" fill="none" stroke="#8c8c8c" stroke-width="3" filter="url(#bv)"/>
<rect x="432.50" y="649.36" width="24.00" height="3.89" rx="1.94" fill="#000" opacity="0.19" filter="url(#bb)"/>
<rect x="434.50" y="650.13" width="20.00" height="2.33" rx="1.17" fill="#000" opacity="0.25" filter="url(#bb)"/>
<rect x="463.20" y="648.79" width="24.00" height="5.01" rx="2.51" fill="#000" opacity="0.68" filter="url(#bb)"/>
<rect x="465.20" y="649.80" width="20.00" height="3.01" rx="1.50" fill="#000" opacity="0.90" filter="url(#bb)"/>
<rect x="493.60" y="648.79" width="24.00" height="5.01" rx="2.51" fill="#000" opacity="0.68" filter="url(#bb)"/>
<rect x="495.60" y="649.80" width="20.00" height="3.01" rx="1.50" fill="#000" opacity="0.90" filter="url(#bb)"/>
<rect x="524.20" y="649.40" width="24.00" height="3.80" rx="1.90" fill="#000" opacity="0.15" filter="url(#bb)"/>
<rect x="526.20" y="650.16" width="20.00" height="2.28" rx="1.14" fill="#000" opacity="0.20" filter="url(#bb)"/>
<rect x="555.50" y="649.05" width="24.00" height="4.49" rx="2.25" fill="#000" opacity="0.45" filter="url(#bb)"/>
<rect x="557.50" y="649.95" width="20.00" height="2.70" rx="1.35" fill="#000" opacity="0.60" filter="url(#bb)"/>
</g>
<rect x="431.40" y="645.30" width="151.30" height="12.00" fill="none" stroke="#2b1f1f" stroke-width="1.5" />
<text x="587.40" y="653.70" font-size="7.48" text-anchor="start" fill="#111"  textLength="16.62" lengthAdjust="spacingAndGlyphs">Hes-1</text>
<clipPath id="bc20"><rect x="431.40" y="660.20" width="151.30" height="12.30"/></clipPath>
<rect x="431.40" y="660.20" width="151.30" height="12.30" fill="#c8c8c8" stroke="none" stroke-width="1" />
<g clip-path="url(#bc20)">
<rect x="431.40" y="660.20" width="151.30" height="12.30" fill="none" stroke="#8c8c8c" stroke-width="3" filter="url(#bv)"/>
<rect x="432.50" y="663.83" width="24.00" height="5.05" rx="2.52" fill="#000" opacity="0.64" filter="url(#bb)"/>
<rect x="434.50" y="664.84" width="20.00" height="3.03" rx="1.51" fill="#000" opacity="0.85" filter="url(#bb)"/>
<rect x="463.20" y="663.83" width="24.00" height="5.05" rx="2.52" fill="#000" opacity="0.64" filter="url(#bb)"/>
<rect x="465.20" y="664.84" width="20.00" height="3.03" rx="1.51" fill="#000" opacity="0.85" filter="url(#bb)"/>
<rect x="493.60" y="663.83" width="24.00" height="5.05" rx="2.52" fill="#000" opacity="0.64" filter="url(#bb)"/>
<rect x="495.60" y="664.84" width="20.00" height="3.03" rx="1.51" fill="#000" opacity="0.85" filter="url(#bb)"/>
<rect x="524.20" y="663.83" width="24.00" height="5.05" rx="2.52" fill="#000" opacity="0.64" filter="url(#bb)"/>
<rect x="526.20" y="664.84" width="20.00" height="3.03" rx="1.51" fill="#000" opacity="0.85" filter="url(#bb)"/>
<rect x="555.50" y="663.83" width="24.00" height="5.05" rx="2.52" fill="#000" opacity="0.64" filter="url(#bb)"/>
<rect x="557.50" y="664.84" width="20.00" height="3.03" rx="1.51" fill="#000" opacity="0.85" filter="url(#bb)"/>
</g>
<rect x="431.40" y="660.20" width="151.30" height="12.30" fill="none" stroke="#2b1f1f" stroke-width="1.5" />
<text x="587.40" y="668.75" font-size="7.48" text-anchor="start" fill="#111"  textLength="20.20" lengthAdjust="spacingAndGlyphs">&#946;-actin</text>
<text x="587.4" y="607.6" font-size="7.59" fill="#111" textLength="30.67" lengthAdjust="spacingAndGlyphs">p16<tspan dy="-3.4" font-size="7.59">INK4a</tspan></text>
<line x1="442.80" y1="676.90" x2="446.20" y2="676.90" stroke="#444" stroke-width="0.8" />
<line x1="473.50" y1="676.90" x2="476.90" y2="676.90" stroke="#444" stroke-width="0.8" />
<line x1="503.90" y1="676.90" x2="507.30" y2="676.90" stroke="#444" stroke-width="0.8" />
<line x1="534.00" y1="678.40" x2="538.40" y2="678.40" stroke="#222" stroke-width="0.75" />
<line x1="536.20" y1="676.20" x2="536.20" y2="680.60" stroke="#222" stroke-width="0.75" />
<line x1="565.30" y1="678.40" x2="569.70" y2="678.40" stroke="#222" stroke-width="0.75" />
<line x1="567.50" y1="676.20" x2="567.50" y2="680.60" stroke="#222" stroke-width="0.75" />
<line x1="442.80" y1="686.30" x2="446.20" y2="686.30" stroke="#444" stroke-width="0.8" />
<line x1="473.50" y1="686.30" x2="476.90" y2="686.30" stroke="#444" stroke-width="0.8" />
<line x1="503.40" y1="687.80" x2="507.80" y2="687.80" stroke="#222" stroke-width="0.75" />
<line x1="505.60" y1="685.60" x2="505.60" y2="690.00" stroke="#222" stroke-width="0.75" />
<line x1="534.50" y1="686.30" x2="537.90" y2="686.30" stroke="#444" stroke-width="0.8" />
<line x1="565.30" y1="687.80" x2="569.70" y2="687.80" stroke="#222" stroke-width="0.75" />
<line x1="567.50" y1="685.60" x2="567.50" y2="690.00" stroke="#222" stroke-width="0.75" />
<line x1="442.80" y1="695.00" x2="446.20" y2="695.00" stroke="#444" stroke-width="0.8" />
<line x1="473.00" y1="696.50" x2="477.40" y2="696.50" stroke="#222" stroke-width="0.75" />
<line x1="475.20" y1="694.30" x2="475.20" y2="698.70" stroke="#222" stroke-width="0.75" />
<line x1="503.40" y1="696.50" x2="507.80" y2="696.50" stroke="#222" stroke-width="0.75" />
<line x1="505.60" y1="694.30" x2="505.60" y2="698.70" stroke="#222" stroke-width="0.75" />
<line x1="534.00" y1="696.50" x2="538.40" y2="696.50" stroke="#222" stroke-width="0.75" />
<line x1="536.20" y1="694.30" x2="536.20" y2="698.70" stroke="#222" stroke-width="0.75" />
<line x1="565.30" y1="696.50" x2="569.70" y2="696.50" stroke="#222" stroke-width="0.75" />
<line x1="567.50" y1="694.30" x2="567.50" y2="698.70" stroke="#222" stroke-width="0.75" />
<text x="593.80" y="680.80" font-size="7.48" text-anchor="start" fill="#111"  textLength="18.51" lengthAdjust="spacingAndGlyphs">DAPT</text>
<text x="593.80" y="690.20" font-size="7.48" text-anchor="start" fill="#111"  textLength="25.31" lengthAdjust="spacingAndGlyphs">ICG-001</text>
<text x="593.80" y="699.00" font-size="7.48" text-anchor="start" fill="#111"  textLength="16.25" lengthAdjust="spacingAndGlyphs">IL-23</text>
</svg></body></html>
